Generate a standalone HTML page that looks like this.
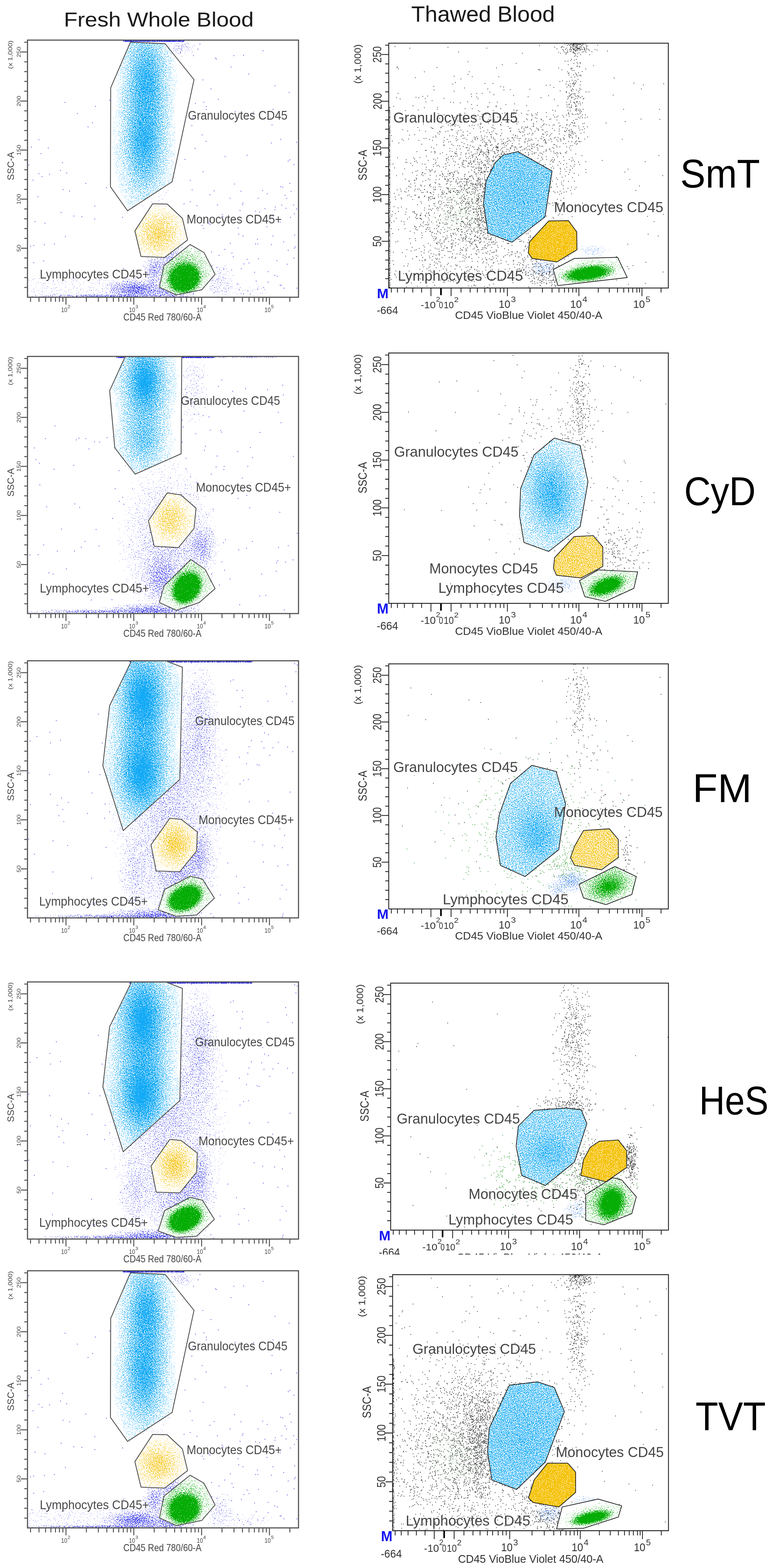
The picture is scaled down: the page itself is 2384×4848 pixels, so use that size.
<!DOCTYPE html><html><head><meta charset="utf-8"><title>Flow cytometry CD45 gating</title><style>html,body{margin:0;padding:0;background:#fff;width:2384px;height:4848px;overflow:hidden}svg{display:block}</style></head><body><svg width="2384" height="4848" viewBox="0 0 2384 4848" font-family="'Liberation Sans', Arial, sans-serif"><defs><radialGradient id="gg"><stop offset="0.00" stop-opacity="1.000"/><stop offset="0.10" stop-opacity="0.967"/><stop offset="0.20" stop-opacity="0.874"/><stop offset="0.30" stop-opacity="0.738"/><stop offset="0.40" stop-opacity="0.582"/><stop offset="0.50" stop-opacity="0.430"/><stop offset="0.60" stop-opacity="0.296"/><stop offset="0.70" stop-opacity="0.191"/><stop offset="0.80" stop-opacity="0.115"/><stop offset="0.90" stop-opacity="0.065"/><stop offset="1" stop-opacity="0"/></radialGradient><radialGradient id="gf"><stop offset="0" stop-opacity="1"/><stop offset="0.55" stop-opacity="1"/><stop offset="0.8" stop-opacity="0.45"/><stop offset="1" stop-opacity="0"/></radialGradient><radialGradient id="gs"><stop offset="0" stop-opacity="1"/><stop offset="0.7" stop-opacity="0.95"/><stop offset="0.85" stop-opacity="0.35"/><stop offset="1" stop-opacity="0"/></radialGradient><filter id="fcy" color-interpolation-filters="sRGB" x="-5%" y="-5%" width="110%" height="110%"><feTurbulence type="fractalNoise" baseFrequency="0.45 0.41" numOctaves="1" seed="11"/><feComponentTransfer><feFuncR type="table" tableValues="0 0 0 0 0 0 0 0.0001 0.0004 0.0014 0.0039 0.0125 0.0281 0.0512 0.0883 0.1274 0.1831 0.2411 0.3139 0.4138 0.4953 0.5905 0.6899 0.7621 0.8260 0.8706 0.9094 0.9452 0.9692 0.9857 0.9954 0.9982 0.9995 0.9999 1 1 1 1 1 1 1"/></feComponentTransfer><feColorMatrix type="matrix" values="0 0 0 0 0 0 0 0 0 0 0 0 0 0 0 1 0 0 0 0" result="na"/><feComposite in="SourceAlpha" in2="na" operator="arithmetic" k2="50" k3="-50" k4="0.3" result="t"/><feComponentTransfer in="t" result="th"><feFuncA type="discrete" tableValues="0 1"/></feComponentTransfer><feFlood flood-color="#14aaf5"/><feComposite operator="in" in2="th"/><feGaussianBlur stdDeviation="0.5"/></filter><filter id="fgo" color-interpolation-filters="sRGB" x="-5%" y="-5%" width="110%" height="110%"><feTurbulence type="fractalNoise" baseFrequency="0.45 0.41" numOctaves="1" seed="23"/><feComponentTransfer><feFuncR type="table" tableValues="0 0 0 0 0 0 0 0.0001 0.0004 0.0014 0.0039 0.0125 0.0281 0.0512 0.0883 0.1274 0.1831 0.2411 0.3139 0.4138 0.4953 0.5905 0.6899 0.7621 0.8260 0.8706 0.9094 0.9452 0.9692 0.9857 0.9954 0.9982 0.9995 0.9999 1 1 1 1 1 1 1"/></feComponentTransfer><feColorMatrix type="matrix" values="0 0 0 0 0 0 0 0 0 0 0 0 0 0 0 1 0 0 0 0" result="na"/><feComposite in="SourceAlpha" in2="na" operator="arithmetic" k2="50" k3="-50" k4="0.3" result="t"/><feComponentTransfer in="t" result="th"><feFuncA type="discrete" tableValues="0 1"/></feComponentTransfer><feFlood flood-color="#f4c000"/><feComposite operator="in" in2="th"/><feGaussianBlur stdDeviation="0.5"/></filter><filter id="fgr" color-interpolation-filters="sRGB" x="-5%" y="-5%" width="110%" height="110%"><feTurbulence type="fractalNoise" baseFrequency="0.45 0.41" numOctaves="1" seed="37"/><feComponentTransfer><feFuncR type="table" tableValues="0 0 0 0 0 0 0 0.0001 0.0004 0.0014 0.0039 0.0125 0.0281 0.0512 0.0883 0.1274 0.1831 0.2411 0.3139 0.4138 0.4953 0.5905 0.6899 0.7621 0.8260 0.8706 0.9094 0.9452 0.9692 0.9857 0.9954 0.9982 0.9995 0.9999 1 1 1 1 1 1 1"/></feComponentTransfer><feColorMatrix type="matrix" values="0 0 0 0 0 0 0 0 0 0 0 0 0 0 0 1 0 0 0 0" result="na"/><feComposite in="SourceAlpha" in2="na" operator="arithmetic" k2="50" k3="-50" k4="0.3" result="t"/><feComponentTransfer in="t" result="th"><feFuncA type="discrete" tableValues="0 1"/></feComponentTransfer><feFlood flood-color="#05ad05"/><feComposite operator="in" in2="th"/><feGaussianBlur stdDeviation="0.5"/></filter><filter id="fbl" color-interpolation-filters="sRGB" x="-5%" y="-5%" width="110%" height="110%"><feTurbulence type="fractalNoise" baseFrequency="0.45 0.41" numOctaves="1" seed="41"/><feComponentTransfer><feFuncR type="table" tableValues="0 0 0 0 0 0 0 0.0001 0.0004 0.0014 0.0039 0.0125 0.0281 0.0512 0.0883 0.1274 0.1831 0.2411 0.3139 0.4138 0.4953 0.5905 0.6899 0.7621 0.8260 0.8706 0.9094 0.9452 0.9692 0.9857 0.9954 0.9982 0.9995 0.9999 1 1 1 1 1 1 1"/></feComponentTransfer><feColorMatrix type="matrix" values="0 0 0 0 0 0 0 0 0 0 0 0 0 0 0 1 0 0 0 0" result="na"/><feComposite in="SourceAlpha" in2="na" operator="arithmetic" k2="50" k3="-50" k4="0.3" result="t"/><feComponentTransfer in="t" result="th"><feFuncA type="discrete" tableValues="0 1"/></feComponentTransfer><feFlood flood-color="#2222e8"/><feComposite operator="in" in2="th"/><feGaussianBlur stdDeviation="0.5"/></filter><filter id="fbk" color-interpolation-filters="sRGB" x="-5%" y="-5%" width="110%" height="110%"><feTurbulence type="fractalNoise" baseFrequency="0.45 0.41" numOctaves="1" seed="53"/><feComponentTransfer><feFuncR type="table" tableValues="0 0 0 0 0 0 0 0.0001 0.0004 0.0014 0.0039 0.0125 0.0281 0.0512 0.0883 0.1274 0.1831 0.2411 0.3139 0.4138 0.4953 0.5905 0.6899 0.7621 0.8260 0.8706 0.9094 0.9452 0.9692 0.9857 0.9954 0.9982 0.9995 0.9999 1 1 1 1 1 1 1"/></feComponentTransfer><feColorMatrix type="matrix" values="0 0 0 0 0 0 0 0 0 0 0 0 0 0 0 1 0 0 0 0" result="na"/><feComposite in="SourceAlpha" in2="na" operator="arithmetic" k2="50" k3="-50" k4="0.3" result="t"/><feComponentTransfer in="t" result="th"><feFuncA type="discrete" tableValues="0 1"/></feComponentTransfer><feFlood flood-color="#1a1a1a"/><feComposite operator="in" in2="th"/><feGaussianBlur stdDeviation="0.5"/></filter><filter id="flb" color-interpolation-filters="sRGB" x="-5%" y="-5%" width="110%" height="110%"><feTurbulence type="fractalNoise" baseFrequency="0.45 0.41" numOctaves="1" seed="67"/><feComponentTransfer><feFuncR type="table" tableValues="0 0 0 0 0 0 0 0.0001 0.0004 0.0014 0.0039 0.0125 0.0281 0.0512 0.0883 0.1274 0.1831 0.2411 0.3139 0.4138 0.4953 0.5905 0.6899 0.7621 0.8260 0.8706 0.9094 0.9452 0.9692 0.9857 0.9954 0.9982 0.9995 0.9999 1 1 1 1 1 1 1"/></feComponentTransfer><feColorMatrix type="matrix" values="0 0 0 0 0 0 0 0 0 0 0 0 0 0 0 1 0 0 0 0" result="na"/><feComposite in="SourceAlpha" in2="na" operator="arithmetic" k2="50" k3="-50" k4="0.3" result="t"/><feComponentTransfer in="t" result="th"><feFuncA type="discrete" tableValues="0 1"/></feComponentTransfer><feFlood flood-color="#3a7ff0"/><feComposite operator="in" in2="th"/><feGaussianBlur stdDeviation="0.5"/></filter><filter id="fdg" color-interpolation-filters="sRGB" x="-5%" y="-5%" width="110%" height="110%"><feTurbulence type="fractalNoise" baseFrequency="0.45 0.41" numOctaves="1" seed="71"/><feComponentTransfer><feFuncR type="table" tableValues="0 0 0 0 0 0 0 0.0001 0.0004 0.0014 0.0039 0.0125 0.0281 0.0512 0.0883 0.1274 0.1831 0.2411 0.3139 0.4138 0.4953 0.5905 0.6899 0.7621 0.8260 0.8706 0.9094 0.9452 0.9692 0.9857 0.9954 0.9982 0.9995 0.9999 1 1 1 1 1 1 1"/></feComponentTransfer><feColorMatrix type="matrix" values="0 0 0 0 0 0 0 0 0 0 0 0 0 0 0 1 0 0 0 0" result="na"/><feComposite in="SourceAlpha" in2="na" operator="arithmetic" k2="50" k3="-50" k4="0.3" result="t"/><feComponentTransfer in="t" result="th"><feFuncA type="discrete" tableValues="0 1"/></feComponentTransfer><feFlood flood-color="#2a9a2a"/><feComposite operator="in" in2="th"/><feGaussianBlur stdDeviation="0.5"/></filter><clipPath id="L0F"><rect x="85" y="124" width="838" height="795"/></clipPath><clipPath id="L0g"><polygon points="403.4,130.1 510.7,135.2 599.9,246.3 532.2,562 394.5,651.7 341.5,577.2 342.2,271.6"/></clipPath><clipPath id="L0m"><polygon points="472,630 517,631 564,675 580,742 509,796 436,793 417,714"/></clipPath><clipPath id="L0l"><polygon points="588,756 631,781 665,848 624,896 545,912 493,888 507,821"/></clipPath><mask id="L0M" maskUnits="userSpaceOnUse" x="85" y="124" width="838" height="795"><rect x="85" y="124" width="838" height="795" fill="#fff"/><polygon points="403.4,130.1 510.7,135.2 599.9,246.3 532.2,562 394.5,651.7 341.5,577.2 342.2,271.6" fill="#000"/><polygon points="472,630 517,631 564,675 580,742 509,796 436,793 417,714" fill="#000"/><polygon points="588,756 631,781 665,848 624,896 545,912 493,888 507,821" fill="#000"/></mask><clipPath id="L1F"><rect x="85" y="1102" width="838" height="795"/></clipPath><clipPath id="L1g"><polygon points="387,1103 562,1103 560,1403 418,1466 355,1385 339,1208"/></clipPath><clipPath id="L1m"><polygon points="517,1524 559,1530 606,1571 600,1634 552,1693 477,1689 459,1610"/></clipPath><clipPath id="L1l"><polygon points="590,1730 634,1760 665,1820 616,1863 545,1887 493,1863 507,1812"/></clipPath><mask id="L1M" maskUnits="userSpaceOnUse" x="85" y="1102" width="838" height="795"><rect x="85" y="1102" width="838" height="795" fill="#fff"/><polygon points="387,1103 562,1103 560,1403 418,1466 355,1385 339,1208" fill="#000"/><polygon points="517,1524 559,1530 606,1571 600,1634 552,1693 477,1689 459,1610" fill="#000"/><polygon points="590,1730 634,1760 665,1820 616,1863 545,1887 493,1863 507,1812" fill="#000"/></mask><clipPath id="L2F"><rect x="85" y="2043" width="838" height="795"/></clipPath><clipPath id="L2g"><polygon points="406.5,2043.4 513,2043.4 564,2063 556,2410 381,2568 318,2367 339,2181.5"/></clipPath><clipPath id="L2m"><polygon points="525,2530 560,2533 610,2572 608,2631 556,2695 483,2693 467,2612"/></clipPath><clipPath id="L2l"><polygon points="588,2709 626,2718 663,2777 608,2829 545,2833 489,2813 509,2750"/></clipPath><mask id="L2M" maskUnits="userSpaceOnUse" x="85" y="2043" width="838" height="795"><rect x="85" y="2043" width="838" height="795" fill="#fff"/><polygon points="406.5,2043.4 513,2043.4 564,2063 556,2410 381,2568 318,2367 339,2181.5" fill="#000"/><polygon points="525,2530 560,2533 610,2572 608,2631 556,2695 483,2693 467,2612" fill="#000"/><polygon points="588,2709 626,2718 663,2777 608,2829 545,2833 489,2813 509,2750" fill="#000"/></mask><clipPath id="L3F"><rect x="85" y="3036" width="838" height="795"/></clipPath><clipPath id="L3g"><polygon points="406.5,3036.4 513,3036.4 564,3056 556,3403 381,3561 318,3360 339,3174.5"/></clipPath><clipPath id="L3m"><polygon points="525,3523 560,3526 610,3565 608,3624 556,3688 483,3686 467,3605"/></clipPath><clipPath id="L3l"><polygon points="588,3702 626,3711 663,3770 608,3822 545,3826 489,3806 509,3743"/></clipPath><mask id="L3M" maskUnits="userSpaceOnUse" x="85" y="3036" width="838" height="795"><rect x="85" y="3036" width="838" height="795" fill="#fff"/><polygon points="406.5,3036.4 513,3036.4 564,3056 556,3403 381,3561 318,3360 339,3174.5" fill="#000"/><polygon points="525,3523 560,3526 610,3565 608,3624 556,3688 483,3686 467,3605" fill="#000"/><polygon points="588,3702 626,3711 663,3770 608,3822 545,3826 489,3806 509,3743" fill="#000"/></mask><clipPath id="L4F"><rect x="85" y="3929" width="838" height="795"/></clipPath><clipPath id="L4g"><polygon points="403.4,3935.1 510.7,3940.2 599.9,4051.3 532.2,4367 394.5,4456.7 341.5,4382.2 342.2,4076.6"/></clipPath><clipPath id="L4m"><polygon points="472,4435 517,4436 564,4480 580,4547 509,4601 436,4598 417,4519"/></clipPath><clipPath id="L4l"><polygon points="588,4561 631,4586 665,4653 624,4701 545,4717 493,4693 507,4626"/></clipPath><mask id="L4M" maskUnits="userSpaceOnUse" x="85" y="3929" width="838" height="795"><rect x="85" y="3929" width="838" height="795" fill="#fff"/><polygon points="403.4,3935.1 510.7,3940.2 599.9,4051.3 532.2,4367 394.5,4456.7 341.5,4382.2 342.2,4076.6" fill="#000"/><polygon points="472,4435 517,4436 564,4480 580,4547 509,4601 436,4598 417,4519" fill="#000"/><polygon points="588,4561 631,4586 665,4653 624,4701 545,4717 493,4693 507,4626" fill="#000"/></mask><clipPath id="R0F"><rect x="1202" y="133.5" width="864.5" height="757"/></clipPath><clipPath id="R0g"><polygon points="1556,479 1601,469 1707,529 1685,671 1583,749 1509,721 1495,629 1503,560 1531,503"/></clipPath><clipPath id="R0m"><polygon points="1696.6,683.2 1757.7,682.1 1783.3,716.7 1784.1,772.1 1722.2,809.9 1645.5,799.1 1633.5,782.1 1637,748"/></clipPath><clipPath id="R0l"><polygon points="1710.8,833.2 1776.2,799.1 1909.7,795.7 1939.6,858.2 1725,883"/></clipPath><mask id="R0M" maskUnits="userSpaceOnUse" x="1202" y="133.5" width="864.5" height="757"><rect x="1202" y="133.5" width="864.5" height="757" fill="#fff"/><polygon points="1556,479 1601,469 1707,529 1685,671 1583,749 1509,721 1495,629 1503,560 1531,503" fill="#000"/><polygon points="1696.6,683.2 1757.7,682.1 1783.3,716.7 1784.1,772.1 1722.2,809.9 1645.5,799.1 1633.5,782.1 1637,748" fill="#000"/><polygon points="1710.8,833.2 1776.2,799.1 1909.7,795.7 1939.6,858.2 1725,883" fill="#000"/></mask><clipPath id="R1F"><rect x="1202" y="1091.4" width="864.5" height="774.1"/></clipPath><clipPath id="R1g"><polygon points="1714,1354.3 1793.8,1377.3 1818.1,1489.8 1793.8,1628.7 1696.6,1705 1620.2,1677.3 1606.3,1594 1609.8,1510.6 1651.4,1406.4"/></clipPath><clipPath id="R1m"><polygon points="1775.2,1659.1 1834.4,1656 1864,1691 1864,1751.4 1796.6,1787 1720.8,1778.7 1711.3,1757.3 1714.9,1724.2"/></clipPath><clipPath id="R1l"><polygon points="1791.8,1795.2 1850,1762 1971.8,1768 1960,1818.9 1872.3,1859.2 1808.4,1845"/></clipPath><mask id="R1M" maskUnits="userSpaceOnUse" x="1202" y="1091.4" width="864.5" height="774.1"><rect x="1202" y="1091.4" width="864.5" height="774.1" fill="#fff"/><polygon points="1714,1354.3 1793.8,1377.3 1818.1,1489.8 1793.8,1628.7 1696.6,1705 1620.2,1677.3 1606.3,1594 1609.8,1510.6 1651.4,1406.4" fill="#000"/><polygon points="1775.2,1659.1 1834.4,1656 1864,1691 1864,1751.4 1796.6,1787 1720.8,1778.7 1711.3,1757.3 1714.9,1724.2" fill="#000"/><polygon points="1791.8,1795.2 1850,1762 1971.8,1768 1960,1818.9 1872.3,1859.2 1808.4,1845" fill="#000"/></mask><clipPath id="R2F"><rect x="1202" y="2052.6" width="864.5" height="757.7"/></clipPath><clipPath id="R2g"><polygon points="1644.5,2366.4 1719.5,2385.2 1748.7,2484.5 1727.8,2626.9 1623.7,2710.2 1547.3,2675.5 1533.4,2588.7 1543.8,2519.2 1578.5,2422"/></clipPath><clipPath id="R2m"><polygon points="1804.2,2567.8 1884.1,2562.3 1911.9,2595.6 1911.9,2651.2 1859.8,2689.4 1776.5,2675.5 1764,2651.2 1776.5,2616.5"/></clipPath><clipPath id="R2l"><polygon points="1790.4,2734.5 1901.5,2679 1967.5,2710.2 1953.6,2765.8 1873.7,2797 1804.2,2776.2"/></clipPath><mask id="R2M" maskUnits="userSpaceOnUse" x="1202" y="2052.6" width="864.5" height="757.7"><rect x="1202" y="2052.6" width="864.5" height="757.7" fill="#fff"/><polygon points="1644.5,2366.4 1719.5,2385.2 1748.7,2484.5 1727.8,2626.9 1623.7,2710.2 1547.3,2675.5 1533.4,2588.7 1543.8,2519.2 1578.5,2422" fill="#000"/><polygon points="1804.2,2567.8 1884.1,2562.3 1911.9,2595.6 1911.9,2651.2 1859.8,2689.4 1776.5,2675.5 1764,2651.2 1776.5,2616.5" fill="#000"/><polygon points="1790.4,2734.5 1901.5,2679 1967.5,2710.2 1953.6,2765.8 1873.7,2797 1804.2,2776.2" fill="#000"/></mask><clipPath id="R3F"><rect x="1208" y="3039.7" width="859" height="763.6"/></clipPath><clipPath id="R3g"><polygon points="1651.5,3432.8 1748.7,3425.9 1797.3,3431.4 1814.7,3474.5 1776.5,3592.6 1686.2,3665.5 1613.3,3634.2 1595.9,3544 1602.8,3481.5"/></clipPath><clipPath id="R3m"><polygon points="1852.9,3528.7 1911.9,3524.5 1937.6,3557.8 1937.6,3610 1873.7,3653.7 1795.9,3634.2 1804.2,3585.6 1825.1,3547.4"/></clipPath><clipPath id="R3l"><polygon points="1811.2,3693.3 1894.5,3641.2 1922.3,3648.1 1967.5,3700.2 1953.6,3752.3 1866.7,3787 1811.2,3773.2"/></clipPath><mask id="R3M" maskUnits="userSpaceOnUse" x="1208" y="3039.7" width="859" height="763.6"><rect x="1208" y="3039.7" width="859" height="763.6" fill="#fff"/><polygon points="1651.5,3432.8 1748.7,3425.9 1797.3,3431.4 1814.7,3474.5 1776.5,3592.6 1686.2,3665.5 1613.3,3634.2 1595.9,3544 1602.8,3481.5" fill="#000"/><polygon points="1852.9,3528.7 1911.9,3524.5 1937.6,3557.8 1937.6,3610 1873.7,3653.7 1795.9,3634.2 1804.2,3585.6 1825.1,3547.4" fill="#000"/><polygon points="1811.2,3693.3 1894.5,3641.2 1922.3,3648.1 1967.5,3700.2 1953.6,3752.3 1866.7,3787 1811.2,3773.2" fill="#000"/></mask><clipPath id="R4F"><rect x="1214" y="3941" width="853" height="791.7"/></clipPath><clipPath id="R4g"><polygon points="1575,4282.8 1661.9,4272.4 1714,4289.8 1745.2,4364.1 1686.2,4520.4 1597.3,4605.1 1520.9,4575.9 1507.7,4489.1 1512.5,4416.2"/></clipPath><clipPath id="R4m"><polygon points="1693.1,4523.8 1755.6,4523.8 1779.9,4551.6 1779.9,4614.1 1727.9,4659.3 1648,4645.4 1634.1,4631.5 1651.5,4575.9"/></clipPath><clipPath id="R4l"><polygon points="1738.3,4659.3 1849.4,4634.9 1922.3,4655.8 1911.9,4690.5 1804.2,4725.2 1720.9,4727.3"/></clipPath><mask id="R4M" maskUnits="userSpaceOnUse" x="1214" y="3941" width="853" height="791.7"><rect x="1214" y="3941" width="853" height="791.7" fill="#fff"/><polygon points="1575,4282.8 1661.9,4272.4 1714,4289.8 1745.2,4364.1 1686.2,4520.4 1597.3,4605.1 1520.9,4575.9 1507.7,4489.1 1512.5,4416.2" fill="#000"/><polygon points="1693.1,4523.8 1755.6,4523.8 1779.9,4551.6 1779.9,4614.1 1727.9,4659.3 1648,4645.4 1634.1,4631.5 1651.5,4575.9" fill="#000"/><polygon points="1738.3,4659.3 1849.4,4634.9 1922.3,4655.8 1911.9,4690.5 1804.2,4725.2 1720.9,4727.3" fill="#000"/></mask></defs><g clip-path="url(#L0F)"><g clip-path="url(#L0g)"><g filter="url(#fcy)"><ellipse cx="452" cy="250" rx="98" ry="245" fill="url(#gg)" fill-opacity="0.850"/><ellipse cx="446" cy="440" rx="102" ry="250" fill="url(#gg)" fill-opacity="0.850"/></g></g><g clip-path="url(#L0m)"><g filter="url(#fgo)"><ellipse cx="490" cy="722" rx="95" ry="95" fill="url(#gg)" fill-opacity="0.500"/></g></g><g clip-path="url(#L0l)"><g filter="url(#fgr)"><ellipse cx="565" cy="842" rx="110" ry="95" transform="rotate(-20 565 842)" fill="url(#gg)" fill-opacity="0.500"/><ellipse cx="570" cy="860" rx="60" ry="54" transform="rotate(-25 570 860)" fill="url(#gs)" fill-opacity="1.000"/></g></g><g mask="url(#L0M)"><g filter="url(#fbl)"><rect x="85" y="860" width="480" height="59" fill-opacity="0.020"/><ellipse cx="420" cy="895" rx="110" ry="35" fill="url(#gg)" fill-opacity="0.550"/><ellipse cx="525" cy="905" rx="80" ry="25" fill="url(#gg)" fill-opacity="0.350"/><ellipse cx="330" cy="916" rx="300" ry="8" fill="url(#gg)" fill-opacity="0.450"/><ellipse cx="478" cy="835" rx="40" ry="60" fill="url(#gg)" fill-opacity="0.300"/><ellipse cx="530" cy="800" rx="60" ry="50" fill="url(#gg)" fill-opacity="0.250"/><ellipse cx="680" cy="870" rx="55" ry="70" fill="url(#gg)" fill-opacity="0.080"/><ellipse cx="760" cy="895" rx="150" ry="35" fill="url(#gg)" fill-opacity="0.020"/><ellipse cx="450" cy="420" rx="150" ry="330" fill="url(#gg)" fill-opacity="0.030"/><rect x="380" y="124" width="190" height="5" fill-opacity="0.900"/><ellipse cx="560" cy="150" rx="50" ry="30" fill="url(#gg)" fill-opacity="0.100"/></g><path d="M0 0m724 569h2.3m168.7 -75h2.3m-153.3 97h2.3m-119.3 -60h2.3m159.7 223h2.3m-197.3 -389h2.3m-3.3 403h2.3m216.7 -611h2.3m102.7 734h2.3m-122.3 -278h2.3m-182.3 -477h2.3m132.7 35h2.3m-125.3 145h2.3m-60.3 177h2.3m146.7 301h2.3m25.7 -161h2.3m-9.3 18h2.3m-17.3 -306h2.3m193.7 571h2.3m-59.3 -229h2.3m-193.3 -380h2.3m-11.3 -127h2.3m170.7 262h2.3m26.7 -11h2.3m38.7 367h2.3m-350.3 -507h2.3m327.7 207h2.3m23.7 -58h2.3m-331.3 184h2.3m253.7 -286h2.3m-253.3 50h2.3m315.7 339h2.3m-309.3 -407h2.3m-8.3 -148h2.3m249.7 93h2.3m-88.3 215h2.3m-136.3 226h2.3m-23.3 -70h2.3m-8.3 -177h2.3m32.7 -121h2.3m272.7 425h2.3m-244.3 64h2.3m-36.3 -390h2.3m231.7 197h2.3m-276.3 276h2.3m38.7 -581h2.3m200.7 57h2.3m-174.3 -204h2.3m-77.3 405h2.3m52.7 15h2.3m44.7 -118h2.3m210.7 25h2.3m-141.3 304h2.3m-145.3 -566h2.3m261.7 527h2.3m-241.3 -499h2.3m174.7 597h2.3m-199.3 7h2.3m246.7 -275h2.3m-169.3 -397h2.3m-141.3 682h2.3m70.7 -205h2.3m3.7 95h2.3m121.7 -422h2.3m-155.3 340h2.3m-41.3 -391h2.3m175.7 496h2.3m17.7 -455h2.3m107.7 -61h2.3m-329.3 52h2.3m153.7 -166h2.3m-100.3 245h2.3m141.7 -188h2.3m-79.3 603h2.3m222.7 -186h2.3m-107.3 -57h2.3m-202.3 -437h2.3m-47.3 696h2.3m245.7 41h2.3m-248.3 -259h2.3m164.7 75h2.3m-61.3 213h2.3m-91.3 -360h2.3m238.7 282h2.3m-2.3 -157h2.3m17.7 168h2.3m-162.3 -182h2.3m196.7 148h2.3m-178.3 -65h2.3m159.7 -173h2.3m-648.3 89h2.3m55.7 -288h2.3m-199.3 130h2.3m76.7 244h2.3m122.7 -117h2.3m-42.3 33h2.3m-125.3 -124h2.3m2.7 261h2.3m-33.3 -48h2.3m1.7 -74h2.3m76.7 -158h2.3m149.7 -217h2.3m-237.3 502h2.3m132.7 -461h2.3m140.7 479h2.3m-264.3 -293h2.3m4.7 -62h2.3m142.7 -83h2.3m20.7 -63h2.3m-160.3 428h2.3m66.7 -222h2.3m56.7 32h2.3m-66.3 -250h2.3m100.7 525h2.3m72.7 -170h2.3m-188.3 -169h2.3m97.7 174h2.3m-175.3 -245h2.3m72.7 154h2.3m131.7 -6h2.3m-237.3 181h2.3m118.7 -170h2.3m-64.3 -52h2.3m46.7 193h2.3m-87.3 -124h2.3m19.7 82h2.3m-44.3 -235h2.3m89.7 202h2.3m-89.3 -100h2.3m44.7 -99h2.3m635.7 384h2.3m120.7 -181h2.3m-56.3 145h2.3m-32.3 -207h2.3m-179.3 95h2.3m198.7 -46h2.3m-71.3 23h2.3m94.7 220h2.3m-127.3 18h2.3m-97.3 -65h2.3m225.7 -231h2.3m-49.3 143h2.3m66.7 -122h2.3m-118.3 235h2.3m25.7 -201h2.3m-158.3 221h2.3m107.7 20h2.3m-95.3 -65h2.3m185.7 38h2.3m-225.3 -192h2.3m6.7 133h2.3m82.7 73h2.3m3.7 -65h2.3m135.7 -187h2.3m-89.3 251h2.3m-10.3 -209h2.3m-75.3 149h2.3m-23.3 -64h2.3m99.7 -17h2.3m-122.3 36h2.3m218.7 -118h2.3m-166.3 206h2.3m66.7 -223h2.3m-161.3 169h2.3m91.7 -100h2.3m-23.3 58h2.3m125.7 -114h2.3m-185.3 237h2.3m231.7 -338h2.3m-99.3 233h2.3m-47.3 16h2.3m153.7 -49h2.3m-161.3 -139h2.3m-42.3 -15h2.3m-41.3 21h2.3m202.7 114h2.3m-13.3 134h2.3m-0.3 -305h2.3m29.7 15h2.3m-45.3 262h2.3m-34.3 -153h2.3m-165.3 -111h2.3m154.7 55h2.3m-31.3 8h2.3m-105.3 10h2.3m154.7 67h2.3m-95.3 0h2.3m42.7 10h2.3m-32.3 159h2.3m82.7 -259h2.3" stroke="#2222e8" stroke-width="2.3" fill="none" opacity="0.8"/></g></g><polygon points="403.4,130.1 510.7,135.2 599.9,246.3 532.2,562 394.5,651.7 341.5,577.2 342.2,271.6" fill="none" stroke="#505050" stroke-width="2.6" stroke-linejoin="round"/><polygon points="472,630 517,631 564,675 580,742 509,796 436,793 417,714" fill="none" stroke="#505050" stroke-width="2.6" stroke-linejoin="round"/><polygon points="588,756 631,781 665,848 624,896 545,912 493,888 507,821" fill="none" stroke="#505050" stroke-width="2.6" stroke-linejoin="round"/><text x="581" y="370.3" font-size="39" textLength="308" lengthAdjust="spacingAndGlyphs" fill="#4a4a4a">Granulocytes CD45</text><text x="577" y="691" font-size="39" textLength="294" lengthAdjust="spacingAndGlyphs" fill="#4a4a4a">Monocytes CD45+</text><text x="123" y="861" font-size="39" textLength="338" lengthAdjust="spacingAndGlyphs" fill="#4a4a4a">Lymphocytes CD45+</text><g clip-path="url(#L1F)"><g clip-path="url(#L1g)"><g filter="url(#fcy)"><ellipse cx="448" cy="1180" rx="105" ry="210" fill="url(#gg)" fill-opacity="1.000"/><ellipse cx="446" cy="1360" rx="100" ry="150" fill="url(#gg)" fill-opacity="0.550"/></g></g><g clip-path="url(#L1m)"><g filter="url(#fgo)"><ellipse cx="527" cy="1606" rx="85" ry="100" fill="url(#gg)" fill-opacity="0.450"/></g></g><g clip-path="url(#L1l)"><g filter="url(#fgr)"><ellipse cx="575" cy="1800" rx="100" ry="90" transform="rotate(-50 575 1800)" fill="url(#gg)" fill-opacity="0.500"/><ellipse cx="578" cy="1818" rx="62" ry="48" transform="rotate(-55 578 1818)" fill="url(#gs)" fill-opacity="1.000"/></g></g><g mask="url(#L1M)"><g filter="url(#fbl)"><ellipse cx="520" cy="1680" rx="170" ry="260" fill="url(#gg)" fill-opacity="0.120"/><ellipse cx="625" cy="1690" rx="50" ry="80" fill="url(#gg)" fill-opacity="0.250"/><ellipse cx="500" cy="1790" rx="70" ry="90" fill="url(#gg)" fill-opacity="0.300"/><ellipse cx="470" cy="1888" rx="170" ry="25" fill="url(#gg)" fill-opacity="0.450"/><ellipse cx="300" cy="1891" rx="250" ry="8" fill="url(#gg)" fill-opacity="0.350"/><rect x="360" y="1102" width="300" height="5" fill-opacity="0.850"/><ellipse cx="600" cy="1150" rx="60" ry="60" fill="url(#gg)" fill-opacity="0.030"/><ellipse cx="600" cy="1220" rx="50" ry="110" fill="url(#gg)" fill-opacity="0.050"/><rect x="560" y="1102" width="300" height="4" fill-opacity="0.250"/><ellipse cx="450" cy="1300" rx="150" ry="250" fill="url(#gg)" fill-opacity="0.030"/></g><path d="M0 0m654 1645h2.3m151.7 130h2.3m-183.3 -490h2.3m-16.3 -5h2.3m210.7 -75h2.3m-75.3 66h2.3m-88.3 173h2.3m194.7 140h2.3m-301.3 -264h2.3m45.7 472h2.3m238.7 -52h2.3m3.7 -48h2.3m42.7 39h2.3m-254.3 44h2.3m81.7 -75h2.3m25.7 -258h2.3m-75.3 0h2.3m-20.3 -247h2.3m181.7 539h2.3m57.7 -85h2.3m-159.3 46h2.3m-154.3 -57h2.3m109.7 -396h2.3m-89.3 274h2.3m15.7 -50h2.3m125.7 -51h2.3m-175.3 76h2.3m35.7 -202h2.3m-16.3 103h2.3m-46.3 226h2.3m316.7 -207h2.3m-87.3 430h2.3m-247.3 -627h2.3m274.7 552h2.3m-63.3 -537h2.3m-84.3 561h2.3m169.7 -52h2.3m-250.3 40h2.3m59.7 -109h2.3m-88.3 202h2.3m166.7 -197h2.3m-144.3 -83h2.3m131.7 -21h2.3m-83.3 108h2.3m-8.3 -342h2.3m-66.3 308h2.3m-21.3 -363h2.3m-18.3 331h2.3m174.7 -80h2.3m-190.3 -82h2.3m108.7 -275h2.3m-126.3 717h2.3m40.7 -551h2.3m51.7 234h2.3m-72.3 -101h2.3m102.7 289h2.3m-133.3 -396h2.3m175.7 503h2.3m5.7 -392h2.3m52.7 -141h2.3m-233.3 162h2.3m315.7 188h2.3m-238.3 -43h2.3m211.7 -337h2.3m-97.3 77h2.3m-126.3 -54h2.3m-17.3 50h2.3m-62.3 37h2.3m14.7 285h2.3m184.7 -597h2.3m60.7 148h2.3m-108.3 288h2.3m-56.3 -210h2.3m34.7 -121h2.3m152.7 -19h2.3m-16.3 84h2.3m-191.3 135h2.3m-100.3 -206h2.3m116.7 248h2.3m184.7 434h2.3m-304.3 -360h2.3m28.7 213h2.3m67.7 70h2.3m78.7 -607h2.3m-198.3 97h2.3m310.7 -78h2.3m-143.3 175h2.3m-51.3 341h2.3m-49.3 -66h2.3m161.7 172h2.3m-687.3 -128h2.3m161.7 140h2.3m-117.3 -404h2.3m136.7 237h2.3m-131.3 16h2.3m25.7 55h2.3m-85.3 -327h2.3m231.7 79h2.3m-194.3 264h2.3m108.7 -387h2.3m-26.3 304h2.3m-118.3 -7h2.3m-14.3 -186h2.3m-14.3 -78h2.3m265.7 117h2.3m1.7 21h2.3m-117.3 256h2.3m21.7 -449h2.3m-31.3 308h2.3m-125.3 -318h2.3m205.7 247h2.3m-206.3 -36h2.3m4.7 204h2.3m82.7 -411h2.3m92.7 -7h2.3m-163.3 -36h2.3m135.7 50h2.3m-66.3 -12h2.3m-16.3 349h2.3m13.7 -135h2.3m-17.3 -11h2.3m31.7 -202h2.3m-39.3 83h2.3m115.7 415h2.3m-242.3 -469h2.3m188.7 252h2.3m-207.3 79h2.3m274.7 -166h2.3m-181.3 86h2.3m175.7 -181h2.3" stroke="#2222e8" stroke-width="2.3" fill="none" opacity="0.8"/></g></g><polygon points="387,1103 562,1103 560,1403 418,1466 355,1385 339,1208" fill="none" stroke="#505050" stroke-width="2.6" stroke-linejoin="round"/><polygon points="517,1524 559,1530 606,1571 600,1634 552,1693 477,1689 459,1610" fill="none" stroke="#505050" stroke-width="2.6" stroke-linejoin="round"/><polygon points="590,1730 634,1760 665,1820 616,1863 545,1887 493,1863 507,1812" fill="none" stroke="#505050" stroke-width="2.6" stroke-linejoin="round"/><text x="559" y="1252" font-size="39" textLength="307" lengthAdjust="spacingAndGlyphs" fill="#4a4a4a">Granulocytes CD45</text><text x="606" y="1520" font-size="39" textLength="294" lengthAdjust="spacingAndGlyphs" fill="#4a4a4a">Monocytes CD45+</text><text x="123" y="1832" font-size="39" textLength="338" lengthAdjust="spacingAndGlyphs" fill="#4a4a4a">Lymphocytes CD45+</text><g clip-path="url(#L2F)"><g clip-path="url(#L2g)"><g filter="url(#fcy)"><ellipse cx="442" cy="2160" rx="125" ry="260" fill="url(#gg)" fill-opacity="1.000"/><ellipse cx="438" cy="2390" rx="125" ry="220" fill="url(#gg)" fill-opacity="1.000"/><ellipse cx="445" cy="2300" rx="80" ry="300" fill="url(#gg)" fill-opacity="0.300"/></g></g><g clip-path="url(#L2m)"><g filter="url(#fgo)"><ellipse cx="541" cy="2608" rx="85" ry="100" fill="url(#gg)" fill-opacity="0.600"/></g></g><g clip-path="url(#L2l)"><g filter="url(#fgr)"><ellipse cx="575" cy="2765" rx="100" ry="80" transform="rotate(-30 575 2765)" fill="url(#gg)" fill-opacity="0.450"/><ellipse cx="572" cy="2777" rx="66" ry="44" transform="rotate(-25 572 2777)" fill="url(#gs)" fill-opacity="1.000"/></g></g><g mask="url(#L2M)"><g filter="url(#fbl)"><ellipse cx="520" cy="2450" rx="200" ry="430" fill="url(#gg)" fill-opacity="0.130"/><ellipse cx="620" cy="2250" rx="60" ry="230" fill="url(#gg)" fill-opacity="0.120"/><ellipse cx="560" cy="2700" rx="120" ry="160" fill="url(#gg)" fill-opacity="0.200"/><ellipse cx="615" cy="2640" rx="45" ry="90" fill="url(#gg)" fill-opacity="0.220"/><ellipse cx="420" cy="2700" rx="60" ry="140" fill="url(#gg)" fill-opacity="0.100"/><ellipse cx="480" cy="2830" rx="170" ry="25" fill="url(#gg)" fill-opacity="0.450"/><ellipse cx="330" cy="2833" rx="250" ry="8" fill="url(#gg)" fill-opacity="0.350"/><rect x="400" y="2043" width="380" height="5" fill-opacity="0.850"/></g><path d="M0 0m910 2052h2.3m-85.3 116h2.3m88.7 -112h2.3m-41.3 527h2.3m-10.3 253h2.3m-226.3 -525h2.3m167.7 -45h2.3m-163.3 -42h2.3m212.7 513h2.3m-23.3 -517h2.3m43.7 229h2.3m-254.3 -45h2.3m65.7 -298h2.3m50.7 222h2.3m-0.3 453h2.3m24.7 -417h2.3m76.7 468h2.3m-137.3 -40h2.3m-173.3 -638h2.3m53.7 633h2.3m185.7 -174h2.3m-149.3 -177h2.3m215.7 -314h2.3m-282.3 -41h2.3m125.7 629h2.3m28.7 -349h2.3m-21.3 -176h2.3m159.7 139h2.3m-261.3 -34h2.3m211.7 5h2.3m26.7 15h2.3m-170.3 -208h2.3m166.7 572h2.3m-159.3 -539h2.3m4.7 206h2.3m123.7 438h2.3m-38.3 -508h2.3m-256.3 481h2.3m325.7 -583h2.3m-164.3 255h2.3m170.7 -347h2.3m-334.3 635h2.3m182.7 -302h2.3m72.7 104h2.3m-33.3 -268h2.3m-222.3 -196h2.3m87.7 507h2.3m14.7 -239h2.3m84.7 284h2.3m-11.3 -312h2.3m79.7 388h2.3m23.7 73h2.3m-321.3 -177h2.3m118.7 -223h2.3m59.7 -194h2.3m-99.3 668h2.3m26.7 -58h2.3m125.7 -474h2.3m-134.3 230h2.3m136.7 -210h2.3m-236.3 -133h2.3m288.7 441h2.3m-275.3 84h2.3m167.7 -396h2.3m113.7 -164h2.3m-291.3 170h2.3m229.7 162h2.3m-94.3 285h2.3m-35.3 -94h2.3m-143.3 -4h2.3m51.7 -101h2.3m245.7 0h2.3m-96.3 -84h2.3m60.7 -144h2.3m-190.3 150h2.3m101.7 -350h2.3m0.7 278h2.3m-137.3 191h2.3m223.7 -292h2.3m28.7 514h2.3m-76.3 -460h2.3m-143.3 -220h2.3m-2.3 689h2.3m-79.3 -65h2.3m228.7 -105h2.3m-219.3 -110h2.3m35.7 25h2.3m211.7 35h2.3m-96.3 129h2.3m-113.3 -576h2.3m-452.3 335h2.3m14.7 -22h2.3m-4.3 133h2.3m-47.3 -14h2.3m-77.3 -210h2.3m95.7 -101h2.3m119.7 106h2.3m11.7 407h2.3m-163.3 -39h2.3m163.7 -143h2.3m-236.3 -132h2.3m177.7 -101h2.3m-123.3 8h2.3m7.7 301h2.3m24.7 -229h2.3m86.7 330h2.3m-107.3 -569h2.3m201.7 497h2.3m-57.3 -195h2.3m-169.3 -233h2.3m18.7 193h2.3m-73.3 151h2.3m195.7 -433h2.3m32.7 302h2.3m20.7 -11h2.3m-39.3 -13h2.3m-57.3 29h2.3m-179.3 -224h2.3m60.7 165h2.3m38.7 84h2.3m84.7 -88h2.3m-104.3 70h2.3m187.7 171h2.3m-91.3 22h2.3m-131.3 -451h2.3m-42.3 13h2.3m-27.3 317h2.3m270.7 -322h2.3m-72.3 521h2.3m21.7 -496h2.3" stroke="#2222e8" stroke-width="2.3" fill="none" opacity="0.8"/></g></g><polygon points="406.5,2043.4 513,2043.4 564,2063 556,2410 381,2568 318,2367 339,2181.5" fill="none" stroke="#505050" stroke-width="2.6" stroke-linejoin="round"/><polygon points="525,2530 560,2533 610,2572 608,2631 556,2695 483,2693 467,2612" fill="none" stroke="#505050" stroke-width="2.6" stroke-linejoin="round"/><polygon points="588,2709 626,2718 663,2777 608,2829 545,2833 489,2813 509,2750" fill="none" stroke="#505050" stroke-width="2.6" stroke-linejoin="round"/><text x="603" y="2242" font-size="39" textLength="308" lengthAdjust="spacingAndGlyphs" fill="#4a4a4a">Granulocytes CD45</text><text x="614" y="2548" font-size="39" textLength="295" lengthAdjust="spacingAndGlyphs" fill="#4a4a4a">Monocytes CD45+</text><text x="121" y="2800" font-size="39" textLength="336" lengthAdjust="spacingAndGlyphs" fill="#4a4a4a">Lymphocytes CD45+</text><g clip-path="url(#L3F)"><g clip-path="url(#L3g)"><g filter="url(#fcy)"><ellipse cx="442" cy="3153" rx="125" ry="260" fill="url(#gg)" fill-opacity="1.000"/><ellipse cx="438" cy="3383" rx="125" ry="220" fill="url(#gg)" fill-opacity="1.000"/><ellipse cx="445" cy="3293" rx="80" ry="300" fill="url(#gg)" fill-opacity="0.300"/></g></g><g clip-path="url(#L3m)"><g filter="url(#fgo)"><ellipse cx="541" cy="3601" rx="85" ry="100" fill="url(#gg)" fill-opacity="0.600"/></g></g><g clip-path="url(#L3l)"><g filter="url(#fgr)"><ellipse cx="575" cy="3758" rx="100" ry="80" transform="rotate(-30 575 3758)" fill="url(#gg)" fill-opacity="0.450"/><ellipse cx="572" cy="3770" rx="66" ry="44" transform="rotate(-25 572 3770)" fill="url(#gs)" fill-opacity="1.000"/></g></g><g mask="url(#L3M)"><g filter="url(#fbl)"><ellipse cx="520" cy="3443" rx="200" ry="430" fill="url(#gg)" fill-opacity="0.130"/><ellipse cx="620" cy="3243" rx="60" ry="230" fill="url(#gg)" fill-opacity="0.120"/><ellipse cx="560" cy="3693" rx="120" ry="160" fill="url(#gg)" fill-opacity="0.200"/><ellipse cx="615" cy="3633" rx="45" ry="90" fill="url(#gg)" fill-opacity="0.220"/><ellipse cx="420" cy="3693" rx="60" ry="140" fill="url(#gg)" fill-opacity="0.100"/><ellipse cx="480" cy="3823" rx="170" ry="25" fill="url(#gg)" fill-opacity="0.450"/><ellipse cx="330" cy="3826" rx="250" ry="8" fill="url(#gg)" fill-opacity="0.350"/><rect x="400" y="3036" width="380" height="5" fill-opacity="0.850"/></g><path d="M0 0m910 3045h2.3m-85.3 116h2.3m88.7 -112h2.3m-41.3 527h2.3m-10.3 253h2.3m-226.3 -525h2.3m167.7 -45h2.3m-163.3 -42h2.3m212.7 513h2.3m-23.3 -517h2.3m43.7 229h2.3m-254.3 -45h2.3m65.7 -298h2.3m50.7 222h2.3m-0.3 453h2.3m24.7 -417h2.3m76.7 468h2.3m-137.3 -40h2.3m-173.3 -638h2.3m53.7 633h2.3m185.7 -174h2.3m-149.3 -177h2.3m215.7 -314h2.3m-282.3 -41h2.3m125.7 629h2.3m28.7 -349h2.3m-21.3 -176h2.3m159.7 139h2.3m-261.3 -34h2.3m211.7 5h2.3m26.7 15h2.3m-170.3 -208h2.3m166.7 572h2.3m-159.3 -539h2.3m4.7 206h2.3m123.7 438h2.3m-38.3 -508h2.3m-256.3 481h2.3m325.7 -583h2.3m-164.3 255h2.3m170.7 -347h2.3m-334.3 635h2.3m182.7 -302h2.3m72.7 104h2.3m-33.3 -268h2.3m-222.3 -196h2.3m87.7 507h2.3m14.7 -239h2.3m84.7 284h2.3m-11.3 -312h2.3m79.7 388h2.3m23.7 73h2.3m-321.3 -177h2.3m118.7 -223h2.3m59.7 -194h2.3m-99.3 668h2.3m26.7 -58h2.3m125.7 -474h2.3m-134.3 230h2.3m136.7 -210h2.3m-236.3 -133h2.3m288.7 441h2.3m-275.3 84h2.3m167.7 -396h2.3m113.7 -164h2.3m-291.3 170h2.3m229.7 162h2.3m-94.3 285h2.3m-35.3 -94h2.3m-143.3 -4h2.3m51.7 -101h2.3m245.7 0h2.3m-96.3 -84h2.3m60.7 -144h2.3m-190.3 150h2.3m101.7 -350h2.3m0.7 278h2.3m-137.3 191h2.3m223.7 -292h2.3m28.7 514h2.3m-76.3 -460h2.3m-143.3 -220h2.3m-2.3 689h2.3m-79.3 -65h2.3m228.7 -105h2.3m-219.3 -110h2.3m35.7 25h2.3m211.7 35h2.3m-96.3 129h2.3m-113.3 -576h2.3m-452.3 335h2.3m14.7 -22h2.3m-4.3 133h2.3m-47.3 -14h2.3m-77.3 -210h2.3m95.7 -101h2.3m119.7 106h2.3m11.7 407h2.3m-163.3 -39h2.3m163.7 -143h2.3m-236.3 -132h2.3m177.7 -101h2.3m-123.3 8h2.3m7.7 301h2.3m24.7 -229h2.3m86.7 330h2.3m-107.3 -569h2.3m201.7 497h2.3m-57.3 -195h2.3m-169.3 -233h2.3m18.7 193h2.3m-73.3 151h2.3m195.7 -433h2.3m32.7 302h2.3m20.7 -11h2.3m-39.3 -13h2.3m-57.3 29h2.3m-179.3 -224h2.3m60.7 165h2.3m38.7 84h2.3m84.7 -88h2.3m-104.3 70h2.3m187.7 171h2.3m-91.3 22h2.3m-131.3 -451h2.3m-42.3 13h2.3m-27.3 317h2.3m270.7 -322h2.3m-72.3 521h2.3m21.7 -496h2.3" stroke="#2222e8" stroke-width="2.3" fill="none" opacity="0.8"/></g></g><polygon points="406.5,3036.4 513,3036.4 564,3056 556,3403 381,3561 318,3360 339,3174.5" fill="none" stroke="#505050" stroke-width="2.6" stroke-linejoin="round"/><polygon points="525,3523 560,3526 610,3565 608,3624 556,3688 483,3686 467,3605" fill="none" stroke="#505050" stroke-width="2.6" stroke-linejoin="round"/><polygon points="588,3702 626,3711 663,3770 608,3822 545,3826 489,3806 509,3743" fill="none" stroke="#505050" stroke-width="2.6" stroke-linejoin="round"/><text x="603" y="3235" font-size="39" textLength="308" lengthAdjust="spacingAndGlyphs" fill="#4a4a4a">Granulocytes CD45</text><text x="614" y="3541" font-size="39" textLength="295" lengthAdjust="spacingAndGlyphs" fill="#4a4a4a">Monocytes CD45+</text><text x="121" y="3793" font-size="39" textLength="336" lengthAdjust="spacingAndGlyphs" fill="#4a4a4a">Lymphocytes CD45+</text><g clip-path="url(#L4F)"><g clip-path="url(#L4g)"><g filter="url(#fcy)"><ellipse cx="452" cy="4055" rx="98" ry="245" fill="url(#gg)" fill-opacity="0.850"/><ellipse cx="446" cy="4245" rx="102" ry="250" fill="url(#gg)" fill-opacity="0.850"/></g></g><g clip-path="url(#L4m)"><g filter="url(#fgo)"><ellipse cx="490" cy="4527" rx="95" ry="95" fill="url(#gg)" fill-opacity="0.500"/></g></g><g clip-path="url(#L4l)"><g filter="url(#fgr)"><ellipse cx="565" cy="4647" rx="110" ry="95" transform="rotate(-20 565 4647)" fill="url(#gg)" fill-opacity="0.500"/><ellipse cx="570" cy="4665" rx="60" ry="54" transform="rotate(-25 570 4665)" fill="url(#gs)" fill-opacity="1.000"/></g></g><g mask="url(#L4M)"><g filter="url(#fbl)"><rect x="85" y="4665" width="480" height="59" fill-opacity="0.020"/><ellipse cx="420" cy="4700" rx="110" ry="35" fill="url(#gg)" fill-opacity="0.550"/><ellipse cx="525" cy="4710" rx="80" ry="25" fill="url(#gg)" fill-opacity="0.350"/><ellipse cx="330" cy="4721" rx="300" ry="8" fill="url(#gg)" fill-opacity="0.450"/><ellipse cx="478" cy="4640" rx="40" ry="60" fill="url(#gg)" fill-opacity="0.300"/><ellipse cx="530" cy="4605" rx="60" ry="50" fill="url(#gg)" fill-opacity="0.250"/><ellipse cx="680" cy="4675" rx="55" ry="70" fill="url(#gg)" fill-opacity="0.080"/><ellipse cx="760" cy="4700" rx="150" ry="35" fill="url(#gg)" fill-opacity="0.020"/><ellipse cx="450" cy="4225" rx="150" ry="330" fill="url(#gg)" fill-opacity="0.030"/><rect x="380" y="3929" width="190" height="5" fill-opacity="0.900"/><ellipse cx="560" cy="3955" rx="50" ry="30" fill="url(#gg)" fill-opacity="0.100"/></g><path d="M0 0m724 4374h2.3m168.7 -75h2.3m-153.3 97h2.3m-119.3 -60h2.3m159.7 223h2.3m-197.3 -389h2.3m-3.3 403h2.3m216.7 -611h2.3m102.7 734h2.3m-122.3 -278h2.3m-182.3 -477h2.3m132.7 35h2.3m-125.3 145h2.3m-60.3 177h2.3m146.7 301h2.3m25.7 -161h2.3m-9.3 18h2.3m-17.3 -306h2.3m193.7 571h2.3m-59.3 -229h2.3m-193.3 -380h2.3m-11.3 -127h2.3m170.7 262h2.3m26.7 -11h2.3m38.7 367h2.3m-350.3 -507h2.3m327.7 207h2.3m23.7 -58h2.3m-331.3 184h2.3m253.7 -286h2.3m-253.3 50h2.3m315.7 339h2.3m-309.3 -407h2.3m-8.3 -148h2.3m249.7 93h2.3m-88.3 215h2.3m-136.3 226h2.3m-23.3 -70h2.3m-8.3 -177h2.3m32.7 -121h2.3m272.7 425h2.3m-244.3 64h2.3m-36.3 -390h2.3m231.7 197h2.3m-276.3 276h2.3m38.7 -581h2.3m200.7 57h2.3m-174.3 -204h2.3m-77.3 405h2.3m52.7 15h2.3m44.7 -118h2.3m210.7 25h2.3m-141.3 304h2.3m-145.3 -566h2.3m261.7 527h2.3m-241.3 -499h2.3m174.7 597h2.3m-199.3 7h2.3m246.7 -275h2.3m-169.3 -397h2.3m-141.3 682h2.3m70.7 -205h2.3m3.7 95h2.3m121.7 -422h2.3m-155.3 340h2.3m-41.3 -391h2.3m175.7 496h2.3m17.7 -455h2.3m107.7 -61h2.3m-329.3 52h2.3m153.7 -166h2.3m-100.3 245h2.3m141.7 -188h2.3m-79.3 603h2.3m222.7 -186h2.3m-107.3 -57h2.3m-202.3 -437h2.3m-47.3 696h2.3m245.7 41h2.3m-248.3 -259h2.3m164.7 75h2.3m-61.3 213h2.3m-91.3 -360h2.3m238.7 282h2.3m-2.3 -157h2.3m17.7 168h2.3m-162.3 -182h2.3m196.7 148h2.3m-178.3 -65h2.3m159.7 -173h2.3m-648.3 89h2.3m55.7 -288h2.3m-199.3 130h2.3m76.7 244h2.3m122.7 -117h2.3m-42.3 33h2.3m-125.3 -124h2.3m2.7 261h2.3m-33.3 -48h2.3m1.7 -74h2.3m76.7 -158h2.3m149.7 -217h2.3m-237.3 502h2.3m132.7 -461h2.3m140.7 479h2.3m-264.3 -293h2.3m4.7 -62h2.3m142.7 -83h2.3m20.7 -63h2.3m-160.3 428h2.3m66.7 -222h2.3m56.7 32h2.3m-66.3 -250h2.3m100.7 525h2.3m72.7 -170h2.3m-188.3 -169h2.3m97.7 174h2.3m-175.3 -245h2.3m72.7 154h2.3m131.7 -6h2.3m-237.3 181h2.3m118.7 -170h2.3m-64.3 -52h2.3m46.7 193h2.3m-87.3 -124h2.3m19.7 82h2.3m-44.3 -235h2.3m89.7 202h2.3m-89.3 -100h2.3m44.7 -99h2.3m635.7 384h2.3m120.7 -181h2.3m-56.3 145h2.3m-32.3 -207h2.3m-179.3 95h2.3m198.7 -46h2.3m-71.3 23h2.3m94.7 220h2.3m-127.3 18h2.3m-97.3 -65h2.3m225.7 -231h2.3m-49.3 143h2.3m66.7 -122h2.3m-118.3 235h2.3m25.7 -201h2.3m-158.3 221h2.3m107.7 20h2.3m-95.3 -65h2.3m185.7 38h2.3m-225.3 -192h2.3m6.7 133h2.3m82.7 73h2.3m3.7 -65h2.3m135.7 -187h2.3m-89.3 251h2.3m-10.3 -209h2.3m-75.3 149h2.3m-23.3 -64h2.3m99.7 -17h2.3m-122.3 36h2.3m218.7 -118h2.3m-166.3 206h2.3m66.7 -223h2.3m-161.3 169h2.3m91.7 -100h2.3m-23.3 58h2.3m125.7 -114h2.3m-185.3 237h2.3m231.7 -338h2.3m-99.3 233h2.3m-47.3 16h2.3m153.7 -49h2.3m-161.3 -139h2.3m-42.3 -15h2.3m-41.3 21h2.3m202.7 114h2.3m-13.3 134h2.3m-0.3 -305h2.3m29.7 15h2.3m-45.3 262h2.3m-34.3 -153h2.3m-165.3 -111h2.3m154.7 55h2.3m-31.3 8h2.3m-105.3 10h2.3m154.7 67h2.3m-95.3 0h2.3m42.7 10h2.3m-32.3 159h2.3m82.7 -259h2.3" stroke="#2222e8" stroke-width="2.3" fill="none" opacity="0.8"/></g></g><polygon points="403.4,3935.1 510.7,3940.2 599.9,4051.3 532.2,4367 394.5,4456.7 341.5,4382.2 342.2,4076.6" fill="none" stroke="#505050" stroke-width="2.6" stroke-linejoin="round"/><polygon points="472,4435 517,4436 564,4480 580,4547 509,4601 436,4598 417,4519" fill="none" stroke="#505050" stroke-width="2.6" stroke-linejoin="round"/><polygon points="588,4561 631,4586 665,4653 624,4701 545,4717 493,4693 507,4626" fill="none" stroke="#505050" stroke-width="2.6" stroke-linejoin="round"/><text x="581" y="4175.3" font-size="39" textLength="308" lengthAdjust="spacingAndGlyphs" fill="#4a4a4a">Granulocytes CD45</text><text x="577" y="4496" font-size="39" textLength="294" lengthAdjust="spacingAndGlyphs" fill="#4a4a4a">Monocytes CD45+</text><text x="123" y="4666" font-size="39" textLength="338" lengthAdjust="spacingAndGlyphs" fill="#4a4a4a">Lymphocytes CD45+</text><g clip-path="url(#R0F)"><g clip-path="url(#R0g)"><g filter="url(#fcy)"><rect x="1490" y="465" width="220" height="290" fill-opacity="0.500"/><ellipse cx="1600" cy="600" rx="120" ry="160" fill="url(#gg)" fill-opacity="0.180"/></g></g><g clip-path="url(#R0m)"><g filter="url(#fgo)"><rect x="1630" y="680" width="160" height="135" fill-opacity="0.880"/></g></g><g clip-path="url(#R0l)"><g filter="url(#fgr)"><ellipse cx="1820" cy="840" rx="125" ry="45" transform="rotate(-8 1820 840)" fill="url(#gg)" fill-opacity="0.350"/><ellipse cx="1818" cy="845" rx="88" ry="27" transform="rotate(-8 1818 845)" fill="url(#gf)" fill-opacity="1.000"/></g></g><g mask="url(#R0M)"><g filter="url(#fbk)"><rect x="1203" y="330" width="4" height="560" fill-opacity="0.350"/><ellipse cx="1780" cy="136" rx="45" ry="5" fill="url(#gg)" fill-opacity="0.600"/></g><path d="M0 0m1548 805h2.3m-156.3 -272h2.3m111.7 324h2.3m2.7 -357h2.3m-118.3 137h2.3m166.7 5h2.3m-131.3 -26h2.3m50.7 -63h2.3m-19.3 124h2.3m158.7 -40h2.3m-68.3 -119h2.3m-13.3 146h2.3m-139.3 -23h2.3m139.7 -37h2.3m9.7 227h2.3m55.7 12h2.3m-285.3 -157h2.3m55.7 74h2.3m71.7 -88h2.3m35.7 -100h2.3m-38.3 -16h2.3m192.7 32h2.3m-205.3 -160h2.3m-148.3 114h2.3m220.7 197h2.3m-53.3 -173h2.3m151.7 -47h2.3m-267.3 185h2.3m-16.3 -27h2.3m190.7 -41h2.3m-57.3 13h2.3m-109.3 -394h2.3m-55.3 389h2.3m-44.3 -69h2.3m179.7 234h2.3m-157.3 -230h2.3m154.7 130h2.3m-160.3 164h2.3m52.7 -95h2.3m58.7 -83h2.3m181.7 37h2.3m-154.3 -211h2.3m-79.3 -52h2.3m261.7 -16h2.3m-456.3 394h2.3m378.7 -247h2.3m-46.3 -57h2.3m-141.3 163h2.3m92.7 -118h2.3m119.7 147h2.3m-149.3 -237h2.3m-2.3 107h2.3m-23.3 138h2.3m-52.3 -66h2.3m133.7 11h2.3m146.7 -260h2.3m-236.3 69h2.3m-3.3 459h2.3m-157.3 -348h2.3m224.7 47h2.3m23.7 -204h2.3m3.7 74h2.3m-220.3 189h2.3m165.7 -161h2.3m-131.3 65h2.3m78.7 4h2.3m-102.3 -267h2.3m228.7 310h2.3m-256.3 -217h2.3m51.7 143h2.3m-144.3 225h2.3m250.7 -213h2.3m-9.3 68h2.3m67.7 -9h2.3m17.7 172h2.3m-158.3 -248h2.3m-59.3 27h2.3m13.7 30h2.3m99.7 66h2.3m-147.3 68h2.3m81.7 -149h2.3m-23.3 -235h2.3m74.7 28h2.3m82.7 226h2.3m42.7 76h2.3m-88.3 93h2.3m-76.3 17h2.3m-10.3 -159h2.3m-57.3 35h2.3m131.7 -130h2.3m-196.3 58h2.3m166.7 -15h2.3m-141.3 -70h2.3m68.7 -237h2.3m-34.3 505h2.3m-72.3 -206h2.3m293.7 115h2.3m-78.3 -106h2.3m-226.3 376h2.3m159.7 -328h2.3m130.7 71h2.3m-159.3 -238h2.3m-23.3 119h2.3m-54.3 -90h2.3m-35.3 93h2.3m38.7 66h2.3m157.7 -12h2.3m-101.3 155h2.3m60.7 -378h2.3m-139.3 208h2.3m-18.3 70h2.3m-89.3 -332h2.3m269.7 310h2.3m-259.3 -63h2.3m290.7 -148h2.3m-254.3 -13h2.3m18.7 -64h2.3m46.7 35h2.3m52.7 459h2.3m-113.3 -166h2.3m218.7 -400h2.3m-108.3 286h2.3m-46.3 101h2.3m-12.3 -56h2.3m2.7 -61h2.3m-42.3 300h2.3m70.7 -422h2.3m196.7 335h2.3m-215.3 -277h2.3m-56.3 235h2.3m38.7 -242h2.3m113.7 55h2.3m-91.3 274h2.3m88.7 -86h2.3m-46.3 5h2.3m-61.3 -40h2.3m118.7 -171h2.3m-234.3 118h2.3m113.7 9h2.3m-50.3 -10h2.3m153.7 229h2.3m79.7 -246h2.3m-37.3 -127h2.3m-28.3 96h2.3m13.7 24h2.3m-158.3 -130h2.3m145.7 95h2.3m-56.3 53h2.3m-276.3 15h2.3m163.7 -26h2.3m82.7 -273h2.3m-81.3 217h2.3m67.7 124h2.3m-109.3 -146h2.3m127.7 -199h2.3m120.7 111h2.3m-56.3 135h2.3m54.7 112h2.3m-193.3 -341h2.3m13.7 252h2.3m38.7 -198h2.3m-138.3 60h2.3m107.7 -11h2.3m-42.3 224h2.3m-32.3 52h2.3m69.7 -199h2.3m76.7 93h2.3m-139.3 -135h2.3m21.7 116h2.3m115.7 -9h2.3m-177.3 -199h2.3m84.7 214h2.3m84.7 -114h2.3m-244.3 169h2.3m109.7 -255h2.3m179.7 262h2.3m-161.3 -76h2.3m-82.3 88h2.3m28.7 -179h2.3m11.7 -85h2.3m128.7 349h2.3m-28.3 -463h2.3m-108.3 176h2.3m64.7 -187h2.3m-253.3 209h2.3m309.7 34h2.3m118.7 -82h2.3m-217.3 87h2.3m-88.3 156h2.3m-51.3 -269h2.3m92.7 72h2.3m145.7 -6h2.3m-64.3 7h2.3m74.7 56h2.3m-103.3 -201h2.3m41.7 123h2.3m15.7 143h2.3m-36.3 77h2.3m-18.3 -249h2.3m-24.3 130h2.3m-135.3 56h2.3m260.7 -47h2.3m-136.3 28h2.3m94.7 -125h2.3m-16.3 -25h2.3m-44.3 157h2.3m-182.3 17h2.3m146.7 -289h2.3m-69.3 129h2.3m-45.3 130h2.3m7.7 -46h2.3m-32.3 -39h2.3m286.7 85h2.3m-337.3 -168h2.3m137.7 -86h2.3m108.7 197h2.3m-106.3 12h2.3m-63.3 -149h2.3m-243.3 -59h2.3m330.7 286h2.3m-44.3 -313h2.3m-17.3 233h2.3m-97.3 165h2.3m14.7 -170h2.3m0.7 113h2.3m-19.3 -224h2.3m233.7 -45h2.3m-167.3 223h2.3m86.7 -284h2.3m22.7 181h2.3m58.7 -179h2.3m-47.3 265h2.3m-116.3 -102h2.3m73.7 -34h2.3m-75.3 -9h2.3m46.7 178h2.3m-174.3 -80h2.3m186.7 183h2.3m-107.3 -30h2.3m27.7 -96h2.3m63.7 -27h2.3m-58.3 -155h2.3m178.7 302h2.3m-161.3 -201h2.3m-11.3 -145h2.3m-92.3 217h2.3m202.7 -79h2.3m-189.3 -106h2.3m29.7 220h2.3m62.7 -264h2.3m-122.3 218h2.3m142.7 178h2.3m110.7 -196h2.3m-212.3 3h2.3m-47.3 -111h2.3m209.7 161h2.3m-10.3 118h2.3m-134.3 -94h2.3m45.7 -61h2.3m12.7 28h2.3m-162.3 -236h2.3m144.7 230h2.3m-59.3 -73h2.3m-94.3 132h2.3m182.7 67h2.3m-88.3 -199h2.3m44.7 182h2.3m47.7 -121h2.3m-222.3 -155h2.3m15.7 83h2.3m228.7 30h2.3m-179.3 246h2.3m-20.3 -81h2.3m222.7 -140h2.3m15.7 -166h2.3m-191.3 97h2.3m89.7 15h2.3m130.7 -25h2.3m-194.3 -103h2.3m67.7 249h2.3m-124.3 -255h2.3m-65.3 301h2.3m213.7 -110h2.3m-5.3 26h2.3m-32.3 -262h2.3m3.7 289h2.3m58.7 32h2.3m-182.3 -87h2.3m-75.3 146h2.3m1.7 -91h2.3m55.7 -189h2.3m-12.3 61h2.3m123.7 179h2.3m-69.3 -33h2.3m113.7 150h2.3m-148.3 -217h2.3m125.7 -21h2.3m-9.3 -100h2.3m-99.3 5h2.3m-30.3 -33h2.3m51.7 -42h2.3m-49.3 224h2.3m-102.3 -203h2.3m113.7 -1h2.3m-61.3 365h2.3m129.7 -290h2.3m-108.3 -136h2.3m-44.3 -94h2.3m167.7 223h2.3m32.7 63h2.3m-290.3 237h2.3m246.7 -126h2.3m-108.3 -180h2.3m34.7 292h2.3m-108.3 -355h2.3m172.7 -112h2.3m93.7 102h2.3m-31.3 124h2.3m-155.3 -123h2.3m176.7 108h2.3m-279.3 113h2.3m116.7 -15h2.3m-28.3 -19h2.3m82.7 -43h2.3m-209.3 59h2.3m296.7 -7h2.3m-47.3 43h2.3m-124.3 34h2.3m4.7 -255h2.3m-104.3 252h2.3m192.7 -50h2.3m-128.3 -303h2.3m130.7 214h2.3m-139.3 -65h2.3m0.7 -154h2.3m116.7 317h2.3m22.7 -131h2.3m-213.3 -125h2.3m91.7 385h2.3m119.7 -212h2.3m-47.3 97h2.3m-43.3 -72h2.3m12.7 -101h2.3m-136.3 2h2.3m224.7 -125h2.3m-159.3 143h2.3m44.7 -3h2.3m71.7 9h2.3m-80.3 134h2.3m-142.3 47h2.3m239.7 -298h2.3m-113.3 71h2.3m-29.3 189h2.3m-151.3 8h2.3m225.7 -105h2.3m173.7 -61h2.3m-369.3 109h2.3m160.7 -126h2.3m-227.3 -156h2.3m369.7 47h2.3m-27.3 288h2.3m-356.3 -77h2.3m278.7 114h2.3m65.7 18h2.3m-137.3 -186h2.3m-18.3 95h2.3m-75.3 -197h2.3m317.7 251h2.3m-124.3 -147h2.3m-192.3 -24h2.3m3.7 -25h2.3m-78.3 154h2.3m185.7 21h2.3m-29.3 -186h2.3m191.7 204h2.3m-147.3 -7h2.3m-87.3 -18h2.3m-47.3 34h2.3m164.7 -21h2.3m-56.3 -87h2.3m-18.3 73h2.3m-69.3 -2h2.3m118.7 -244h2.3m-247.3 193h2.3m132.7 -136h2.3m-91.3 -38h2.3m-42.3 93h2.3m6.7 -167h2.3m138.7 398h2.3m131.7 -208h2.3m-86.3 -9h2.3m-52.3 -66h2.3m10.7 -34h2.3m-76.3 110h2.3m62.7 271h2.3m-80.3 -388h2.3m146.7 207h2.3m1.7 -86h2.3m-218.3 -28h2.3m20.7 35h2.3m295.7 -31h2.3m-164.3 173h2.3m-144.3 -40h2.3m95.7 -179h2.3m-5.3 -37h2.3m118.7 134h2.3m-132.3 48h2.3m-104.3 -401h2.3m274.7 270h2.3m-57.3 -41h2.3m-256.3 -23h2.3m266.7 180h2.3m-154.3 38h2.3m30.7 -62h2.3m-79.3 -302h2.3m111.7 363h2.3m-99.3 112h2.3m113.7 20h2.3m35.7 -63h2.3m-92.3 -333h2.3m240.7 342h2.3m-152.3 -275h2.3m17.7 -14h2.3m-39.3 241h2.3m-3.3 -236h2.3m7.7 146h2.3m-8.3 133h2.3m-121.3 -260h2.3m-146.3 289h2.3m126.7 -26h2.3m113.7 -12h2.3m-15.3 -89h2.3m-49.3 -2h2.3m-83.3 70h2.3m-65.3 -191h2.3m126.7 75h2.3m24.7 -132h2.3m14.7 -215h2.3m-80.3 326h2.3m-1.3 128h2.3m52.7 -62h2.3m-100.3 57h2.3m182.7 -303h2.3m63.7 44h2.3m-258.3 245h2.3m287.7 -21h2.3m-190.3 -169h2.3m-60.3 112h2.3m105.7 -144h2.3m11.7 -151h2.3m-29.3 158h2.3m-151.3 372h2.3m183.7 -298h2.3m-170.3 214h2.3m114.7 -270h2.3m-246.3 208h2.3m306.7 -52h2.3m-182.3 -288h2.3m215.7 188h2.3m-41.3 -278h2.3m-103.3 403h2.3m21.7 139h2.3m87.7 -97h2.3m-21.3 -157h2.3m-148.3 -75h2.3m199.7 79h2.3m-335.3 48h2.3m214.7 -86h2.3m29.7 -49h2.3m216.7 56h2.3m-358.3 69h2.3m113.7 93h2.3m2.7 -26h2.3m-23.3 -113h2.3m-108.3 -58h2.3m95.7 -63h2.3m82.7 116h2.3m34.7 136h2.3m-148.3 278h2.3m167.7 -459h2.3m-98.3 9h2.3m-138.3 93h2.3m41.7 88h2.3m-92.3 -75h2.3m264.7 0h2.3m57.7 212h2.3m-311.3 -290h2.3m61.7 232h2.3m4.7 -445h2.3m-16.3 218h2.3m44.7 19h2.3m16.7 -78h2.3m-9.3 42h2.3m-42.3 21h2.3m123.7 66h2.3m-20.3 -123h2.3m-235.3 69h2.3m249.7 19h2.3m-139.3 -192h2.3m82.7 94h2.3m-200.3 146h2.3m169.7 109h2.3m-131.3 -326h2.3m133.7 367h2.3m3.7 -114h2.3m-157.3 -45h2.3m-14.3 -260h2.3m215.7 366h2.3m-142.3 -120h2.3m122.7 -46h2.3m-52.3 70h2.3m-91.3 -180h2.3m125.7 422h2.3m-83.3 -341h2.3m224.7 -25h2.3m-263.3 318h2.3m138.7 -146h2.3m-282.3 68h2.3m184.7 -34h2.3m76.7 105h2.3m27.7 -1h2.3m-149.3 -89h2.3m121.7 -202h2.3m-198.3 37h2.3m47.7 -28h2.3m34.7 -26h2.3m58.7 100h2.3m-113.3 -115h2.3m118.7 32h2.3m-71.3 -53h2.3m-137.3 85h2.3m77.7 21h2.3m69.7 -40h2.3m115.7 -52h2.3m24.7 146h2.3m148.7 -155h2.3m-334.3 161h2.3m142.7 -84h2.3m-2.3 51h2.3m-224.3 23h2.3m226.7 12h2.3m-97.3 -160h2.3m81.7 290h2.3m-215.3 -101h2.3m-42.3 -52h2.3m-91.3 -49h2.3m330.7 -158h2.3m-201.3 194h2.3m106.7 25h2.3m161.7 -185h2.3m-117.3 -96h2.3m-329.3 119h2.3m26.7 186h2.3m359.7 0h2.3m-254.3 -159h2.3m-10.3 71h2.3m67.7 163h2.3m141.7 -296h2.3m103.7 186h2.3m-62.3 -24h2.3m40.7 140h2.3m-52.3 34h2.3m-19.3 -137h2.3m-140.3 -304h2.3m198.7 342h2.3m-237.3 30h2.3m124.7 -94h2.3m166.7 114h2.3m-324.3 -115h2.3m236.7 131h2.3m-50.3 -189h2.3m-19.3 -190h2.3m89.7 230h2.3m-187.3 -83h2.3m70.7 -15h2.3m-119.3 -17h2.3m273.7 108h2.3m-127.3 59h2.3m-116.3 54h2.3m44.7 -193h2.3m-88.3 45h2.3m50.7 219h2.3m-208.3 -29h2.3m399.7 54h2.3m-221.3 -299h2.3m196.7 190h2.3m-99.3 -195h2.3m-61.3 -40h2.3m193.7 283h2.3m-212.3 -1h2.3m55.7 -387h2.3m40.7 160h2.3m-27.3 36h2.3m-136.3 17h2.3m205.7 -107h2.3m-208.3 -43h2.3m34.7 303h2.3m133.7 -41h2.3m-25.3 123h2.3m99.7 9h2.3m-243.3 -282h2.3m165.7 173h2.3m-133.3 -120h2.3m142.7 10h2.3m-171.3 58h2.3m16.7 31h2.3m76.7 -110h2.3m-114.3 165h2.3m-1.3 -113h2.3m49.7 -10h2.3m-4.3 121h2.3m46.7 -257h2.3m-139.3 224h2.3m102.7 64h2.3m65.7 7h2.3m-190.3 -207h2.3m264.7 -114h2.3m-55.3 151h2.3m28.7 -32h2.3m-180.3 141h2.3m290.7 -249h2.3m-192.3 47h2.3m18.7 157h2.3m-125.3 -229h2.3m78.7 176h2.3m80.7 -8h2.3m14.7 40h2.3m39.7 96h2.3m-287.3 -164h2.3m178.7 3h2.3m-10.3 244h2.3m-124.3 -299h2.3m-4.3 221h2.3m312.7 -241h2.3m9.7 -68h2.3m-227.3 194h2.3m17.7 -105h2.3m-149.3 64h2.3m215.7 -3h2.3m-64.3 85h2.3m103.7 -194h2.3m10.7 378h2.3m-278.3 -102h2.3m-72.3 -243h2.3m155.7 100h2.3m-161.3 -88h2.3m22.7 210h2.3m66.7 -85h2.3m40.7 31h2.3m-209.3 -71h2.3m106.7 -114h2.3m182.7 223h2.3m-129.3 -167h2.3m284.7 73h2.3m-102.3 119h2.3m-21.3 -146h2.3m-95.3 124h2.3m-261.3 -202h2.3m313.7 165h2.3m15.7 -135h2.3m-146.3 -112h2.3m101.7 173h2.3m-13.3 -279h2.3m-53.3 147h2.3m134.7 223h2.3m-33.3 -21h2.3m46.7 -37h2.3m-199.3 -12h2.3m84.7 25h2.3m41.7 -35h2.3m-27.3 -15h2.3m-51.3 -131h2.3m-52.3 79h2.3m250.7 29h2.3m-270.3 102h2.3m136.7 -111h2.3m44.7 -88h2.3m-213.3 61h2.3m73.7 34h2.3m34.7 146h2.3m5.7 -65h2.3m-34.3 -179h2.3m15.7 3h2.3m73.7 90h2.3m-177.3 24h2.3m116.7 -54h2.3m-121.3 25h2.3m50.7 -25h2.3m-230.3 -32h2.3m490.7 297h2.3m-108.3 -229h2.3m-7.3 99h2.3m-100.3 -72h2.3m-3.3 -216h2.3m96.7 330h2.3m-77.3 -67h2.3m-112.3 -60h2.3m14.7 -115h2.3m92.7 408h2.3m148.7 -270h2.3m-225.3 253h2.3m-46.3 -348h2.3m126.7 327h2.3m115.7 -489h2.3m-354.3 96h2.3m306.7 38h2.3m-191.3 258h2.3m-31.3 47h2.3m-91.3 -273h2.3m317.7 -50h2.3m-106.3 240h2.3m49.7 -50h2.3m-34.3 30h2.3m-34.3 -149h2.3m179.7 -78h2.3m-188.3 48h2.3m-40.3 225h2.3m-141.3 -328h2.3m206.7 201h2.3m-35.3 -31h2.3m38.7 -26h2.3m59.7 29h2.3m-261.3 -123h2.3m190.7 28h2.3m-219.3 170h2.3m165.7 52h2.3m142.7 -293h2.3m-101.3 86h2.3m-71.3 150h2.3m39.7 -83h2.3m-9.3 59h2.3m-329.3 84h2.3m384.7 -68h2.3m-89.3 152h2.3m-22.3 -132h2.3m-41.3 -312h2.3m92.7 290h2.3m-215.3 121h2.3m243.7 -135h2.3m-156.3 -193h2.3m71.7 179h2.3m-17.3 -29h2.3m72.7 37h2.3m9.7 -41h2.3m-228.3 58h2.3m210.7 82h2.3m2.7 -273h2.3m5.7 301h2.3m139.7 -154h2.3m-166.3 2h2.3m86.7 59h2.3m142.7 -28h2.3m-290.3 127h2.3m106.7 -244h2.3m-72.3 20h2.3m-159.3 140h2.3m85.7 -52h2.3m120.7 -107h2.3m11.7 34h2.3m-52.3 0h2.3m-138.3 -217h2.3m37.7 181h2.3m328.7 54h2.3m-230.3 -41h2.3m83.7 172h2.3m-95.3 -59h2.3m-252.3 -135h2.3m199.7 332h2.3m252.7 -303h2.3m-186.3 106h2.3m199.7 -123h2.3m-221.3 160h2.3m-43.3 -125h2.3m55.7 100h2.3m-134.3 -102h2.3m114.7 -3h2.3m105.7 -73h2.3m-238.3 254h2.3m70.7 -178h2.3m118.7 1h2.3m-295.3 33h2.3m270.7 36h2.3m79.7 26h2.3m-131.3 156h2.3m-100.3 -599h2.3m108.7 521h2.3m-20.3 -249h2.3m38.7 299h2.3m-39.3 -298h2.3m-71.3 176h2.3m-122.3 88h2.3m5.7 112h2.3m77.7 -134h2.3m108.7 -382h2.3m16.7 163h2.3m-111.3 128h2.3m-132.3 -75h2.3m209.7 156h2.3m66.7 -46h2.3m-404.3 -10h2.3m190.7 -290h2.3m138.7 373h2.3m-47.3 -175h2.3m-116.3 -29h2.3m189.7 90h2.3m-55.3 -87h2.3m-83.3 -27h2.3m-91.3 263h2.3m-9.3 -7h2.3m216.7 -300h2.3m14.7 211h2.3m0.7 -94h2.3m-133.3 -18h2.3m36.7 -145h2.3m117.7 83h2.3m31.7 249h2.3m-352.3 -280h2.3m122.7 124h2.3m-34.3 70h2.3m72.7 -224h2.3m122.7 50h2.3m-27.3 356h2.3m-71.3 -309h2.3m-177.3 130h2.3m141.7 -89h2.3m150.7 -121h2.3m-60.3 333h2.3m33.7 -306h2.3m29.7 74h2.3m25.7 64h2.3m-40.3 -258h2.3m-102.3 -54h2.3m26.7 164h2.3m16.7 162h2.3m158.7 59h2.3m-142.3 -342h2.3m-61.3 120h2.3m-41.3 124h2.3m72.7 118h2.3m26.7 -71h2.3m-144.3 -45h2.3m75.7 57h2.3m-205.3 15h2.3m33.7 0h2.3m107.7 -284h2.3m69.7 80h2.3m21.7 163h2.3m-76.3 90h2.3m-81.3 -197h2.3m78.7 159h2.3m-12.3 -484h2.3m5.7 344h2.3m-47.3 -145h2.3m-79.3 169h2.3m209.7 -67h2.3m-92.3 36h2.3m80.7 -66h2.3m-18.3 302h2.3m-4.3 -284h2.3m-111.3 303h2.3m312.7 -192h2.3m-299.3 144h2.3m-0.3 -86h2.3m-41.3 -77h2.3m-109.3 61h2.3m-101.3 -162h2.3m301.7 207h2.3m122.7 0h2.3m-162.3 9h2.3m-181.3 -369h2.3m197.7 -31h2.3m103.7 251h2.3m-81.3 272h2.3m-26.3 -162h2.3m-125.3 99h2.3m43.7 -241h2.3m109.7 150h2.3m-139.3 -141h2.3m-67.3 32h2.3m-23.3 -58h2.3m283.7 39h2.3m-184.3 187h2.3m73.7 -36h2.3m-22.3 -211h2.3m116.7 150h2.3m-116.3 23h2.3m149.7 -16h2.3m-74.3 -249h2.3m-126.3 174h2.3m5.7 -24h2.3m59.7 186h2.3m18.7 -65h2.3m7.7 -51h2.3m106.7 -30h2.3m-155.3 -26h2.3m-28.3 -15h2.3m-84.3 69h2.3m145.7 -26h2.3m91.7 41h2.3m-277.3 -36h2.3m222.7 90h2.3m-115.3 -225h2.3m23.7 178h2.3m205.7 57h2.3m-211.3 -25h2.3m-14.3 36h2.3m-15.3 -94h2.3m-111.3 -34h2.3m6.7 7h2.3m133.7 162h2.3m-8.3 -226h2.3m28.7 30h2.3m-243.3 109h2.3m166.7 -123h2.3m-14.3 162h2.3m52.7 -195h2.3m76.7 -45h2.3m-22.3 30h2.3m-92.3 321h2.3m-2.3 -171h2.3m-33.3 9h2.3m128.7 19h2.3m70.7 -96h2.3m-266.3 119h2.3m20.7 38h2.3m82.7 140h2.3m40.7 -375h2.3m-123.3 88h2.3m113.7 -193h2.3m15.7 208h2.3m13.7 -21h2.3m17.7 131h2.3m-111.3 -132h2.3m-134.3 -208h2.3m193.7 27h2.3m12.7 325h2.3m-49.3 25h2.3m245.7 -398h2.3m-264.3 438h2.3m-198.3 -370h2.3m157.7 229h2.3m91.7 22h2.3m-91.3 -33h2.3m17.7 -85h2.3m174.7 129h2.3m-319.3 -3h2.3m73.7 -106h2.3m261.7 162h2.3m-212.3 -193h2.3m153.7 175h2.3m23.7 -175h2.3m129.7 -98h2.3m-238.3 243h2.3m-95.3 -44h2.3m-137.3 10h2.3m168.7 207h2.3m4.7 0h2.3m47.7 -201h2.3m78.7 18h2.3m23.7 -20h2.3m-343.3 107h2.3m44.7 23h2.3m140.7 -278h2.3m21.7 -45h2.3m-115.3 93h2.3m154.7 198h2.3m-177.3 -141h2.3m164.7 8h2.3m44.7 -77h2.3m-5.3 178h2.3m-62.3 42h2.3m-218.3 -108h2.3m201.7 -53h2.3m132.7 -180h2.3m-146.3 248h2.3m-51.3 -35h2.3m107.7 99h2.3m-53.3 58h2.3m2.7 15h2.3m-69.3 -214h2.3m-64.3 -224h2.3m116.7 258h2.3m-64.3 -100h2.3m-65.3 170h2.3m227.7 -16h2.3m-1.3 126h2.3m-25.3 -75h2.3m-138.3 -115h2.3m109.7 107h2.3m-135.3 -50h2.3m100.7 8h2.3m-39.3 -116h2.3m-21.3 1h2.3m65.7 -135h2.3m0.7 112h2.3m26.7 64h2.3m-232.3 -152h2.3m143.7 203h2.3m-45.3 -115h2.3m44.7 227h2.3m12.7 -55h2.3m-26.3 -36h2.3m61.7 -273h2.3m-91.3 87h2.3m120.7 61h2.3m-133.3 64h2.3m-25.3 78h2.3m-100.3 -338h2.3m77.7 190h2.3m78.7 35h2.3m-12.3 9h2.3m151.7 -11h2.3m-52.3 33h2.3m-171.3 -93h2.3m53.7 -49h2.3m-177.3 216h2.3m246.7 -98h2.3m-92.3 437h2.3m-37.3 -298h2.3m-31.3 -132h2.3m-0.3 57h2.3m-92.3 53h2.3m184.7 -367h2.3m49.7 247h2.3m-46.3 -149h2.3m-111.3 86h2.3m191.7 26h2.3m-71.3 55h2.3m-80.3 74h2.3m10.7 -188h2.3m-20.3 238h2.3m-48.3 -91h2.3m-57.3 -4h2.3m207.7 4h2.3m-218.3 -39h2.3m7.7 -84h2.3m-68.3 224h2.3m212.7 -259h2.3m-178.3 50h2.3m144.7 197h2.3m-105.3 -99h2.3m228.7 46h2.3m60.7 -169h2.3m-327.3 74h2.3m120.7 83h2.3m79.7 -175h2.3m-163.3 30h2.3m187.7 93h2.3m-233.3 -70h2.3m59.7 -166h2.3m255.7 310h2.3m-90.3 -31h2.3m-195.3 154h2.3m202.7 -282h2.3m-238.3 39h2.3m231.7 83h2.3m-127.3 -8h2.3m-1.3 82h2.3m71.7 -35h2.3m-148.3 75h2.3m150.7 -222h2.3m-18.3 -104h2.3m14.7 242h2.3m-15.3 -98h2.3m-135.3 -70h2.3m150.7 -85h2.3m-40.3 141h2.3m-60.3 -200h2.3m-93.3 -10h2.3m221.7 341h2.3m-16.3 -90h2.3m-132.3 107h2.3m-30.3 8h2.3m-4.3 -97h2.3m-155.3 3h2.3m183.7 77h2.3m177.7 -175h2.3m-80.3 -171h2.3m24.7 258h2.3m76.7 12h2.3m-219.3 -106h2.3m199.7 -22h2.3m-275.3 53h2.3m65.7 113h2.3m9.7 155h2.3m-79.3 -189h2.3m-13.3 -248h2.3m162.7 281h2.3m-27.3 -125h2.3m-118.3 25h2.3m36.7 -94h2.3m-43.3 257h2.3m283.7 -196h2.3m-334.3 150h2.3m96.7 220h2.3m183.7 -272h2.3m-109.3 -277h2.3m-140.3 236h2.3m-17.3 -93h2.3m29.7 259h2.3m95.7 -77h2.3m53.7 -14h2.3m-101.3 0h2.3m71.7 -224h2.3m-79.3 239h2.3m-130.3 76h2.3m251.7 -292h2.3m-223.3 321h2.3m48.7 -163h2.3m209.7 -103h2.3m-88.3 125h2.3m-208.3 19h2.3m54.7 24h2.3m200.7 70h2.3m-171.3 -65h2.3m109.7 98h2.3m24.7 -298h2.3m-161.3 37h2.3m58.7 -88h2.3m295.7 208h2.3m-293.3 -19h2.3m1.7 -210h2.3m-64.3 334h2.3m246.7 -76h2.3m-245.3 -251h2.3m-140.3 247h2.3m210.7 -40h2.3m81.7 53h2.3m-65.3 30h2.3m107.7 9h2.3m51.7 -284h2.3m-249.3 303h2.3m-65.3 -144h2.3m117.7 -105h2.3m98.7 145h2.3m61.7 1h2.3m-25.3 -46h2.3m-177.3 -119h2.3m104.7 138h2.3m-143.3 -36h2.3m10.7 72h2.3m83.7 -133h2.3m-42.3 354h2.3m83.7 -235h2.3m66.7 -90h2.3m-119.3 145h2.3m-106.3 -273h2.3m324.7 204h2.3m-241.3 -47h2.3m22.7 -78h2.3m-48.3 125h2.3m138.7 18h2.3m-171.3 -92h2.3m83.7 69h2.3m124.7 -195h2.3m-6.3 329h2.3m-242.3 -212h2.3m-38.3 149h2.3m264.7 -155h2.3m-262.3 118h2.3m163.7 116h2.3m31.7 -276h2.3m-182.3 56h2.3m280.7 56h2.3m-342.3 4h2.3m170.7 -70h2.3m-85.3 16h2.3m61.7 -32h2.3m138.7 61h2.3m-279.3 17h2.3m57.7 -21h2.3m173.7 70h2.3m-141.3 115h2.3m45.7 -54h2.3m77.7 -98h2.3m-100.3 -53h2.3m129.7 169h2.3m-298.3 -12h2.3m278.7 -68h2.3m-176.3 -71h2.3m41.7 -30h2.3m56.7 127h2.3m49.7 -9h2.3m-86.3 -113h2.3m-34.3 186h2.3m53.7 138h2.3m-14.3 -303h2.3m-144.3 -174h2.3m215.7 239h2.3m-17.3 8h2.3m-9.3 79h2.3m-35.3 98h2.3m-79.3 -160h2.3m-76.3 -81h2.3m92.7 -160h2.3m9.7 329h2.3m-52.3 -445h2.3m-84.3 267h2.3m73.7 170h2.3m3.7 19h2.3m25.7 -27h2.3m59.7 -97h2.3m17.7 -96h2.3m8.7 65h2.3m-214.3 221h2.3m-5.3 -136h2.3m155.7 -186h2.3m-14.3 139h2.3m78.7 -141h2.3m-31.3 -223h2.3m34.7 226h2.3m4.7 226h2.3m-148.3 -99h2.3m134.7 7h2.3m-235.3 171h2.3m364.7 -196h2.3m-312.3 232h2.3m12.7 -139h2.3m41.7 -98h2.3m7.7 -23h2.3m-127.3 -69h2.3m272.7 176h2.3m-228.3 -73h2.3m107.7 -101h2.3m16.7 228h2.3m-162.3 52h2.3m147.7 -52h2.3m-8.3 -258h2.3m-53.3 197h2.3m-45.3 63h2.3m134.7 -553h2.3m-181.3 399h2.3m118.7 -109h2.3m-12.3 333h2.3m36.7 -270h2.3m-14.3 43h2.3m10.7 147h2.3m56.7 -194h2.3m-139.3 158h2.3m-85.3 -44h2.3m-50.3 -186h2.3m283.7 292h2.3m17.7 -179h2.3m-180.3 -179h2.3m108.7 147h2.3m-252.3 142h2.3m240.7 45h2.3m36.7 -142h2.3m-196.3 81h2.3m-76.3 -28h2.3m253.7 62h2.3m-315.3 53h2.3m275.7 -224h2.3m-182.3 433h2.3m280.7 -335h2.3m-73.3 -4h2.3m-176.3 -160h2.3m41.7 82h2.3m-115.3 209h2.3m136.7 11h2.3m-165.3 -242h2.3m240.7 -119h2.3m-146.3 382h2.3m113.7 -205h2.3m-50.3 -107h2.3m-93.3 256h2.3m183.7 -371h2.3m-12.3 -25h2.3m7.7 164h2.3m-159.3 -144h2.3m44.7 233h2.3m-92.3 136h2.3m167.7 -103h2.3m33.7 -166h2.3m86.7 183h2.3m-250.3 -104h2.3m45.7 35h2.3m121.7 191h2.3m-156.3 -305h2.3m-6.3 190h2.3m219.7 180h2.3m-189.3 -86h2.3m15.7 -127h2.3m-23.3 76h2.3m209.7 100h2.3m-147.3 -82h2.3m-62.3 125h2.3m115.7 -350h2.3m-190.3 7h2.3m234.7 159h2.3m50.7 -108h2.3m-155.3 40h2.3m-118.3 -346h2.3m71.7 483h2.3m68.7 -116h2.3m9.7 167h2.3m-150.3 2h2.3m57.7 -66h2.3m-91.3 -161h2.3m25.7 -68h2.3m101.7 106h2.3m89.7 61h2.3m-104.3 -6h2.3m-24.3 -109h2.3m30.7 25h2.3m5.7 22h2.3m-83.3 -104h2.3m26.7 -64h2.3m22.7 161h2.3m28.7 -54h2.3m-38.3 135h2.3m27.7 -150h2.3m22.7 37h2.3m-12.3 31h2.3m-53.3 -89h2.3m6.7 342h2.3m-18.3 -80h2.3m59.7 -182h2.3m-9.3 168h2.3m-47.3 -181h2.3m42.7 84h2.3m29.7 7h2.3m-105.3 -45h2.3m-3.3 75h2.3m56.7 -110h2.3m-52.3 124h2.3m13.7 31h2.3m-21.3 -142h2.3m11.7 -72h2.3m100.7 257h2.3m-108.3 -84h2.3m-39.3 44h2.3m88.7 -151h2.3m-47.3 56h2.3m23.7 -58h2.3m-44.3 10h2.3m11.7 99h2.3m13.7 -52h2.3m-57.3 -58h2.3m37.7 -13h2.3m6.7 20h2.3m-47.3 118h2.3m74.7 -138h2.3m-11.3 -39h2.3m-61.3 69h2.3m85.7 10h2.3m-99.3 32h2.3m28.7 -90h2.3m26.7 -97h2.3m-70.3 27h2.3m88.7 148h2.3m-55.3 -73h2.3m37.7 183h2.3m-46.3 -93h2.3m95.7 32h2.3m-87.3 -25h2.3m11.7 32h2.3m5.7 -110h2.3m-17.3 82h2.3m-20.3 -28h2.3m-9.3 110h2.3m75.7 -199h2.3m-25.3 98h2.3m-25.3 -40h2.3m2.7 119h2.3m-49.3 1h2.3m27.7 -200h2.3m4.7 164h2.3m-3.3 -32h2.3m-10.3 -79h2.3m39.7 -37h2.3m-2.3 120h2.3m-42.3 -53h2.3m-2.3 18h2.3m4.7 -10h2.3m-61.3 -185h2.3m68.7 139h2.3m-30.3 43h2.3m-19.3 161h2.3m32.7 -161h2.3m-35.3 99h2.3m52.7 57h2.3m3.7 -216h2.3m-70.3 204h2.3m16.7 -138h2.3m13.7 57h2.3m19.7 -143h2.3m-39.3 -66h2.3m34.7 147h2.3m-72.3 112h2.3m50.7 -191h2.3m-15.3 40h2.3m13.7 74h2.3m-23.3 20h2.3m-65.3 -71h2.3m98.7 120h2.3m2.7 -185h2.3m-80.3 65h2.3m120.7 56h2.3m-95.3 -180h2.3m24.7 113h2.3m8.7 60h2.3m-90.3 -29h2.3m94.7 -44h2.3m-63.3 -53h2.3m-6.3 311h2.3m81.7 -260h2.3m-3.3 -42h2.3m-61.3 29h2.3m8.7 130h2.3m65.7 7h2.3m-68.3 -53h2.3m-6.3 19h2.3m-21.3 -11h2.3m37.7 64h2.3m-41.3 -48h2.3m31.7 -114h2.3m-71.3 24h2.3m84.7 25h2.3m40.7 78h2.3m-94.3 -62h2.3m33.7 54h2.3m-23.3 -2h2.3m95.7 42h2.3m-88.3 -128h2.3m-62.3 60h2.3m40.7 -21h2.3m-7.3 75h2.3m47.7 -135h2.3m-77.3 93h2.3m82.7 9h2.3m-30.3 -166h2.3m-34.3 182h2.3m25.7 -55h2.3m4.7 80h2.3m-17.3 -144h2.3m-48.3 84h2.3m35.7 -35h2.3m36.7 -44h2.3m-44.3 120h2.3m-21.3 -257h2.3m7.7 271h2.3m-3.3 -97h2.3m-41.3 132h2.3m1.7 -170h2.3m44.7 239h2.3m6.7 -244h2.3m-51.3 37h2.3m5.7 -28h2.3m36.7 168h2.3m-37.3 13h2.3m-27.3 53h2.3m36.7 -211h2.3m2.7 55h2.3m10.7 -52h2.3m-21.3 -19h2.3m20.7 1h2.3m-25.3 -83h2.3m19.7 176h2.3m-34.3 47h2.3m27.7 -82h2.3m-53.3 47h2.3m87.7 120h2.3m-59.3 -182h2.3m38.7 54h2.3m-43.3 -43h2.3m46.7 46h2.3m-34.3 44h2.3m-45.3 -56h2.3m22.7 -72h2.3m41.7 191h2.3m-12.3 -147h2.3m33.7 58h2.3m-119.3 -124h2.3m44.7 -6h2.3m-27.3 120h2.3m47.7 99h2.3m-15.3 -146h2.3m-16.3 81h2.3m57.7 60h2.3m-9.3 -204h2.3m3.7 -30h2.3m-57.3 65h2.3m78.7 -46h2.3m-94.3 85h2.3m62.7 30h2.3m-21.3 -127h2.3m-30.3 191h2.3m12.7 -173h2.3m-16.3 179h2.3m59.7 -83h2.3m-78.3 113h2.3m3.7 -141h2.3m29.7 -10h2.3m-20.3 146h2.3m12.7 -273h2.3m-30.3 246h2.3m10.7 -210h2.3m29.7 136h2.3m-28.3 7h2.3m-14.3 -34h2.3m26.7 -67h2.3m16.7 -44h2.3m22.7 101h2.3m-53.3 -115h2.3m10.7 34h2.3m-11.3 76h2.3m-41.3 157h2.3m26.7 -205h2.3m-18.3 75h2.3m10.7 48h2.3m-21.3 -57h2.3m0.7 -82h2.3m36.7 -10h2.3m-75.3 132h2.3m30.7 -9h2.3m28.7 -5h2.3m-15.3 94h2.3m-36.3 -35h2.3m24.7 -77h2.3m-10.3 51h2.3m24.7 -117h2.3m-15.3 83h2.3m-8.3 178h2.3m19.7 -256h2.3m10.7 59h2.3m-48.3 -54h2.3m-34.3 98h2.3m90.7 -75h2.3m-71.3 -146h2.3m-14.3 153h2.3m14.7 -14h2.3m-8.3 0h2.3m15.7 31h2.3m7.7 0h2.3m-29.3 -42h2.3m-14.3 -19h2.3m32.7 83h2.3m-41.3 -124h2.3m21.7 -23h2.3m4.7 90h2.3m-15.3 162h2.3m6.7 -123h2.3m-42.3 52h2.3m59.7 -56h2.3m-75.3 -23h2.3m41.7 41h2.3m16.7 -83h2.3m-15.3 157h2.3m43.7 -262h2.3m-48.3 208h2.3m-1.3 -28h2.3m0.7 117h2.3m28.7 -161h2.3m17.7 74h2.3m5.7 -99h2.3m-96.3 112h2.3m42.7 -226h2.3m-116.3 163h2.3m112.7 -80h2.3m-18.3 81h2.3m-29.3 102h2.3m0.7 -109h2.3m35.7 -47h2.3m-25.3 120h2.3m-27.3 -77h2.3m93.7 -67h2.3m-96.3 23h2.3m-43.3 -24h2.3m49.7 -6h2.3m5.7 126h2.3m25.7 -144h2.3m34.7 4h2.3m2.7 44h2.3m-73.3 2h2.3m67.7 52h2.3m-46.3 -159h2.3m-2.3 120h2.3m-12.3 -43h2.3m-38.3 184h2.3m15.7 -60h2.3m43.7 -39h2.3m-15.3 43h2.3m-16.3 -65h2.3m17.7 24h2.3m-21.3 -258h2.3m5.7 130h2.3m33.7 223h2.3m-30.3 -89h2.3m-70.3 -39h2.3m35.7 180h2.3m-19.3 37h2.3m32.7 -384h2.3m56.7 164h2.3m-45.3 118h2.3m-60.3 -142h2.3m48.7 157h2.3m-11.3 -61h2.3m-49.3 -5h2.3m22.7 -79h2.3m27.7 112h2.3m-25.3 -42h2.3m8.7 18h2.3m-6.3 69h2.3m-20.3 -218h2.3m66.7 28h2.3m-20.3 128h2.3m-72.3 -90h2.3m33.7 15h2.3m-32.3 28h2.3m47.7 -115h2.3m-7.3 118h2.3m-54.3 -26h2.3m75.7 73h2.3m-62.3 -136h2.3m31.7 105h2.3m20.7 -29h2.3m-2.3 -67h2.3m28.7 43h2.3m-86.3 -35h2.3m-27.3 -17h2.3m41.7 111h2.3m40.7 -121h2.3m-58.3 139h2.3m50.7 6h2.3m-25.3 -172h2.3m-26.3 -36h2.3m-7.3 251h2.3m65.7 -137h2.3m-31.3 146h2.3m-52.3 -244h2.3m9.7 -67h2.3m37.7 181h2.3m-31.3 13h2.3m20.7 -8h2.3m-53.3 60h2.3m17.7 -32h2.3m-6.3 -25h2.3m-28.3 10h2.3m34.7 84h2.3m-17.3 -175h2.3m42.7 -98h2.3m-4.3 169h2.3m-35.3 16h2.3m2.7 -91h2.3m27.7 2h2.3m-20.3 63h2.3m-27.3 -40h2.3m27.7 25h2.3m29.7 109h2.3m-56.3 12h2.3m-59.3 63h2.3m29.7 -267h2.3m68.7 -32h2.3m-56.3 175h2.3m-42.3 -42h2.3m85.7 -51h2.3m14.7 -15h2.3m-3.3 116h2.3m-41.3 -58h2.3m-35.3 116h2.3m-8.3 -95h2.3m54.7 43h2.3m-3.3 -99h2.3m-61.3 77h2.3m31.7 75h2.3m-56.3 -97h2.3m67.7 -41h2.3m-62.3 44h2.3m76.7 -64h2.3m-60.3 -28h2.3m-4.3 -70h2.3m120.7 140h2.3m-60.3 126h2.3m-55.3 -54h2.3m69.7 69h2.3m-26.3 -184h2.3m-51.3 69h2.3m62.7 -68h2.3m-28.3 169h2.3m1.7 -104h2.3m-45.3 63h2.3m7.7 -29h2.3m-8.3 -81h2.3m-0.3 -43h2.3m38.7 -32h2.3m-18.3 83h2.3m0.7 -108h2.3m-16.3 153h2.3m39.7 86h2.3m-33.3 -97h2.3m-12.3 98h2.3m35.7 -37h2.3m-5.3 -189h2.3m-9.3 313h2.3m-27.3 -229h2.3m35.7 -115h2.3m-8.3 63h2.3m-23.3 1h2.3m27.7 109h2.3m-64.3 -7h2.3m56.7 139h2.3m-36.3 -156h2.3m35.7 33h2.3m-64.3 160h2.3m-32.3 -143h2.3m93.7 12h2.3m-42.3 46h2.3m-38.3 -84h2.3m24.7 91h2.3m13.7 -81h2.3m20.7 112h2.3m-75.3 110h2.3m45.7 -271h2.3m37.7 -176h2.3m-89.3 244h2.3m13.7 -129h2.3m9.7 239h2.3m7.7 -59h2.3m17.7 -76h2.3m-22.3 -57h2.3m2.7 130h2.3m-14.3 -74h2.3m17.7 10h2.3m-7.3 -170h2.3m-0.3 20h2.3m4.7 129h2.3m-34.3 -94h2.3m37.7 71h2.3m-42.3 -130h2.3m56.7 120h2.3m-72.3 149h2.3m38.7 -319h2.3m-22.3 350h2.3m-6.3 -198h2.3m28.7 131h2.3m-52.3 -126h2.3m7.7 13h2.3m-23.3 -15h2.3m53.7 -76h2.3m8.7 180h2.3m-10.3 24h2.3m-48.3 -206h2.3m54.7 133h2.3m-23.3 89h2.3m-53.3 -90h2.3m34.7 -80h2.3m-26.3 85h2.3m33.7 110h2.3m12.7 15h2.3m93.7 -241h2.3m-223.3 127h2.3m-147.3 -47h2.3m41.7 71h2.3m105.7 167h2.3m-24.3 11h2.3m23.7 -153h2.3m-83.3 -162h2.3m-166.3 133h2.3m166.7 59h2.3m56.7 -236h2.3m-126.3 21h2.3m200.7 149h2.3m-107.3 -118h2.3m-168.3 48h2.3m136.7 154h2.3m-170.3 -19h2.3m75.7 -127h2.3m59.7 14h2.3m91.7 193h2.3m-16.3 -210h2.3m6.7 136h2.3m49.7 -16h2.3m-295.3 -152h2.3m141.7 249h2.3m28.7 -2h2.3m48.7 -310h2.3m-31.3 257h2.3m40.7 -301h2.3m-0.3 133h2.3m-302.3 2h2.3m13.7 -104h2.3m401.7 553h2.3m-47.3 -300h2.3m96.7 -14h2.3m-342.3 -414h2.3m220.7 30h2.3m-448.3 237h2.3m343.7 -31h2.3m113.7 115h2.3m-100.3 79h2.3m-97.3 -35h2.3m344.7 -170h2.3m-259.3 218h2.3m-86.3 -86h2.3m-141.3 -57h2.3m206.7 231h2.3m105.7 -252h2.3m-247.3 359h2.3m235.7 -557h2.3m-148.3 150h2.3m-34.3 -121h2.3m19.7 179h2.3m19.7 233h2.3m53.7 -338h2.3m-237.3 103h2.3m343.7 220h2.3m-210.3 34h2.3m119.7 -264h2.3m-2.3 79h2.3m-187.3 -53h2.3m150.7 263h2.3m-145.3 -162h2.3m124.7 -43h2.3m-151.3 197h2.3m300.7 51h2.3m-102.3 -18h2.3m6.7 -72h2.3m-107.3 -116h2.3m-1.3 -192h2.3m-15.3 -10h2.3m-84.3 110h2.3m59.7 370h2.3m283.7 -148h2.3m-120.3 -292h2.3m-64.3 -88h2.3m-111.3 145h2.3m29.7 202h2.3m-53.3 234h2.3m31.7 -235h2.3m-131.3 9h2.3m39.7 -107h2.3m145.7 94h2.3m71.7 -65h2.3m-93.3 236h2.3m-40.3 -293h2.3m-3.3 19h2.3m-62.3 -83h2.3m174.7 -25h2.3m-6.3 -1h2.3m112.7 68h2.3m38.7 95h2.3m-230.3 68h2.3m153.7 88h2.3m25.7 -96h2.3m-312.3 6h2.3m128.7 -80h2.3m161.7 -169h2.3m5.7 470h2.3m-96.3 -409h2.3m96.7 75h2.3m-41.3 162h2.3m-312.3 -141h2.3m-3.3 -155h2.3m254.7 -75h2.3m-163.3 112h2.3m122.7 121h2.3m13.7 -129h2.3m-147.3 138h2.3m-16.3 -184h2.3m186.7 2h2.3m-196.3 290h2.3m101.7 -508h2.3m-88.3 632h2.3m431.7 -340h2.3m-260.3 156h2.3m-49.3 -386h2.3m80.7 317h2.3m-152.3 -286h2.3m-50.3 226h2.3m43.7 52h2.3m-18.3 116h2.3m119.7 -324h2.3m-150.3 237h2.3m3.7 147h2.3m-1.3 -174h2.3m135.7 -208h2.3m75.7 139h2.3m-239.3 -73h2.3m-120.3 -100h2.3m381.7 185h2.3m-216.3 49h2.3m100.7 -149h2.3m-96.3 161h2.3m144.7 -3h2.3m75.7 -71h2.3m-243.3 -176h2.3m33.7 305h2.3m-27.3 -123h2.3m-90.3 -62h2.3m61.7 75h2.3m180.7 90h2.3m-21.3 100h2.3m-168.3 24h2.3m58.7 -399h2.3m-80.3 185h2.3m-114.3 359h2.3m176.7 -217h2.3m-142.3 -114h2.3m173.7 -129h2.3m-2.3 114h2.3m11.7 -182h2.3m14.7 139h2.3m-166.3 -288h2.3m76.7 274h2.3m305.7 -125h2.3m-108.3 369h2.3m-132.3 -150h2.3m8.7 -260h2.3m107.7 174h2.3m-261.3 47h2.3m-244.3 -198h2.3m186.7 -37h2.3m208.7 475h2.3m-70.3 -288h2.3m34.7 -27h2.3m-25.3 136h2.3m-46.3 -123h2.3m33.7 71h2.3m70.7 -236h2.3m-218.3 154h2.3m190.7 -122h2.3m83.7 410h2.3m-235.3 -48h2.3m-165.3 -183h2.3m54.7 176h2.3m292.7 -85h2.3m-174.3 -247h2.3m117.7 92h2.3m27.7 -163h2.3m-32.3 316h2.3m-326.3 -268h2.3m184.7 100h2.3m-124.3 92h2.3m68.7 -14h2.3m-87.3 -166h2.3m300.7 -80h2.3m-90.3 474h2.3m99.7 -416h2.3m166.7 115h2.3m-157.3 227h2.3m-152.3 -49h2.3m-295.3 -81h2.3m347.7 -66h2.3m-6.3 212h2.3m95.7 -254h2.3m-20.3 270h2.3m-83.3 -118h2.3m-310.3 -295h2.3m336.7 11h2.3m54.7 400h2.3m-223.3 -350h2.3m91.7 208h2.3m120.7 -68h2.3m-97.3 -115h2.3m27.7 33h2.3m83.7 221h2.3m-319.3 -54h2.3m62.7 93h2.3m4.7 45h2.3m249.7 104h2.3m-90.3 -286h2.3m103.7 -191h2.3m-153.3 136h2.3m-4.3 -190h2.3m-197.3 -19h2.3m375.7 205h2.3m-103.3 32h2.3m-106.3 214h2.3m-252.3 -229h2.3m181.7 -105h2.3m-101.3 -92h2.3m46.7 394h2.3m59.7 -234h2.3m58.7 163h2.3m142.7 -64h2.3m-125.3 50h2.3m-98.3 -46h2.3m295.7 -130h2.3m-307.3 -133h2.3m106.7 324h2.3m-60.3 -143h2.3m190.7 54h2.3m-60.3 -59h2.3m69.7 191h2.3m-174.3 -225h2.3m318.7 -71h2.3m-421.3 -212h2.3m195.7 382h2.3m-94.3 -237h2.3m9.7 110h2.3m-144.3 82h2.3m174.7 15h2.3m-99.3 131h2.3m86.7 -164h2.3m37.7 100h2.3m38.7 79h2.3m-23.3 -212h2.3m66.7 238h2.3m-224.3 36h2.3m73.7 -334h2.3m-17.3 -42h2.3m135.7 3h2.3m38.7 59h2.3m-193.3 319h2.3m55.7 -434h2.3m-59.3 -26h2.3m93.7 119h2.3m-93.3 132h2.3m-170.3 69h2.3m387.7 -185h2.3m-281.3 191h2.3m209.7 -185h2.3m-122.3 184h2.3m98.7 -175h2.3m165.7 425h2.3m-456.3 -421h2.3m202.7 24h2.3m-107.3 95h2.3m-26.3 -91h2.3m109.7 32h2.3m15.7 215h2.3m87.7 -141h2.3m108.7 -72h2.3m-140.3 326h2.3m-84.3 -146h2.3m-81.3 -205h2.3m77.7 156h2.3m17.7 27h2.3m-7.3 -111h2.3m-112.3 -3h2.3m75.7 15h2.3m-136.3 188h2.3m255.7 -152h2.3m-187.3 128h2.3m26.7 -197h2.3m94.7 -45h2.3m-56.3 10h2.3m53.7 134h2.3m10.7 2h2.3m-47.3 -8h2.3m52.7 -197h2.3m-233.3 152h2.3m154.7 -47h2.3m154.7 105h2.3m-31.3 -54h2.3m-309.3 -214h2.3m284.7 207h2.3m-185.3 181h2.3m255.7 -130h2.3m-53.3 -103h2.3m-262.3 -195h2.3m234.7 15h2.3m-176.3 236h2.3m112.7 -283h2.3m-98.3 154h2.3m195.7 91h2.3m-249.3 276h2.3m92.7 -133h2.3m16.7 -138h2.3m46.7 -82h2.3m-249.3 9h2.3m231.7 40h2.3m48.7 160h2.3m-102.3 57h2.3m17.7 -114h2.3m-78.3 -62h2.3m21.7 168h2.3m189.7 5h2.3m-157.3 -175h2.3m-1.3 -65h2.3m-33.3 34h2.3m-5.3 -295h2.3m1.7 438h2.3m-126.3 161h2.3m138.7 -337h2.3m144.7 -56h2.3m147.7 35h2.3m-207.3 310h2.3m-30.3 -188h2.3m-164.3 -40h2.3m104.7 163h2.3m-284.3 -53h2.3m124.7 -178h2.3m115.7 -2h2.3m79.7 -145h2.3m-17.3 89h2.3m-100.3 136h2.3m-123.3 71h2.3m407.7 -155h2.3m-352.3 312h2.3m293.7 -514h2.3m-236.3 179h2.3m57.7 103h2.3m-138.3 -49h2.3m242.7 -72h2.3m-104.3 226h2.3m170.7 -30h2.3m-173.3 -198h2.3m-1.3 331h2.3m21.7 -16h2.3m-109.3 -64h2.3m22.7 -215h2.3m-45.3 275h2.3m137.7 -200h2.3m-99.3 143h2.3m-24.3 47h2.3m84.7 -245h2.3m-59.3 -70h2.3m-105.3 79h2.3m65.7 20h2.3m-33.3 -44h2.3m122.7 -96h2.3m-332.3 439h2.3m302.7 -219h2.3m119.7 137h2.3m30.7 -27h2.3m-80.3 -67h2.3m-106.3 -87h2.3m-403.3 256h2.3m399.7 -383h2.3m145.7 42h2.3m-92.3 -22h2.3m-180.3 286h2.3m147.7 -388h2.3m58.7 357h2.3m-112.3 -28h2.3m181.7 67h2.3m-79.3 -57h2.3m112.7 -81h2.3m-222.3 -71h2.3m403.7 -107h2.3m-374.3 -122h2.3m-9.3 242h2.3m-8.3 139h2.3m180.7 -80h2.3m-268.3 -106h2.3m92.7 -33h2.3m-12.3 183h2.3m30.7 218h2.3m-220.3 -276h2.3m313.7 -179h2.3m-324.3 464h2.3m308.7 -225h2.3m24.7 -225h2.3m-274.3 374h2.3m143.7 -464h2.3m-31.3 465h2.3m-111.3 -463h2.3m-149.3 210h2.3m257.7 -73h2.3m-57.3 54h2.3m-11.3 -43h2.3m186.7 88h2.3m-56.3 -274h2.3m-170.3 419h2.3m122.7 2h2.3m-191.3 -57h2.3m102.7 -93h2.3m-17.3 -141h2.3m-45.3 120h2.3m243.7 -136h2.3m-194.3 12h2.3m-30.3 242h2.3m44.7 -237h2.3m130.7 190h2.3m-43.3 -29h2.3m-112.3 97h2.3m-5.3 -86h2.3m88.7 135h2.3m-39.3 -49h2.3m-183.3 -100h2.3m219.7 -4h2.3m-261.3 93h2.3m161.7 -207h2.3m252.7 66h2.3m-75.3 -217h2.3m-30.3 280h2.3m-49.3 -169h2.3m4.7 111h2.3m115.7 -45h2.3m-349.3 228h2.3m59.7 -186h2.3m211.7 278h2.3m-24.3 -140h2.3m-46.3 -87h2.3m-31.3 29h2.3m-100.3 -16h2.3m239.7 -8h2.3m-155.3 87h2.3m-86.3 -140h2.3m362.7 150h2.3m-176.3 -136h2.3m-175.3 -148h2.3m84.7 354h2.3m-12.3 -66h2.3m-28.3 -107h2.3m75.7 414h2.3m-31.3 -561h2.3m90.7 131h2.3m-46.3 -103h2.3m38.7 4h2.3m-61.3 43h2.3m-134.3 144h2.3m132.7 -380h2.3m30.7 411h2.3m-62.3 -67h2.3m8.7 -6h2.3m-75.3 108h2.3m182.7 -274h2.3m-139.3 -11h2.3m-63.3 273h2.3m54.7 -109h2.3m-49.3 310h2.3m176.7 -284h2.3m-114.3 197h2.3m113.7 -210h2.3m-162.3 -208h2.3m174.7 412h2.3m113.7 -206h2.3m-171.3 -324h2.3m-28.3 175h2.3m-174.3 -12h2.3m-8.3 45h2.3m161.7 -27h2.3m-107.3 81h2.3m272.7 133h2.3m-307.3 2h2.3m260.7 -136h2.3m-109.3 178h2.3m-249.3 -134h2.3m146.7 97h2.3m163.7 -188h2.3m-329.3 -3h2.3m173.7 -22h2.3m24.7 -75h2.3m30.7 275h2.3m167.7 -123h2.3m-117.3 -84h2.3m-197.3 -13h2.3m62.7 -71h2.3m-195.3 507h2.3m170.7 -322h2.3m52.7 -62h2.3m-48.3 224h2.3m53.7 -3h2.3m-170.3 -91h2.3m29.7 -254h2.3m186.7 220h2.3m-6.3 56h2.3m-308.3 -12h2.3m441.7 -54h2.3m-110.3 180h2.3m90.7 -561h2.3m-241.3 334h2.3m3.7 179h2.3m-116.3 -507h2.3m172.7 313h2.3m86.7 196h2.3m-80.3 33h2.3m-194.3 -202h2.3m-6.3 279h2.3m120.7 -131h2.3m80.7 -32h2.3m60.7 54h2.3m-28.3 -145h2.3m-7.3 -288h2.3m-190.3 481h2.3m165.7 -409h2.3m-212.3 29h2.3m97.7 295h2.3m40.7 -13h2.3m-148.3 -125h2.3m164.7 75h2.3m61.7 -43h2.3m8.7 158h2.3m-39.3 -346h2.3m-136.3 49h2.3m253.7 235h2.3m-173.3 -196h2.3m-76.3 295h2.3m44.7 -297h2.3m-72.3 182h2.3m-125.3 -175h2.3m281.7 195h2.3m-7.3 -160h2.3m25.7 280h2.3m-193.3 -356h2.3m52.7 134h2.3m-20.3 -105h2.3m-199.3 215h2.3m134.7 -120h2.3m58.7 94h2.3m-84.3 -259h2.3m146.7 170h2.3m-67.3 46h2.3m-3.3 -107h2.3m-80.3 47h2.3m237.7 -17h2.3m-114.3 158h2.3m-42.3 -230h2.3m55.7 330h2.3m-57.3 -247h2.3m78.7 -53h2.3m-81.3 245h2.3m-156.3 -112h2.3m298.7 107h2.3m-80.3 -109h2.3m-94.3 -313h2.3m87.7 270h2.3m21.7 163h2.3m237.7 -114h2.3m-94.3 -45h2.3m-158.3 -167h2.3m-12.3 53h2.3m-7.3 -108h2.3m99.7 -20h2.3m-74.3 -78h2.3m-58.3 330h2.3m93.7 181h2.3m-236.3 -239h2.3m109.7 26h2.3m163.7 -93h2.3m-262.3 -2h2.3m220.7 -23h2.3m-312.3 47h2.3m339.7 290h2.3m-213.3 -320h2.3m160.7 240h2.3m-90.3 -136h2.3m89.7 -231h2.3m71.7 72h2.3m-387.3 335h2.3m224.7 -69h2.3m-185.3 -72h2.3m208.7 -14h2.3m-18.3 -40h2.3m-26.3 -159h2.3m233.7 95h2.3m-379.3 116h2.3m113.7 -152h2.3m393.7 166h2.3m-574.3 -129h2.3m158.7 59h2.3m113.7 80h2.3m143.7 -126h2.3m-253.3 217h2.3m172.7 -192h2.3m-202.3 203h2.3m133.7 2h2.3m17.7 -559h2.3m227.7 409h2.3m-116.3 -148h2.3m104.7 -39h2.3m-62.3 29h2.3m-144.3 -237h2.3m-193.3 193h2.3m280.7 -61h2.3m-362.3 -18h2.3m289.7 -66h2.3m-93.3 273h2.3m272.7 -117h2.3m-138.3 -108h2.3m-89.3 99h2.3m-65.3 -80h2.3m322.7 -93h2.3m-319.3 268h2.3m149.7 -140h2.3m-160.3 -138h2.3m263.7 -102h2.3m-99.3 176h2.3m-74.3 -133h2.3m126.7 234h2.3m-81.3 -15h2.3m-217.3 -22h2.3m237.7 -22h2.3m-478.3 -2h2.3m424.7 -89h2.3m-8.3 211h2.3m-22.3 2h2.3m-61.3 -179h2.3m102.7 -14h2.3m-258.3 107h2.3m219.7 22h2.3m-116.3 -89h2.3m175.7 -5h2.3m-95.3 63h2.3m-72.3 1h2.3m-96.3 22h2.3m541.7 13h2.3m-406.3 -198h2.3m-102.3 117h2.3m48.7 68h2.3m118.7 24h2.3m-51.3 3h2.3m206.7 -149h2.3m-195.3 67h2.3m-0.3 112h2.3m-35.3 -178h2.3m-132.3 -51h2.3m159.7 207h2.3m17.7 -148h2.3m-31.3 -9h2.3m152.7 90h2.3m55.7 47h2.3m-110.3 -139h2.3m-18.3 48h2.3m-139.3 50h2.3m280.7 28h2.3m49.7 15h2.3m-442.3 -103h2.3m421.7 96h2.3m-236.3 -89h2.3m9.7 76h2.3m-78.3 -41h2.3m88.7 -88h2.3m-70.3 30h2.3m-51.3 -13h2.3m-1.3 6h2.3m303.7 56h2.3m-180.3 -53h2.3m-31.3 106h2.3m185.7 111h2.3m-264.3 4h2.3m65.7 -47h2.3m-20.3 -42h2.3m-5.3 -179h2.3m82.7 90h2.3m-91.3 49h2.3m79.7 190h2.3m-204.3 -254h2.3m14.7 149h2.3m80.7 -157h2.3m94.7 57h2.3m6.7 -133h2.3m-69.3 177h2.3m-79.3 55h2.3m60.7 -172h2.3m-43.3 111h2.3m182.7 -86h2.3m-62.3 12h2.3m-190.3 -55h2.3m206.7 45h2.3m-76.3 178h2.3m104.7 -174h2.3m-164.3 57h2.3m-234.3 33h2.3m172.7 6h2.3m-1.3 -91h2.3m191.7 84h2.3m122.7 -94h2.3m-307.3 166h2.3m142.7 -225h2.3m-130.3 133h2.3m-5.3 -158h2.3m65.7 160h2.3m152.7 56h2.3m-63.3 -163h2.3m-255.3 -17h2.3m221.7 162h2.3m-311.3 -29h2.3m346.7 81h2.3m-19.3 -47h2.3m-68.3 -106h2.3m-50.3 21h2.3m-129.3 -6h2.3m269.7 -18h2.3m26.7 -47h2.3m-104.3 8h2.3m77.7 126h2.3m-15.3 9h2.3m-60.3 25h2.3m-41.3 -301h2.3m-11.3 250h2.3m-309.3 56h2.3m278.7 -12h2.3m-30.3 -72h2.3m-70.3 -36h2.3m-95.3 42h2.3m145.7 -77h2.3m-46.3 -27h2.3m87.7 72h2.3m-38.3 124h2.3m-100.3 -150h2.3m-33.3 13h2.3m141.7 -131h2.3m63.7 -20h2.3m-113.3 149h2.3m-100.3 138h2.3m183.7 -226h2.3m23.7 144h2.3m-121.3 -104h2.3m188.7 266h2.3m-91.3 -14h2.3m-250.3 -320h2.3m226.7 85h2.3m17.7 211h2.3m-165.3 -120h2.3m124.7 -147h2.3m-27.3 14h2.3m-5.3 221h2.3m163.7 -34h2.3m-118.3 -134h2.3m244.7 45h2.3m-210.3 88h2.3m-76.3 -49h2.3m11.7 -11h2.3m116.7 -144h2.3m-105.3 69h2.3m-40.3 76h2.3m211.7 -209h2.3m26.7 128h2.3m-328.3 -12h2.3m127.7 75h2.3m-250.3 -153h2.3m346.7 129h2.3m-371.3 -12h2.3m202.7 149h2.3m-66.3 -177h2.3m47.7 80h2.3m112.7 23h2.3m157.7 -64h2.3m-22.3 18h2.3m-104.3 74h2.3m127.7 -164h2.3m53.7 -81h2.3m-308.3 149h2.3m14.7 134h2.3m-216.3 -219h2.3m335.7 246h2.3m-264.3 -196h2.3m221.7 102h2.3m-284.3 -64h2.3m124.7 -92h2.3m43.7 32h2.3m-145.3 262h2.3m93.7 -280h2.3m306.7 56h2.3m-297.3 -184h2.3m-146.3 339h2.3m89.7 -160h2.3m78.7 54h2.3m273.7 -156h2.3m-456.3 276h2.3m297.7 -70h2.3m76.7 -70h2.3m-78.3 100h2.3m92.7 -74h2.3m-338.3 -81h2.3m119.7 28h2.3m173.7 -60h2.3m-85.3 56h2.3m-43.3 163h2.3m107.7 -176h2.3m-133.3 135h2.3m-0.3 6h2.3m164.7 -123h2.3m-99.3 201h2.3m6.7 -227h2.3m88.7 58h2.3m-208.3 36h2.3m127.7 -81h2.3m-54.3 100h2.3m59.7 -58h2.3m-204.3 13h2.3m143.7 10h2.3m64.7 11h2.3m-295.3 20h2.3m289.7 -193h2.3m-26.3 220h2.3m-37.3 -27h2.3m-156.3 0h2.3m158.7 -122h2.3m14.7 161h2.3m-105.3 82h2.3m67.7 -144h2.3m35.7 -2h2.3m-84.3 -59h2.3m-211.3 -75h2.3m219.7 238h2.3m-76.3 -334h2.3m149.7 113h2.3m-206.3 125h2.3m129.7 -17h2.3m-91.3 -69h2.3m133.7 127h2.3m25.7 14h2.3m4.7 -113h2.3m-42.3 33h2.3m-169.3 145h2.3m247.7 -192h2.3m-199.3 59h2.3m54.7 -37h2.3m-29.3 145h2.3m-16.3 -178h2.3m198.7 40h2.3m-209.3 -46h2.3m38.7 36h2.3m-30.3 8h2.3m54.7 -94h2.3m193.7 160h2.3m33.7 -240h2.3m8.7 -49h2.3m22.7 185h2.3m-46.3 22h2.3m-22.3 -27h2.3m37.7 51h2.3m-10.3 -233h2.3m-6.3 -33h2.3m-4.3 86h2.3m-20.3 158h2.3m48.7 84h2.3m-45.3 -218h2.3m-13.3 -19h2.3m17.7 117h2.3m-13.3 -50h2.3m-15.3 -61h2.3m43.7 212h2.3m-17.3 -144h2.3m-8.3 -88h2.3m-27.3 136h2.3m-1.3 -14h2.3m-4.3 -55h2.3m49.7 76h2.3m-34.3 -38h2.3m-29.3 76h2.3m11.7 -198h2.3m-1.3 99h2.3m-1.3 -80h2.3m18.7 92h2.3m11.7 69h2.3m-3.3 -217h2.3m-22.3 186h2.3m12.7 -94h2.3m-7.3 157h2.3m-30.3 -217h2.3m-1.3 121h2.3m-7.3 -24h2.3m9.7 -113h2.3m-26.3 363h2.3m52.7 -136h2.3m-53.3 -19h2.3m19.7 -236h2.3m-6.3 86h2.3m37.7 69h2.3m-32.3 35h2.3m6.7 -189h2.3m9.7 163h2.3m-4.3 162h2.3m-27.3 70h2.3m-2.3 -288h2.3m-35.3 184h2.3m33.7 -216h2.3m-9.3 126h2.3m27.7 17h2.3m-26.3 -154h2.3m-32.3 2h2.3m40.7 28h2.3m23.7 152h2.3m-42.3 -51h2.3m6.7 -141h2.3m-12.3 -83h2.3m-1.3 283h2.3m-5.3 75h2.3m2.7 -107h2.3m9.7 -155h2.3m-31.3 120h2.3m32.7 -50h2.3m-19.3 -311h2.3m-11.3 415h2.3m28.7 -60h2.3m-36.3 55h2.3m6.7 -9h2.3m29.7 -190h2.3m-33.3 131h2.3m9.7 -16h2.3m5.7 90h2.3m-27.3 -114h2.3m25.7 -106h2.3m-31.3 -112h2.3m-7.3 445h2.3m51.7 -255h2.3m-7.3 97h2.3m-27.3 -66h2.3m10.7 -146h2.3m3.7 186h2.3m-28.3 -218h2.3m39.7 286h2.3m-39.3 -82h2.3m9.7 -62h2.3m-13.3 140h2.3m-20.3 -160h2.3m30.7 -24h2.3m-38.3 154h2.3m49.7 144h2.3m-56.3 28h2.3m-9.3 -275h2.3m29.7 150h2.3m3.7 -46h2.3m-49.3 -234h2.3m30.7 232h2.3m-2.3 -125h2.3m2.7 175h2.3m-60.3 34h2.3m81.7 -63h2.3m-45.3 -75h2.3m10.7 226h2.3m2.7 -137h2.3m9.7 -72h2.3m-31.3 -202h2.3m-3.3 269h2.3m24.7 -299h2.3m-25.3 213h2.3m18.7 -50h2.3m-23.3 43h2.3m12.7 2h2.3m-24.3 -30h2.3m13.7 -36h2.3m-7.3 40h2.3m-27.3 222h2.3m23.7 -108h2.3m34.7 -51h2.3m-52.3 -40h2.3m-1.3 -36h2.3m24.7 -43h2.3m-4.3 107h2.3m14.7 30h2.3m-14.3 14h2.3m-26.3 -103h2.3m-11.3 -93h2.3m51.7 13h2.3m-18.3 89h2.3m-43.3 28h2.3m32.7 99h2.3m2.7 -110h2.3m-14.3 -68h2.3m-24.3 151h2.3m27.7 -102h2.3m-18.3 -42h2.3m-2.3 -62h2.3m-0.3 123h2.3m-8.3 230h2.3m-13.3 -196h2.3m24.7 -118h2.3m0.7 -10h2.3m-10.3 114h2.3m16.7 -199h2.3m-1.3 488h2.3m-18.3 -424h2.3m-11.3 -18h2.3m9.7 154h2.3m-38.3 177h2.3m14.7 -29h2.3m-4.3 -209h2.3m-18.3 77h2.3m16.7 -138h2.3m32.7 86h2.3m2.7 51h2.3m-72.3 -202h2.3m34.7 355h2.3m-10.3 -297h2.3m-13.3 227h2.3m39.7 -140h2.3m-46.3 -109h2.3m27.7 8h2.3m-16.3 93h2.3m29.7 -181h2.3m-54.3 144h2.3m39.7 10h2.3m-5.3 -30h2.3m-56.3 -17h2.3m55.7 36h2.3m-46.3 31h2.3m2.7 58h2.3m16.7 69h2.3m3.7 169h2.3m-41.3 -135h2.3m-30.3 -58h2.3m42.7 -122h2.3m-1.3 95h2.3m3.7 41h2.3m1.7 27h2.3m43.7 -65h2.3m-39.3 -136h2.3m-5.3 64h2.3m-23.3 -68h2.3m52.7 -110h2.3m-65.3 77h2.3m20.7 85h2.3m7.7 80h2.3m-8.3 -158h2.3m-16.3 227h2.3m29.7 -150h2.3m-12.3 -44h2.3m-29.3 -67h2.3m31.7 379h2.3m-15.3 -160h2.3m7.7 -77h2.3m-54.3 128h2.3m43.7 44h2.3m-10.3 -199h2.3m36.7 247h2.3m-28.3 -349h2.3m-28.3 51h2.3m14.7 81h2.3m-8.3 101h2.3m-26.3 -290h2.3m24.7 255h2.3m-0.3 163h2.3m-11.3 -258h2.3m-0.3 -67h2.3m17.7 143h2.3m9.7 -248h2.3m-53.3 338h2.3m29.7 -145h2.3m-4.3 113h2.3m-20.3 45h2.3m21.7 -143h2.3m-18.3 136h2.3m0.7 -192h2.3m-24.3 2h2.3m22.7 -42h2.3m-14.3 233h2.3m-6.3 -47h2.3m19.7 -376h2.3m0.7 288h2.3m-35.3 -31h2.3m8.7 12h2.3m0.7 122h2.3m12.7 20h2.3m12.7 -207h2.3m-17.3 158h2.3m-31.3 83h2.3m27.7 -144h2.3m-1.3 -97h2.3m-2.3 214h2.3m16.7 -82h2.3m-25.3 -69h2.3m-48.3 -14h2.3m32.7 124h2.3m4.7 -89h2.3m19.7 44h2.3m-14.3 -167h2.3m-20.3 22h2.3m19.7 82h2.3m-27.3 -3h2.3m-0.3 170h2.3m32.7 -63h2.3m-27.3 113h2.3m12.7 -77h2.3m-32.3 -115h2.3m16.7 -166h2.3m-27.3 242h2.3m-10.3 7h2.3m30.7 -77h2.3m-14.3 -25h2.3m30.7 -142h2.3m-28.3 228h2.3m1.7 -99h2.3m-16.3 27h2.3m25.7 -3h2.3m-28.3 -75h2.3m24.7 -45h2.3m-15.3 128h2.3m-14.3 90h2.3m27.7 -67h2.3m-5.3 -3h2.3m-24.3 -111h2.3m-13.3 295h2.3m12.7 -392h2.3m4.7 235h2.3m-27.3 46h2.3m13.7 -331h2.3m-10.3 216h2.3m21.7 43h2.3m-13.3 -38h2.3m-6.3 12h2.3m14.7 21h2.3m-7.3 25h2.3m30.7 -79h2.3m-43.3 -125h2.3m-20.3 249h2.3m-7.3 -105h2.3m5.7 -37h2.3m-12.3 41h2.3m22.7 62h2.3m-25.3 -18h2.3m-17.3 134h2.3m24.7 -61h2.3m-29.3 85h2.3m58.7 -203h2.3m-10.3 18h2.3m-11.3 -28h2.3m-13.3 -141h2.3m-46.3 97h2.3m33.7 347h2.3m-6.3 -74h2.3m-0.3 -338h2.3m-4.3 156h2.3m-13.3 163h2.3m26.7 -363h2.3m6.7 20h2.3m29.7 -7h2.3m-42.3 -9h2.3m-15.3 -8h2.3m-31.3 -8h2.3m64.7 18h2.3m-4.3 -14h2.3m-20.3 15h2.3m7.7 -3h2.3m4.7 13h2.3m7.7 -31h2.3m-66.3 35h2.3m93.7 -9h2.3m-75.3 7h2.3m10.7 -10h2.3m26.7 -1h2.3m-79.3 -8h2.3m56.7 -1h2.3m-8.3 3h2.3m1.7 0h2.3m6.7 1h2.3m-52.3 9h2.3m33.7 -4h2.3m-49.3 -5h2.3m60.7 7h2.3m-57.3 10h2.3m38.7 -13h2.3m-24.3 -1h2.3m21.7 -22h2.3m-24.3 10h2.3m17.7 14h2.3m-12.3 3h2.3m38.7 15h2.3m-75.3 -1h2.3m31.7 -35h2.3m27.7 9h2.3m-51.3 17h2.3m8.7 -7h2.3m33.7 2h2.3m-99.3 -8h2.3m29.7 -9h2.3m-1.3 15h2.3m33.7 -4h2.3m20.7 3h2.3m-35.3 9h2.3m18.7 -8h2.3m11.7 6h2.3m-25.3 -8h2.3m-18.3 -10h2.3m67.7 13h2.3m-120.3 -2h2.3m37.7 -11h2.3m7.7 13h2.3m32.7 -5h2.3m-33.3 7h2.3m-56.3 -21h2.3m19.7 26h2.3m25.7 -21h2.3m-16.3 -2h2.3m27.7 12h2.3m2.7 7h2.3m4.7 -3h2.3m-37.3 0h2.3m10.7 -3h2.3m34.7 -8h2.3m-22.3 12h2.3m-15.3 -10h2.3m-4.3 3h2.3m-28.3 -7h2.3m-18.3 5h2.3m107.7 -6h2.3m-42.3 15h2.3m1.7 7h2.3m-29.3 -5h2.3m-2.3 -5h2.3m-7.3 6h2.3m-47.3 -10h2.3m39.7 -6h2.3m-0.3 26h2.3m-6.3 -3h2.3m35.7 -16h2.3m-42.3 3h2.3m0.7 23h2.3m10.7 -23h2.3m-27.3 -6h2.3m-0.3 1h2.3m16.7 11h2.3m-15.3 -22h2.3m45.7 18h2.3m-39.3 -14h2.3m-1.3 12h2.3m5.7 -2h2.3m-4.3 1h2.3m66.7 -20h2.3m-76.3 -4h2.3m-2.3 20h2.3m-32.3 14h2.3m7.7 -26h2.3m9.7 11h2.3m-46.3 20h2.3m35.7 -20h2.3m-46.3 17h2.3m50.7 -7h2.3m12.7 -18h2.3m-35.3 21h2.3m12.7 7h2.3m-8.3 -3h2.3m39.7 -19h2.3m-42.3 11h2.3m-2.3 -4h2.3m9.7 -11h2.3m-26.3 14h2.3m9.7 -13h2.3m-10.3 12h2.3m22.7 0h2.3m-7.3 14h2.3m-15.3 -22h2.3m25.7 8h2.3m-29.3 -9h2.3m-121.3 682h2.3m59.7 21h2.3m40.7 19h2.3m-89.3 2h2.3m26.7 -29h2.3m26.7 0h2.3m39.7 31h2.3m-98.3 -23h2.3m48.7 -25h2.3m-42.3 0h2.3m7.7 29h2.3m48.7 -5h2.3m-60.3 33h2.3m-31.3 -3h2.3m13.7 -48h2.3m43.7 35h2.3m-55.3 20h2.3m81.7 -46h2.3m-89.3 12h2.3m13.7 -13h2.3m30.7 15h2.3m-20.3 -1h2.3m-2.3 -17h2.3m-46.3 9h2.3m19.7 29h2.3m27.7 -37h2.3m-62.3 44h2.3m59.7 -10h2.3m-67.3 -19h2.3m78.7 32h2.3m-52.3 -29h2.3m7.7 5h2.3m-6.3 2h2.3m7.7 17h2.3m-14.3 -41h2.3m-36.3 21h2.3m-30.3 -27h2.3m86.7 56h2.3m-96.3 -48h2.3m76.7 12h2.3m65.7 15h2.3m-85.3 13h2.3m55.7 -11h2.3m-82.3 -3h2.3m120.7 -11h2.3m-50.3 -28h2.3m-60.3 17h2.3m45.7 46h2.3m-48.3 -19h2.3m43.7 -30h2.3m-4.3 12h2.3m-7.3 -12h2.3m6.7 30h2.3m-23.3 -25h2.3m-75.3 -14h2.3m108.7 26h2.3m-65.3 17h2.3m35.7 -40h2.3m-32.3 32h2.3m15.7 -23h2.3m-39.3 -54h2.3m-5.3 24h2.3m67.7 59h2.3m-54.3 -24h2.3m-20.3 12h2.3m56.7 7h2.3m46.7 9h2.3m-54.3 -1h2.3m-29.3 -26h2.3m83.7 -12h2.3m-128.3 4h2.3m71.7 -10h2.3m-18.3 67h2.3m-3.3 -21h2.3m-82.3 -34h2.3m24.7 31h2.3m51.7 9h2.3m1.7 -14h2.3m-86.3 -20h2.3m147.7 -24h2.3m-103.3 29h2.3m-31.3 -16h2.3m40.7 9h2.3m4.7 -4h2.3m46.7 -39h2.3m-99.3 43h2.3m27.7 -3h2.3m-33.3 -24h2.3m97.7 21h2.3m-79.3 -39h2.3m-9.3 63h2.3m38.7 -12h2.3m-53.3 27h2.3m101.7 -40h2.3m-42.3 46h2.3m-20.3 -9h2.3m-98.3 -62h2.3m90.7 56h2.3m-20.3 -2h2.3m30.7 1h2.3m-26.3 -1h2.3m10.7 -24h2.3m-23.3 9h2.3m81.7 13h2.3m-55.3 -59h2.3m30.7 67h2.3m-76.3 12h2.3m-20.3 -43h2.3m13.7 -2h2.3m-54.3 3h2.3m31.7 -18h2.3m58.7 24h2.3m-7.3 -48h2.3m-52.3 46h2.3m20.7 -3h2.3m12.7 -26h2.3m43.7 37h2.3m-116.3 -3h2.3m47.7 3h2.3m44.7 -2h2.3m-13.3 5h2.3m-87.3 -34h2.3m84.7 50h2.3m-82.3 -21h2.3m91.7 -7h2.3m-79.3 -7h2.3m63.7 30h2.3m35.7 -24h2.3m-55.3 23h2.3m0.7 2h2.3m-37.3 -16h2.3m-86.3 21h2.3m57.7 -6h2.3m81.7 -21h2.3m-64.3 21h2.3m28.7 -12h2.3m28.7 17h2.3m-28.3 -57h2.3m4.7 47h2.3m31.7 -30h2.3m-107.3 38h2.3m46.7 -12h2.3m66.7 -31h2.3m-111.3 23h2.3m83.7 -14h2.3m-40.3 12h2.3m-26.3 -11h2.3m-4.3 -32h2.3m76.7 48h2.3m-43.3 -25h2.3m13.7 37h2.3m-53.3 -39h2.3m-18.3 16h2.3m16.7 20h2.3m10.7 -16h2.3m-49.3 -14h2.3m5.7 24h2.3m45.7 -30h2.3m49.7 34h2.3m49.7 -21h2.3m-106.3 5h2.3m-34.3 0h2.3m31.7 -4h2.3m-97.3 9h2.3m106.7 31h2.3m15.7 -34h2.3m-60.3 3h2.3m33.7 -6h2.3m-22.3 -26h2.3m-16.3 88h2.3m61.7 -68h2.3m-92.3 23h2.3m-17.3 0h2.3m70.7 -12h2.3m-29.3 25h2.3m-37.3 -46h2.3m107.7 4h2.3m-95.3 33h2.3m-60.3 -33h2.3m86.7 29h2.3m-40.3 -57h2.3m-39.3 -28h2.3m48.7 47h2.3m-56.3 -19h2.3m-38.3 34h2.3m75.7 -29h2.3m8.7 -14h2.3m64.7 60h2.3m-145.3 45h2.3m104.7 -47h2.3m-123.3 -65h2.3m41.7 -25h2.3m21.7 87h2.3m-5.3 -55h2.3m0.7 -61h2.3m-12.3 104h2.3m27.7 -65h2.3m0.7 46h2.3m-13.3 4h2.3m45.7 -19h2.3m-56.3 -50h2.3m-37.3 57h2.3m98.7 -44h2.3m-94.3 2h2.3m42.7 81h2.3m-11.3 -3h2.3m-34.3 -52h2.3m35.7 79h2.3m-57.3 -30h2.3m26.7 -94h2.3m-84.3 40h2.3m69.7 -48h2.3m-37.3 36h2.3m-13.3 39h2.3m53.7 53h2.3m-13.3 -52h2.3m12.7 -30h2.3m-51.3 30h2.3m-30.3 0h2.3m45.7 -70h2.3m135.7 45h2.3m-143.3 25h2.3m27.7 -2h2.3m9.7 -13h2.3m-35.3 -43h2.3m-44.3 26h2.3m116.7 34h2.3m-38.3 38h2.3m5.7 -96h2.3m-55.3 71h2.3m107.7 -108h2.3m-101.3 25h2.3m-43.3 76h2.3m13.7 26h2.3m2.7 -18h2.3m-21.3 -50h2.3m91.7 -65h2.3m-37.3 15h2.3m-45.3 80h2.3m-46.3 -5h2.3m71.7 -36h2.3m0.7 31h2.3m-28.3 57h2.3m16.7 -77h2.3m3.7 -49h2.3m-12.3 56h2.3m22.7 1h2.3m11.7 -31h2.3m36.7 55h2.3m-106.3 -22h2.3m12.7 13h2.3m87.7 -2h2.3m-43.3 -40h2.3m-102.3 -12h2.3m212.7 59h2.3m-116.3 4h2.3m-6.3 -16h2.3m-10.3 16h2.3m-73.3 -9h2.3m-14.3 -16h2.3m90.7 -11h2.3m-63.3 51h2.3m34.7 -30h2.3m17.7 -53h2.3m-65.3 84h2.3m31.7 -4h2.3m28.7 -4h2.3m-48.3 12h2.3m68.7 -96h2.3m-80.3 5h2.3m41.7 27h2.3m4.7 11h2.3m8.7 -25h2.3m-67.3 -73h2.3m62.7 113h2.3m-12.3 16h2.3m-27.3 35h2.3m14.7 -85h2.3m-35.3 37h2.3m35.7 1h2.3m47.7 18h2.3m-89.3 28h2.3m16.7 -88h2.3m-59.3 46h2.3m-1.3 0h2.3m120.7 21h2.3m31.7 -42h2.3m-91.3 -46h2.3m-13.3 70h2.3m-31.3 -9h2.3m-47.3 -71h2.3m60.7 114h2.3m21.7 50h2.3m-51.3 -147h2.3m0.7 42h2.3m69.7 -15h2.3m21.7 -1h2.3m-42.3 -4h2.3m-63.3 -21h2.3m102.7 76h2.3m-15.3 -285h2.3m31.7 -33h2.3m-37.3 50h2.3m-37.3 114h2.3m77.7 -56h2.3m-20.3 20h2.3m15.7 -74h2.3m-44.3 -51h2.3m14.7 -34h2.3m13.7 161h2.3m-52.3 3h2.3m19.7 -98h2.3m2.7 -40h2.3m-10.3 56h2.3m-21.3 79h2.3m-7.3 -88h2.3m40.7 -93h2.3m-18.3 42h2.3m-19.3 -30h2.3m77.7 204h2.3m-59.3 -78h2.3m19.7 27h2.3m7.7 -25h2.3m-56.3 25h2.3m-28.3 -20h2.3m42.7 -98h2.3m36.7 -29h2.3m10.7 61h2.3m-25.3 15h2.3m-31.3 223h2.3m65.7 -186h2.3m-47.3 -48h2.3m18.7 168h2.3m14.7 -185h2.3m-58.3 -93h2.3m3.7 142h2.3m-37.3 -128h2.3m62.7 89h2.3m-16.3 33h2.3m-34.3 15h2.3m30.7 -9h2.3m-31.3 -9h2.3m21.7 31h2.3m29.7 -2h2.3m-34.3 -69h2.3m-47.3 -82h2.3m32.7 194h2.3m27.7 -164h2.3m-65.3 -6h2.3m10.7 67h2.3m-0.3 -98h2.3m35.7 153h2.3m-37.3 136h2.3m2.7 -44h2.3m-15.3 -85h2.3m-33.3 -31h2.3m36.7 -67h2.3m24.7 127h2.3m-50.3 -39h2.3m54.7 -22h2.3m26.7 -64h2.3m-70.3 85h2.3m20.7 159h2.3m8.7 -76h2.3m-28.3 -143h2.3m41.7 62h2.3m-7.3 11h2.3m-5.3 -49h2.3m-34.3 51h2.3m-4.3 32h2.3m33.7 17h2.3m-63.3 -160h2.3m44.7 114h2.3m-14.3 -43h2.3m-37.3 113h2.3m31.7 -52h2.3m-16.3 -102h2.3m-3.3 114h2.3m-0.3 44h2.3m4.7 -247h2.3m-195.3 72h2.3m205.7 -24h2.3m-75.3 -77h2.3m-103.3 89h2.3m37.7 -10h2.3m51.7 0h2.3m-166.3 25h2.3m74.7 -50h2.3m21.7 38h2.3m54.7 -12h2.3m-74.3 6h2.3m33.7 -27h2.3m107.7 -5h2.3m-184.3 6h2.3m47.7 27h2.3m-35.3 -39h2.3m0.7 30h2.3m-35.3 14h2.3m74.7 -11h2.3m-61.3 15h2.3m-61.3 -21h2.3m103.7 -16h2.3m10.7 25h2.3m-27.3 18h2.3m-71.3 -25h2.3m132.7 18h2.3m-145.3 -43h2.3m23.7 -19h2.3m69.7 44h2.3m-132.3 3h2.3m18.7 -7h2.3m52.7 16h2.3m133.7 -60h2.3m-189.3 45h2.3m120.7 22h2.3m-38.3 8h2.3m-34.3 -6h2.3m43.7 -38h2.3m-87.3 10h2.3m-71.3 8h2.3m-37.3 -1h2.3m97.7 10h2.3m9.7 -33h2.3m17.7 4h2.3m83.7 18h2.3m-23.3 5h2.3m-119.3 -26h2.3m148.7 1h2.3m-130.3 11h2.3m0.7 10h2.3m105.7 13h2.3m-96.3 -30h2.3m27.7 -13h2.3m-40.3 67h2.3m87.7 -38h2.3m-88.3 28h2.3m33.7 33h2.3m52.7 -48h2.3m-151.3 -8h2.3m93.7 6h2.3m-5.3 -52h2.3m-113.3 17h2.3m60.7 37h2.3m18.7 -15h2.3m38.7 -7h2.3m104.7 30h2.3m-151.3 -19h2.3m59.7 -13h2.3m-42.3 10h2.3m50.7 19h2.3m-55.3 -31h2.3m13.7 -21h2.3m-81.3 -18h2.3m64.7 50h2.3m117.7 15h2.3m-79.3 -4h2.3m-95.3 -40h2.3m55.7 1h2.3m-64.3 70h2.3m103.7 -40h2.3m-9.3 -3h2.3m2.7 -24h2.3m-103.3 2h2.3m-54.3 36h2.3m152.7 -6h2.3m-35.3 -43h2.3m-73.3 10h2.3m33.7 55h2.3m-80.3 -46h2.3m103.7 35h2.3m-26.3 -4h2.3m5.7 -39h2.3m122.7 44h2.3m-228.3 -25h2.3m106.7 -16h2.3m-32.3 47h2.3m129.7 -39h2.3m-27.3 6h2.3m-126.3 3h2.3m-26.3 -3h2.3m79.7 -34h2.3m25.7 32h2.3m-52.3 4h2.3m-5.3 35h2.3m133.7 -29h2.3m-165.3 -4h2.3m-47.3 21h2.3m196.7 9h2.3m-153.3 -49h2.3m67.7 52h2.3m-28.3 -21h2.3m26.7 -24h2.3m-26.3 -9h2.3m-66.3 17h2.3m96.7 -27h2.3m-104.3 53h2.3m34.7 30h2.3m-60.3 -40h2.3m52.7 -13h2.3m-30.3 38h2.3m11.7 -42h2.3m96.7 47h2.3m-15.3 -80h2.3m-16.3 67h2.3m-94.3 -16h2.3m0.7 15h2.3m31.7 -28h2.3m54.7 7h2.3m5.7 -44h2.3m-73.3 22h2.3m-59.3 13h2.3m153.7 55h2.3m-60.3 -52h2.3m-17.3 21h2.3m82.7 -55h2.3m-27.3 29h2.3m-99.3 4h2.3m119.7 10h2.3m-203.3 -19h2.3m180.7 0h2.3m4.7 23h2.3m-13.3 -20h2.3m-108.3 -11h2.3m-17.3 28h2.3m63.7 17h2.3m18.7 -59h2.3m10.7 38h2.3m-19.3 1h2.3m69.7 -2h2.3m-72.3 29h2.3m-11.3 -42h2.3m-18.3 22h2.3m110.7 35h2.3m-2.3 -87h2.3m-91.3 62h2.3m-48.3 -24h2.3m-55.3 -33h2.3m179.7 17h2.3m-146.3 56h2.3m52.7 -13h2.3m2.7 -20h2.3m22.7 6h2.3m-54.3 -38h2.3m25.7 44h2.3m-46.3 -8h2.3m92.7 37h2.3m-60.3 -78h2.3m39.7 47h2.3m-35.3 -54h2.3m-18.3 61h2.3m-39.3 -29h2.3m4.7 3h2.3m33.7 -9h2.3m-80.3 40h2.3m-87.3 -64h2.3m118.7 23h2.3m88.7 44h2.3m-74.3 -43h2.3m27.7 -5h2.3m-12.3 30h2.3m-115.3 2h2.3m45.7 -16h2.3m41.7 0h2.3m-4.3 -30h2.3m-15.3 35h2.3m-87.3 25h2.3m196.7 -42h2.3m-142.3 -45h2.3m29.7 105h2.3m111.7 -66h2.3m-91.3 53h2.3m31.7 -29h2.3m-27.3 -13h2.3m-44.3 -2h2.3m158.7 3h2.3m-61.3 3h2.3m-45.3 6h2.3m-61.3 -5h2.3m-124.3 -33h2.3m131.7 -1h2.3m163.7 16h2.3m-15.3 -30h2.3m-85.3 -9h2.3m35.7 -56h2.3m-98.3 -3h2.3m85.7 32h2.3m-36.3 83h2.3m32.7 -74h2.3m26.7 -16h2.3m-17.3 27h2.3m-9.3 27h2.3m-28.3 9h2.3m9.7 9h2.3m53.7 -77h2.3m-71.3 94h2.3m71.7 56h2.3m3.7 -132h2.3m12.7 124h2.3m-63.3 -76h2.3m-43.3 6h2.3m50.7 -41h2.3m27.7 38h2.3m16.7 -1h2.3m-157.3 -10h2.3m118.7 -20h2.3m-20.3 -39h2.3m2.7 46h2.3m-140.3 40h2.3m154.7 -21h2.3m-54.3 27h2.3m42.7 -41h2.3m-15.3 -31h2.3m-0.3 14h2.3m85.7 96h2.3m-44.3 -73h2.3m-49.3 52h2.3m-45.3 0h2.3m-9.3 -124h2.3m91.7 126h2.3m-59.3 1h2.3m21.7 -132h2.3m-82.3 62h2.3m101.7 86h2.3m-118.3 -119h2.3m129.7 28h2.3m-86.3 64h2.3m30.7 -17h2.3m22.7 -84h2.3m-17.3 99h2.3m-99.3 -2h2.3m88.7 -82h2.3m1.7 52h2.3m-66.3 -32h2.3m109.7 33h2.3m-105.3 -42h2.3m68.7 34h2.3m-57.3 -16h2.3m21.7 16h2.3m48.7 4h2.3m-78.3 -75h2.3m-5.3 101h2.3m96.7 -32h2.3m-112.3 -11h2.3m53.7 29h2.3m-81.3 22h2.3m119.7 -12h2.3m-70.3 -8h2.3m-22.3 -44h2.3m83.7 12h2.3m-76.3 -50h2.3m67.7 -5h2.3m-90.3 53h2.3m-51.3 -117h2.3m72.7 195h2.3m59.7 -16h2.3m-122.3 -68h2.3m6.7 -14h2.3m11.7 -25h2.3m6.7 141h2.3m73.7 -35h2.3m-73.3 -43h2.3m7.7 42h2.3m48.7 -5h2.3m23.7 -68h2.3m-127.3 1h2.3m-21.3 26h2.3m56.7 -57h2.3m13.7 -14h2.3m20.7 76h2.3m-54.3 14h2.3m9.7 -73h2.3m-13.3 -17h2.3m79.7 48h2.3m-68.3 142h2.3m-26.3 -60h2.3m36.7 -20h2.3m-68.3 -122h2.3m170.7 37h2.3m-185.3 37h2.3m70.7 -51h2.3m-3.3 10h2.3m-37.3 56h2.3m102.7 68h2.3m-123.3 -92h2.3m39.7 -23h2.3m59.7 73h2.3m-53.3 -10h2.3m-47.3 -28h2.3m89.7 -23h2.3m21.7 -9h2.3m-104.3 -18h2.3m81.7 123h2.3m-6.3 -6h2.3m39.7 -84h2.3m-39.3 -41h2.3m-134.3 64h2.3m59.7 -68h2.3m-48.3 69h2.3m61.7 -29h2.3m-66.3 -57h2.3m187.7 160h2.3m-93.3 -114h2.3m-80.3 11h2.3m40.7 62h2.3m12.7 -45h2.3m-54.3 13h2.3m-39.3 -88h2.3m47.7 58h2.3m64.7 15h2.3m8.7 -70h2.3m-68.3 102h2.3m95.7 -50h2.3m-71.3 116h2.3m-9.3 -118h2.3m32.7 63h2.3m-62.3 -9h2.3m48.7 -26h2.3m-26.3 1h2.3m-7.3 51h2.3m-45.3 -78h2.3m44.7 79h2.3m-52.3 -81h2.3m-26.3 28h2.3m78.7 -5h2.3m27.7 -60h2.3m-106.3 99h2.3m112.7 -84h2.3m-60.3 30h2.3m-3.3 45h2.3m26.7 -31h2.3m-402.3 -21h2.3m374.7 -177h2.3m-163.3 58h2.3m91.7 102h2.3m-337.3 -228h2.3m442.7 121h2.3m-46.3 -129h2.3m-192.3 215h2.3m-132.3 68h2.3m401.7 -275h2.3m-528.3 153h2.3m545.7 -48h2.3m-435.3 13h2.3m-115.3 -60h2.3m243.7 82h2.3m-125.3 -80h2.3m-11.3 69h2.3m40.7 -132h2.3m326.7 161h2.3m-120.3 -111h2.3m208.7 202h2.3m-525.3 -158h2.3m357.7 113h2.3m126.7 -86h2.3m-66.3 74h2.3m-318.3 -25h2.3m344.7 78h2.3m-228.3 -77h2.3m-284.3 -104h2.3m454.7 51h2.3m-376.3 41h2.3m315.7 37h2.3m-199.3 -70h2.3m77.7 102h2.3m5.7 -116h2.3m-21.3 -109h2.3m-270.3 202h2.3m561.7 -33h2.3m-356.3 -127h2.3m62.7 244h2.3m158.7 -133h2.3m51.7 -92h2.3m-210.3 216h2.3m36.7 -148h2.3m-187.3 26h2.3m409.7 -162h2.3m-106.3 244h2.3m59.7 -24h2.3m-49.3 -66h2.3m-150.3 -28h2.3m-305.3 133h2.3m305.7 -201h2.3m-41.3 85h2.3m-91.3 -41h2.3m106.7 83h2.3m41.7 -50h2.3m-352.3 -68h2.3m86.7 106h2.3m408.7 65h2.3m-41.3 5h2.3m-327.3 8h2.3m248.7 -228h2.3m-396.3 -21h2.3m440.7 71h2.3m-389.3 112h2.3m138.7 -166h2.3m-113.3 137h2.3m2.7 -76h2.3m323.7 54h2.3m-236.3 6h2.3m643.7 559h2.3m-217.3 -638h2.3m184.7 482h2.3m-42.3 -317h2.3m-18.3 221h2.3m-8.3 -332h2.3m-38.3 174h2.3m68.7 445h2.3m51.7 -333h2.3m-123.3 -205h2.3m-100.3 -178h2.3m100.7 216h2.3m-23.3 424h2.3m32.7 -245h2.3m-71.3 -397h2.3m18.7 83h2.3m41.7 638h2.3m37.7 -604h2.3m49.7 455h2.3m-40.3 81h2.3m4.7 -87h2.3m-100.3 142h2.3m143.7 -607h2.3m-52.3 410h2.3m-72.3 -137h2.3m4.7 292h2.3m-0.3 -69h2.3m-37.3 38h2.3m128.7 -312h2.3m-82.3 340h2.3m35.7 -321h2.3m-123.3 -120h2.3m112.7 -117h2.3m47.7 75h2.3m-1.3 31h2.3m8.7 294h2.3m-111.3 -140h2.3m32.7 52h2.3m-83.3 -281h2.3m45.7 537h2.3" stroke="#1a1a1a" stroke-width="2.3" fill="none" opacity="0.8"/></g><g mask="url(#R0M)"><g filter="url(#flb)"><ellipse cx="1680" cy="830" rx="60" ry="35" fill="url(#gg)" fill-opacity="0.200"/><ellipse cx="1830" cy="775" rx="60" ry="22" fill="url(#gg)" fill-opacity="0.120"/></g></g><g mask="url(#R0M)"><g filter="url(#fdg)"><ellipse cx="1420" cy="650" rx="150" ry="150" fill="url(#gg)" fill-opacity="0.030"/></g></g></g><polygon points="1556,479 1601,469 1707,529 1685,671 1583,749 1509,721 1495,629 1503,560 1531,503" fill="none" stroke="#1e1e1e" stroke-width="2.2" stroke-linejoin="round"/><polygon points="1696.6,683.2 1757.7,682.1 1783.3,716.7 1784.1,772.1 1722.2,809.9 1645.5,799.1 1633.5,782.1 1637,748" fill="none" stroke="#1e1e1e" stroke-width="2.2" stroke-linejoin="round"/><polygon points="1710.8,833.2 1776.2,799.1 1909.7,795.7 1939.6,858.2 1725,883" fill="none" stroke="#1e1e1e" stroke-width="2.2" stroke-linejoin="round"/><text x="1216" y="378.5" font-size="45" textLength="385" lengthAdjust="spacingAndGlyphs" fill="#464646">Granulocytes CD45</text><text x="1713" y="655.5" font-size="45" textLength="338" lengthAdjust="spacingAndGlyphs" fill="#464646">Monocytes CD45</text><text x="1230" y="867.5" font-size="45" textLength="387" lengthAdjust="spacingAndGlyphs" fill="#464646">Lymphocytes CD45</text><g clip-path="url(#R1F)"><g clip-path="url(#R1g)"><g filter="url(#fcy)"><ellipse cx="1707" cy="1530" rx="140" ry="230" transform="rotate(-5 1707 1530)" fill="url(#gg)" fill-opacity="0.580"/><ellipse cx="1707" cy="1525" rx="80" ry="120" transform="rotate(-5 1707 1525)" fill="url(#gg)" fill-opacity="0.350"/><rect x="1600" y="1350" width="220" height="360" fill-opacity="0.100"/></g></g><g clip-path="url(#R1m)"><g filter="url(#fgo)"><rect x="1705" y="1650" width="165" height="140" fill-opacity="0.550"/></g></g><g clip-path="url(#R1l)"><g filter="url(#fgr)"><ellipse cx="1878" cy="1808" rx="115" ry="58" transform="rotate(-15 1878 1808)" fill="url(#gg)" fill-opacity="0.420"/><ellipse cx="1876" cy="1812" rx="66" ry="30" transform="rotate(-20 1876 1812)" fill="url(#gf)" fill-opacity="1.000"/></g></g><g mask="url(#R1M)"><path d="M0 0m1785 1279h2.3m22.7 114h2.3m-39.3 -211h2.3m3.7 32h2.3m9.7 -78h2.3m3.7 -12h2.3m2.7 43h2.3m-6.3 111h2.3m-9.3 -86h2.3m-12.3 -44h2.3m33.7 143h2.3m2.7 -18h2.3m-25.3 -80h2.3m-12.3 -81h2.3m17.7 212h2.3m5.7 40h2.3m-42.3 -331h2.3m25.7 230h2.3m-29.3 -98h2.3m25.7 227h2.3m-8.3 -208h2.3m4.7 150h2.3m-34.3 -29h2.3m0.7 -62h2.3m20.7 3h2.3m-33.3 27h2.3m-1.3 27h2.3m-10.3 -101h2.3m20.7 -17h2.3m8.7 81h2.3m22.7 16h2.3m-13.3 -134h2.3m-3.3 170h2.3m2.7 46h2.3m-38.3 -231h2.3m-0.3 57h2.3m31.7 -114h2.3m-23.3 253h2.3m-5.3 -206h2.3m-14.3 167h2.3m23.7 -60h2.3m-9.3 131h2.3m-12.3 50h2.3m-13.3 -6h2.3m-9.3 -48h2.3m20.7 -244h2.3m-0.3 177h2.3m4.7 -37h2.3m-14.3 -35h2.3m2.7 128h2.3m3.7 -44h2.3m-7.3 60h2.3m32.7 69h2.3m-59.3 -261h2.3m-0.3 43h2.3m45.7 -1h2.3m-31.3 13h2.3m-34.3 -84h2.3m15.7 29h2.3m3.7 33h2.3m-0.3 -99h2.3m17.7 181h2.3m-30.3 -84h2.3m-4.3 -122h2.3m22.7 126h2.3m3.7 166h2.3m-41.3 -225h2.3m27.7 49h2.3m-21.3 13h2.3m15.7 -82h2.3m-8.3 211h2.3m-12.3 -126h2.3m13.7 115h2.3m6.7 -42h2.3m7.7 -96h2.3m-2.3 105h2.3m-33.3 -173h2.3m27.7 146h2.3m-18.3 113h2.3m-17.3 -67h2.3m17.7 73h2.3m-11.3 18h2.3m-15.3 -164h2.3m-4.3 -77h2.3m35.7 106h2.3m-30.3 -8h2.3m-0.3 -145h2.3m-11.3 162h2.3m-15.3 -52h2.3m11.7 -68h2.3m-18.3 33h2.3m23.7 100h2.3m-31.3 -34h2.3m32.7 -161h2.3m-34.3 195h2.3m31.7 2h2.3m11.7 13h2.3m-6.3 -62h2.3m-24.3 -77h2.3m-0.3 45h2.3m-14.3 86h2.3m13.7 -91h2.3m-4.3 66h2.3m0.7 -87h2.3m1.7 18h2.3m-8.3 -5h2.3m25.7 -79h2.3m-18.3 39h2.3m6.7 -23h2.3m-16.3 94h2.3m0.7 -99h2.3m-22.3 153h2.3m16.7 -93h2.3m-47.3 22h2.3m17.7 37h2.3m1.7 -97h2.3m1.7 213h2.3m9.7 -156h2.3m-1.3 -90h2.3m-22.3 117h2.3m1.7 -49h2.3m3.7 213h2.3m-3.3 -122h2.3m25.7 -249h2.3m-34.3 291h2.3m-21.3 -114h2.3m43.7 46h2.3m-20.3 174h2.3m-37.3 -85h2.3m7.7 -62h2.3m28.7 -23h2.3m-16.3 61h2.3m8.7 0h2.3m6.7 -20h2.3m10.7 -90h2.3m-62.3 -121h2.3m25.7 45h2.3m-5.3 121h2.3m28.7 -115h2.3m-19.3 -9h2.3m4.7 -71h2.3m7.7 162h2.3m8.7 44h2.3m-53.3 -56h2.3m1.7 63h2.3m28.7 -3h2.3m-27.3 -47h2.3m31.7 -58h2.3m-19.3 6h2.3m-27.3 135h2.3m-15.3 85h2.3m51.7 -228h2.3m-48.3 71h2.3m10.7 -49h2.3m19.7 273h2.3m-20.3 -149h2.3m-7.3 -61h2.3m-5.3 -9h2.3m9.7 -22h2.3m-1.3 -31h2.3m-0.3 -80h2.3m0.7 126h2.3m-3.3 10h2.3m-11.3 12h2.3m-7.3 -7h2.3m-29.3 -65h2.3m34.7 -49h2.3m30.7 240h2.3m-63.3 20h2.3m29.7 -94h2.3m13.7 -96h2.3m-20.3 125h2.3m-19.3 -98h2.3m9.7 49h2.3m-19.3 -38h2.3m3.7 79h2.3m-0.3 -9h2.3m6.7 -110h2.3m9.7 94h2.3m-19.3 39h2.3m24.7 -237h2.3m-11.3 -15h2.3m-14.3 237h2.3m4.7 -30h2.3m-12.3 16h2.3m-19.3 106h2.3m-16.3 -181h2.3m4.7 -7h2.3m12.7 -71h2.3m25.7 45h2.3m-31.3 48h2.3m21.7 50h2.3m-22.3 -25h2.3m7.7 -28h2.3m-16.3 26h2.3m-15.3 61h2.3m36.7 -101h2.3m-24.3 -146h2.3m0.7 242h2.3m-24.3 -16h2.3m-15.3 9h2.3m-1.3 44h2.3m-3.3 -110h2.3m18.7 62h2.3m-27.3 19h2.3m17.7 52h2.3m17.7 -52h2.3m-65.3 -57h2.3m41.7 117h2.3m-11.3 -71h2.3m19.7 -68h2.3m-40.3 98h2.3m50.7 -37h2.3m-24.3 24h2.3m15.7 -68h2.3m-11.3 -20h2.3m-146.3 46h2.3m74.7 74h2.3m68.7 -105h2.3m5.7 11h2.3m-44.3 35h2.3m6.7 56h2.3m21.7 -24h2.3m-2.3 7h2.3m-59.3 -60h2.3m4.7 61h2.3m7.7 92h2.3m-28.3 -172h2.3m69.7 126h2.3m-14.3 -29h2.3m38.7 -47h2.3m-130.3 -22h2.3m104.7 -45h2.3m-43.3 85h2.3m-18.3 23h2.3m37.7 80h2.3m-0.3 -146h2.3m-55.3 -12h2.3m65.7 14h2.3m-48.3 65h2.3m-32.3 -52h2.3m-52.3 -39h2.3m54.7 75h2.3m77.7 -22h2.3m-44.3 9h2.3m34.7 37h2.3m-39.3 -96h2.3m26.7 70h2.3m11.7 -20h2.3m30.7 -17h2.3m-18.3 24h2.3m-97.3 -62h2.3m13.7 127h2.3m41.7 -37h2.3m-146.3 2h2.3m129.7 -63h2.3m-55.3 27h2.3m103.7 -53h2.3m-99.3 121h2.3m-3.3 -86h2.3m21.7 -44h2.3m3.7 2h2.3m27.7 60h2.3m60.7 14h2.3m-44.3 -79h2.3m-68.3 81h2.3m81.7 -100h2.3m-36.3 114h2.3m21.7 6h2.3m-69.3 -62h2.3m207.7 423h2.3m-38.3 22h2.3m-71.3 -109h2.3m-15.3 85h2.3m96.7 -9h2.3m-111.3 57h2.3m-13.3 -85h2.3m43.7 33h2.3m72.7 -78h2.3m-65.3 81h2.3m-41.3 -18h2.3m58.7 -56h2.3m-69.3 58h2.3m46.7 12h2.3m107.7 30h2.3m-82.3 -72h2.3m19.7 -3h2.3m26.7 88h2.3m-163.3 -106h2.3m78.7 35h2.3m-50.3 -37h2.3m86.7 31h2.3m-103.3 11h2.3m110.7 89h2.3m-43.3 -90h2.3m-41.3 -9h2.3m57.7 79h2.3m29.7 -67h2.3m-18.3 45h2.3m-22.3 -144h2.3m-25.3 97h2.3m60.7 0h2.3m-42.3 25h2.3m34.7 22h2.3m-13.3 33h2.3m-5.3 -32h2.3m-57.3 -31h2.3m106.7 -2h2.3m-76.3 -5h2.3m-38.3 -132h2.3m87.7 82h2.3m-116.3 114h2.3m-71.3 -60h2.3m78.7 -84h2.3m50.7 48h2.3m-35.3 16h2.3m31.7 121h2.3m-87.3 -63h2.3m22.7 -55h2.3m-56.3 -35h2.3m63.7 88h2.3m27.7 -11h2.3m19.7 -88h2.3m29.7 47h2.3m-36.3 7h2.3m-21.3 37h2.3m-115.3 62h2.3m106.7 -42h2.3m-0.3 -45h2.3m-71.3 -22h2.3m-43.3 11h2.3m168.7 -78h2.3m-104.3 68h2.3m80.7 73h2.3m-51.3 -52h2.3m-12.3 -26h2.3m-17.3 1h2.3m12.7 25h2.3m-24.3 24h2.3m24.7 -4h2.3m-61.3 -56h2.3m62.7 45h2.3m-14.3 56h2.3m-3.3 -5h2.3m69.7 -33h2.3m-45.3 -6h2.3m-29.3 -76h2.3m-18.3 22h2.3m1.7 -4h2.3m-31.3 39h2.3m109.7 -45h2.3m-149.3 13h2.3m24.7 -20h2.3m-4.3 39h2.3m79.7 108h2.3m-79.3 -165h2.3m42.7 58h2.3m77.7 64h2.3m-104.3 -151h2.3m53.7 73h2.3m33.7 14h2.3m-71.3 -48h2.3m2.7 106h2.3m-37.3 -43h2.3m7.7 32h2.3m21.7 -16h2.3m14.7 -65h2.3m-68.3 99h2.3m33.7 -105h2.3m-15.3 121h2.3m30.7 -25h2.3m-109.3 54h2.3m104.7 -44h2.3m-20.3 -62h2.3m50.7 87h2.3m-33.3 -115h2.3m35.7 126h2.3m-109.3 -134h2.3m87.7 19h2.3m-131.3 19h2.3m110.7 32h2.3m48.7 -90h2.3m-90.3 56h2.3m40.7 -31h2.3m-19.3 -1h2.3m34.7 91h2.3m-75.3 -30h2.3m-14.3 -8h2.3m-20.3 -7h2.3m114.7 30h2.3m-138.3 -35h2.3m65.7 58h2.3m31.7 2h2.3m-45.3 -118h2.3m-87.3 65h2.3m94.7 0h2.3m3.7 -2h2.3m69.7 -66h2.3m-43.3 112h2.3m-2.3 27h2.3m-40.3 -77h2.3m-1.3 -22h2.3m90.7 -50h2.3m-108.3 42h2.3m24.7 9h2.3m24.7 38h2.3m50.7 15h2.3m-124.3 -111h2.3m19.7 44h2.3m4.7 88h2.3m24.7 -122h2.3m-53.3 134h2.3m-21.3 -39h2.3m90.7 -88h2.3m-99.3 69h2.3m69.7 31h2.3m9.7 -91h2.3m53.7 54h2.3m-77.3 1h2.3m-77.3 -46h2.3m102.7 68h2.3m-61.3 -26h2.3m-4.3 -31h2.3m2.7 -25h2.3m-15.3 45h2.3m30.7 -2h2.3m-11.3 26h2.3m11.7 -16h2.3m-25.3 -6h2.3m50.7 34h2.3m-51.3 -58h2.3m-21.3 -21h2.3m102.7 10h2.3m-33.3 36h2.3m-14.3 -24h2.3m-42.3 72h2.3m78.7 -36h2.3m-20.3 23h2.3m-11.3 -16h2.3m-48.3 91h2.3m-13.3 -68h2.3m2.7 -18h2.3m-18.3 -52h2.3m16.7 69h2.3m-45.3 25h2.3m50.7 -41h2.3m-35.3 28h2.3m21.7 -30h2.3m-69.3 68h2.3m107.7 -119h2.3m-310.3 -322h2.3m-34.3 -80h2.3m-1.3 -8h2.3m10.7 26h2.3m48.7 29h2.3m-24.3 -36h2.3m-29.3 53h2.3m-17.3 -59h2.3m95.7 -76h2.3m-84.3 79h2.3m77.7 -56h2.3m-128.3 90h2.3m140.7 -102h2.3m-71.3 117h2.3m3.7 -73h2.3m-14.3 54h2.3m1.7 -53h2.3m22.7 97h2.3m30.7 -16h2.3m30.7 22h2.3m-80.3 -46h2.3m-83.3 0h2.3m0.7 -14h2.3m64.7 93h2.3m5.7 -50h2.3m-1.3 -96h2.3m43.7 76h2.3m-26.3 -2h2.3m-63.3 21h2.3m82.7 38h2.3m-44.3 274h2.3m-135.3 -41h2.3m84.7 -201h2.3m278.7 67h2.3m-255.3 92h2.3m149.7 -122h2.3m-72.3 -151h2.3m-126.3 86h2.3m-127.3 -171h2.3m-40.3 203h2.3m186.7 -13h2.3m28.7 -163h2.3m-21.3 252h2.3m105.7 -173h2.3m-152.3 -187h2.3m-15.3 -29h2.3m-122.3 527h2.3m-103.3 -48h2.3m326.7 -178h2.3m14.7 134h2.3m73.7 -121h2.3m-215.3 -60h2.3m-53.3 90h2.3m23.7 178h2.3m-143.3 -346h2.3m116.7 -160h2.3m368.7 -50h2.3m-286.3 301h2.3m249.7 -234h2.3m-78.3 201h2.3m-161.3 10h2.3m100.7 -75h2.3m-95.3 239h2.3m246.7 -442h2.3m-43.3 537h2.3m-263.3 -103h2.3m-0.3 214h2.3m85.7 -297h2.3m-59.3 2h2.3m4.7 -109h2.3m288.7 -165h2.3m-739.3 286h2.3m447.7 80h2.3m-10.3 -84h2.3m67.7 179h2.3m-103.3 -215h2.3m307.7 145h2.3m-382.3 287h2.3m226.7 -466h2.3m-256.3 142h2.3m42.7 -217h2.3m-62.3 88h2.3m309.7 12h2.3m-334.3 176h2.3m194.7 28h2.3m144.7 -162h2.3m-177.3 20h2.3m-130.3 114h2.3m322.7 -79h2.3m-211.3 -70h2.3m-13.3 154h2.3m264.7 15h2.3m-236.3 -229h2.3m-80.3 205h2.3m258.7 -167h2.3m-237.3 363h2.3m101.7 -179h2.3m13.7 102h2.3m58.7 -244h2.3m-104.3 5h2.3m308.7 148h2.3m-371.3 -125h2.3m73.7 2h2.3m82.7 -15h2.3m-4.3 57h2.3m-144.3 46h2.3m54.7 -57h2.3m106.7 70h2.3m85.7 46h2.3m-110.3 -9h2.3m-114.3 -85h2.3m125.7 -23h2.3m-144.3 -4h2.3m64.7 219h2.3m-54.3 -406h2.3m267.7 134h2.3m-242.3 98h2.3m128.7 214h2.3m9.7 -248h2.3m-48.3 31h2.3m-86.3 -90h2.3m-3.3 221h2.3m-40.3 -345h2.3m-34.3 282h2.3m-37.3 -87h2.3m153.7 6h2.3m-115.3 84h2.3m-130.3 -85h2.3m238.7 -162h2.3m-139.3 300h2.3m138.7 -285h2.3m-31.3 137h2.3m-246.3 12h2.3m54.7 -83h2.3m-24.3 407h2.3m232.7 -170h2.3m-32.3 -515h2.3m-176.3 470h2.3m59.7 -276h2.3m159.7 63h2.3m-173.3 288h2.3m65.7 -121h2.3m62.7 89h2.3m-94.3 -145h2.3m114.7 -27h2.3m-33.3 -90h2.3m101.7 -90h2.3m-125.3 227h2.3m-205.3 -78h2.3m259.7 -121h2.3m-134.3 646h2.3m-36.3 -323h2.3m49.7 -243h2.3m29.7 -97h2.3m76.7 91h2.3m-81.3 175h2.3m-115.3 84h2.3m137.7 -235h2.3m-30.3 77h2.3m7.7 -153h2.3m139.7 18h2.3m-195.3 273h2.3m215.7 -65h2.3m-136.3 5h2.3m61.7 94h2.3m-47.3 -54h2.3m-125.3 -133h2.3m-10.3 -354h2.3m133.7 578h2.3m-225.3 -17h2.3m225.7 -319h2.3m-18.3 35h2.3m81.7 123h2.3m34.7 -3h2.3m-315.3 -184h2.3m195.7 212h2.3m-133.3 -78h2.3m99.7 93h2.3m86.7 -10h2.3m-70.3 119h2.3m-334.3 -519h2.3m133.7 40h2.3m-282.3 187h2.3m720.7 303h2.3m-132.3 -439h2.3m-196.3 41h2.3m-311.3 -129h2.3m32.7 624h2.3m520.7 -92h2.3m-27.3 -466h2.3m-419.3 330h2.3m356.7 173h2.3m123.7 -584h2.3m-235.3 444h2.3m-87.3 -375h2.3m-29.3 -67h2.3m388.7 590h2.3m-331.3 -430h2.3m305.7 207h2.3m-25.3 210h2.3m-320.3 -330h2.3m74.7 13h2.3m-374.3 -96h2.3m551.7 -199h2.3m-654.3 443h2.3m196.7 -70h2.3m160.7 -145h2.3m444.7 -112h2.3m-499.3 5h2.3m184.7 56h2.3m-238.3 358h2.3m-31.3 -144h2.3m493.7 -347h2.3m-719.3 97h2.3m595.7 294h2.3m-33.3 -156h2.3m108.7 -137h2.3m-51.3 4h2.3m72.7 295h2.3m12.7 -85h2.3m-59.3 27h2.3m-70.3 51h2.3m-33.3 -60h2.3m114.7 50h2.3m-69.3 256h2.3m25.7 -333h2.3m4.7 7h2.3m-35.3 21h2.3m142.7 45h2.3m-113.3 78h2.3m107.7 -108h2.3m-160.3 324h2.3m-53.3 -341h2.3m125.7 318h2.3m-99.3 -565h2.3m94.7 228h2.3m-65.3 118h2.3m33.7 -20h2.3m-41.3 120h2.3m113.7 -151h2.3m-119.3 84h2.3m53.7 -213h2.3m-59.3 251h2.3m19.7 -165h2.3m16.7 35h2.3" stroke="#1a1a1a" stroke-width="2.3" fill="none" opacity="0.8"/></g><g mask="url(#R1M)"><g filter="url(#flb)"><ellipse cx="1745" cy="1805" rx="60" ry="35" fill="url(#gg)" fill-opacity="0.150"/></g></g><g mask="url(#R1M)"><g filter="url(#fdg)"><ellipse cx="1660" cy="1640" rx="120" ry="90" fill="url(#gg)" fill-opacity="0.040"/></g></g></g><polygon points="1714,1354.3 1793.8,1377.3 1818.1,1489.8 1793.8,1628.7 1696.6,1705 1620.2,1677.3 1606.3,1594 1609.8,1510.6 1651.4,1406.4" fill="none" stroke="#1e1e1e" stroke-width="2.2" stroke-linejoin="round"/><polygon points="1775.2,1659.1 1834.4,1656 1864,1691 1864,1751.4 1796.6,1787 1720.8,1778.7 1711.3,1757.3 1714.9,1724.2" fill="none" stroke="#1e1e1e" stroke-width="2.2" stroke-linejoin="round"/><polygon points="1791.8,1795.2 1850,1762 1971.8,1768 1960,1818.9 1872.3,1859.2 1808.4,1845" fill="none" stroke="#1e1e1e" stroke-width="2.2" stroke-linejoin="round"/><text x="1218.4" y="1411.5" font-size="45" textLength="385" lengthAdjust="spacingAndGlyphs" fill="#464646">Granulocytes CD45</text><text x="1327.5" y="1772.5" font-size="45" textLength="336" lengthAdjust="spacingAndGlyphs" fill="#464646">Monocytes CD45</text><text x="1355.3" y="1832.5" font-size="45" textLength="388" lengthAdjust="spacingAndGlyphs" fill="#464646">Lymphocytes CD45</text><g clip-path="url(#R2F)"><g clip-path="url(#R2g)"><g filter="url(#fcy)"><ellipse cx="1660" cy="2580" rx="110" ry="150" transform="rotate(-10 1660 2580)" fill="url(#gg)" fill-opacity="0.550"/><rect x="1530" y="2360" width="220" height="360" fill-opacity="0.300"/></g></g><g clip-path="url(#R2m)"><g filter="url(#fgo)"><rect x="1760" y="2560" width="155" height="135" fill-opacity="0.500"/></g></g><g clip-path="url(#R2l)"><g filter="url(#fgr)"><ellipse cx="1880" cy="2735" rx="115" ry="75" transform="rotate(-20 1880 2735)" fill="url(#gg)" fill-opacity="0.620"/><ellipse cx="1882" cy="2742" rx="62" ry="40" transform="rotate(-20 1882 2742)" fill="url(#gg)" fill-opacity="0.950"/></g></g><g mask="url(#R2M)"><path d="M0 0m1771 2198h2.3m23.7 -81h2.3m-8.3 50h2.3m-1.3 -11h2.3m7.7 64h2.3m13.7 -77h2.3m-43.3 56h2.3m4.7 -107h2.3m34.7 118h2.3m-39.3 -83h2.3m10.7 36h2.3m-1.3 -22h2.3m-44.3 -122h2.3m48.7 146h2.3m-59.3 7h2.3m42.7 28h2.3m-7.3 -28h2.3m-17.3 -136h2.3m7.7 122h2.3m-4.3 -119h2.3m-4.3 60h2.3m18.7 -35h2.3m-33.3 39h2.3m18.7 124h2.3m2.7 -179h2.3m-28.3 209h2.3m19.7 -125h2.3m1.7 60h2.3m20.7 -31h2.3m-46.3 -81h2.3m28.7 68h2.3m-16.3 34h2.3m-23.3 81h2.3m10.7 -128h2.3m-2.3 24h2.3m-4.3 -34h2.3m15.7 116h2.3m-0.3 -175h2.3m-22.3 181h2.3m4.7 -89h2.3m-6.3 98h2.3m-6.3 -139h2.3m23.7 -78h2.3m-28.3 286h2.3m4.7 -149h2.3m-37.3 -37h2.3m15.7 -41h2.3m0.7 56h2.3m6.7 64h2.3m-37.3 -117h2.3m50.7 73h2.3m10.7 -60h2.3m-10.3 70h2.3m-42.3 -159h2.3m54.7 201h2.3m-34.3 -132h2.3m-37.3 29h2.3m31.7 136h2.3m-10.3 -119h2.3m1.7 82h2.3m28.7 57h2.3m-30.3 -78h2.3m-20.3 -100h2.3m8.7 105h2.3m-34.3 -53h2.3m71.7 70h2.3m-12.3 -113h2.3m-21.3 -25h2.3m20.7 38h2.3m-39.3 -43h2.3m10.7 176h2.3m-7.3 -113h2.3m-10.3 87h2.3m7.7 -44h2.3m-3.3 -25h2.3m9.7 37h2.3m-41.3 -49h2.3m20.7 35h2.3m22.7 -82h2.3m-36.3 -48h2.3m-1.3 181h2.3m-2.3 7h2.3m9.7 -104h2.3m-0.3 -22h2.3m1.7 37h2.3m-42.3 -56h2.3m39.7 34h2.3m-50.3 91h2.3m62.7 -157h2.3m-28.3 141h2.3m5.7 -12h2.3m-37.3 27h2.3m18.7 -107h2.3m12.7 105h2.3m4.7 -119h2.3m-11.3 -54h2.3m5.7 47h2.3m-31.3 111h2.3m16.7 -108h2.3m4.7 179h2.3m-40.3 -113h2.3m25.7 6h2.3m-1.3 55h2.3m8.7 -61h2.3m1.7 -38h2.3m11.7 30h2.3m-38.3 37h2.3m-15.3 -120h2.3m1.7 177h2.3m22.7 -143h2.3m-16.3 45h2.3m-13.3 -32h2.3m-6.3 -64h2.3m0.7 183h2.3m21.7 -102h2.3m-6.3 -61h2.3m-1.3 67h2.3m-17.3 37h2.3m3.7 119h2.3m-17.3 -160h2.3m18.7 232h2.3m35.7 -42h2.3m-29.3 -23h2.3m-11.3 25h2.3m-23.3 63h2.3m77.7 -73h2.3m-10.3 61h2.3m-51.3 -121h2.3m36.7 -37h2.3m-2.3 106h2.3m-67.3 -157h2.3m39.7 169h2.3m-0.3 -192h2.3m-4.3 166h2.3m-16.3 -66h2.3m-64.3 132h2.3m57.7 -168h2.3m43.7 16h2.3m-25.3 -8h2.3m-35.3 68h2.3m83.7 -59h2.3m-109.3 139h2.3m77.7 -61h2.3m-73.3 -42h2.3m-43.3 93h2.3m89.7 -6h2.3m4.7 -21h2.3m4.7 -87h2.3m34.7 78h2.3m-106.3 -83h2.3m15.7 110h2.3m28.7 27h2.3m66.7 -32h2.3m-49.3 6h2.3m-81.3 -76h2.3m23.7 90h2.3m-45.3 77h2.3m18.7 -198h2.3m3.7 -3h2.3m26.7 70h2.3m139.7 304h2.3m-39.3 -16h2.3m24.7 90h2.3m-35.3 -97h2.3m34.7 52h2.3m-20.3 65h2.3m13.7 -86h2.3m9.7 -6h2.3m15.7 5h2.3m-2.3 79h2.3m-45.3 -57h2.3m0.7 0h2.3m3.7 -53h2.3m5.7 68h2.3m-36.3 -21h2.3m22.7 22h2.3m-4.3 -7h2.3m-15.3 58h2.3m18.7 -39h2.3m-6.3 -58h2.3m5.7 47h2.3m-29.3 -60h2.3m13.7 27h2.3m-2.3 32h2.3m-13.3 -33h2.3m10.7 -38h2.3m-10.3 40h2.3m0.7 8h2.3m26.7 51h2.3m-26.3 -45h2.3m-4.3 -27h2.3m-6.3 75h2.3m6.7 -53h2.3m-7.3 -6h2.3m1.7 -29h2.3m8.7 58h2.3m-20.3 -38h2.3m-16.3 65h2.3m26.7 -105h2.3m-35.3 69h2.3m29.7 21h2.3m-14.3 -12h2.3m5.7 -17h2.3m6.7 -9h2.3m-25.3 59h2.3m1.7 -137h2.3m6.7 77h2.3m-6.3 47h2.3m-9.3 8h2.3m6.7 37h2.3m-21.3 -271h2.3m-21.3 63h2.3m-58.3 78h2.3m77.7 -114h2.3m-97.3 39h2.3m97.7 -45h2.3m-73.3 79h2.3m80.7 -53h2.3m2.7 66h2.3m-182.3 -20h2.3m77.7 -28h2.3m134.7 -22h2.3m37.7 3h2.3m-71.3 -88h2.3m-150.3 55h2.3m62.7 -11h2.3m83.7 54h2.3m-55.3 -17h2.3m-45.3 -48h2.3m-43.3 102h2.3m-12.3 -98h2.3m18.7 75h2.3m21.7 -49h2.3m38.7 17h2.3m-3.3 -14h2.3m95.7 188h2.3m-136.3 -201h2.3m5.7 -5h2.3m2.7 -3h2.3m-10.3 60h2.3m-145.3 -285h2.3m-181.3 279h2.3m312.7 -10h2.3m-440.3 46h2.3m61.7 137h2.3m129.7 83h2.3m15.7 -421h2.3m-190.3 100h2.3m265.7 232h2.3m-27.3 -289h2.3m30.7 -105h2.3m-1.3 103h2.3m135.7 262h2.3m-160.3 -302h2.3m23.7 208h2.3m-156.3 -148h2.3m252.7 33h2.3m-118.3 269h2.3m-272.3 59h2.3m347.7 -365h2.3m-277.3 -86h2.3m261.7 -203h2.3m-3.3 411h2.3m-228.3 -101h2.3m42.7 41h2.3m173.7 -90h2.3m25.7 273h2.3m-190.3 -56h2.3m-43.3 -84h2.3m143.7 283h2.3m-79.3 -314h2.3m9.7 -4h2.3m-158.3 309h2.3m61.7 -370h2.3m-15.3 192h2.3m513.7 352h2.3m-280.3 -404h2.3m-143.3 -203h2.3m104.7 138h2.3m186.7 -28h2.3m-436.3 -235h2.3m-111.3 368h2.3m295.7 -265h2.3m-265.3 216h2.3m162.7 -9h2.3m45.7 -152h2.3m-244.3 138h2.3m255.7 8h2.3m116.7 112h2.3m-204.3 -52h2.3m-239.3 15h2.3m299.7 51h2.3m141.7 -296h2.3m-160.3 311h2.3m-61.3 -158h2.3m-11.3 78h2.3m125.7 -214h2.3m-245.3 -211h2.3m318.7 268h2.3m-220.3 -11h2.3m-69.3 -249h2.3m275.7 -58h2.3m-100.3 217h2.3m-408.3 105h2.3m-19.3 -55h2.3m24.7 -254h2.3m299.7 545h2.3m-258.3 -447h2.3m425.7 536h2.3m-44.3 -407h2.3m336.7 -260h2.3m-102.3 180h2.3m-609.3 -127h2.3m136.7 517h2.3m-110.3 -174h2.3m386.7 -154h2.3m-79.3 -230h2.3m-417.3 106h2.3m524.7 164h2.3m-313.3 117h2.3m115.7 -211h2.3m287.7 295h2.3m-470.3 -92h2.3m236.7 223h2.3m171.7 -435h2.3m210.7 -126h2.3m-480.3 473h2.3m-228.3 -198h2.3m-98.3 132h2.3m614.7 -70h2.3m91.7 -192h2.3m-155.3 208h2.3m-100.3 -102h2.3m218.7 361h2.3m-313.3 -208h2.3" stroke="#1a1a1a" stroke-width="2.3" fill="none" opacity="0.8"/></g><g mask="url(#R2M)"><path d="M0 0m1500 2574h2.3m172.7 -82h2.3m-110.3 210h2.3m-32.3 -124h2.3m18.7 40h2.3m156.7 69h2.3m52.7 -207h2.3m-200.3 25h2.3m7.7 87h2.3m41.7 -101h2.3m-70.3 337h2.3m-86.3 -36h2.3m24.7 -331h2.3m86.7 66h2.3m25.7 -29h2.3m-31.3 100h2.3m144.7 5h2.3m7.7 -25h2.3m122.7 -285h2.3m-282.3 298h2.3m21.7 7h2.3m51.7 102h2.3m-54.3 -146h2.3m-96.3 24h2.3m65.7 23h2.3m4.7 -4h2.3m-24.3 -154h2.3m-18.3 57h2.3m177.7 46h2.3m-74.3 112h2.3m22.7 -117h2.3m-35.3 -194h2.3m49.7 138h2.3m-288.3 144h2.3m160.7 -226h2.3m112.7 284h2.3m-74.3 -187h2.3m59.7 246h2.3m-161.3 -217h2.3m15.7 47h2.3m83.7 39h2.3m-54.3 -14h2.3m267.7 -174h2.3m-261.3 121h2.3m-14.3 -10h2.3m9.7 68h2.3m-5.3 -35h2.3m25.7 67h2.3m-235.3 -22h2.3m76.7 -125h2.3m145.7 -37h2.3m53.7 130h2.3m50.7 72h2.3m-226.3 100h2.3m151.7 -138h2.3m-115.3 -149h2.3m187.7 130h2.3m-289.3 32h2.3m230.7 -251h2.3m-296.3 140h2.3m161.7 65h2.3m218.7 123h2.3m-223.3 -245h2.3m240.7 89h2.3m-219.3 154h2.3m122.7 -163h2.3m42.7 -7h2.3m-10.3 108h2.3m-76.3 -182h2.3m-50.3 269h2.3m152.7 -76h2.3m-232.3 15h2.3m6.7 -103h2.3m142.7 172h2.3m-145.3 -148h2.3m-72.3 -110h2.3m257.7 145h2.3m2.7 77h2.3m89.7 -82h2.3m-325.3 -93h2.3m34.7 24h2.3m19.7 35h2.3m-30.3 83h2.3m14.7 -154h2.3m-71.3 -57h2.3m142.7 103h2.3m-70.3 8h2.3m125.7 -114h2.3m-204.3 161h2.3m63.7 -51h2.3m104.7 -13h2.3m54.7 34h2.3m-24.3 55h2.3m-151.3 -135h2.3m175.7 47h2.3m187.7 -82h2.3m-478.3 47h2.3m415.7 152h2.3m-323.3 -70h2.3m188.7 -77h2.3m-78.3 58h2.3m-3.3 -69h2.3m-54.3 26h2.3m143.7 -199h2.3m-249.3 355h2.3m193.7 -166h2.3m-449.3 96h2.3m515.7 -91h2.3m-159.3 30h2.3m148.7 -195h2.3m-204.3 174h2.3m180.7 123h2.3m-163.3 -216h2.3m64.7 98h2.3m32.7 24h2.3m-66.3 26h2.3m14.7 37h2.3m45.7 -172h2.3m-13.3 214h2.3m140.7 126h2.3m-118.3 -195h2.3m-279.3 -126h2.3m173.7 45h2.3m-109.3 -55h2.3m280.7 43h2.3m-145.3 233h2.3m-75.3 -368h2.3m133.7 362h2.3m-142.3 -164h2.3m73.7 35h2.3m47.7 -75h2.3m-107.3 -22h2.3m53.7 143h2.3m20.7 -118h2.3m-101.3 83h2.3m-79.3 -42h2.3m254.7 -113h2.3m30.7 -56h2.3m-129.3 137h2.3m110.7 65h2.3m-91.3 40h2.3m-169.3 -107h2.3m150.7 -141h2.3m6.7 284h2.3m-149.3 -103h2.3m89.7 -167h2.3m-5.3 59h2.3m152.7 153h2.3m-130.3 19h2.3m34.7 -60h2.3m-300.3 61h2.3m197.7 -131h2.3m129.7 29h2.3m-90.3 -14h2.3m249.7 -23h2.3m-179.3 -23h2.3m-181.3 112h2.3m249.7 -91h2.3m-128.3 265h2.3m-162.3 -134h2.3m331.7 -131h2.3m-35.3 182h2.3m-506.3 -26h2.3m308.7 -56h2.3m324.7 177h2.3m-297.3 -212h2.3m-263.3 -9h2.3m336.7 213h2.3m10.7 -212h2.3m-60.3 52h2.3m-15.3 -49h2.3m33.7 165h2.3m-145.3 -128h2.3m58.7 -75h2.3m54.7 -35h2.3m-93.3 63h2.3m71.7 62h2.3m-91.3 9h2.3m259.7 41h2.3m-254.3 19h2.3m91.7 -97h2.3m66.7 -36h2.3m168.7 26h2.3m-265.3 -11h2.3m-55.3 -71h2.3m260.7 31h2.3m-291.3 -91h2.3m-17.3 318h2.3m177.7 -221h2.3m-39.3 40h2.3m-191.3 -33h2.3m230.7 -172h2.3m-173.3 263h2.3m-105.3 55h2.3m200.7 -75h2.3m68.7 154h2.3m87.7 67h2.3m-173.3 -178h2.3m121.7 140h2.3m-70.3 -205h2.3m-104.3 -129h2.3m-51.3 168h2.3m140.7 -100h2.3m-121.3 12h2.3m-41.3 24h2.3m25.7 41h2.3m151.7 -38h2.3m-87.3 -98h2.3m46.7 125h2.3m-51.3 -92h2.3m134.7 18h2.3m-38.3 75h2.3m-325.3 -227h2.3m300.7 160h2.3m-181.3 -46h2.3m158.7 40h2.3m-197.3 27h2.3m17.7 23h2.3m189.7 -3h2.3m19.7 -30h2.3m-76.3 20h2.3m197.7 8h2.3m-278.3 174h2.3m208.7 -179h2.3m-109.3 -65h2.3m62.7 -55h2.3m-57.3 41h2.3m-15.3 165h2.3m-78.3 -23h2.3m86.7 -100h2.3m-139.3 -42h2.3m-46.3 99h2.3m-142.3 -12h2.3m172.7 -160h2.3m90.7 266h2.3m-34.3 -258h2.3m39.7 121h2.3m150.7 123h2.3m-227.3 -58h2.3m-3.3 -20h2.3m50.7 -120h2.3m64.7 3h2.3m-30.3 94h2.3m-0.3 -33h2.3m-115.3 38h2.3m-113.3 109h2.3m205.7 -18h2.3m-69.3 -104h2.3m-45.3 -1h2.3m329.7 -18h2.3m-494.3 2h2.3m270.7 36h2.3m-218.3 100h2.3m455.7 -266h2.3m-222.3 67h2.3m-20.3 -69h2.3m-228.3 166h2.3m194.7 -68h2.3m77.7 84h2.3m-48.3 -119h2.3m-103.3 238h2.3m104.7 -77h2.3m127.7 85h2.3m-162.3 -57h2.3m-72.3 -114h2.3m220.7 -84h2.3m-107.3 138h2.3m-12.3 -89h2.3m-200.3 179h2.3m112.7 -11h2.3m-116.3 -43h2.3m151.7 -241h2.3m27.7 302h2.3m85.7 100h2.3m-147.3 -114h2.3m30.7 5h2.3m-19.3 -92h2.3m182.7 -19h2.3m-169.3 41h2.3m-60.3 -222h2.3m41.7 292h2.3m182.7 -233h2.3m-344.3 141h2.3m11.7 -126h2.3m218.7 71h2.3m-279.3 173h2.3m192.7 -70h2.3m54.7 -152h2.3m-83.3 54h2.3m180.7 8h2.3m-94.3 36h2.3m55.7 45h2.3m-156.3 -190h2.3m44.7 -66h2.3m-140.3 181h2.3m25.7 -112h2.3m211.7 25h2.3m-244.3 169h2.3m175.7 -198h2.3m-101.3 226h2.3m-20.3 -117h2.3m95.7 -10h2.3m26.7 -28h2.3m-148.3 239h2.3m-47.3 -135h2.3m251.7 -19h2.3m-244.3 -85h2.3m100.7 76h2.3m71.7 -7h2.3m-55.3 -114h2.3m147.7 8h2.3m-310.3 98h2.3m121.7 -199h2.3m133.7 238h2.3m41.7 41h2.3m-349.3 -62h2.3m368.7 83h2.3m-143.3 -86h2.3m-45.3 56h2.3m191.7 12h2.3m-28.3 -120h2.3m-268.3 28h2.3m83.7 103h2.3m-157.3 -125h2.3m103.7 89h2.3m161.7 -195h2.3m17.7 179h2.3m-156.3 10h2.3m-36.3 -78h2.3m10.7 5h2.3m52.7 73h2.3m-30.3 -119h2.3m77.7 -2h2.3m-8.3 85h2.3m33.7 -131h2.3m-119.3 122h2.3m16.7 -77h2.3m149.7 -38h2.3m-211.3 45h2.3m139.7 -53h2.3m-124.3 228h2.3m-8.3 -302h2.3m-22.3 56h2.3m168.7 297h2.3m-163.3 -197h2.3m126.7 -11h2.3m-303.3 -67h2.3m365.7 75h2.3m95.7 -71h2.3m-262.3 129h2.3m245.7 83h2.3m-78.3 -110h2.3m-179.3 29h2.3m39.7 -2h2.3m-20.3 102h2.3m45.7 -32h2.3m76.7 24h2.3m-290.3 -169h2.3m160.7 88h2.3m73.7 -58h2.3m-222.3 -41h2.3m148.7 46h2.3m239.7 -22h2.3m-157.3 121h2.3m-63.3 -135h2.3m-54.3 248h2.3m-157.3 -190h2.3m70.7 -111h2.3m113.7 246h2.3m94.7 -146h2.3m112.7 -59h2.3m-70.3 132h2.3m74.7 -96h2.3m-165.3 -14h2.3m-30.3 -97h2.3m51.7 168h2.3m-31.3 -71h2.3m-129.3 14h2.3m259.7 4h2.3m-286.3 18h2.3m225.7 -196h2.3m-53.3 54h2.3m-216.3 154h2.3m137.7 55h2.3m-144.3 -39h2.3m252.7 5h2.3m-315.3 94h2.3m139.7 18h2.3m209.7 -297h2.3m-356.3 -34h2.3m245.7 182h2.3m-78.3 161h2.3m-62.3 -212h2.3m-23.3 219h2.3m431.7 47h2.3m-220.3 -139h2.3m-469.3 -245h2.3m222.7 231h2.3m138.7 59h2.3m6.7 -86h2.3m-117.3 -188h2.3m-172.3 96h2.3m341.7 202h2.3m-235.3 -137h2.3m42.7 -42h2.3m102.7 -130h2.3m-61.3 141h2.3m108.7 8h2.3m59.7 88h2.3m-231.3 12h2.3m253.7 -36h2.3m-29.3 -35h2.3m-107.3 -85h2.3m-66.3 191h2.3m125.7 -6h2.3m35.7 8h2.3m-208.3 -28h2.3m218.7 -168h2.3m-248.3 -26h2.3m188.7 97h2.3m-45.3 146h2.3m-16.3 -156h2.3m-83.3 58h2.3m158.7 55h2.3m-123.3 -21h2.3m127.7 -122h2.3m-363.3 -58h2.3m301.7 25h2.3m-19.3 142h2.3m-20.3 -118h2.3m30.7 -105h2.3m166.7 195h2.3m-224.3 -71h2.3m123.7 137h2.3m-141.3 -164h2.3m99.7 -120h2.3m-96.3 292h2.3m-7.3 -52h2.3m13.7 -133h2.3m-99.3 8h2.3m105.7 110h2.3m-48.3 -256h2.3m160.7 33h2.3m-254.3 155h2.3m39.7 -60h2.3m236.7 23h2.3m-111.3 87h2.3m38.7 11h2.3m-204.3 47h2.3m-10.3 -149h2.3m162.7 -26h2.3m-8.3 158h2.3m35.7 -31h2.3m31.7 10h2.3m-262.3 -119h2.3m187.7 233h2.3m-1.3 -217h2.3m60.7 -35h2.3m-96.3 -133h2.3m-10.3 307h2.3m-2.3 106h2.3m-58.3 -185h2.3m98.7 41h2.3m-255.3 158h2.3m366.7 -236h2.3m-211.3 153h2.3m0.7 -136h2.3m-44.3 -9h2.3m35.7 158h2.3m83.7 -211h2.3m-23.3 195h2.3m100.7 -217h2.3m-38.3 90h2.3m-74.3 50h2.3m-105.3 20h2.3m-29.3 -100h2.3m32.7 -198h2.3m263.7 363h2.3m-363.3 -71h2.3m123.7 -5h2.3m-99.3 -199h2.3m193.7 172h2.3m66.7 -74h2.3m29.7 55h2.3m-19.3 -38h2.3m-165.3 9h2.3m-21.3 -78h2.3m49.7 86h2.3m88.7 107h2.3m-256.3 -106h2.3m208.7 107h2.3m145.7 -156h2.3m-210.3 195h2.3m131.7 -49h2.3m-210.3 -263h2.3m54.7 115h2.3m40.7 40h2.3m191.7 -89h2.3m-151.3 68h2.3m-76.3 -11h2.3m40.7 284h2.3m34.7 -216h2.3m-10.3 -142h2.3m-49.3 60h2.3m-196.3 211h2.3m78.7 -298h2.3m162.7 200h2.3m-196.3 42h2.3m250.7 -209h2.3m-69.3 176h2.3m77.7 -191h2.3m-111.3 -28h2.3m-24.3 228h2.3m93.7 22h2.3m-181.3 -64h2.3m-65.3 -103h2.3m176.7 69h2.3m-88.3 112h2.3m228.7 -103h2.3m-310.3 3h2.3m129.7 57h2.3m-208.3 -34h2.3m477.7 74h2.3m-223.3 -85h2.3m51.7 128h2.3m-81.3 24h2.3m26.7 -183h2.3m-97.3 34h2.3m25.7 -234h2.3m50.7 276h2.3m-103.3 -72h2.3m207.7 60h2.3m-87.3 -33h2.3m-87.3 16h2.3m-30.3 12h2.3m172.7 -139h2.3m-126.3 -80h2.3m-84.3 213h2.3m231.7 -5h2.3m-131.3 -105h2.3m31.7 18h2.3m-147.3 -80h2.3m131.7 376h2.3m-115.3 -85h2.3m-71.3 -108h2.3m66.7 -15h2.3m133.7 -100h2.3m-11.3 -4h2.3m22.7 -29h2.3m-24.3 -159h2.3m-60.3 413h2.3m-32.3 -40h2.3m9.7 -8h2.3m122.7 -72h2.3m-89.3 -1h2.3m-75.3 120h2.3m-191.3 -111h2.3m281.7 -155h2.3m135.7 130h2.3m-5.3 241h2.3m-20.3 -221h2.3m-58.3 -128h2.3m-151.3 -108h2.3m53.7 117h2.3m-27.3 161h2.3m-89.3 -163h2.3m54.7 -41h2.3m390.7 58h2.3m-314.3 208h2.3m78.7 -304h2.3m-6.3 152h2.3m-14.3 256h2.3m-96.3 -226h2.3m44.7 26h2.3m-127.3 -245h2.3m21.7 133h2.3m2.7 1h2.3m24.7 252h2.3m-102.3 -290h2.3m44.7 130h2.3m176.7 -26h2.3m-136.3 67h2.3m5.7 -102h2.3m-144.3 233h2.3m-144.3 -245h2.3m285.7 36h2.3m-57.3 -12h2.3m-98.3 -126h2.3m85.7 152h2.3m95.7 -68h2.3m79.7 79h2.3m-99.3 -20h2.3m8.7 115h2.3m-0.3 134h2.3m13.7 -263h2.3m-8.3 32h2.3m-124.3 20h2.3m-32.3 9h2.3m289.7 -6h2.3m-75.3 146h2.3m-228.3 -306h2.3m37.7 79h2.3m174.7 161h2.3m-106.3 -20h2.3m153.7 -155h2.3m-287.3 -25h2.3m102.7 -22h2.3m43.7 241h2.3m39.7 -227h2.3m-73.3 78h2.3m70.7 131h2.3m-251.3 -171h2.3m122.7 69h2.3m-51.3 -66h2.3m121.7 28h2.3m6.7 43h2.3m-27.3 -107h2.3m4.7 200h2.3m64.7 -166h2.3m68.7 180h2.3m-279.3 -239h2.3m376.7 -56h2.3m-276.3 240h2.3m-3.3 53h2.3m-51.3 -73h2.3m137.7 -60h2.3m-89.3 36h2.3m-51.3 -66h2.3m66.7 -17h2.3m8.7 63h2.3m-27.3 192h2.3m-17.3 -190h2.3m113.7 29h2.3m-23.3 -28h2.3m-98.3 3h2.3m-129.3 185h2.3m124.7 -121h2.3m112.7 -59h2.3m-5.3 -16h2.3m-209.3 -101h2.3m178.7 33h2.3m-106.3 -26h2.3m37.7 223h2.3m39.7 -264h2.3m62.7 -2h2.3m-127.3 -4h2.3m-107.3 -104h2.3m90.7 265h2.3m9.7 46h2.3m138.7 -6h2.3m36.7 53h2.3m4.7 4h2.3m-114.3 18h2.3m51.7 14h2.3m80.7 37h2.3m-32.3 -67h2.3m5.7 26h2.3m-103.3 -30h2.3m37.7 39h2.3m41.7 -15h2.3m26.7 0h2.3m-97.3 -34h2.3m79.7 6h2.3m-58.3 38h2.3m54.7 -37h2.3m-45.3 40h2.3m-3.3 -54h2.3m39.7 66h2.3m-79.3 -61h2.3m74.7 20h2.3m-1.3 15h2.3m66.7 -67h2.3m-80.3 26h2.3m-102.3 -2h2.3m53.7 51h2.3m11.7 -52h2.3m-31.3 32h2.3m55.7 -37h2.3m-17.3 35h2.3m-20.3 -15h2.3m-4.3 -7h2.3m-24.3 14h2.3m21.7 -8h2.3m-39.3 37h2.3m39.7 68h2.3m109.7 -96h2.3m-20.3 -26h2.3m-158.3 5h2.3m54.7 31h2.3m89.7 -36h2.3m-84.3 59h2.3m5.7 18h2.3m27.7 1h2.3m1.7 -41h2.3m-33.3 -41h2.3m-5.3 40h2.3m-15.3 -17h2.3m-6.3 51h2.3m4.7 -32h2.3m19.7 -54h2.3m-34.3 37h2.3m-91.3 16h2.3m69.7 -9h2.3m62.7 -9h2.3m-60.3 8h2.3m60.7 -32h2.3m-87.3 28h2.3m19.7 35h2.3m13.7 -28h2.3m-10.3 -49h2.3m34.7 52h2.3m-32.3 -30h2.3m45.7 63h2.3m-4.3 -39h2.3m-81.3 -18h2.3m-11.3 7h2.3m116.7 -17h2.3m-23.3 1h2.3m-44.3 -20h2.3m-10.3 4h2.3m1.7 36h2.3m24.7 48h2.3m-56.3 -28h2.3m7.7 -26h2.3m14.7 -10h2.3m26.7 13h2.3m2.7 7h2.3m-33.3 -10h2.3m-44.3 15h2.3m76.7 -35h2.3m-61.3 30h2.3m-13.3 3h2.3m76.7 31h2.3m-200.3 -61h2.3m152.7 26h2.3m36.7 -6h2.3m-14.3 12h2.3m-96.3 10h2.3m56.7 22h2.3m-20.3 -8h2.3m-29.3 -32h2.3m65.7 -6h2.3m-22.3 40h2.3m31.7 -24h2.3m-48.3 10h2.3m-9.3 -12h2.3m40.7 -68h2.3m-49.3 56h2.3m26.7 22h2.3m20.7 44h2.3m-25.3 -112h2.3m-44.3 87h2.3m18.7 -71h2.3m4.7 37h2.3m56.7 5h2.3m-62.3 27h2.3m11.7 -94h2.3m17.7 73h2.3m25.7 8h2.3m-101.3 -38h2.3m56.7 54h2.3m8.7 -47h2.3m-20.3 38h2.3m-1.3 -41h2.3m-26.3 -19h2.3m18.7 30h2.3m-39.3 82h2.3m11.7 -72h2.3m34.7 12h2.3m-41.3 -34h2.3m42.7 35h2.3m-8.3 -59h2.3m-53.3 49h2.3m44.7 5h2.3m22.7 -36h2.3m26.7 32h2.3m-34.3 -14h2.3m-12.3 -7h2.3m-53.3 42h2.3m-18.3 -27h2.3m37.7 14h2.3m-18.3 25h2.3m53.7 -72h2.3m-84.3 33h2.3m71.7 41h2.3m-25.3 -66h2.3m-12.3 -31h2.3m-5.3 61h2.3m24.7 -34h2.3m22.7 50h2.3m-89.3 -49h2.3m6.7 0h2.3m108.7 47h2.3m-127.3 -67h2.3m-19.3 45h2.3m-7.3 13h2.3m92.7 6h2.3m-27.3 -42h2.3m-44.3 23h2.3m37.7 -10h2.3" stroke="#2a9a2a" stroke-width="2.3" fill="none" opacity="0.8"/></g><g mask="url(#R2M)"><g filter="url(#flb)"><ellipse cx="1765" cy="2725" rx="60" ry="40" fill="url(#gg)" fill-opacity="0.400"/><ellipse cx="1720" cy="2750" rx="40" ry="30" fill="url(#gg)" fill-opacity="0.200"/></g></g></g><polygon points="1644.5,2366.4 1719.5,2385.2 1748.7,2484.5 1727.8,2626.9 1623.7,2710.2 1547.3,2675.5 1533.4,2588.7 1543.8,2519.2 1578.5,2422" fill="none" stroke="#1e1e1e" stroke-width="2.2" stroke-linejoin="round"/><polygon points="1804.2,2567.8 1884.1,2562.3 1911.9,2595.6 1911.9,2651.2 1859.8,2689.4 1776.5,2675.5 1764,2651.2 1776.5,2616.5" fill="none" stroke="#1e1e1e" stroke-width="2.2" stroke-linejoin="round"/><polygon points="1790.4,2734.5 1901.5,2679 1967.5,2710.2 1953.6,2765.8 1873.7,2797 1804.2,2776.2" fill="none" stroke="#1e1e1e" stroke-width="2.2" stroke-linejoin="round"/><text x="1216" y="2386.5" font-size="45" textLength="385" lengthAdjust="spacingAndGlyphs" fill="#464646">Granulocytes CD45</text><text x="1713" y="2525.5" font-size="45" textLength="336" lengthAdjust="spacingAndGlyphs" fill="#464646">Monocytes CD45</text><text x="1369" y="2795.5" font-size="45" textLength="389" lengthAdjust="spacingAndGlyphs" fill="#464646">Lymphocytes CD45</text><g clip-path="url(#R3F)"><g clip-path="url(#R3g)"><g filter="url(#fcy)"><rect x="1590" y="3420" width="230" height="250" fill-opacity="0.420"/><ellipse cx="1700" cy="3560" rx="100" ry="90" fill="url(#gg)" fill-opacity="0.400"/></g></g><g clip-path="url(#R3m)"><g filter="url(#fgo)"><rect x="1790" y="3520" width="150" height="140" fill-opacity="0.850"/></g></g><g clip-path="url(#R3l)"><g filter="url(#fgr)"><ellipse cx="1885" cy="3715" rx="105" ry="105" transform="rotate(-30 1885 3715)" fill="url(#gg)" fill-opacity="0.650"/><ellipse cx="1890" cy="3720" rx="46" ry="62" transform="rotate(20 1890 3720)" fill="url(#gf)" fill-opacity="1.000"/></g></g><g mask="url(#R3M)"><path d="M0 0m1759 3324h2.3m-8.3 -65h2.3m-5.3 -38h2.3m47.7 38h2.3m-16.3 -21h2.3m-19.3 276h2.3m-27.3 -268h2.3m74.7 -133h2.3m-64.3 84h2.3m-9.3 18h2.3m26.7 7h2.3m-35.3 127h2.3m-1.3 -202h2.3m24.7 2h2.3m26.7 -125h2.3m-10.3 228h2.3m-40.3 60h2.3m-4.3 -103h2.3m-15.3 -162h2.3m71.7 89h2.3m-37.3 272h2.3m-5.3 -326h2.3m-16.3 68h2.3m9.7 0h2.3m-23.3 51h2.3m8.7 23h2.3m-12.3 183h2.3m11.7 1h2.3m10.7 -321h2.3m-24.3 89h2.3m-54.3 80h2.3m93.7 -39h2.3m-100.3 120h2.3m20.7 -165h2.3m57.7 101h2.3m-7.3 -171h2.3m-9.3 13h2.3m-1.3 101h2.3m-11.3 171h2.3m-36.3 -175h2.3m-4.3 48h2.3m43.7 -121h2.3m8.7 102h2.3m-65.3 278h2.3m79.7 -333h2.3m-14.3 266h2.3m-18.3 -179h2.3m-6.3 -142h2.3m-22.3 153h2.3m25.7 -54h2.3m-10.3 9h2.3m7.7 9h2.3m-46.3 -27h2.3m35.7 -188h2.3m-43.3 172h2.3m39.7 28h2.3m16.7 -216h2.3m-57.3 401h2.3m36.7 -244h2.3m-3.3 77h2.3m-7.3 -2h2.3m-27.3 -43h2.3m40.7 -58h2.3m-67.3 24h2.3m-17.3 -168h2.3m77.7 288h2.3m-85.3 -157h2.3m35.7 148h2.3m1.7 148h2.3m-0.3 -197h2.3m23.7 -14h2.3m-57.3 57h2.3m52.7 -152h2.3m-53.3 32h2.3m76.7 151h2.3m-36.3 -203h2.3m5.7 179h2.3m-12.3 -118h2.3m4.7 71h2.3m-40.3 24h2.3m19.7 105h2.3m-16.3 -368h2.3m32.7 216h2.3m-21.3 -13h2.3m-1.3 155h2.3m39.7 -45h2.3m-13.3 -200h2.3m-56.3 39h2.3m30.7 -60h2.3m-42.3 227h2.3m62.7 -194h2.3m14.7 248h2.3m-73.3 -148h2.3m48.7 -33h2.3m-40.3 81h2.3m50.7 -129h2.3m-48.3 -16h2.3m-30.3 282h2.3m58.7 -248h2.3m-36.3 145h2.3m11.7 133h2.3m12.7 -457h2.3m-70.3 313h2.3m23.7 86h2.3m28.7 -46h2.3m30.7 -66h2.3m-85.3 -57h2.3m44.7 -52h2.3m-34.3 313h2.3m-9.3 -182h2.3m51.7 -96h2.3m-52.3 28h2.3m53.7 30h2.3m-2.3 -177h2.3m-7.3 80h2.3m-60.3 -11h2.3m-4.3 119h2.3m18.7 -131h2.3m40.7 138h2.3m-31.3 0h2.3m-21.3 2h2.3m27.7 91h2.3m-3.3 -131h2.3m5.7 46h2.3m-55.3 72h2.3m0.7 -250h2.3m13.7 126h2.3m15.7 -106h2.3m0.7 77h2.3m-51.3 -127h2.3m10.7 161h2.3m36.7 -98h2.3m-41.3 93h2.3m43.7 -46h2.3m-13.3 2h2.3m-17.3 -76h2.3m-2.3 82h2.3m-62.3 69h2.3m60.7 -6h2.3m-5.3 -53h2.3m10.7 188h2.3m-47.3 -165h2.3m38.7 -85h2.3m-48.3 -56h2.3m78.7 217h2.3m-58.3 -61h2.3m14.7 -14h2.3m23.7 -100h2.3m-48.3 9h2.3m23.7 49h2.3m24.7 108h2.3m-30.3 162h2.3m20.7 -156h2.3m-30.3 -107h2.3m17.7 121h2.3m-57.3 151h2.3m24.7 -78h2.3m-2.3 -243h2.3m25.7 143h2.3m23.7 -6h2.3m-31.3 29h2.3m29.7 -110h2.3m-45.3 -125h2.3m18.7 122h2.3m-67.3 -13h2.3m27.7 -41h2.3m-18.3 78h2.3m-11.3 77h2.3m31.7 -85h2.3m6.7 16h2.3m39.7 -82h2.3m-83.3 143h2.3m47.7 2h2.3m-22.3 -94h2.3m39.7 10h2.3m-11.3 -56h2.3m-88.3 132h2.3m13.7 -67h2.3m76.7 189h2.3m-41.3 -146h2.3m-60.3 -14h2.3m34.7 -179h2.3m53.7 249h2.3m-22.3 -132h2.3m-50.3 -116h2.3m51.7 172h2.3m-19.3 68h2.3m2.7 -106h2.3m20.7 0h2.3m-23.3 -159h2.3m-27.3 348h2.3m-13.3 -101h2.3m-16.3 37h2.3m41.7 -99h2.3m-44.3 -59h2.3m12.7 72h2.3m22.7 4h2.3m1.7 97h2.3m-34.3 -119h2.3m69.7 -31h2.3m-16.3 43h2.3m-81.3 77h2.3m50.7 -78h2.3m-20.3 9h2.3m15.7 60h2.3m-50.3 25h2.3m32.7 -40h2.3m-2.3 -59h2.3m-28.3 -21h2.3m-35.3 79h2.3m33.7 159h2.3m9.7 -339h2.3m-8.3 308h2.3m-33.3 -234h2.3m66.7 115h2.3m-2.3 -37h2.3m-6.3 -144h2.3m-20.3 102h2.3m-4.3 7h2.3m26.7 -64h2.3m-7.3 123h2.3m-35.3 -186h2.3m-4.3 201h2.3m31.7 -123h2.3m-20.3 26h2.3m23.7 -26h2.3m-29.3 -37h2.3m41.7 213h2.3m-20.3 -149h2.3m-5.3 96h2.3m-19.3 -38h2.3m-38.3 -99h2.3m56.7 -202h2.3m-16.3 333h2.3m11.7 -50h2.3m-37.3 -145h2.3m36.7 275h2.3m-35.3 -317h2.3m-24.3 292h2.3m42.7 -114h2.3m-16.3 -52h2.3m9.7 75h2.3m-22.3 -77h2.3m10.7 24h2.3m-26.3 26h2.3m47.7 -203h2.3m-86.3 114h2.3m-17.3 13h2.3m34.7 -11h2.3m65.7 122h2.3m-72.3 -111h2.3m15.7 37h2.3m7.7 101h2.3m12.7 -110h2.3m-63.3 75h2.3m-4.3 -7h2.3m24.7 -82h2.3m41.7 15h2.3m-15.3 160h2.3m-1.3 -323h2.3m-40.3 224h2.3m8.7 59h2.3m32.7 -132h2.3m-19.3 40h2.3m-3.3 -61h2.3m-15.3 97h2.3m35.7 -119h2.3m-49.3 51h2.3m-16.3 -119h2.3m14.7 54h2.3m26.7 191h2.3m12.7 116h2.3m-22.3 -293h2.3m-12.3 48h2.3m21.7 26h2.3m-32.3 -27h2.3m42.7 30h2.3m-15.3 235h2.3m7.7 -280h2.3m-34.3 247h2.3m-59.3 -213h2.3m75.7 9h2.3m20.7 -116h2.3m-64.3 119h2.3m39.7 -128h2.3m-16.3 75h2.3m-5.3 -49h2.3m-5.3 52h2.3m49.7 147h2.3m-47.3 -107h2.3m-46.3 -72h2.3m20.7 -135h2.3m22.7 434h2.3m-32.3 -294h2.3m-18.3 67h2.3m26.7 101h2.3m-16.3 -176h2.3m11.7 -47h2.3m7.7 306h2.3m1.7 -205h2.3m-30.3 145h2.3m1.7 -146h2.3m8.7 214h2.3m-9.3 -243h2.3m68.7 161h2.3m-59.3 46h2.3m10.7 -160h2.3m2.7 142h2.3m12.7 -260h2.3m-48.3 204h2.3m14.7 140h2.3m-24.3 191h2.3m16.7 -209h2.3m-35.3 -160h2.3m64.7 24h2.3m-54.3 -56h2.3m-42.3 150h2.3m72.7 -267h2.3m3.7 227h2.3m-20.3 -136h2.3m50.7 238h2.3m-77.3 -84h2.3m34.7 16h2.3m-71.3 -62h2.3m20.7 -165h2.3m-1.3 232h2.3m59.7 -122h2.3m-25.3 -11h2.3m-13.3 -161h2.3m-8.3 91h2.3m-15.3 59h2.3m-11.3 45h2.3m-5.3 -27h2.3m-58.3 147h2.3m35.7 -278h2.3m21.7 60h2.3m-22.3 -89h2.3m38.7 103h2.3m-9.3 36h2.3m-25.3 -55h2.3m47.7 -7h2.3m-31.3 -3h2.3m6.7 188h2.3m13.7 -212h2.3m-53.3 69h2.3m24.7 -167h2.3m-11.3 260h2.3m6.7 -89h2.3m-23.3 121h2.3m12.7 -164h2.3m34.7 173h2.3m-67.3 -80h2.3m54.7 -27h2.3m-40.3 -172h2.3m53.7 73h2.3m-59.3 156h2.3m-6.3 45h2.3m26.7 -23h2.3m-7.3 35h2.3m1.7 47h2.3m-6.3 -139h2.3m-12.3 134h2.3m7.7 -384h2.3m-13.3 258h2.3m39.7 -102h2.3m-39.3 -19h2.3m3.7 142h2.3m-19.3 -151h2.3m16.7 135h2.3m-37.3 -53h2.3m35.7 -17h2.3m13.7 218h2.3m-7.3 -191h2.3m-34.3 156h2.3m-2.3 -242h2.3m16.7 30h2.3m-9.3 218h2.3m39.7 -181h2.3m-45.3 315h2.3m12.7 -256h2.3m-34.3 -222h2.3m10.7 93h2.3m-6.3 -69h2.3m-6.3 310h2.3m-27.3 -349h2.3m41.7 320h2.3m-38.3 -234h2.3m8.7 129h2.3m59.7 8h2.3m-30.3 35h2.3m23.7 32h2.3m-18.3 156h2.3m-45.3 -333h2.3m1.7 53h2.3m17.7 -8h2.3m-18.3 83h2.3m22.7 157h2.3m-75.3 -165h2.3m94.7 207h2.3m-14.3 -84h2.3m-8.3 -253h2.3m-24.3 302h2.3m44.7 -223h2.3m-53.3 109h2.3m26.7 -126h2.3m-30.3 229h2.3m4.7 -153h2.3m-21.3 -100h2.3m33.7 258h2.3m-6.3 -40h2.3m-10.3 13h2.3m-32.3 -295h2.3m5.7 82h2.3m44.7 51h2.3m6.7 -72h2.3m-39.3 294h2.3m7.7 -81h2.3m-11.3 -214h2.3m-13.3 65h2.3m1.7 52h2.3m22.7 -142h2.3m-49.3 190h2.3m36.7 9h2.3m-47.3 -122h2.3m4.7 98h2.3m26.7 -126h2.3m-53.3 207h2.3m62.7 -206h2.3m3.7 201h2.3m-28.3 -129h2.3m-7.3 -16h2.3m-23.3 193h2.3m10.7 -22h2.3m10.7 -123h2.3m12.7 -20h2.3m-23.3 16h2.3m-16.3 -37h2.3m3.7 -43h2.3m56.7 104h2.3m-84.3 -48h2.3m13.7 -30h2.3m-14.3 126h2.3m44.7 -147h2.3m-19.3 102h2.3m-8.3 16h2.3m37.7 18h2.3m-11.3 36h2.3m-17.3 47h2.3m15.7 41h2.3m-94.3 -253h2.3m16.7 219h2.3m11.7 -10h2.3m33.7 8h2.3m-27.3 -5h2.3m84.7 3h2.3m-40.3 20h2.3m-42.3 4h2.3m1.7 -25h2.3m-13.3 13h2.3m42.7 1h2.3m-39.3 0h2.3m-26.3 -19h2.3m-12.3 24h2.3m39.7 -22h2.3m-85.3 -18h2.3m27.7 23h2.3m72.7 22h2.3m-23.3 -3h2.3m7.7 -38h2.3m-40.3 38h2.3m-4.3 -2h2.3m-15.3 -12h2.3m38.7 6h2.3m-48.3 10h2.3m4.7 -2h2.3m29.7 -40h2.3m-97.3 41h2.3m139.7 -15h2.3m-80.3 -14h2.3m-14.3 19h2.3m31.7 -15h2.3m-71.3 1h2.3m112.7 -21h2.3m-38.3 37h2.3m-29.3 21h2.3m-52.3 -40h2.3m10.7 19h2.3m92.7 -9h2.3m-105.3 11h2.3m120.7 -33h2.3m-79.3 23h2.3m19.7 3h2.3m53.7 -2h2.3m-80.3 5h2.3m32.7 -24h2.3m-110.3 17h2.3m123.7 11h2.3m-87.3 -18h2.3m58.7 34h2.3m73.7 -63h2.3m-118.3 32h2.3m22.7 10h2.3m43.7 -6h2.3m-50.3 5h2.3m-49.3 34h2.3m35.7 -43h2.3m20.7 41h2.3m-47.3 -12h2.3m19.7 -28h2.3m67.7 -16h2.3m-43.3 18h2.3m-18.3 16h2.3m19.7 -31h2.3m48.7 13h2.3m-24.3 14h2.3m14.7 5h2.3m-37.3 -13h2.3m-101.3 -20h2.3m120.7 39h2.3m-26.3 -12h2.3m-31.3 -24h2.3m-31.3 1h2.3m-22.3 -7h2.3m10.7 23h2.3m76.7 1h2.3m-45.3 11h2.3m-0.3 -4h2.3m28.7 -11h2.3m-31.3 0h2.3m-105.3 -5h2.3m66.7 0h2.3m-7.3 -9h2.3m-31.3 13h2.3m22.7 -21h2.3m143.7 36h2.3m-148.3 -22h2.3m54.7 17h2.3m43.7 3h2.3m-69.3 -3h2.3m-74.3 1h2.3m107.7 17h2.3m21.7 -30h2.3m-0.3 17h2.3m-38.3 -24h2.3m-4.3 2h2.3m44.7 23h2.3m-83.3 18h2.3m-9.3 -46h2.3m-38.3 5h2.3m3.7 33h2.3m53.7 -32h2.3m-74.3 -8h2.3m-26.3 17h2.3m148.7 -9h2.3m-22.3 42h2.3m-22.3 -41h2.3m-25.3 3h2.3m3.7 -14h2.3m20.7 9h2.3m-60.3 -16h2.3m30.7 15h2.3m26.7 18h2.3m-86.3 36h2.3m121.7 -32h2.3m-98.3 -38h2.3m50.7 52h2.3m32.7 -43h2.3m-102.3 -2h2.3m47.7 -10h2.3m-14.3 25h2.3m40.7 12h2.3m16.7 -7h2.3m-54.3 -14h2.3m-55.3 13h2.3m14.7 16h2.3m-4.3 10h2.3m-4.3 -9h2.3m-38.3 -8h2.3m47.7 -9h2.3m51.7 -9h2.3m-139.3 -12h2.3m34.7 6h2.3m44.7 2h2.3m-45.3 10h2.3m74.7 -16h2.3m-16.3 16h2.3m-40.3 6h2.3m30.7 -12h2.3m23.7 12h2.3m-108.3 12h2.3m9.7 -28h2.3m85.7 3h2.3m-8.3 16h2.3m-25.3 -12h2.3m-73.3 -8h2.3m92.7 22h2.3m46.7 -13h2.3m-93.3 7h2.3m28.7 -18h2.3m31.7 8h2.3m157.7 190h2.3m1.7 25h2.3m-17.3 -42h2.3m14.7 18h2.3m-8.3 34h2.3m-17.3 -84h2.3m12.7 -8h2.3m-18.3 24h2.3m5.7 38h2.3m-10.3 -4h2.3m6.7 -47h2.3m-20.3 85h2.3m4.7 -93h2.3m-0.3 -39h2.3m9.7 140h2.3m-0.3 -51h2.3m-14.3 -31h2.3m-2.3 21h2.3m3.7 39h2.3m-13.3 -79h2.3m-0.3 38h2.3m21.7 -14h2.3m-28.3 0h2.3m12.7 34h2.3m11.7 26h2.3m-18.3 -58h2.3m-7.3 -22h2.3m-4.3 -1h2.3m0.7 48h2.3m2.7 25h2.3m-6.3 -60h2.3m-23.3 59h2.3m26.7 -14h2.3m-1.3 -67h2.3m1.7 28h2.3m-18.3 -6h2.3m-7.3 48h2.3m15.7 -67h2.3m-24.3 97h2.3m-0.3 -96h2.3m11.7 66h2.3m-13.3 -49h2.3m4.7 108h2.3m11.7 -99h2.3m-1.3 4h2.3m-20.3 15h2.3m-16.3 -38h2.3m2.7 6h2.3m9.7 33h2.3m-9.3 -9h2.3m-16.3 -38h2.3m38.7 15h2.3m-28.3 -11h2.3m-15.3 16h2.3m19.7 22h2.3m4.7 19h2.3m7.7 -26h2.3m-42.3 -28h2.3m15.7 -35h2.3m0.7 88h2.3m0.7 54h2.3m3.7 -107h2.3m-6.3 66h2.3m-9.3 18h2.3m0.7 -125h2.3m-9.3 55h2.3m-0.3 41h2.3m3.7 -14h2.3m9.7 53h2.3m-39.3 -65h2.3m13.7 3h2.3m2.7 44h2.3m-5.3 -67h2.3m2.7 19h2.3m-5.3 -16h2.3m12.7 72h2.3m-14.3 -77h2.3m11.7 41h2.3m-12.3 -23h2.3m8.7 -10h2.3m-17.3 31h2.3m-5.3 -46h2.3m-3.3 136h2.3m7.7 -77h2.3m-28.3 -57h2.3m20.7 38h2.3m0.7 8h2.3m-13.3 23h2.3m-1.3 -17h2.3m-3.3 -28h2.3m1.7 24h2.3m7.7 0h2.3m-22.3 10h2.3m21.7 -58h2.3m-6.3 77h2.3m-22.3 -92h2.3m15.7 49h2.3m7.7 -40h2.3m-15.3 55h2.3m-2.3 13h2.3m1.7 -46h2.3m-30.3 24h2.3m18.7 -35h2.3m-8.3 3h2.3m6.7 64h2.3m1.7 -67h2.3m-2.3 -1h2.3m8.7 89h2.3m-2.3 -36h2.3m-35.3 10h2.3m17.7 -38h2.3m-6.3 0h2.3m-1.3 6h2.3m-10.3 37h2.3m5.7 20h2.3m-15.3 -64h2.3m11.7 7h2.3m-11.3 -71h2.3m12.7 59h2.3m-2.3 21h2.3m-22.3 7h2.3m-0.3 -24h2.3m5.7 53h2.3m-1.3 -19h2.3m-6.3 28h2.3m-9.3 -85h2.3m18.7 32h2.3m-27.3 -16h2.3m6.7 -30h2.3m4.7 67h2.3m-11.3 29h2.3m7.7 -22h2.3m-7.3 -82h2.3m-10.3 53h2.3m-3.3 -10h2.3m11.7 -66h2.3m-3.3 99h2.3m-13.3 -55h2.3m2.7 4h2.3m0.7 42h2.3m-4.3 31h2.3m19.7 41h2.3m-17.3 -26h2.3m-11.3 -39h2.3m-3.3 -7h2.3m1.7 -53h2.3m-1.3 -40h2.3m16.7 13h2.3m-8.3 45h2.3m-19.3 -5h2.3m-1.3 -16h2.3m13.7 46h2.3m-20.3 -25h2.3m-10.3 -21h2.3m8.7 92h2.3m-4.3 -20h2.3m9.7 -18h2.3m-19.3 2h2.3m5.7 -12h2.3m-7.3 23h2.3m2.7 -18h2.3m-0.3 34h2.3m6.7 -17h2.3m-17.3 -50h2.3m1.7 87h2.3m11.7 -147h2.3m-25.3 42h2.3m-6.3 22h2.3m15.7 -3h2.3m2.7 -2h2.3m-10.3 -16h2.3m2.7 34h2.3m-7.3 14h2.3m-1.3 -28h2.3m2.7 51h2.3m-12.3 -20h2.3m13.7 4h2.3m-19.3 -57h2.3m5.7 11h2.3m4.7 86h2.3m-28.3 -45h2.3m14.7 -19h2.3m-14.3 -1h2.3m21.7 -20h2.3m-5.3 -8h2.3m9.7 66h2.3m-22.3 2h2.3m1.7 1h2.3m-2.3 -81h2.3m-13.3 47h2.3m7.7 25h2.3m-18.3 -68h2.3m8.7 -51h2.3m-14.3 90h2.3m13.7 27h2.3m0.7 -53h2.3m2.7 34h2.3m-9.3 70h2.3m3.7 -50h2.3m-21.3 35h2.3m13.7 -69h2.3m-12.3 -62h2.3m-7.3 59h2.3m-0.3 -15h2.3m4.7 8h2.3m-13.3 21h2.3m17.7 16h2.3m-5.3 6h2.3m-12.3 -41h2.3m3.7 -17h2.3m-4.3 46h2.3m-2.3 43h2.3m-1.3 -44h2.3m-5.3 3h2.3m-1.3 14h2.3m-0.3 -21h2.3m-4.3 -2h2.3m19.7 36h2.3m-25.3 -86h2.3m-11.3 65h2.3m-152.3 30h2.3m6.7 -35h2.3m-65.3 61h2.3m98.7 0h2.3m-31.3 -50h2.3m35.7 115h2.3m-8.3 -99h2.3m1.7 156h2.3m-51.3 -77h2.3m-16.3 -125h2.3m96.7 -25h2.3m-88.3 -27h2.3m29.7 22h2.3m-34.3 101h2.3m10.7 120h2.3m0.7 -165h2.3m21.7 2h2.3m-34.3 -37h2.3m6.7 103h2.3m-26.3 -70h2.3m-8.3 -36h2.3m55.7 -42h2.3m-82.3 -4h2.3m-10.3 114h2.3m82.7 -105h2.3m3.7 157h2.3m-43.3 -58h2.3m-13.3 56h2.3m25.7 -53h2.3m-32.3 -32h2.3m81.7 16h2.3m-34.3 -79h2.3m-20.3 190h2.3m2.7 -76h2.3m-31.3 13h2.3m48.7 -17h2.3m-25.3 -20h2.3m-8.3 142h2.3m-41.3 -149h2.3m-17.3 67h2.3m15.7 -44h2.3m-6.3 68h2.3m63.7 -71h2.3m-37.3 -14h2.3m-10.3 57h2.3m-13.3 -108h2.3m-5.3 58h2.3m-39.3 58h2.3m69.7 -42h2.3m-7.3 -1h2.3m8.7 25h2.3m-24.3 -192h2.3m38.7 158h2.3m-33.3 121h2.3m39.7 -130h2.3m-13.3 14h2.3m-71.3 19h2.3m32.7 -17h2.3m-47.3 -83h2.3m26.7 119h2.3m48.7 -30h2.3m-24.3 -83h2.3m-6.3 84h2.3m15.7 -98h2.3m-31.3 149h2.3m26.7 -18h2.3m-5.3 -45h2.3m-60.3 -3h2.3m18.7 79h2.3m10.7 20h2.3m15.7 -173h2.3m0.7 57h2.3m-15.3 8h2.3m-29.3 -11h2.3m33.7 46h2.3m-21.3 -30h2.3m-15.3 131h2.3m26.7 -217h2.3m16.7 68h2.3m-33.3 -111h2.3m-40.3 116h2.3m71.7 129h2.3m-51.3 -84h2.3m13.7 70h2.3m-19.3 -17h2.3m-38.3 -194h2.3m73.7 -29h2.3m-29.3 152h2.3m14.7 -9h2.3m-7.3 11h2.3m-25.3 -80h2.3m4.7 132h2.3m6.7 -15h2.3m-17.3 -42h2.3m64.7 -58h2.3m-88.3 110h2.3m53.7 -56h2.3m-57.3 -45h2.3m48.7 82h2.3m-26.3 38h2.3m-16.3 -155h2.3m44.7 -10h2.3m23.7 196h2.3m-81.3 -179h2.3m-37.3 82h2.3m37.7 67h2.3m-17.3 -35h2.3m-2.3 -95h2.3m19.7 36h2.3m10.7 67h2.3m-23.3 -9h2.3m2.7 -1h2.3m-9.3 -42h2.3m64.7 74h2.3m-81.3 -171h2.3m-5.3 200h2.3m-1.3 -80h2.3m48.7 -23h2.3m-57.3 -80h2.3m13.7 178h2.3m12.7 -117h2.3m4.7 205h2.3m-7.3 -192h2.3m-14.3 -51h2.3m68.7 131h2.3m-96.3 -28h2.3m1.7 57h2.3m8.7 -141h2.3m5.7 166h2.3m-39.3 -263h2.3m62.7 186h2.3m-46.3 -212h2.3m30.7 89h2.3m36.7 12h2.3m-58.3 105h2.3m-87.3 -158h2.3m78.7 57h2.3m9.7 26h2.3m-36.3 4h2.3m36.7 -114h2.3m38.7 165h2.3m-66.3 -25h2.3m-1.3 -5h2.3m40.7 121h2.3m-32.3 -139h2.3m1.7 36h2.3m-15.3 23h2.3m27.7 -34h2.3m-93.3 58h2.3m59.7 65h2.3m56.7 -57h2.3m-11.3 -9h2.3m-0.3 48h2.3m-17.3 -135h2.3m25.7 16h2.3m8.7 42h2.3m-88.3 -8h2.3m4.7 -15h2.3m60.7 -57h2.3m-41.3 -67h2.3m-8.3 205h2.3m0.7 -151h2.3m-25.3 -9h2.3m46.7 17h2.3m-60.3 103h2.3m35.7 -144h2.3m-39.3 140h2.3m69.7 -83h2.3m-44.3 -5h2.3m-37.3 49h2.3m26.7 64h2.3m18.7 -57h2.3m-54.3 62h2.3m54.7 -111h2.3m34.7 -50h2.3m-82.3 117h2.3m21.7 -5h2.3m3.7 -85h2.3m18.7 142h2.3m-32.3 -133h2.3m-5.3 -73h2.3m-49.3 92h2.3m25.7 121h2.3m36.7 -203h2.3m-42.3 94h2.3m66.7 -61h2.3m-78.3 149h2.3m-15.3 -101h2.3m33.7 -65h2.3m-66.3 158h2.3m50.7 -125h2.3m9.7 119h2.3m36.7 -65h2.3m-44.3 24h2.3m3.7 0h2.3m-3.3 43h2.3m-9.3 -70h2.3m-88.3 14h2.3m79.7 -129h2.3m7.7 90h2.3m-45.3 134h2.3m71.7 24h2.3m-68.3 -19h2.3m57.7 -103h2.3m52.7 7h2.3m-237.3 -5h2.3m40.7 -4h2.3m143.7 28h2.3m72.7 -11h2.3m-97.3 20h2.3m-208.3 7h2.3m191.7 60h2.3m-145.3 3h2.3m212.7 -123h2.3m-76.3 140h2.3m-190.3 -52h2.3m-32.3 -19h2.3m317.7 -34h2.3m-83.3 -89h2.3m-112.3 79h2.3m128.7 14h2.3m-6.3 13h2.3m-133.3 13h2.3m81.7 -27h2.3m42.7 -36h2.3m-52.3 94h2.3m-73.3 -42h2.3m44.7 -96h2.3m138.7 74h2.3m-91.3 -186h2.3m41.7 163h2.3m-201.3 18h2.3m162.7 -108h2.3m0.7 26h2.3m5.7 111h2.3m6.7 30h2.3m-183.3 -78h2.3m123.7 4h2.3m-52.3 -46h2.3m62.7 241h2.3m30.7 -140h2.3m-191.3 -40h2.3m203.7 9h2.3m-52.3 -24h2.3m-98.3 37h2.3m-11.3 -52h2.3m59.7 19h2.3m-207.3 63h2.3m311.7 -28h2.3m-176.3 -93h2.3m-33.3 62h2.3m148.7 13h2.3m-99.3 -73h2.3m19.7 17h2.3m147.7 79h2.3m-166.3 92h2.3m161.7 -111h2.3m-269.3 76h2.3m73.7 -33h2.3m-54.3 -73h2.3m62.7 -32h2.3m-73.3 124h2.3m59.7 19h2.3m88.7 -72h2.3m-6.3 -32h2.3m-63.3 41h2.3m27.7 -63h2.3m51.7 68h2.3m58.7 -58h2.3m73.7 46h2.3m-117.3 27h2.3m-222.3 -53h2.3m228.7 110h2.3m-116.3 10h2.3m113.7 -133h2.3m20.7 37h2.3m-240.3 37h2.3m124.7 -66h2.3m-115.3 -8h2.3m201.7 -1h2.3m-204.3 -31h2.3m185.7 168h2.3m-186.3 -142h2.3m151.7 102h2.3m-103.3 -38h2.3m187.7 -64h2.3m-177.3 48h2.3m68.7 -9h2.3m-145.3 0h2.3m172.7 -66h2.3m-150.3 25h2.3m220.7 29h2.3m-237.3 99h2.3m172.7 -106h2.3m-63.3 33h2.3m24.7 -19h2.3m-38.3 -29h2.3m-11.3 72h2.3m3.7 -59h2.3m-159.3 43h2.3m129.7 -20h2.3m158.7 13h2.3m-162.3 12h2.3m-130.3 -41h2.3m121.7 47h2.3m47.7 33h2.3m-32.3 -88h2.3m-0.3 -66h2.3m-83.3 70h2.3m163.7 35h2.3m-197.3 34h2.3m143.7 -34h2.3m45.7 -6h2.3m-2.3 19h2.3m-160.3 -6h2.3m129.7 105h2.3m-105.3 -123h2.3m-85.3 -51h2.3m-50.3 57h2.3m229.7 -86h2.3m-418.3 189h2.3m-88.3 -193h2.3m-37.3 -343h2.3m774.7 -29h2.3m-305.3 187h2.3m-163.3 27h2.3m-224.3 252h2.3m-89.3 -447h2.3m-61.3 24h2.3m327.7 477h2.3m-27.3 -592h2.3m-104.3 659h2.3m-168.3 -279h2.3m264.7 31h2.3m-35.3 22h2.3m132.7 -31h2.3m340.7 -51h2.3m-647.3 -388h2.3m680.7 319h2.3m-641.3 343h2.3m324.7 -163h2.3m254.7 -333h2.3m-448.3 445h2.3m-190.3 -86h2.3m-34.3 -55h2.3m511.7 194h2.3m117.7 -334h2.3m-551.3 -265h2.3m278.7 269h2.3m-390.3 295h2.3m367.7 -151h2.3m-246.3 -343h2.3m-179.3 74h2.3m214.7 61h2.3m90.7 308h2.3" stroke="#1a1a1a" stroke-width="2.3" fill="none" opacity="0.8"/></g><g mask="url(#R3M)"><path d="M0 0m1609 3627h2.3m155.7 -54h2.3m38.7 89h2.3m-76.3 -34h2.3m56.7 20h2.3m-47.3 -107h2.3m-40.3 183h2.3m23.7 -153h2.3m-78.3 128h2.3m213.7 -112h2.3m-96.3 -44h2.3m-87.3 149h2.3m-134.3 -45h2.3m51.7 -34h2.3m77.7 -13h2.3m-65.3 55h2.3m85.7 -51h2.3m-236.3 -61h2.3m29.7 -22h2.3m79.7 129h2.3m14.7 2h2.3m36.7 -23h2.3m163.7 -28h2.3m-196.3 -58h2.3m65.7 108h2.3m141.7 -64h2.3m-309.3 50h2.3m166.7 -32h2.3m-89.3 50h2.3m-2.3 18h2.3m45.7 -34h2.3m74.7 -75h2.3m-51.3 16h2.3m-54.3 95h2.3m125.7 -51h2.3m-54.3 40h2.3m-83.3 46h2.3m-28.3 -102h2.3m-21.3 -34h2.3m111.7 139h2.3m-42.3 -108h2.3m-77.3 -10h2.3m290.7 97h2.3m-413.3 -212h2.3m108.7 139h2.3m165.7 65h2.3m-131.3 -70h2.3m117.7 -72h2.3m149.7 154h2.3m-396.3 -19h2.3m150.7 -57h2.3m-65.3 -29h2.3m105.7 -50h2.3m-86.3 114h2.3m-83.3 -34h2.3m171.7 -68h2.3m-21.3 65h2.3m-65.3 -34h2.3m106.7 -25h2.3m-23.3 45h2.3m-14.3 -20h2.3m-22.3 88h2.3m-24.3 2h2.3m-108.3 -67h2.3m243.7 19h2.3m-215.3 41h2.3m37.7 48h2.3m57.7 -80h2.3m-31.3 -109h2.3m51.7 134h2.3m-87.3 -29h2.3m-39.3 -43h2.3m-48.3 -27h2.3m160.7 92h2.3m-91.3 -113h2.3m44.7 23h2.3m17.7 65h2.3m-32.3 25h2.3m16.7 -98h2.3m11.7 26h2.3m-34.3 91h2.3m31.7 6h2.3m84.7 -80h2.3m-64.3 89h2.3m-205.3 -96h2.3m292.7 66h2.3m-191.3 -76h2.3m31.7 48h2.3m92.7 -42h2.3m-184.3 64h2.3m105.7 -123h2.3m-104.3 129h2.3m28.7 -57h2.3m99.7 -20h2.3m22.7 89h2.3m-96.3 -57h2.3m32.7 -149h2.3m-101.3 114h2.3m95.7 62h2.3m-69.3 52h2.3m129.7 -125h2.3m-101.3 90h2.3m-27.3 -59h2.3m-101.3 5h2.3m234.7 85h2.3m-84.3 -38h2.3m-101.3 1h2.3m31.7 -10h2.3m1.7 -80h2.3m184.7 -94h2.3m-0.3 101h2.3m-64.3 96h2.3m-84.3 18h2.3m194.7 15h2.3m-172.3 -39h2.3m69.7 -88h2.3m-29.3 48h2.3m-52.3 -12h2.3m-4.3 -23h2.3m100.7 63h2.3m-90.3 -27h2.3m-58.3 -20h2.3m-154.3 78h2.3m308.7 -167h2.3m-237.3 108h2.3m-7.3 41h2.3m161.7 -52h2.3m63.7 7h2.3m-207.3 -48h2.3m119.7 78h2.3m-155.3 27h2.3m6.7 -3h2.3m-36.3 -34h2.3m256.7 34h2.3m-105.3 3h2.3m129.7 -24h2.3m-256.3 -22h2.3m91.7 -3h2.3m25.7 -20h2.3m38.7 68h2.3m-19.3 -127h2.3m-147.3 -32h2.3m155.7 68h2.3m-64.3 54h2.3m87.7 -86h2.3m-102.3 49h2.3m-24.3 43h2.3m138.7 -35h2.3m-19.3 -9h2.3m-85.3 -32h2.3m13.7 98h2.3m121.7 -76h2.3m-124.3 83h2.3m-75.3 -100h2.3m54.7 30h2.3m-24.3 45h2.3m-21.3 -145h2.3m136.7 135h2.3m109.7 -26h2.3m-93.3 23h2.3m-167.3 -66h2.3m12.7 -23h2.3m-29.3 94h2.3m227.7 62h2.3m-176.3 -51h2.3m5.7 -63h2.3m-85.3 -47h2.3m133.7 176h2.3m36.7 -142h2.3m-193.3 119h2.3m14.7 -200h2.3m-79.3 199h2.3m42.7 -19h2.3m114.7 -17h2.3m120.7 74h2.3m-112.3 -253h2.3m-24.3 130h2.3m-88.3 -20h2.3m35.7 107h2.3m179.7 -89h2.3m-128.3 27h2.3m117.7 -66h2.3m-110.3 158h2.3m-3.3 -50h2.3m-215.3 -91h2.3m267.7 -40h2.3m-137.3 61h2.3m37.7 -57h2.3m16.7 37h2.3m-107.3 154h2.3m47.7 -225h2.3m43.7 42h2.3m33.7 66h2.3m61.7 -79h2.3m-67.3 14h2.3m-27.3 53h2.3m60.7 -41h2.3m-57.3 56h2.3m-79.3 92h2.3m159.7 -123h2.3m-36.3 115h2.3m-6.3 -32h2.3m170.7 -68h2.3m-357.3 47h2.3m157.7 13h2.3m22.7 -29h2.3m-63.3 20h2.3m50.7 -6h2.3m41.7 109h2.3m-63.3 -95h2.3m-122.3 -87h2.3m4.7 149h2.3m179.7 9h2.3m25.7 -90h2.3m15.7 -96h2.3m-120.3 111h2.3m-35.3 -46h2.3m9.7 -53h2.3m36.7 102h2.3m-126.3 -73h2.3m143.7 -34h2.3m133.7 -17h2.3m-216.3 43h2.3m76.7 30h2.3m-176.3 -36h2.3m269.7 32h2.3m-72.3 26h2.3m-168.3 14h2.3m218.7 -14h2.3m-103.3 -79h2.3m53.7 -39h2.3m45.7 12h2.3m-172.3 104h2.3m30.7 -56h2.3m110.7 179h2.3m-15.3 -156h2.3m-237.3 34h2.3m229.7 -20h2.3m46.7 49h2.3m-54.3 -40h2.3m-105.3 41h2.3m-124.3 -80h2.3m227.7 80h2.3m-22.3 -144h2.3m-13.3 72h2.3m-132.3 95h2.3m-61.3 -74h2.3m184.7 14h2.3m-146.3 8h2.3m76.7 -60h2.3m33.7 4h2.3m-79.3 40h2.3m-166.3 64h2.3m273.7 -9h2.3m-273.3 -116h2.3m413.7 91h2.3m-204.3 -75h2.3m-67.3 48h2.3m64.7 80h2.3m-45.3 -67h2.3m63.7 -60h2.3m-197.3 54h2.3m71.7 -98h2.3m161.7 82h2.3m-219.3 101h2.3m94.7 -57h2.3m43.7 -50h2.3m115.7 -74h2.3m-18.3 101h2.3m-77.3 -7h2.3m-37.3 20h2.3m1.7 -12h2.3m-74.3 -4h2.3m86.7 -42h2.3m-97.3 52h2.3m75.7 -172h2.3m45.7 134h2.3m-10.3 103h2.3m-52.3 -58h2.3m8.7 -161h2.3m-55.3 81h2.3m22.7 -17h2.3m-85.3 105h2.3m182.7 -8h2.3m-221.3 -5h2.3m131.7 9h2.3m107.7 -180h2.3m-67.3 51h2.3m22.7 72h2.3m-149.3 104h2.3m-49.3 -62h2.3m-57.3 -60h2.3m154.7 -131h2.3m-123.3 197h2.3m127.7 -6h2.3m101.7 18h2.3m-86.3 -68h2.3m73.7 -16h2.3m-88.3 84h2.3m-131.3 -45h2.3m172.7 -82h2.3m-89.3 106h2.3m-93.3 -46h2.3m4.7 2h2.3m231.7 -150h2.3m-116.3 183h2.3m-77.3 54h2.3m-93.3 -109h2.3m69.7 89h2.3m155.7 -9h2.3m-80.3 -43h2.3m-85.3 127h2.3m-35.3 -99h2.3m201.7 66h2.3m73.7 -176h2.3m-214.3 115h2.3m93.7 -32h2.3m-14.3 19h2.3m44.7 -15h2.3m-171.3 103h2.3m229.7 -105h2.3m-164.3 -178h2.3m-95.3 267h2.3m423.7 -24h2.3m-316.3 20h2.3m53.7 -113h2.3m-70.3 96h2.3m94.7 -45h2.3m-198.3 -5h2.3m8.7 62h2.3m129.7 -173h2.3m19.7 15h2.3m73.7 110h2.3m-258.3 73h2.3m268.7 -57h2.3m-147.3 -80h2.3m54.7 -13h2.3m-190.3 -1h2.3m183.7 50h2.3m-46.3 2h2.3m-18.3 87h2.3m245.7 -35h2.3m-404.3 -21h2.3m130.7 -8h2.3m52.7 14h2.3m-61.3 -55h2.3m-68.3 86h2.3m235.7 -64h2.3m-109.3 -19h2.3m36.7 77h2.3m-4.3 -101h2.3m-172.3 6h2.3m181.7 -13h2.3m-197.3 107h2.3m48.7 36h2.3m216.7 -149h2.3m-148.3 61h2.3m-107.3 -43h2.3m140.7 -18h2.3m-58.3 -52h2.3m24.7 158h2.3m-3.3 -58h2.3m-145.3 -58h2.3m81.7 138h2.3m183.7 -35h2.3m-102.3 -28h2.3m-88.3 9h2.3m143.7 56h2.3m-72.3 -132h2.3m-18.3 86h2.3m13.7 -78h2.3m79.7 -35h2.3m-69.3 -32h2.3m-162.3 122h2.3m33.7 -6h2.3m86.7 59h2.3m24.7 -26h2.3m14.7 -4h2.3m88.7 -83h2.3m-163.3 -121h2.3m109.7 154h2.3m-102.3 -2h2.3m-138.3 132h2.3m160.7 -86h2.3m-79.3 -53h2.3m136.7 73h2.3m-58.3 30h2.3m-110.3 39h2.3m133.7 -102h2.3m74.7 -78h2.3m-48.3 35h2.3m83.7 86h2.3m-111.3 -42h2.3m7.7 -104h2.3m106.7 21h2.3m-476.3 87h2.3m138.7 -57h2.3m36.7 90h2.3m262.7 35h2.3m-169.3 -24h2.3m80.7 -56h2.3m-66.3 -9h2.3m-77.3 -15h2.3m177.7 -26h2.3m173.7 -31h2.3m-252.3 119h2.3m91.7 -38h2.3m-49.3 17h2.3m-213.3 0h2.3m171.7 -68h2.3m-42.3 18h2.3m69.7 -22h2.3m55.7 121h2.3m111.7 -49h2.3m-314.3 -90h2.3m165.7 42h2.3m-52.3 47h2.3m-49.3 0h2.3m25.7 41h2.3m18.7 -41h2.3m-130.3 89h2.3m183.7 -85h2.3m-130.3 -36h2.3m-13.3 69h2.3m67.7 -14h2.3m0.7 -29h2.3m-41.3 8h2.3m98.7 -87h2.3m66.7 148h2.3m-167.3 -218h2.3m115.7 197h2.3m-118.3 -153h2.3m-83.3 65h2.3m183.7 1h2.3m-149.3 -15h2.3m49.7 60h2.3m-4.3 29h2.3m127.7 -7h2.3m-71.3 -50h2.3m-208.3 32h2.3m263.7 -14h2.3m-79.3 -42h2.3m1.7 49h2.3m16.7 -84h2.3m-172.3 55h2.3m80.7 4h2.3m130.7 47h2.3m-138.3 61h2.3m-25.3 -54h2.3m47.7 -105h2.3m-41.3 10h2.3m-72.3 38h2.3m163.7 16h2.3m36.7 61h2.3m-242.3 -9h2.3m36.7 -19h2.3m144.7 -62h2.3m-139.3 -72h2.3m32.7 74h2.3m58.7 -50h2.3m-16.3 43h2.3m74.7 128h2.3m28.7 -107h2.3m-107.3 22h2.3m-55.3 -18h2.3m5.7 -21h2.3m42.7 70h2.3m-72.3 -32h2.3m-43.3 -27h2.3m106.7 -26h2.3m-30.3 137h2.3m68.7 -120h2.3m-129.3 51h2.3m166.7 -88h2.3m21.7 63h2.3m-139.3 76h2.3m16.7 -108h2.3m33.7 -28h2.3m-87.3 -45h2.3m114.7 54h2.3m-76.3 37h2.3m136.7 -23h2.3m-269.3 93h2.3m-54.3 -69h2.3m58.7 36h2.3m120.7 57h2.3m114.7 -69h2.3m-166.3 -12h2.3m-47.3 140h2.3m118.7 -221h2.3m-41.3 84h2.3m11.7 -24h2.3m10.7 41h2.3m-64.3 -42h2.3m218.7 15h2.3m-306.3 13h2.3m193.7 -4h2.3m-47.3 68h2.3m-31.3 -98h2.3m97.7 39h2.3m21.7 30h2.3m-20.3 32h2.3m189.7 -29h2.3m-141.3 -61h2.3m27.7 33h2.3m13.7 -21h2.3m20.7 88h2.3m-109.3 -30h2.3m108.7 5h2.3m-39.3 -23h2.3m-7.3 6h2.3m-36.3 -17h2.3m45.7 63h2.3m-21.3 -82h2.3m7.7 78h2.3m-53.3 -57h2.3m20.7 36h2.3m-14.3 -25h2.3m67.7 -2h2.3m-44.3 10h2.3m-16.3 34h2.3m13.7 -50h2.3m4.7 -18h2.3m37.7 -25h2.3m-71.3 90h2.3m-12.3 -50h2.3m81.7 -1h2.3m-37.3 5h2.3m-28.3 73h2.3m-10.3 -40h2.3m-1.3 28h2.3m2.7 -41h2.3m72.7 28h2.3m-48.3 -37h2.3m-51.3 27h2.3m76.7 -102h2.3m-114.3 77h2.3m36.7 25h2.3m81.7 -21h2.3m-124.3 -22h2.3m96.7 -37h2.3m20.7 41h2.3m-38.3 23h2.3m-45.3 -28h2.3m-18.3 30h2.3m55.7 5h2.3m-69.3 -86h2.3m7.7 27h2.3m81.7 111h2.3m-50.3 -122h2.3m-59.3 52h2.3m77.7 7h2.3m86.7 1h2.3m-157.3 19h2.3m35.7 -67h2.3m108.7 23h2.3m-126.3 12h2.3m19.7 -36h2.3m51.7 42h2.3m-153.3 -58h2.3m51.7 33h2.3m48.7 30h2.3m-26.3 -69h2.3m-26.3 88h2.3m28.7 -29h2.3m0.7 15h2.3m0.7 -28h2.3m2.7 41h2.3m13.7 -43h2.3m-56.3 60h2.3m-63.3 -35h2.3m52.7 -14h2.3m73.7 -23h2.3m-118.3 40h2.3m56.7 3h2.3m18.7 4h2.3m10.7 -75h2.3m-18.3 60h2.3m-5.3 -3h2.3m-34.3 -19h2.3m11.7 1h2.3m-23.3 -28h2.3m7.7 120h2.3m0.7 17h2.3m107.7 -102h2.3m-152.3 33h2.3m95.7 -38h2.3m-32.3 -16h2.3m-6.3 91h2.3m-17.3 -112h2.3m49.7 63h2.3m6.7 -6h2.3m-85.3 -18h2.3m-7.3 17h2.3m78.7 -2h2.3m-45.3 -41h2.3m28.7 37h2.3m-27.3 5h2.3m-26.3 8h2.3m-41.3 4h2.3m108.7 -25h2.3m0.7 58h2.3m6.7 -75h2.3m-59.3 60h2.3m-5.3 8h2.3m47.7 -70h2.3m-116.3 22h2.3m80.7 32h2.3m-10.3 -24h2.3m24.7 8h2.3m-55.3 41h2.3m29.7 -21h2.3m-56.3 -37h2.3m17.7 31h2.3m-45.3 -69h2.3m-53.3 68h2.3m151.7 11h2.3m-98.3 -65h2.3m65.7 36h2.3m5.7 -7h2.3m-115.3 -35h2.3m17.7 38h2.3m74.7 -2h2.3m-56.3 35h2.3m84.7 -3h2.3m12.7 -42h2.3m-43.3 -22h2.3m58.7 7h2.3m-45.3 3h2.3m-64.3 1h2.3m43.7 87h2.3m-42.3 -59h2.3m85.7 17h2.3m-75.3 -20h2.3m-35.3 -11h2.3m2.7 9h2.3m-13.3 3h2.3m23.7 5h2.3m65.7 -1h2.3m-64.3 -7h2.3m46.7 1h2.3m-18.3 11h2.3m-78.3 -8h2.3m108.7 8h2.3m-75.3 -33h2.3m-93.3 24h2.3m167.7 -13h2.3m-100.3 20h2.3m-18.3 -94h2.3m-5.3 90h2.3" stroke="#2a9a2a" stroke-width="2.3" fill="none" opacity="0.8"/></g><g mask="url(#R3M)"><g filter="url(#flb)"><ellipse cx="1780" cy="3740" rx="50" ry="40" fill="url(#gg)" fill-opacity="0.150"/></g></g></g><polygon points="1651.5,3432.8 1748.7,3425.9 1797.3,3431.4 1814.7,3474.5 1776.5,3592.6 1686.2,3665.5 1613.3,3634.2 1595.9,3544 1602.8,3481.5" fill="none" stroke="#1e1e1e" stroke-width="2.2" stroke-linejoin="round"/><polygon points="1852.9,3528.7 1911.9,3524.5 1937.6,3557.8 1937.6,3610 1873.7,3653.7 1795.9,3634.2 1804.2,3585.6 1825.1,3547.4" fill="none" stroke="#1e1e1e" stroke-width="2.2" stroke-linejoin="round"/><polygon points="1811.2,3693.3 1894.5,3641.2 1922.3,3648.1 1967.5,3700.2 1953.6,3752.3 1866.7,3787 1811.2,3773.2" fill="none" stroke="#1e1e1e" stroke-width="2.2" stroke-linejoin="round"/><text x="1226.8" y="3473.5" font-size="45" textLength="381" lengthAdjust="spacingAndGlyphs" fill="#464646">Granulocytes CD45</text><text x="1449" y="3706.5" font-size="45" textLength="336" lengthAdjust="spacingAndGlyphs" fill="#464646">Monocytes CD45</text><text x="1386.5" y="3785.5" font-size="45" textLength="386" lengthAdjust="spacingAndGlyphs" fill="#464646">Lymphocytes CD45</text><g clip-path="url(#R4F)"><g clip-path="url(#R4g)"><g filter="url(#fcy)"><rect x="1500" y="4270" width="250" height="340" fill-opacity="0.500"/><ellipse cx="1620" cy="4440" rx="130" ry="170" transform="rotate(-10 1620 4440)" fill="url(#gg)" fill-opacity="0.180"/></g></g><g clip-path="url(#R4m)"><g filter="url(#fgo)"><rect x="1630" y="4520" width="155" height="145" fill-opacity="0.880"/></g></g><g clip-path="url(#R4l)"><g filter="url(#fgr)"><ellipse cx="1830" cy="4688" rx="110" ry="40" transform="rotate(-12 1830 4688)" fill="url(#gg)" fill-opacity="0.350"/><ellipse cx="1830" cy="4692" rx="72" ry="22" transform="rotate(-12 1830 4692)" fill="url(#gf)" fill-opacity="1.000"/></g></g><g mask="url(#R4M)"><g filter="url(#fbk)"><rect x="1215" y="4200" width="4" height="530" fill-opacity="0.350"/><ellipse cx="1790" cy="3944" rx="45" ry="5" fill="url(#gg)" fill-opacity="0.600"/></g><path d="M0 0m1499 4485h2.3m-170.3 109h2.3m147.7 -69h2.3m-14.3 156h2.3m77.7 -43h2.3m-129.3 -213h2.3m-80.3 26h2.3m-182.3 239h2.3m300.7 -197h2.3m74.7 -58h2.3m-68.3 147h2.3m-195.3 122h2.3m179.7 -143h2.3m-127.3 -158h2.3m288.7 11h2.3m-227.3 130h2.3m194.7 -372h2.3m2.7 345h2.3m-64.3 -165h2.3m-65.3 338h2.3m-45.3 -288h2.3m-39.3 13h2.3m129.7 93h2.3m-140.3 76h2.3m-66.3 -286h2.3m378.7 103h2.3m-92.3 70h2.3m-200.3 79h2.3m-70.3 -176h2.3m67.7 59h2.3m96.7 300h2.3m-205.3 -363h2.3m204.7 178h2.3m36.7 -161h2.3m-58.3 89h2.3m-240.3 64h2.3m3.7 12h2.3m117.7 -95h2.3m275.7 222h2.3m-186.3 -145h2.3m-131.3 109h2.3m147.7 -271h2.3m-247.3 110h2.3m156.7 112h2.3m-93.3 -225h2.3m152.7 125h2.3m54.7 133h2.3m-200.3 -449h2.3m99.7 211h2.3m17.7 -255h2.3m-39.3 361h2.3m-51.3 54h2.3m69.7 -36h2.3m125.7 137h2.3m-13.3 -119h2.3m-115.3 25h2.3m15.7 -167h2.3m5.7 212h2.3m-87.3 -259h2.3m102.7 44h2.3m-223.3 65h2.3m0.7 75h2.3m99.7 -33h2.3m174.7 134h2.3m-135.3 -434h2.3m-42.3 140h2.3m143.7 350h2.3m-23.3 -117h2.3m-17.3 5h2.3m-101.3 27h2.3m4.7 -263h2.3m35.7 353h2.3m-28.3 -432h2.3m150.7 258h2.3m-76.3 -91h2.3m-9.3 267h2.3m-122.3 -118h2.3m104.7 -200h2.3m-21.3 187h2.3m-111.3 74h2.3m-31.3 -1h2.3m182.7 -115h2.3m-152.3 -134h2.3m-155.3 97h2.3m220.7 75h2.3m120.7 -46h2.3m-147.3 101h2.3m32.7 -130h2.3m-126.3 139h2.3m50.7 113h2.3m-22.3 -310h2.3m98.7 -28h2.3m-167.3 -57h2.3m65.7 116h2.3m190.7 116h2.3m-73.3 18h2.3m-269.3 -182h2.3m171.7 -54h2.3m107.7 49h2.3m-170.3 197h2.3m44.7 -145h2.3m-93.3 147h2.3m163.7 69h2.3m226.7 -99h2.3m-275.3 -186h2.3m210.7 74h2.3m-109.3 57h2.3m-427.3 -12h2.3m372.7 7h2.3m-34.3 5h2.3m-95.3 47h2.3m51.7 -57h2.3m226.7 7h2.3m-286.3 20h2.3m-47.3 -26h2.3m300.7 -156h2.3m-167.3 23h2.3m31.7 153h2.3m-1.3 -77h2.3m-223.3 -79h2.3m152.7 218h2.3m-167.3 35h2.3m129.7 -352h2.3m231.7 257h2.3m-256.3 -10h2.3m160.7 -216h2.3m70.7 74h2.3m-52.3 37h2.3m-255.3 -5h2.3m109.7 92h2.3m-124.3 -143h2.3m207.7 79h2.3m-91.3 104h2.3m-86.3 197h2.3m58.7 -207h2.3m58.7 79h2.3m-31.3 -224h2.3m69.7 175h2.3m-44.3 182h2.3m92.7 -85h2.3m53.7 -44h2.3m-156.3 76h2.3m-22.3 -188h2.3m183.7 100h2.3m-262.3 -156h2.3m16.7 183h2.3m53.7 -142h2.3m-36.3 -67h2.3m139.7 -62h2.3m-66.3 64h2.3m-47.3 -99h2.3m157.7 -42h2.3m-252.3 150h2.3m132.7 -42h2.3m-179.3 34h2.3m62.7 -25h2.3m269.7 -173h2.3m-172.3 304h2.3m-43.3 -91h2.3m151.7 18h2.3m-293.3 -21h2.3m215.7 -2h2.3m-100.3 71h2.3m5.7 -6h2.3m116.7 -95h2.3m-233.3 243h2.3m201.7 -261h2.3m-190.3 97h2.3m166.7 60h2.3m13.7 -116h2.3m-82.3 -134h2.3m-36.3 130h2.3m184.7 -104h2.3m79.7 275h2.3m-248.3 -186h2.3m73.7 123h2.3m48.7 -264h2.3m-111.3 278h2.3m126.7 -7h2.3m-105.3 -18h2.3m-47.3 176h2.3m145.7 -164h2.3m-154.3 -55h2.3m94.7 17h2.3m127.7 244h2.3m-69.3 -398h2.3m-31.3 80h2.3m-73.3 305h2.3m-181.3 -410h2.3m110.7 264h2.3m20.7 -339h2.3m79.7 324h2.3m85.7 -68h2.3m-15.3 -85h2.3m-26.3 220h2.3m-121.3 -194h2.3m151.7 -44h2.3m-220.3 96h2.3m149.7 108h2.3m-110.3 -49h2.3m-43.3 -206h2.3m338.7 52h2.3m-409.3 129h2.3m77.7 50h2.3m-184.3 -228h2.3m362.7 173h2.3m-203.3 151h2.3m198.7 -227h2.3m7.7 118h2.3m-249.3 -172h2.3m145.7 -37h2.3m-184.3 70h2.3m233.7 77h2.3m-180.3 -321h2.3m178.7 272h2.3m1.7 17h2.3m-138.3 38h2.3m-26.3 -93h2.3m-22.3 -204h2.3m199.7 402h2.3m-168.3 -183h2.3m292.7 119h2.3m-280.3 -220h2.3m216.7 312h2.3m-264.3 -74h2.3m-14.3 -125h2.3m207.7 6h2.3m-186.3 -147h2.3m129.7 156h2.3m-189.3 278h2.3m52.7 -320h2.3m110.7 31h2.3m-40.3 86h2.3m-56.3 -167h2.3m16.7 244h2.3m30.7 67h2.3m6.7 -306h2.3m12.7 90h2.3m-76.3 -1h2.3m145.7 131h2.3m-63.3 -79h2.3m28.7 63h2.3m-27.3 -174h2.3m80.7 229h2.3m10.7 -507h2.3m-81.3 387h2.3m-341.3 128h2.3m78.7 -212h2.3m216.7 196h2.3m-48.3 -213h2.3m-159.3 48h2.3m244.7 -139h2.3m93.7 -181h2.3m-220.3 295h2.3m63.7 96h2.3m105.7 -116h2.3m-278.3 -71h2.3m123.7 35h2.3m-2.3 87h2.3m31.7 135h2.3m40.7 -280h2.3m-123.3 97h2.3m18.7 168h2.3m146.7 -60h2.3m62.7 -154h2.3m-156.3 260h2.3m-5.3 -221h2.3m-82.3 205h2.3m163.7 118h2.3m118.7 -214h2.3m-256.3 -135h2.3m-1.3 341h2.3m29.7 -315h2.3m-4.3 128h2.3m-56.3 -139h2.3m5.7 262h2.3m60.7 -105h2.3m57.7 -306h2.3m-16.3 96h2.3m-88.3 -90h2.3m120.7 258h2.3m-184.3 130h2.3m10.7 21h2.3m73.7 115h2.3m-114.3 -227h2.3m-7.3 -224h2.3m61.7 129h2.3m-58.3 88h2.3m286.7 43h2.3m-250.3 154h2.3m-93.3 -41h2.3m149.7 -330h2.3m14.7 115h2.3m112.7 84h2.3m-152.3 34h2.3m2.7 -246h2.3m-96.3 3h2.3m146.7 79h2.3m51.7 -125h2.3m-74.3 224h2.3m6.7 -1h2.3m-312.3 -217h2.3m212.7 177h2.3m206.7 274h2.3m-202.3 -309h2.3m156.7 -40h2.3m28.7 52h2.3m-122.3 91h2.3m180.7 -54h2.3m-260.3 148h2.3m128.7 -273h2.3m-217.3 89h2.3m98.7 -76h2.3m82.7 182h2.3m112.7 -71h2.3m-252.3 -182h2.3m-44.3 232h2.3m-33.3 -157h2.3m37.7 29h2.3m84.7 9h2.3m216.7 150h2.3m-208.3 -237h2.3m93.7 95h2.3m-69.3 -102h2.3m51.7 180h2.3m20.7 -26h2.3m-47.3 -148h2.3m90.7 176h2.3m58.7 -77h2.3m-211.3 167h2.3m-15.3 -66h2.3m34.7 -87h2.3m-216.3 68h2.3m229.7 -221h2.3m112.7 -82h2.3m-154.3 544h2.3m120.7 -374h2.3m-13.3 198h2.3m-417.3 -103h2.3m335.7 183h2.3m1.7 -353h2.3m-56.3 417h2.3m37.7 -18h2.3m97.7 -332h2.3m-20.3 126h2.3m-19.3 0h2.3m-142.3 92h2.3m88.7 -158h2.3m-14.3 -23h2.3m-3.3 41h2.3m-141.3 233h2.3m162.7 -244h2.3m-194.3 200h2.3m215.7 -53h2.3m-57.3 -19h2.3m-51.3 -96h2.3m206.7 265h2.3m-145.3 -430h2.3m21.7 209h2.3m-137.3 -163h2.3m354.7 135h2.3m-315.3 47h2.3m-92.3 -267h2.3m73.7 316h2.3m174.7 -75h2.3m80.7 -212h2.3m-309.3 364h2.3m199.7 -196h2.3m-37.3 -74h2.3m157.7 20h2.3m-111.3 35h2.3m-164.3 -151h2.3m30.7 154h2.3m-64.3 -168h2.3m-47.3 -15h2.3m271.7 163h2.3m-215.3 151h2.3m100.7 -34h2.3m75.7 -95h2.3m-314.3 68h2.3m211.7 -86h2.3m-116.3 112h2.3m116.7 127h2.3m-158.3 -363h2.3m182.7 217h2.3m-86.3 78h2.3m35.7 8h2.3m-19.3 -109h2.3m75.7 -168h2.3m37.7 48h2.3m-13.3 -42h2.3m-326.3 135h2.3m57.7 245h2.3m-32.3 -407h2.3m308.7 237h2.3m-180.3 120h2.3m239.7 -329h2.3m-200.3 156h2.3m94.7 -43h2.3m-7.3 -130h2.3m-82.3 -44h2.3m23.7 305h2.3m-127.3 6h2.3m-15.3 -455h2.3m37.7 305h2.3m166.7 115h2.3m-207.3 -192h2.3m188.7 117h2.3m-182.3 -173h2.3m163.7 136h2.3m-68.3 -107h2.3m-115.3 32h2.3m11.7 189h2.3m131.7 -96h2.3m-411.3 -149h2.3m440.7 90h2.3m-11.3 -196h2.3m-153.3 342h2.3m7.7 314h2.3m155.7 -225h2.3m206.7 -192h2.3m-209.3 -82h2.3m116.7 13h2.3m-270.3 146h2.3m40.7 38h2.3m-54.3 -148h2.3m95.7 53h2.3m-90.3 -77h2.3m411.7 73h2.3m-368.3 -184h2.3m-79.3 316h2.3m118.7 93h2.3m-75.3 -259h2.3m86.7 154h2.3m-109.3 31h2.3m54.7 -139h2.3m-26.3 110h2.3m275.7 -135h2.3m-423.3 -188h2.3m230.7 272h2.3m2.7 9h2.3m-71.3 72h2.3m92.7 -220h2.3m-123.3 195h2.3m160.7 -167h2.3m-30.3 33h2.3m-220.3 -42h2.3m94.7 -170h2.3m83.7 280h2.3m83.7 72h2.3m-255.3 -123h2.3m289.7 43h2.3m-160.3 -52h2.3m95.7 -6h2.3m-99.3 30h2.3m-74.3 -225h2.3m-118.3 334h2.3m369.7 -124h2.3m-169.3 60h2.3m-83.3 27h2.3m138.7 -177h2.3m-262.3 180h2.3m83.7 -52h2.3m1.7 87h2.3m264.7 -277h2.3m-99.3 163h2.3m-135.3 -149h2.3m14.7 -148h2.3m166.7 334h2.3m-141.3 121h2.3m8.7 -113h2.3m61.7 -204h2.3m-154.3 46h2.3m64.7 140h2.3m166.7 -110h2.3m-169.3 19h2.3m108.7 58h2.3m-3.3 88h2.3m-174.3 97h2.3m118.7 -74h2.3m-124.3 -75h2.3m27.7 22h2.3m-5.3 55h2.3m-81.3 -12h2.3m197.7 -209h2.3m-51.3 234h2.3m72.7 51h2.3m-33.3 -178h2.3m34.7 -79h2.3m-135.3 97h2.3m94.7 179h2.3m51.7 -120h2.3m-50.3 86h2.3m-50.3 -131h2.3m39.7 237h2.3m28.7 -263h2.3m10.7 -113h2.3m18.7 115h2.3m-175.3 62h2.3m56.7 -35h2.3m-190.3 -121h2.3m267.7 -24h2.3m-321.3 203h2.3m311.7 136h2.3m11.7 -255h2.3m-130.3 -149h2.3m-47.3 -6h2.3m-8.3 4h2.3m-11.3 176h2.3m16.7 84h2.3m21.7 -151h2.3m-21.3 -68h2.3m130.7 68h2.3m-96.3 -8h2.3m120.7 251h2.3m-92.3 -265h2.3m-183.3 178h2.3m277.7 -7h2.3m-216.3 -367h2.3m253.7 273h2.3m-38.3 153h2.3m-96.3 -67h2.3m1.7 -210h2.3m-234.3 243h2.3m230.7 -198h2.3m110.7 -233h2.3m-192.3 239h2.3m-98.3 45h2.3m86.7 225h2.3m78.7 -143h2.3m39.7 -84h2.3m14.7 202h2.3m-72.3 -291h2.3m-50.3 124h2.3m226.7 23h2.3m-65.3 -82h2.3m-193.3 -55h2.3m-16.3 296h2.3m60.7 -231h2.3m15.7 78h2.3m-62.3 -162h2.3m134.7 197h2.3m50.7 -144h2.3m-177.3 -91h2.3m55.7 312h2.3m-265.3 -47h2.3m241.7 -91h2.3m13.7 5h2.3m-98.3 148h2.3m59.7 -375h2.3m83.7 279h2.3m-170.3 -117h2.3m66.7 129h2.3m-19.3 -28h2.3m183.7 -47h2.3m-128.3 -11h2.3m73.7 127h2.3m-12.3 -132h2.3m-141.3 129h2.3m103.7 -109h2.3m-36.3 52h2.3m107.7 -83h2.3m-93.3 -81h2.3m-147.3 85h2.3m-81.3 72h2.3m144.7 -110h2.3m8.7 237h2.3m-112.3 -182h2.3m200.7 36h2.3m-281.3 67h2.3m239.7 -104h2.3m-102.3 43h2.3m-60.3 49h2.3m101.7 -242h2.3m-87.3 48h2.3m121.7 182h2.3m-68.3 -69h2.3m-65.3 113h2.3m290.7 -347h2.3m-242.3 201h2.3m-89.3 -47h2.3m170.7 299h2.3m11.7 -59h2.3m131.7 -236h2.3m-184.3 -26h2.3m-187.3 228h2.3m112.7 -123h2.3m44.7 34h2.3m111.7 -70h2.3m-131.3 36h2.3m-8.3 -54h2.3m88.7 246h2.3m-179.3 -181h2.3m119.7 31h2.3m-46.3 55h2.3m170.7 -220h2.3m-248.3 157h2.3m72.7 -230h2.3m48.7 93h2.3m-71.3 159h2.3m-71.3 95h2.3m102.7 -144h2.3m19.7 -121h2.3m-47.3 -150h2.3m154.7 171h2.3m109.7 116h2.3m-103.3 16h2.3m-81.3 -34h2.3m55.7 -151h2.3m-145.3 90h2.3m47.7 153h2.3m20.7 -184h2.3m-196.3 -37h2.3m250.7 188h2.3m-85.3 90h2.3m-124.3 111h2.3m22.7 -61h2.3m-2.3 -129h2.3m90.7 -274h2.3m-39.3 121h2.3m-0.3 87h2.3m55.7 118h2.3m132.7 -286h2.3m-172.3 344h2.3m164.7 -207h2.3m-81.3 -81h2.3m-29.3 -58h2.3m-155.3 120h2.3m2.7 -38h2.3m71.7 61h2.3m12.7 -62h2.3m175.7 239h2.3m-81.3 -354h2.3m-139.3 221h2.3m11.7 13h2.3m-37.3 -13h2.3m-124.3 78h2.3m245.7 -133h2.3m-219.3 -113h2.3m284.7 118h2.3m-125.3 -40h2.3m-54.3 244h2.3m87.7 -229h2.3m80.7 -135h2.3m-6.3 269h2.3m-174.3 124h2.3m-106.3 -42h2.3m137.7 -263h2.3m-113.3 99h2.3m-37.3 109h2.3m302.7 67h2.3m-65.3 -228h2.3m-141.3 -109h2.3m110.7 113h2.3m47.7 -117h2.3m-105.3 19h2.3m-18.3 133h2.3m119.7 135h2.3m30.7 -253h2.3m-83.3 202h2.3m-162.3 -137h2.3m174.7 -99h2.3m81.7 7h2.3m-139.3 -61h2.3m40.7 186h2.3m-261.3 143h2.3m146.7 -22h2.3m168.7 0h2.3m-84.3 -152h2.3m-41.3 126h2.3m28.7 -140h2.3m144.7 -123h2.3m-321.3 -37h2.3m218.7 131h2.3m-133.3 65h2.3m227.7 -135h2.3m-130.3 219h2.3m70.7 54h2.3m-130.3 -101h2.3m72.7 -10h2.3m-228.3 -54h2.3m161.7 53h2.3m55.7 79h2.3m-217.3 -208h2.3m304.7 -31h2.3m-192.3 86h2.3m132.7 -43h2.3m-172.3 65h2.3m29.7 346h2.3m-85.3 -319h2.3m113.7 125h2.3m90.7 70h2.3m-170.3 -231h2.3m26.7 216h2.3m-58.3 49h2.3m195.7 -215h2.3m-73.3 -97h2.3m54.7 115h2.3m-104.3 -166h2.3m72.7 155h2.3m-64.3 162h2.3m65.7 -312h2.3m-46.3 308h2.3m51.7 -382h2.3m-172.3 154h2.3m77.7 234h2.3m-90.3 13h2.3m247.7 -294h2.3m-4.3 319h2.3m47.7 -148h2.3m-198.3 26h2.3m51.7 38h2.3m-82.3 -150h2.3m111.7 71h2.3m-159.3 -71h2.3m88.7 106h2.3m92.7 223h2.3m-146.3 -308h2.3m66.7 -86h2.3m-124.3 5h2.3m163.7 213h2.3m-219.3 111h2.3m73.7 -165h2.3m24.7 -5h2.3m156.7 -9h2.3m5.7 -128h2.3m-159.3 124h2.3m81.7 161h2.3m-132.3 -329h2.3m-5.3 58h2.3m20.7 92h2.3m-16.3 128h2.3m105.7 -203h2.3m-165.3 37h2.3m203.7 -121h2.3m-119.3 164h2.3m83.7 -68h2.3m-174.3 -134h2.3m260.7 140h2.3m-263.3 8h2.3m67.7 -10h2.3m77.7 18h2.3m184.7 -123h2.3m-179.3 208h2.3m-40.3 -90h2.3m36.7 -93h2.3m0.7 -30h2.3m-46.3 60h2.3m-59.3 25h2.3m15.7 48h2.3m170.7 -125h2.3m-152.3 161h2.3m-13.3 -78h2.3m9.7 -30h2.3m30.7 -198h2.3m129.7 251h2.3m-276.3 107h2.3m168.7 7h2.3m-149.3 -91h2.3m164.7 -31h2.3m-123.3 -209h2.3m76.7 20h2.3m18.7 64h2.3m-29.3 170h2.3m25.7 140h2.3m69.7 -193h2.3m-217.3 227h2.3m200.7 -174h2.3m-107.3 104h2.3m-90.3 -53h2.3m183.7 162h2.3m-186.3 -164h2.3m-96.3 -208h2.3m66.7 122h2.3m182.7 10h2.3m-133.3 98h2.3m107.7 -14h2.3m-66.3 -211h2.3m42.7 111h2.3m55.7 170h2.3m-32.3 142h2.3m-54.3 -277h2.3m-172.3 93h2.3m127.7 -135h2.3m-72.3 195h2.3m238.7 -199h2.3m-328.3 16h2.3m213.7 141h2.3m39.7 -66h2.3m-215.3 -142h2.3m95.7 63h2.3m33.7 359h2.3m-117.3 -260h2.3m213.7 -161h2.3m-61.3 61h2.3m-146.3 -40h2.3m-68.3 76h2.3m197.7 -37h2.3m-43.3 108h2.3m154.7 160h2.3m-142.3 -122h2.3m-48.3 -129h2.3m198.7 1h2.3m-146.3 90h2.3m52.7 29h2.3m-190.3 -156h2.3m196.7 15h2.3m-87.3 -74h2.3m-65.3 262h2.3m-136.3 -189h2.3m136.7 136h2.3m-51.3 -162h2.3m-54.3 213h2.3m174.7 -45h2.3m-19.3 -85h2.3m199.7 -241h2.3m-123.3 452h2.3m33.7 -255h2.3m-28.3 214h2.3m34.7 -228h2.3m-89.3 -213h2.3m-268.3 399h2.3m218.7 -269h2.3m-27.3 51h2.3m164.7 -46h2.3m-101.3 26h2.3m124.7 172h2.3m-178.3 -10h2.3m-4.3 -135h2.3m4.7 -35h2.3m88.7 392h2.3m-297.3 -137h2.3m185.7 -293h2.3m-26.3 204h2.3m34.7 -115h2.3m45.7 -51h2.3m-81.3 315h2.3m132.7 -365h2.3m-32.3 166h2.3m-216.3 5h2.3m141.7 -69h2.3m181.7 42h2.3m-300.3 -83h2.3m29.7 63h2.3m38.7 141h2.3m98.7 -198h2.3m-142.3 199h2.3m-10.3 -28h2.3m7.7 -221h2.3m12.7 83h2.3m-52.3 153h2.3m-32.3 -210h2.3m89.7 214h2.3m45.7 -55h2.3m-133.3 118h2.3m69.7 -445h2.3m26.7 81h2.3m-21.3 191h2.3m141.7 -99h2.3m-131.3 -5h2.3m-165.3 -98h2.3m183.7 322h2.3m-79.3 -295h2.3m274.7 284h2.3m-237.3 -229h2.3m28.7 169h2.3m24.7 203h2.3m-48.3 -50h2.3m-3.3 -38h2.3m26.7 -155h2.3m-125.3 -84h2.3m119.7 107h2.3m-141.3 -21h2.3m229.7 -1h2.3m-8.3 89h2.3m116.7 -8h2.3m-134.3 -306h2.3m-41.3 351h2.3m120.7 -235h2.3m-200.3 93h2.3m73.7 -12h2.3m43.7 67h2.3m-130.3 39h2.3m249.7 23h2.3m-212.3 -296h2.3m30.7 104h2.3m-128.3 -28h2.3m69.7 87h2.3m-39.3 -44h2.3m114.7 -41h2.3m239.7 281h2.3m-326.3 -366h2.3m153.7 278h2.3m-199.3 154h2.3m29.7 -233h2.3m-40.3 -101h2.3m-24.3 35h2.3m-210.3 78h2.3m173.7 -24h2.3m183.7 -1h2.3m-81.3 106h2.3m-7.3 -211h2.3m-128.3 120h2.3m99.7 28h2.3m6.7 -70h2.3m135.7 53h2.3m-224.3 -121h2.3m27.7 74h2.3m258.7 47h2.3m-183.3 -31h2.3m62.7 93h2.3m-101.3 -25h2.3m-112.3 -45h2.3m130.7 82h2.3m-76.3 143h2.3m-10.3 -370h2.3m66.7 249h2.3m-6.3 -131h2.3m151.7 60h2.3m-33.3 56h2.3m-12.3 -23h2.3m-58.3 202h2.3m67.7 -168h2.3m-23.3 -167h2.3m-250.3 55h2.3m48.7 219h2.3m-5.3 -154h2.3m95.7 313h2.3m101.7 -329h2.3m72.7 88h2.3m-252.3 -101h2.3m-55.3 -63h2.3m204.7 181h2.3m-7.3 -116h2.3m-176.3 92h2.3m131.7 -288h2.3m-3.3 275h2.3m-145.3 -33h2.3m150.7 -5h2.3m-203.3 -94h2.3m233.7 141h2.3m32.7 -242h2.3m-15.3 -24h2.3m-138.3 5h2.3m-80.3 -67h2.3m28.7 153h2.3m-14.3 -34h2.3m0.7 129h2.3m277.7 -338h2.3m-165.3 358h2.3m22.7 -137h2.3m-271.3 164h2.3m272.7 -300h2.3m172.7 92h2.3m-365.3 142h2.3m141.7 91h2.3m111.7 -199h2.3m-118.3 278h2.3m-5.3 -33h2.3m43.7 -207h2.3m136.7 -135h2.3m-365.3 184h2.3m189.7 -20h2.3m70.7 146h2.3m-245.3 -55h2.3m286.7 -70h2.3m-194.3 -48h2.3m75.7 96h2.3m-48.3 -98h2.3m-56.3 252h2.3m36.7 -28h2.3m-37.3 -134h2.3m140.7 -59h2.3m-102.3 -43h2.3m-6.3 280h2.3m187.7 -174h2.3m-108.3 -123h2.3m-4.3 -109h2.3m7.7 185h2.3m58.7 107h2.3m-18.3 212h2.3m-198.3 -472h2.3m-7.3 6h2.3m98.7 165h2.3m300.7 -11h2.3m-358.3 346h2.3m148.7 -210h2.3m-30.3 -292h2.3m-78.3 259h2.3m205.7 -171h2.3m-288.3 143h2.3m153.7 -103h2.3m-67.3 -80h2.3m32.7 66h2.3m-114.3 80h2.3m132.7 -48h2.3m-126.3 31h2.3m85.7 -50h2.3m51.7 -57h2.3m-181.3 80h2.3m40.7 -219h2.3m89.7 272h2.3m101.7 -258h2.3m-77.3 290h2.3m-132.3 -77h2.3m119.7 -214h2.3m144.7 188h2.3m-331.3 97h2.3m328.7 -250h2.3m-123.3 24h2.3m-219.3 155h2.3m185.7 5h2.3m-64.3 35h2.3m-104.3 191h2.3m128.7 -179h2.3m-95.3 -51h2.3m-154.3 59h2.3m242.7 31h2.3m-2.3 -5h2.3m113.7 -27h2.3m78.7 -230h2.3m-261.3 243h2.3m291.7 53h2.3m-299.3 -193h2.3m-215.3 260h2.3m68.7 -173h2.3m181.7 -21h2.3m-76.3 118h2.3m28.7 -91h2.3m-50.3 130h2.3m250.7 -225h2.3m-305.3 -66h2.3m118.7 198h2.3m-105.3 -21h2.3m123.7 -265h2.3m149.7 111h2.3m-164.3 0h2.3m128.7 43h2.3m-16.3 30h2.3m-77.3 80h2.3m-30.3 -22h2.3m12.7 -122h2.3m14.7 -49h2.3m-91.3 5h2.3m70.7 11h2.3m42.7 98h2.3m-198.3 72h2.3m296.7 64h2.3m-182.3 77h2.3m95.7 -345h2.3m-8.3 174h2.3m-128.3 156h2.3m-16.3 -182h2.3m1.7 -152h2.3m-72.3 79h2.3m123.7 272h2.3m129.7 -97h2.3m34.7 77h2.3m-176.3 -17h2.3m52.7 -6h2.3m-14.3 -132h2.3m83.7 -77h2.3m-51.3 -123h2.3m53.7 139h2.3m114.7 231h2.3m-299.3 -272h2.3m138.7 189h2.3m91.7 -185h2.3m-125.3 85h2.3m-12.3 -77h2.3m232.7 91h2.3m-390.3 -170h2.3m174.7 218h2.3m-67.3 173h2.3m209.7 -200h2.3m-146.3 -80h2.3m-291.3 -62h2.3m376.7 74h2.3m-147.3 187h2.3m142.7 -275h2.3m-119.3 114h2.3m-68.3 84h2.3m26.7 -282h2.3m0.7 216h2.3m5.7 110h2.3m-58.3 -203h2.3m86.7 203h2.3m23.7 -249h2.3m-93.3 398h2.3m116.7 -184h2.3m52.7 -219h2.3m-208.3 263h2.3m-15.3 -53h2.3m99.7 -53h2.3m-103.3 56h2.3m91.7 -102h2.3m-65.3 156h2.3m26.7 -134h2.3m-58.3 -35h2.3m157.7 112h2.3m-122.3 -83h2.3m-73.3 54h2.3m166.7 -14h2.3m-122.3 -120h2.3m107.7 79h2.3m-39.3 347h2.3m28.7 -283h2.3m48.7 -214h2.3m-74.3 308h2.3m75.7 -189h2.3m-26.3 3h2.3m-228.3 37h2.3m258.7 98h2.3m-192.3 38h2.3m13.7 -98h2.3m16.7 -7h2.3m69.7 -94h2.3m-51.3 -221h2.3m66.7 465h2.3m65.7 -276h2.3m-139.3 -18h2.3m39.7 141h2.3m-101.3 213h2.3m195.7 -323h2.3m-152.3 -74h2.3m-24.3 256h2.3m315.7 -46h2.3m-324.3 -196h2.3m-8.3 38h2.3m-130.3 79h2.3m269.7 -189h2.3m-93.3 227h2.3m-71.3 66h2.3m57.7 -205h2.3m-170.3 -91h2.3m205.7 300h2.3m-37.3 -76h2.3m106.7 86h2.3m-79.3 -43h2.3m-30.3 138h2.3m45.7 -214h2.3m57.7 -19h2.3m-67.3 204h2.3m-252.3 -107h2.3m-15.3 -195h2.3m59.7 174h2.3m433.7 62h2.3m-290.3 -48h2.3m-28.3 -99h2.3m-96.3 122h2.3m208.7 -257h2.3m106.7 409h2.3m-17.3 -326h2.3m-328.3 89h2.3m103.7 -60h2.3m74.7 103h2.3m-83.3 45h2.3m117.7 69h2.3m-163.3 -127h2.3m281.7 -37h2.3m-207.3 -82h2.3m-0.3 210h2.3m-180.3 -106h2.3m123.7 -127h2.3m122.7 291h2.3m-433.3 -309h2.3m493.7 120h2.3m-255.3 -93h2.3m150.7 343h2.3m81.7 -224h2.3m-167.3 -16h2.3m-166.3 170h2.3m69.7 -15h2.3m218.7 -149h2.3m-119.3 175h2.3m106.7 -280h2.3m8.7 -11h2.3m-5.3 -16h2.3m-91.3 44h2.3m42.7 65h2.3m-10.3 144h2.3m76.7 -276h2.3m-134.3 38h2.3m82.7 45h2.3m-115.3 -62h2.3m140.7 86h2.3m-208.3 -80h2.3m68.7 356h2.3m41.7 -411h2.3m108.7 315h2.3m-287.3 106h2.3m143.7 -10h2.3m-98.3 -387h2.3m300.7 243h2.3m-72.3 -155h2.3m-137.3 23h2.3m-114.3 195h2.3m169.7 -261h2.3m-73.3 105h2.3m11.7 6h2.3m179.7 86h2.3m-196.3 -147h2.3m214.7 375h2.3m-132.3 -286h2.3m-50.3 131h2.3m-14.3 -22h2.3m191.7 -184h2.3m-129.3 261h2.3m176.7 -191h2.3m-354.3 -96h2.3m19.7 205h2.3m196.7 -127h2.3m-14.3 18h2.3m-95.3 128h2.3m163.7 -56h2.3m-174.3 -107h2.3m-53.3 187h2.3m9.7 -328h2.3m-4.3 49h2.3m63.7 26h2.3m-94.3 279h2.3m143.7 -278h2.3m-67.3 219h2.3m7.7 -203h2.3m38.7 -152h2.3m40.7 232h2.3m-110.3 -193h2.3m20.7 51h2.3m111.7 17h2.3m-70.3 68h2.3m-133.3 -223h2.3m31.7 114h2.3m140.7 64h2.3m-232.3 133h2.3m153.7 -89h2.3m-13.3 146h2.3m-22.3 -92h2.3m20.7 -82h2.3m35.7 69h2.3m-41.3 -194h2.3m-169.3 310h2.3m91.7 -31h2.3m45.7 -135h2.3m-85.3 -108h2.3m125.7 407h2.3m-46.3 -17h2.3m-60.3 -247h2.3m-87.3 -28h2.3m31.7 150h2.3m44.7 -197h2.3m11.7 224h2.3m-121.3 101h2.3m286.7 -176h2.3m-224.3 35h2.3m267.7 72h2.3m-198.3 -74h2.3m124.7 -112h2.3m-65.3 122h2.3m-31.3 -223h2.3m130.7 103h2.3m-127.3 205h2.3m116.7 -153h2.3m-110.3 -55h2.3m-94.3 -86h2.3m45.7 148h2.3m-68.3 76h2.3m254.7 93h2.3m-223.3 -288h2.3m-26.3 121h2.3m-91.3 -118h2.3m159.7 80h2.3m-5.3 -146h2.3m-13.3 211h2.3m-13.3 -27h2.3m1.7 -55h2.3m6.7 129h2.3m5.7 56h2.3m38.7 -125h2.3m128.7 45h2.3m-292.3 -137h2.3m193.7 54h2.3m59.7 72h2.3m-302.3 198h2.3m69.7 -339h2.3m153.7 182h2.3m-265.3 2h2.3m324.7 -47h2.3m-188.3 68h2.3m-43.3 -291h2.3m82.7 319h2.3m-182.3 -145h2.3m254.7 9h2.3m21.7 26h2.3m-82.3 -64h2.3m-41.3 -151h2.3m83.7 66h2.3m98.7 33h2.3m-32.3 157h2.3m-192.3 39h2.3m-106.3 -31h2.3m216.7 -80h2.3m-41.3 171h2.3m-29.3 -199h2.3m74.7 66h2.3m-11.3 -171h2.3m35.7 31h2.3m-61.3 73h2.3m-0.3 -55h2.3m45.7 62h2.3m-20.3 -169h2.3m-14.3 140h2.3m-8.3 44h2.3m-1.3 -32h2.3m-13.3 24h2.3m2.7 -8h2.3m-21.3 39h2.3m-16.3 166h2.3m49.7 -55h2.3m-32.3 -288h2.3m-45.3 50h2.3m25.7 41h2.3m4.7 104h2.3m-63.3 107h2.3m59.7 -156h2.3m-46.3 10h2.3m7.7 25h2.3m50.7 -33h2.3m-16.3 -46h2.3m-6.3 120h2.3m9.7 -67h2.3m68.7 -16h2.3m-104.3 -238h2.3m-48.3 241h2.3m98.7 -118h2.3m-64.3 86h2.3m36.7 115h2.3m-9.3 -161h2.3m21.7 -32h2.3m-67.3 -16h2.3m31.7 70h2.3m7.7 48h2.3m70.7 37h2.3m-141.3 -187h2.3m68.7 59h2.3m58.7 40h2.3m-80.3 57h2.3m1.7 44h2.3m-2.3 -24h2.3m-13.3 -303h2.3m29.7 441h2.3m-45.3 -227h2.3m51.7 4h2.3m-23.3 30h2.3m13.7 10h2.3m40.7 19h2.3m-72.3 -152h2.3m8.7 50h2.3m14.7 155h2.3m58.7 -139h2.3m-79.3 188h2.3m-68.3 -41h2.3m115.7 -59h2.3m-59.3 119h2.3m7.7 -96h2.3m14.7 -109h2.3m30.7 44h2.3m-61.3 -4h2.3m-81.3 -127h2.3m65.7 165h2.3m44.7 274h2.3m-16.3 -284h2.3m-44.3 155h2.3m-1.3 -147h2.3m58.7 -11h2.3m-48.3 30h2.3m-48.3 -27h2.3m53.7 49h2.3m-19.3 -260h2.3m-15.3 301h2.3m-2.3 -171h2.3m38.7 150h2.3m-14.3 6h2.3m17.7 -12h2.3m-16.3 138h2.3m-47.3 41h2.3m40.7 -304h2.3m10.7 180h2.3m-61.3 -87h2.3m60.7 66h2.3m-26.3 -194h2.3m-6.3 334h2.3m-28.3 88h2.3m24.7 -320h2.3m-17.3 24h2.3m20.7 -120h2.3m54.7 228h2.3m-53.3 -256h2.3m-26.3 114h2.3m33.7 7h2.3m-61.3 -8h2.3m25.7 20h2.3m30.7 -75h2.3m-76.3 195h2.3m74.7 -246h2.3m-9.3 72h2.3m-3.3 108h2.3m-66.3 -162h2.3m35.7 -35h2.3m-34.3 52h2.3m28.7 80h2.3m-20.3 -15h2.3m57.7 83h2.3m-26.3 -129h2.3m-35.3 -54h2.3m-7.3 -61h2.3m18.7 146h2.3m-19.3 -24h2.3m-20.3 137h2.3m55.7 50h2.3m-10.3 -140h2.3m14.7 -111h2.3m-72.3 222h2.3m55.7 -68h2.3m23.7 -30h2.3m-36.3 48h2.3m-46.3 -5h2.3m52.7 -45h2.3m-42.3 -77h2.3m-48.3 -3h2.3m106.7 213h2.3m-47.3 -207h2.3m36.7 191h2.3m-21.3 -186h2.3m5.7 170h2.3m-41.3 -180h2.3m-0.3 108h2.3m22.7 30h2.3m-14.3 -106h2.3m7.7 157h2.3m-7.3 -34h2.3m-10.3 -145h2.3m-12.3 57h2.3m-36.3 -1h2.3m25.7 38h2.3m39.7 -6h2.3m-38.3 10h2.3m-22.3 28h2.3m70.7 5h2.3m1.7 -101h2.3m-101.3 102h2.3m120.7 -142h2.3m-22.3 32h2.3m-3.3 -8h2.3m-57.3 107h2.3m-42.3 -35h2.3m41.7 81h2.3m8.7 -80h2.3m-13.3 180h2.3m16.7 -173h2.3m-82.3 134h2.3m63.7 -126h2.3m21.7 -1h2.3m16.7 -23h2.3m-29.3 20h2.3m0.7 12h2.3m-8.3 -5h2.3m-9.3 36h2.3m-29.3 -140h2.3m17.7 87h2.3m35.7 -162h2.3m3.7 97h2.3m-71.3 87h2.3m32.7 64h2.3m-75.3 15h2.3m73.7 31h2.3m-21.3 -292h2.3m-4.3 126h2.3m26.7 115h2.3m-85.3 -251h2.3m63.7 87h2.3m23.7 206h2.3m32.7 -123h2.3m-33.3 55h2.3m-30.3 -105h2.3m24.7 119h2.3m-37.3 -98h2.3m-53.3 49h2.3m54.7 -134h2.3m34.7 106h2.3m-75.3 -31h2.3m-4.3 -51h2.3m-7.3 90h2.3m-12.3 -80h2.3m47.7 45h2.3m0.7 -53h2.3m-26.3 106h2.3m5.7 61h2.3m-5.3 -80h2.3m2.7 92h2.3m-21.3 -25h2.3m60.7 -27h2.3m3.7 -146h2.3m-94.3 28h2.3m34.7 107h2.3m-5.3 -92h2.3m7.7 218h2.3m-14.3 -173h2.3m26.7 163h2.3m-50.3 -332h2.3m33.7 91h2.3m-18.3 -115h2.3m64.7 47h2.3m-37.3 210h2.3m9.7 103h2.3m-41.3 -283h2.3m20.7 217h2.3m-15.3 -121h2.3m36.7 -75h2.3m19.7 -51h2.3m-85.3 142h2.3m-2.3 87h2.3m3.7 -128h2.3m7.7 165h2.3m6.7 -133h2.3m32.7 -67h2.3m-75.3 83h2.3m49.7 -94h2.3m-22.3 134h2.3m-1.3 -8h2.3m1.7 112h2.3m-42.3 28h2.3m-17.3 -134h2.3m75.7 229h2.3m14.7 -440h2.3m-29.3 60h2.3m18.7 273h2.3m-3.3 -189h2.3m-30.3 -109h2.3m1.7 -78h2.3m-20.3 172h2.3m-27.3 92h2.3m39.7 108h2.3m-15.3 -117h2.3m-27.3 88h2.3m11.7 -193h2.3m-25.3 141h2.3m45.7 -113h2.3m-0.3 137h2.3m-8.3 -36h2.3m-11.3 -10h2.3m33.7 -28h2.3m-71.3 29h2.3m100.7 -152h2.3m-91.3 111h2.3m-2.3 -85h2.3m-36.3 -52h2.3m60.7 -168h2.3m11.7 135h2.3m27.7 153h2.3m-52.3 -144h2.3m34.7 125h2.3m-70.3 111h2.3m48.7 77h2.3m-49.3 -177h2.3m4.7 -128h2.3m-1.3 85h2.3m12.7 54h2.3m-2.3 14h2.3m-7.3 -35h2.3m13.7 196h2.3m-14.3 -241h2.3m77.7 114h2.3m-85.3 -31h2.3m-48.3 -43h2.3m31.7 -18h2.3m-10.3 37h2.3m76.7 -51h2.3m-41.3 193h2.3m-6.3 -196h2.3m14.7 164h2.3m-46.3 -181h2.3m-21.3 46h2.3m32.7 -9h2.3m-7.3 91h2.3m18.7 170h2.3m-55.3 -349h2.3m21.7 171h2.3m59.7 48h2.3m-16.3 -212h2.3m-24.3 291h2.3m8.7 -221h2.3m-108.3 62h2.3m96.7 130h2.3m-9.3 -266h2.3m22.7 69h2.3m-18.3 140h2.3m-31.3 28h2.3m-28.3 24h2.3m-0.3 -260h2.3m26.7 104h2.3m13.7 70h2.3m-15.3 -140h2.3m31.7 -96h2.3m-4.3 71h2.3m-27.3 159h2.3m-57.3 -33h2.3m60.7 -35h2.3m17.7 60h2.3m-52.3 -88h2.3m0.7 -102h2.3m48.7 -44h2.3m-2.3 412h2.3m1.7 -154h2.3m-37.3 -106h2.3m-9.3 200h2.3m-10.3 -130h2.3m49.7 22h2.3m-30.3 1h2.3m-16.3 79h2.3m23.7 -79h2.3m-30.3 31h2.3m2.7 -187h2.3m12.7 -114h2.3m3.7 202h2.3m-30.3 -25h2.3m45.7 81h2.3m-61.3 -43h2.3m2.7 164h2.3m-0.3 -184h2.3m12.7 16h2.3m-40.3 92h2.3m32.7 -19h2.3m-68.3 -88h2.3m70.7 70h2.3m-37.3 202h2.3m63.7 -205h2.3m-85.3 -232h2.3m74.7 319h2.3m-92.3 -31h2.3m92.7 -150h2.3m-50.3 21h2.3m-16.3 239h2.3m6.7 -263h2.3m31.7 232h2.3m-10.3 -311h2.3m-5.3 76h2.3m-70.3 80h2.3m52.7 -115h2.3m-43.3 227h2.3m35.7 -188h2.3m-6.3 123h2.3m-10.3 24h2.3m21.7 -86h2.3m-9.3 -109h2.3m33.7 116h2.3m-52.3 -81h2.3m31.7 267h2.3m-7.3 -306h2.3m-35.3 -20h2.3m-5.3 92h2.3m5.7 90h2.3m6.7 -18h2.3m11.7 -114h2.3m10.7 90h2.3m-6.3 -132h2.3m-15.3 154h2.3m-36.3 45h2.3m16.7 -108h2.3m16.7 -157h2.3m-86.3 123h2.3m76.7 140h2.3m13.7 127h2.3m-7.3 -255h2.3m-19.3 -37h2.3m10.7 12h2.3m-42.3 -14h2.3m-19.3 -24h2.3m28.7 70h2.3m-1.3 107h2.3m-17.3 -71h2.3m2.7 12h2.3m34.7 -104h2.3m-45.3 124h2.3m1.7 -22h2.3m19.7 5h2.3m-17.3 -7h2.3m7.7 33h2.3m33.7 17h2.3m-28.3 -51h2.3m15.7 -29h2.3m-28.3 104h2.3m62.7 -136h2.3m-10.3 29h2.3m-48.3 -10h2.3m-16.3 256h2.3m-6.3 -189h2.3m-13.3 48h2.3m3.7 -203h2.3m-3.3 136h2.3m-18.3 -78h2.3m-34.3 314h2.3m55.7 -226h2.3m-17.3 71h2.3m-3.3 63h2.3m18.7 -250h2.3m-3.3 -71h2.3m20.7 510h2.3m57.7 -327h2.3m-75.3 -191h2.3m52.7 185h2.3m-55.3 75h2.3m19.7 -153h2.3m16.7 43h2.3m-16.3 -60h2.3m8.7 59h2.3m-62.3 91h2.3m-5.3 -81h2.3m88.7 18h2.3m-29.3 -91h2.3m-19.3 -11h2.3m-13.3 106h2.3m-9.3 112h2.3m-3.3 -88h2.3m-36.3 -167h2.3m69.7 86h2.3m-26.3 15h2.3m-23.3 157h2.3m9.7 -112h2.3m-33.3 117h2.3m42.7 -189h2.3m-44.3 34h2.3m56.7 -34h2.3m-49.3 80h2.3m0.7 -107h2.3m1.7 29h2.3m23.7 -27h2.3m-62.3 86h2.3m21.7 100h2.3m-14.3 21h2.3m30.7 -82h2.3m-10.3 -81h2.3m59.7 55h2.3m-68.3 166h2.3m-34.3 64h2.3m43.7 -180h2.3m-28.3 -104h2.3m-11.3 134h2.3m33.7 -216h2.3m-42.3 145h2.3m96.7 112h2.3m-87.3 -84h2.3m-7.3 -16h2.3m-5.3 18h2.3m-11.3 -126h2.3m93.7 29h2.3m-87.3 180h2.3m71.7 100h2.3m-41.3 -310h2.3m-24.3 16h2.3m6.7 70h2.3m-24.3 107h2.3m12.7 -35h2.3m-7.3 -143h2.3m-5.3 157h2.3m75.7 -45h2.3m-78.3 -68h2.3m24.7 43h2.3m-8.3 42h2.3m-18.3 -257h2.3m-1.3 178h2.3m-11.3 -130h2.3m-9.3 113h2.3m1.7 6h2.3m-45.3 7h2.3m49.7 -166h2.3m22.7 150h2.3m-20.3 132h2.3m-13.3 -167h2.3m34.7 172h2.3m-30.3 -120h2.3m-29.3 -15h2.3m-8.3 147h2.3m40.7 -194h2.3m-6.3 150h2.3m6.7 -78h2.3m-47.3 -16h2.3m31.7 -70h2.3m3.7 -189h2.3m14.7 376h2.3m14.7 -191h2.3m-18.3 -9h2.3m-56.3 95h2.3m8.7 3h2.3m-19.3 -39h2.3m88.7 -72h2.3m-90.3 160h2.3m45.7 -112h2.3m-40.3 44h2.3m34.7 -93h2.3m-24.3 127h2.3m-45.3 122h2.3m72.7 -380h2.3m-38.3 368h2.3m18.7 46h2.3m-25.3 -140h2.3m-13.3 -14h2.3m39.7 -151h2.3m10.7 183h2.3m-68.3 -66h2.3m52.7 69h2.3m44.7 117h2.3m-67.3 -130h2.3m-21.3 93h2.3m-9.3 29h2.3m37.7 -208h2.3m-25.3 104h2.3m-25.3 -19h2.3m57.7 46h2.3m8.7 -122h2.3m-43.3 217h2.3m-52.3 -278h2.3m74.7 130h2.3m-51.3 -50h2.3m24.7 97h2.3m-70.3 -82h2.3m32.7 -65h2.3m1.7 19h2.3m2.7 196h2.3m-2.3 -142h2.3m34.7 -25h2.3m-26.3 115h2.3m45.7 -225h2.3m-52.3 131h2.3m-0.3 45h2.3m-21.3 -43h2.3m24.7 180h2.3m44.7 -85h2.3m-17.3 143h2.3m-68.3 -394h2.3m11.7 293h2.3m-3.3 -337h2.3m-2.3 212h2.3m27.7 -4h2.3m-44.3 -49h2.3m13.7 7h2.3m28.7 99h2.3m-15.3 1h2.3m-36.3 32h2.3m63.7 -121h2.3m19.7 140h2.3m-52.3 -107h2.3m-20.3 -133h2.3m-16.3 -2h2.3m-3.3 279h2.3m30.7 -225h2.3m18.7 226h2.3m-110.3 -222h2.3m77.7 92h2.3m-26.3 -107h2.3m12.7 219h2.3m23.7 -169h2.3m-22.3 -46h2.3m-3.3 -27h2.3m24.7 240h2.3m-88.3 -101h2.3m72.7 -29h2.3m-67.3 87h2.3m52.7 -41h2.3m3.7 -43h2.3m-59.3 -10h2.3m20.7 -74h2.3m3.7 35h2.3m4.7 -38h2.3m6.7 124h2.3m13.7 160h2.3m-88.3 -194h2.3m40.7 78h2.3m55.7 -123h2.3m-37.3 105h2.3m10.7 -61h2.3m-3.3 -77h2.3m5.7 -29h2.3m-25.3 349h2.3m-8.3 -427h2.3m53.7 308h2.3m-36.3 -38h2.3m23.7 -44h2.3m-59.3 -192h2.3m34.7 153h2.3m-64.3 100h2.3m43.7 115h2.3m-4.3 -112h2.3m-9.3 -166h2.3m20.7 65h2.3m29.7 -139h2.3m-47.3 147h2.3m-74.3 -16h2.3m73.7 -2h2.3m12.7 155h2.3m-55.3 -262h2.3m29.7 51h2.3m-31.3 -58h2.3m66.7 -58h2.3m-20.3 316h2.3m-36.3 -103h2.3m22.7 -110h2.3m-22.3 220h2.3m40.7 28h2.3m-50.3 -93h2.3m0.7 -129h2.3m56.7 21h2.3m-33.3 47h2.3m-1.3 -186h2.3m26.7 168h2.3m-92.3 45h2.3m21.7 -42h2.3m46.7 -100h2.3m-8.3 109h2.3m17.7 -166h2.3m-20.3 24h2.3m-75.3 227h2.3m-32.3 -258h2.3m57.7 367h2.3m-1.3 -247h2.3m-1.3 173h2.3m27.7 9h2.3m-30.3 -98h2.3m19.7 -287h2.3m0.7 111h2.3m-47.3 185h2.3m28.7 -270h2.3m-0.3 110h2.3m47.7 174h2.3m-77.3 173h2.3m7.7 -340h2.3m6.7 231h2.3m30.7 -198h2.3m1.7 -58h2.3m-49.3 -12h2.3m55.7 315h2.3m15.7 -150h2.3m-67.3 121h2.3m6.7 -199h2.3m26.7 157h2.3m-95.3 -196h2.3m26.7 -7h2.3m20.7 157h2.3m-51.3 -254h2.3m25.7 191h2.3m68.7 -79h2.3m-31.3 -72h2.3m-23.3 441h2.3m-32.3 -282h2.3m20.7 60h2.3m11.7 -216h2.3m29.7 65h2.3m-45.3 178h2.3m-43.3 -279h2.3m57.7 217h2.3m-21.3 35h2.3m-3.3 -25h2.3m21.7 -67h2.3m18.7 -82h2.3m4.7 52h2.3m-33.3 80h2.3m25.7 -68h2.3m-7.3 -32h2.3m-93.3 145h2.3m62.7 -193h2.3m-58.3 208h2.3m28.7 -164h2.3m-11.3 129h2.3m30.7 17h2.3m41.7 -169h2.3m-42.3 154h2.3m-48.3 -91h2.3m9.7 74h2.3m73.7 22h2.3m-28.3 10h2.3m-47.3 4h2.3m20.7 -58h2.3m35.7 -73h2.3m-18.3 -125h2.3m-12.3 147h2.3m-24.3 -36h2.3m3.7 82h2.3m-0.3 151h2.3m81.7 -151h2.3m-102.3 -37h2.3m59.7 -40h2.3m-76.3 29h2.3m9.7 -26h2.3m24.7 7h2.3m-63.3 0h2.3m56.7 98h2.3m-28.3 -88h2.3m-15.3 -74h2.3m28.7 -75h2.3m28.7 266h2.3m-36.3 -70h2.3m16.7 3h2.3m-50.3 -4h2.3m67.7 -118h2.3m-86.3 192h2.3m67.7 -145h2.3m-22.3 133h2.3m-7.3 -85h2.3m-18.3 96h2.3m-7.3 -82h2.3m9.7 154h2.3m-46.3 -156h2.3m18.7 -2h2.3m19.7 104h2.3m13.7 -113h2.3m-16.3 -93h2.3m-9.3 116h2.3m10.7 -97h2.3m-8.3 33h2.3m8.7 39h2.3m-11.3 78h2.3m25.7 -141h2.3m17.7 77h2.3m-15.3 -4h2.3m-104.3 53h2.3m81.7 -105h2.3m-26.3 -66h2.3m-13.3 -33h2.3m41.7 221h2.3m-28.3 18h2.3m-1.3 191h2.3m30.7 -258h2.3m50.7 -43h2.3m-123.3 -32h2.3m-37.3 25h2.3m94.7 -92h2.3m-35.3 85h2.3m-50.3 92h2.3m43.7 28h2.3m12.7 -272h2.3m-28.3 210h2.3m13.7 127h2.3m0.7 -83h2.3m-33.3 -133h2.3m94.7 -158h2.3m-63.3 208h2.3m-38.3 4h2.3m12.7 -72h2.3m18.7 244h2.3m-55.3 -144h2.3m35.7 201h2.3m31.7 -319h2.3m-16.3 265h2.3m35.7 -197h2.3m-1.3 -72h2.3m-65.3 217h2.3m7.7 4h2.3m41.7 -104h2.3m-61.3 -54h2.3m28.7 60h2.3m-54.3 200h2.3m48.7 -359h2.3m-18.3 302h2.3m50.7 -68h2.3m-98.3 -27h2.3m68.7 62h2.3m-47.3 -232h2.3m8.7 244h2.3m24.7 -202h2.3m38.7 97h2.3m0.7 21h2.3m-62.3 -5h2.3m-20.3 65h2.3m-7.3 -45h2.3m95.7 -170h2.3m-65.3 201h2.3m1.7 -207h2.3m4.7 104h2.3m-3.3 101h2.3m-8.3 -12h2.3m16.7 22h2.3m-17.3 -52h2.3m-23.3 -37h2.3m-15.3 1h2.3m-9.3 -83h2.3m-53.3 254h2.3m76.7 -218h2.3m12.7 -75h2.3m29.7 112h2.3m-49.3 -22h2.3m0.7 -44h2.3m23.7 192h2.3m-6.3 -69h2.3m-20.3 -31h2.3m-65.3 -8h2.3m76.7 -104h2.3m-24.3 14h2.3m-78.3 120h2.3m9.7 -90h2.3m61.7 -27h2.3m0.7 86h2.3m-302.3 -33h2.3m190.7 -18h2.3m-188.3 -137h2.3m208.7 191h2.3m-163.3 -109h2.3m-218.3 150h2.3m181.7 -19h2.3m285.7 -42h2.3m-195.3 183h2.3m-8.3 -113h2.3m-116.3 -144h2.3m-57.3 264h2.3m342.7 -199h2.3m-164.3 14h2.3m337.7 199h2.3m-335.3 -40h2.3m174.7 -236h2.3m-85.3 227h2.3m-74.3 26h2.3m139.7 -105h2.3m-188.3 125h2.3m60.7 -70h2.3m212.7 -4h2.3m-243.3 -237h2.3m49.7 235h2.3m24.7 27h2.3m11.7 -43h2.3m-69.3 48h2.3m-101.3 -215h2.3m-37.3 149h2.3m-95.3 -82h2.3m185.7 110h2.3m-102.3 -34h2.3m124.7 -83h2.3m0.7 50h2.3m-141.3 -23h2.3m22.7 309h2.3m76.7 -349h2.3m-146.3 86h2.3m212.7 7h2.3m-208.3 -148h2.3m31.7 169h2.3m26.7 -39h2.3m309.7 -246h2.3m-245.3 254h2.3m-151.3 149h2.3m144.7 -93h2.3m98.7 144h2.3m-148.3 -283h2.3m-76.3 -86h2.3m363.7 110h2.3m-423.3 159h2.3m413.7 -230h2.3m-218.3 -59h2.3m-235.3 166h2.3m94.7 -138h2.3m140.7 219h2.3m-29.3 123h2.3m-54.3 -225h2.3m180.7 359h2.3m133.7 -179h2.3m-227.3 -320h2.3m156.7 175h2.3m100.7 20h2.3m-515.3 148h2.3m252.7 -232h2.3m-4.3 77h2.3m14.7 -250h2.3m-35.3 311h2.3m-154.3 119h2.3m127.7 -468h2.3m208.7 234h2.3m-188.3 25h2.3m225.7 33h2.3m-319.3 -96h2.3m150.7 176h2.3m-152.3 48h2.3m-4.3 -110h2.3m144.7 18h2.3m-34.3 -1h2.3m-94.3 -8h2.3m98.7 -205h2.3m-215.3 217h2.3m165.7 -20h2.3m91.7 30h2.3m-157.3 22h2.3m-22.3 167h2.3m207.7 -241h2.3m-205.3 68h2.3m56.7 -175h2.3m78.7 121h2.3m39.7 -39h2.3m124.7 267h2.3m-423.3 -527h2.3m74.7 500h2.3m189.7 -196h2.3m-47.3 -189h2.3m-13.3 28h2.3m2.7 95h2.3m-91.3 -24h2.3m130.7 339h2.3m-279.3 -167h2.3m155.7 112h2.3m179.7 -329h2.3m-126.3 315h2.3m185.7 -283h2.3m-321.3 125h2.3m278.7 90h2.3m-123.3 -57h2.3m21.7 -65h2.3m-174.3 89h2.3m156.7 25h2.3m-56.3 -194h2.3m90.7 191h2.3m122.7 -306h2.3m-271.3 152h2.3m309.7 -287h2.3m-147.3 211h2.3m-239.3 227h2.3m212.7 -561h2.3m-242.3 443h2.3m84.7 155h2.3m-40.3 -193h2.3m-166.3 112h2.3m263.7 26h2.3m-90.3 154h2.3m3.7 -13h2.3m292.7 -372h2.3m-197.3 37h2.3m-241.3 167h2.3m214.7 110h2.3m186.7 -426h2.3m-231.3 293h2.3m136.7 -33h2.3m-198.3 -57h2.3m168.7 -148h2.3m-243.3 0h2.3m78.7 360h2.3m20.7 -86h2.3m215.7 70h2.3m-137.3 -184h2.3m-35.3 -28h2.3m-84.3 109h2.3m193.7 -146h2.3m-219.3 77h2.3m106.7 113h2.3m19.7 -95h2.3m-208.3 -80h2.3m139.7 -24h2.3m90.7 91h2.3m-148.3 57h2.3m226.7 269h2.3m-147.3 -395h2.3m108.7 302h2.3m-170.3 -144h2.3m37.7 34h2.3m-59.3 -183h2.3m49.7 36h2.3m-121.3 -13h2.3m50.7 296h2.3m257.7 -344h2.3m-221.3 133h2.3m-11.3 -126h2.3m142.7 231h2.3m-24.3 41h2.3m-54.3 -211h2.3m-56.3 -47h2.3m-49.3 260h2.3m199.7 -218h2.3m-101.3 -103h2.3m63.7 97h2.3m-96.3 -18h2.3m-161.3 -35h2.3m356.7 -39h2.3m-292.3 81h2.3m-6.3 -105h2.3m-28.3 6h2.3m134.7 -187h2.3m-172.3 132h2.3m168.7 60h2.3m41.7 11h2.3m77.7 -127h2.3m90.7 67h2.3m-262.3 32h2.3m6.7 348h2.3m126.7 -276h2.3m-40.3 310h2.3m16.7 -279h2.3m-33.3 103h2.3m-255.3 -137h2.3m215.7 333h2.3m73.7 -220h2.3m-274.3 -96h2.3m7.7 76h2.3m106.7 97h2.3m63.7 -106h2.3m39.7 125h2.3m-80.3 -201h2.3m56.7 504h2.3m-89.3 -544h2.3m108.7 -100h2.3m21.7 54h2.3m-106.3 121h2.3m-69.3 103h2.3m101.7 72h2.3m65.7 -198h2.3m15.7 148h2.3m-71.3 -56h2.3m113.7 -119h2.3m14.7 121h2.3m-85.3 114h2.3m246.7 -274h2.3m-482.3 278h2.3m116.7 -144h2.3m-130.3 146h2.3m207.7 -370h2.3m81.7 211h2.3m-184.3 -237h2.3m278.7 117h2.3m-142.3 39h2.3m-198.3 226h2.3m192.7 -53h2.3m-133.3 -13h2.3m122.7 118h2.3m-86.3 -142h2.3m98.7 -368h2.3m-58.3 533h2.3m40.7 -161h2.3m12.7 123h2.3m-298.3 -266h2.3m97.7 -104h2.3m217.7 67h2.3m-103.3 213h2.3m124.7 -285h2.3m-320.3 -70h2.3m221.7 140h2.3m3.7 269h2.3m165.7 -282h2.3m-206.3 147h2.3m-265.3 100h2.3m411.7 -285h2.3m-93.3 224h2.3m-57.3 -189h2.3m-150.3 472h2.3m264.7 -305h2.3m-2.3 -165h2.3m-67.3 75h2.3m-384.3 -73h2.3m392.7 255h2.3m-17.3 -115h2.3m-43.3 -225h2.3m-50.3 654h2.3m27.7 -497h2.3m233.7 55h2.3m-279.3 22h2.3m60.7 -185h2.3m-38.3 124h2.3m-216.3 89h2.3m203.7 -118h2.3m-55.3 221h2.3m-290.3 -28h2.3m354.7 -110h2.3m-56.3 -48h2.3m142.7 -78h2.3m110.7 -55h2.3m-145.3 150h2.3m120.7 129h2.3m-395.3 -43h2.3m84.7 -1h2.3m102.7 -185h2.3m-112.3 137h2.3m97.7 -51h2.3m-135.3 91h2.3m48.7 -320h2.3m-110.3 535h2.3m174.7 -390h2.3m-73.3 82h2.3m87.7 24h2.3m103.7 -53h2.3m-42.3 83h2.3m-103.3 89h2.3m108.7 -209h2.3m20.7 59h2.3m-252.3 342h2.3m341.7 -540h2.3m-146.3 290h2.3m-73.3 -154h2.3m76.7 157h2.3m-90.3 70h2.3m-142.3 -470h2.3m287.7 579h2.3m-306.3 -374h2.3m464.7 141h2.3m-136.3 185h2.3m-117.3 -304h2.3m178.7 182h2.3m-342.3 -217h2.3m145.7 -58h2.3m265.7 318h2.3m-169.3 -126h2.3m-47.3 -286h2.3m-164.3 375h2.3m-71.3 -199h2.3m6.7 259h2.3m267.7 -151h2.3m-57.3 -3h2.3m-247.3 -106h2.3m105.7 211h2.3m58.7 67h2.3m-78.3 -39h2.3m99.7 96h2.3m7.7 -80h2.3m-275.3 -41h2.3m242.7 21h2.3m34.7 -271h2.3m206.7 441h2.3m-184.3 -69h2.3m-38.3 73h2.3m-134.3 -118h2.3m166.7 -353h2.3m-93.3 319h2.3m-91.3 -195h2.3m114.7 34h2.3m15.7 55h2.3m14.7 -86h2.3m-25.3 -73h2.3m159.7 99h2.3m-135.3 3h2.3m58.7 -32h2.3m134.7 158h2.3m-213.3 130h2.3m107.7 -187h2.3m-258.3 17h2.3m171.7 -135h2.3m11.7 58h2.3m33.7 21h2.3m-219.3 -268h2.3m18.7 43h2.3m364.7 439h2.3m-95.3 -138h2.3m-84.3 -266h2.3m-117.3 24h2.3m105.7 181h2.3m96.7 -128h2.3m-138.3 282h2.3m-113.3 -115h2.3m202.7 -251h2.3m-144.3 183h2.3m-37.3 -282h2.3m-22.3 1h2.3m233.7 264h2.3m-188.3 -65h2.3m16.7 -1h2.3m-27.3 245h2.3m-3.3 -89h2.3m66.7 55h2.3m-54.3 -63h2.3m-27.3 -289h2.3m-76.3 453h2.3m111.7 -217h2.3m-166.3 -58h2.3m262.7 349h2.3m-73.3 -429h2.3m-273.3 103h2.3m448.7 160h2.3m-333.3 -118h2.3m89.7 192h2.3m187.7 -19h2.3m-398.3 7h2.3m416.7 -234h2.3m-136.3 138h2.3m-267.3 -309h2.3m112.7 149h2.3m125.7 -52h2.3m-162.3 64h2.3m267.7 24h2.3m-26.3 184h2.3m-196.3 -77h2.3m-36.3 -46h2.3m171.7 -34h2.3m-94.3 27h2.3m-48.3 196h2.3m-121.3 -192h2.3m26.7 -87h2.3m134.7 405h2.3m-8.3 -345h2.3m51.7 -46h2.3m-189.3 175h2.3m206.7 -154h2.3m-102.3 213h2.3m-17.3 -303h2.3m-44.3 -270h2.3m207.7 469h2.3m-56.3 -303h2.3m43.7 211h2.3m-105.3 243h2.3m97.7 -429h2.3m-164.3 205h2.3m29.7 -86h2.3m34.7 103h2.3m-73.3 113h2.3m-64.3 -157h2.3m-46.3 28h2.3m254.7 244h2.3m-195.3 -454h2.3m-35.3 157h2.3m226.7 -108h2.3m-117.3 455h2.3m55.7 -174h2.3m24.7 -242h2.3m84.7 382h2.3m-169.3 -261h2.3m-45.3 122h2.3m23.7 114h2.3m40.7 -162h2.3m90.7 -200h2.3m-349.3 185h2.3m147.7 -292h2.3m42.7 352h2.3m-17.3 34h2.3m-6.3 -180h2.3m-190.3 -91h2.3m256.7 120h2.3m-169.3 44h2.3m513.7 114h2.3m-316.3 -318h2.3m-207.3 152h2.3m42.7 134h2.3m11.7 -117h2.3m67.7 14h2.3m-29.3 -75h2.3m58.7 146h2.3m4.7 -234h2.3m-128.3 73h2.3m26.7 12h2.3m82.7 308h2.3m-1.3 -319h2.3m78.7 181h2.3m-43.3 -217h2.3m-12.3 263h2.3m-190.3 -147h2.3m115.7 128h2.3m249.7 -152h2.3m-176.3 188h2.3m164.7 156h2.3m-214.3 -2h2.3m33.7 -220h2.3m-79.3 6h2.3m-10.3 12h2.3m15.7 -79h2.3m-81.3 -192h2.3m136.7 229h2.3m60.7 -55h2.3m-243.3 -40h2.3m370.7 -76h2.3m-158.3 188h2.3m-37.3 -41h2.3m130.7 -19h2.3m167.7 -139h2.3m-230.3 124h2.3m-234.3 207h2.3m243.7 -133h2.3m40.7 -264h2.3m-87.3 327h2.3m-90.3 -219h2.3m140.7 -94h2.3m-191.3 254h2.3m289.7 67h2.3m-165.3 13h2.3m-111.3 -354h2.3m77.7 73h2.3m-71.3 23h2.3m-13.3 -143h2.3m-140.3 275h2.3m178.7 -70h2.3m25.7 115h2.3m-102.3 -339h2.3m112.7 561h2.3m5.7 -175h2.3m12.7 -233h2.3m-36.3 60h2.3m-84.3 292h2.3m22.7 -318h2.3m-115.3 70h2.3m418.7 48h2.3m-4.3 -8h2.3m-333.3 -244h2.3m-5.3 269h2.3m-236.3 -61h2.3m406.7 75h2.3m-368.3 -320h2.3m168.7 -97h2.3m40.7 185h2.3m68.7 126h2.3m-34.3 -8h2.3m30.7 48h2.3m-239.3 54h2.3m248.7 -265h2.3m-117.3 272h2.3m-37.3 -49h2.3m-71.3 -54h2.3m400.7 194h2.3m-66.3 32h2.3m-159.3 -207h2.3m91.7 -32h2.3m-266.3 183h2.3m300.7 -59h2.3m-52.3 -212h2.3m-27.3 131h2.3m-13.3 -77h2.3m-106.3 -128h2.3m70.7 -6h2.3m-238.3 141h2.3m191.7 -41h2.3m156.7 182h2.3m-303.3 -176h2.3m64.7 488h2.3m-14.3 -479h2.3m137.7 162h2.3m-65.3 132h2.3m-163.3 -76h2.3m88.7 110h2.3m268.7 -282h2.3m-149.3 -73h2.3m-144.3 146h2.3m-149.3 183h2.3m103.7 97h2.3m142.7 -425h2.3m-108.3 171h2.3m-167.3 25h2.3m186.7 -210h2.3m-5.3 60h2.3m173.7 165h2.3m-7.3 -334h2.3m88.7 275h2.3m-151.3 -239h2.3m78.7 164h2.3m-40.3 156h2.3m170.7 -81h2.3m-402.3 28h2.3m16.7 -73h2.3m-5.3 174h2.3m404.7 -486h2.3m-382.3 252h2.3m-154.3 -84h2.3m262.7 168h2.3m-230.3 -28h2.3m303.7 108h2.3m-188.3 -243h2.3m16.7 347h2.3m181.7 -400h2.3m-42.3 141h2.3m-152.3 129h2.3m71.7 68h2.3m208.7 -240h2.3m-113.3 297h2.3m-124.3 -287h2.3m15.7 149h2.3m-155.3 6h2.3m124.7 30h2.3m69.7 281h2.3m-13.3 -228h2.3m14.7 10h2.3m27.7 -438h2.3m-291.3 121h2.3m195.7 364h2.3m-21.3 -128h2.3m-4.3 -22h2.3m12.7 -117h2.3m-1.3 -162h2.3m162.7 239h2.3m-218.3 -183h2.3m82.7 149h2.3m10.7 -60h2.3m198.7 102h2.3m-273.3 11h2.3m143.7 69h2.3m-93.3 -137h2.3m-116.3 13h2.3m216.7 -88h2.3m-7.3 267h2.3m-40.3 -127h2.3m75.7 -143h2.3m-175.3 187h2.3m124.7 36h2.3m-332.3 47h2.3m133.7 -136h2.3m13.7 -24h2.3m-20.3 -3h2.3m150.7 131h2.3m-28.3 -188h2.3m-226.3 -139h2.3m100.7 117h2.3m240.7 -85h2.3m-135.3 171h2.3m112.7 -83h2.3m-119.3 92h2.3m40.7 209h2.3m-96.3 -272h2.3m64.7 -196h2.3m2.7 8h2.3m271.7 -108h2.3m-55.3 80h2.3m30.7 22h2.3m-129.3 52h2.3m-49.3 -32h2.3m38.7 98h2.3m50.7 -210h2.3m0.7 128h2.3m-40.3 76h2.3m107.7 -196h2.3m26.7 69h2.3m-196.3 -6h2.3m28.7 88h2.3m-120.3 -65h2.3m46.7 -10h2.3m21.7 55h2.3m129.7 -109h2.3m-62.3 -43h2.3m-11.3 162h2.3m-40.3 115h2.3m75.7 -218h2.3m-14.3 6h2.3m12.7 40h2.3m-52.3 -173h2.3m-91.3 234h2.3m164.7 3h2.3m-53.3 17h2.3m72.7 -33h2.3m19.7 27h2.3m-174.3 -24h2.3m152.7 -49h2.3m-320.3 -8h2.3m241.7 -152h2.3m-189.3 91h2.3m333.7 135h2.3m-216.3 8h2.3m69.7 -167h2.3m-81.3 170h2.3m8.7 105h2.3m-20.3 -197h2.3m24.7 31h2.3m18.7 87h2.3m227.7 -106h2.3m-394.3 -11h2.3m173.7 143h2.3m63.7 -109h2.3m225.7 -83h2.3m-430.3 179h2.3m195.7 -98h2.3m-208.3 24h2.3m165.7 -74h2.3m-24.3 -56h2.3m107.7 20h2.3m-18.3 16h2.3m-216.3 52h2.3m13.7 64h2.3m-10.3 -40h2.3m175.7 53h2.3m17.7 -76h2.3m116.7 6h2.3m-283.3 28h2.3m270.7 -134h2.3m-262.3 217h2.3m61.7 -194h2.3m53.7 132h2.3m-89.3 -133h2.3m-16.3 48h2.3m178.7 -33h2.3m-356.3 96h2.3m168.7 69h2.3m-245.3 -105h2.3m377.7 -2h2.3m-77.3 -33h2.3m151.7 -41h2.3m-186.3 82h2.3m-13.3 57h2.3m-9.3 -41h2.3m73.7 13h2.3m50.7 -83h2.3m74.7 -54h2.3m-372.3 68h2.3m53.7 95h2.3m194.7 28h2.3m39.7 -22h2.3m228.7 -95h2.3m-334.3 30h2.3m132.7 15h2.3m-188.3 -58h2.3m63.7 4h2.3m76.7 109h2.3m-66.3 -3h2.3m22.7 57h2.3m-90.3 -148h2.3m20.7 30h2.3m83.7 -2h2.3m-183.3 12h2.3m174.7 -55h2.3m33.7 181h2.3m-185.3 -148h2.3m18.7 -118h2.3m43.7 21h2.3m-43.3 165h2.3m266.7 9h2.3m-211.3 17h2.3m4.7 -99h2.3m106.7 -7h2.3m-33.3 151h2.3m-117.3 -134h2.3m-156.3 31h2.3m156.7 54h2.3m49.7 -93h2.3m-41.3 66h2.3m-120.3 -30h2.3m109.7 25h2.3m135.7 52h2.3m-306.3 -144h2.3m376.7 173h2.3m-262.3 -197h2.3m71.7 61h2.3m-95.3 -14h2.3m251.7 61h2.3m-7.3 -2h2.3m-213.3 113h2.3m149.7 -105h2.3m15.7 -40h2.3m-233.3 -47h2.3m0.7 20h2.3m82.7 97h2.3m56.7 -112h2.3m-135.3 -103h2.3m272.7 98h2.3m-67.3 -2h2.3m-180.3 52h2.3m130.7 34h2.3m-212.3 -18h2.3m269.7 0h2.3m-214.3 48h2.3m226.7 8h2.3m-105.3 -174h2.3m-44.3 119h2.3m127.7 -36h2.3m-43.3 3h2.3m-92.3 -9h2.3m127.7 85h2.3m-197.3 -110h2.3m-104.3 37h2.3m149.7 28h2.3m-88.3 5h2.3m151.7 -23h2.3m-148.3 2h2.3m9.7 31h2.3m91.7 92h2.3m-36.3 -217h2.3m278.7 98h2.3m-501.3 -17h2.3m137.7 -87h2.3m83.7 272h2.3m-25.3 -197h2.3m122.7 34h2.3m-163.3 -52h2.3m-78.3 134h2.3m129.7 -62h2.3m-93.3 9h2.3m58.7 -56h2.3m215.7 -135h2.3m-192.3 78h2.3m8.7 105h2.3m-128.3 -171h2.3m40.7 271h2.3m269.7 -152h2.3m-372.3 18h2.3m110.7 86h2.3m100.7 48h2.3m-50.3 12h2.3m-8.3 -182h2.3m145.7 108h2.3m-226.3 21h2.3m145.7 -122h2.3m22.7 116h2.3m-133.3 -158h2.3m162.7 95h2.3m-294.3 -123h2.3m152.7 174h2.3m-103.3 22h2.3m67.7 33h2.3m-100.3 -146h2.3m320.7 113h2.3m-298.3 -71h2.3m-79.3 89h2.3m368.7 -152h2.3m-75.3 40h2.3m76.7 -2h2.3m-153.3 -132h2.3m-22.3 160h2.3m154.7 113h2.3m-176.3 -129h2.3m-105.3 -105h2.3m121.7 187h2.3m-17.3 2h2.3m-30.3 -24h2.3m-98.3 -143h2.3m206.7 83h2.3m15.7 -9h2.3m-208.3 42h2.3m51.7 43h2.3m153.7 -214h2.3m-1.3 124h2.3m-139.3 54h2.3m-58.3 -73h2.3m165.7 59h2.3m-38.3 -129h2.3m-120.3 63h2.3m135.7 -25h2.3m-104.3 115h2.3m-55.3 -5h2.3m26.7 22h2.3m-42.3 -48h2.3m122.7 34h2.3m-335.3 33h2.3m593.7 -73h2.3m-310.3 -13h2.3m-64.3 23h2.3m281.7 -19h2.3m-306.3 -187h2.3m-78.3 319h2.3m313.7 -173h2.3m-215.3 18h2.3m38.7 -62h2.3m9.7 34h2.3m85.7 49h2.3m-13.3 88h2.3m-176.3 -36h2.3m196.7 -80h2.3m-263.3 28h2.3m379.7 51h2.3m-307.3 -91h2.3m243.7 -7h2.3m-224.3 -100h2.3m29.7 160h2.3m-42.3 -107h2.3m121.7 120h2.3m-33.3 -44h2.3m96.7 105h2.3m67.7 -120h2.3m-321.3 -62h2.3m98.7 125h2.3m87.7 -86h2.3m-129.3 -9h2.3m0.7 58h2.3m330.7 -220h2.3m25.7 -165h2.3m-11.3 498h2.3m-19.3 -352h2.3m25.7 -179h2.3m-6.3 357h2.3m-4.3 -247h2.3m2.7 38h2.3m0.7 100h2.3m-8.3 -100h2.3m27.7 131h2.3m-17.3 0h2.3m-19.3 31h2.3m6.7 -20h2.3m-2.3 -75h2.3m-2.3 75h2.3m12.7 -111h2.3m-0.3 -191h2.3m-41.3 268h2.3m4.7 52h2.3m-30.3 -216h2.3m6.7 157h2.3m53.7 -129h2.3m-39.3 11h2.3m22.7 184h2.3m-4.3 -157h2.3m-20.3 18h2.3m-7.3 38h2.3m15.7 -157h2.3m16.7 214h2.3m7.7 132h2.3m-34.3 -98h2.3m12.7 -147h2.3m-1.3 103h2.3m-17.3 -66h2.3m-7.3 -33h2.3m-19.3 130h2.3m31.7 -3h2.3m-44.3 -57h2.3m11.7 4h2.3m-3.3 -39h2.3m16.7 27h2.3m-8.3 -17h2.3m-18.3 6h2.3m-14.3 82h2.3m24.7 -51h2.3m17.7 -97h2.3m-0.3 209h2.3m-18.3 -202h2.3m-0.3 54h2.3m-23.3 68h2.3m17.7 -107h2.3m-9.3 490h2.3m-19.3 -342h2.3m11.7 -130h2.3m10.7 -91h2.3m-44.3 165h2.3m35.7 -43h2.3m12.7 2h2.3m-18.3 -129h2.3m22.7 119h2.3m-32.3 105h2.3m-13.3 -12h2.3m11.7 87h2.3m-23.3 -139h2.3m16.7 -60h2.3m-21.3 105h2.3m-12.3 -185h2.3m24.7 139h2.3m-15.3 -55h2.3m-9.3 127h2.3m24.7 124h2.3m-20.3 -116h2.3m3.7 -87h2.3m-21.3 316h2.3m35.7 -231h2.3m-12.3 -199h2.3m-31.3 -20h2.3m33.7 47h2.3m-14.3 111h2.3m-0.3 -74h2.3m-11.3 72h2.3m6.7 -134h2.3m15.7 217h2.3m-6.3 -41h2.3m-23.3 127h2.3m-5.3 -226h2.3m-2.3 148h2.3m15.7 -192h2.3m-10.3 47h2.3m20.7 172h2.3m-29.3 -105h2.3m7.7 85h2.3m6.7 -54h2.3m-10.3 -57h2.3m-19.3 77h2.3m32.7 142h2.3m-29.3 -147h2.3m-6.3 -56h2.3m-7.3 -3h2.3m-1.3 -10h2.3m21.7 -98h2.3m-24.3 34h2.3m18.7 84h2.3m-16.3 -22h2.3m14.7 232h2.3m-21.3 -164h2.3m6.7 -152h2.3m-29.3 39h2.3m12.7 46h2.3m-2.3 -91h2.3m33.7 -136h2.3m-57.3 384h2.3m33.7 -179h2.3m-23.3 253h2.3m15.7 -288h2.3m-1.3 269h2.3m-1.3 -178h2.3m-5.3 43h2.3m-18.3 -60h2.3m21.7 286h2.3m-37.3 -285h2.3m1.7 329h2.3m-2.3 -430h2.3m32.7 215h2.3m-42.3 70h2.3m34.7 -96h2.3m-15.3 -258h2.3m45.7 67h2.3m-55.3 43h2.3m18.7 -14h2.3m-31.3 126h2.3m19.7 -62h2.3m-9.3 70h2.3m-5.3 -136h2.3m-4.3 204h2.3m18.7 -6h2.3m-3.3 -138h2.3m-19.3 29h2.3m-17.3 -146h2.3m-6.3 122h2.3m8.7 28h2.3m23.7 -14h2.3m-28.3 -100h2.3m-18.3 70h2.3m8.7 56h2.3m-8.3 -83h2.3m-15.3 107h2.3m0.7 -188h2.3m27.7 -32h2.3m6.7 353h2.3m-48.3 -213h2.3m53.7 82h2.3m-54.3 -184h2.3m22.7 -89h2.3m-38.3 122h2.3m34.7 14h2.3m14.7 47h2.3m-13.3 108h2.3m3.7 -234h2.3m-24.3 115h2.3m-23.3 -16h2.3m21.7 -64h2.3m9.7 18h2.3m20.7 197h2.3m-24.3 -98h2.3m2.7 -132h2.3m4.7 149h2.3m-5.3 86h2.3m-46.3 -16h2.3m52.7 -81h2.3m-28.3 -74h2.3m18.7 -173h2.3m-43.3 121h2.3m62.7 -212h2.3m-56.3 372h2.3m20.7 33h2.3m-20.3 -365h2.3m-17.3 209h2.3m16.7 45h2.3m2.7 34h2.3m9.7 -198h2.3m-3.3 396h2.3m-5.3 -108h2.3m-63.3 -41h2.3m44.7 -58h2.3m37.7 -36h2.3m12.7 -95h2.3m-44.3 150h2.3m-3.3 105h2.3m-8.3 -68h2.3m-37.3 -205h2.3m18.7 191h2.3m27.7 -170h2.3m-27.3 115h2.3m2.7 -7h2.3m-23.3 -131h2.3m32.7 -5h2.3m15.7 178h2.3m-35.3 23h2.3m-14.3 -147h2.3m14.7 -76h2.3m18.7 188h2.3m-17.3 84h2.3m1.7 -55h2.3m-36.3 6h2.3m29.7 -48h2.3m-22.3 16h2.3m4.7 -157h2.3m-12.3 0h2.3m-14.3 90h2.3m6.7 43h2.3m-3.3 95h2.3m3.7 -59h2.3m-2.3 3h2.3m-14.3 88h2.3m35.7 -35h2.3m-14.3 -89h2.3m-11.3 -169h2.3m12.7 205h2.3m18.7 -36h2.3m-56.3 38h2.3m52.7 99h2.3m-54.3 -168h2.3m33.7 -9h2.3m-13.3 21h2.3m7.7 -38h2.3m15.7 83h2.3m-56.3 34h2.3m10.7 -47h2.3m28.7 -44h2.3m-23.3 39h2.3m0.7 -148h2.3m-15.3 114h2.3m-0.3 -85h2.3m4.7 206h2.3m16.7 -25h2.3m17.7 -109h2.3m-47.3 -31h2.3m-3.3 253h2.3m3.7 16h2.3m7.7 -110h2.3m-17.3 -54h2.3m-0.3 106h2.3m-13.3 -100h2.3m12.7 -25h2.3m-34.3 208h2.3m8.7 -16h2.3m3.7 -157h2.3m15.7 4h2.3m8.7 53h2.3m23.7 -169h2.3m-19.3 226h2.3m-61.3 -211h2.3m4.7 45h2.3m11.7 103h2.3m-8.3 71h2.3m31.7 5h2.3m-55.3 -276h2.3m29.7 70h2.3m20.7 -155h2.3m-6.3 206h2.3m-1.3 -85h2.3m-16.3 67h2.3m18.7 -65h2.3m-55.3 67h2.3m72.7 112h2.3m-23.3 -94h2.3m-9.3 -18h2.3m-34.3 10h2.3m-0.3 62h2.3m-24.3 -137h2.3m51.7 83h2.3m-24.3 205h2.3m15.7 -184h2.3m17.7 -59h2.3m-27.3 -212h2.3m-14.3 273h2.3m-14.3 67h2.3m36.7 -82h2.3m-34.3 -137h2.3m33.7 388h2.3m-21.3 -162h2.3m20.7 -109h2.3m-7.3 -93h2.3m-36.3 295h2.3m-6.3 -100h2.3m-22.3 -253h2.3m50.7 105h2.3m-41.3 -57h2.3m-4.3 127h2.3m14.7 -147h2.3m-33.3 -81h2.3m35.7 111h2.3m3.7 -33h2.3m-5.3 -6h2.3m-22.3 301h2.3m24.7 -173h2.3m-6.3 -81h2.3m-36.3 232h2.3m-5.3 -299h2.3m85.7 -31h2.3m-43.3 -14h2.3m19.7 20h2.3m-36.3 16h2.3m-32.3 -11h2.3m-5.3 -8h2.3m62.7 -22h2.3m-61.3 40h2.3m42.7 -21h2.3m-0.3 14h2.3m-20.3 -20h2.3m10.7 26h2.3m-42.3 5h2.3m37.7 -7h2.3m-72.3 7h2.3m84.7 -3h2.3m-56.3 -11h2.3m26.7 6h2.3m75.7 -27h2.3m-56.3 11h2.3m-31.3 17h2.3m-17.3 -19h2.3m19.7 7h2.3m-10.3 7h2.3m-0.3 -4h2.3m-4.3 7h2.3m24.7 -15h2.3m-47.3 -2h2.3m28.7 18h2.3m-18.3 -15h2.3m-11.3 -2h2.3m-1.3 -3h2.3m14.7 13h2.3m-2.3 -16h2.3m36.7 23h2.3m-52.3 -3h2.3m21.7 -8h2.3m-73.3 -8h2.3m38.7 19h2.3m39.7 -4h2.3m-43.3 2h2.3m-0.3 9h2.3m17.7 -19h2.3m-27.3 2h2.3m8.7 -23h2.3m24.7 33h2.3m-38.3 -1h2.3m-15.3 -14h2.3m6.7 -3h2.3m-12.3 7h2.3m8.7 3h2.3m1.7 1h2.3m-13.3 -11h2.3m-29.3 17h2.3m60.7 0h2.3m-46.3 -19h2.3m26.7 0h2.3m28.7 2h2.3m-5.3 13h2.3m-90.3 -8h2.3m49.7 -13h2.3m-13.3 1h2.3m-12.3 18h2.3m19.7 -4h2.3m-23.3 -1h2.3m-5.3 7h2.3m12.7 -14h2.3m-4.3 5h2.3m49.7 1h2.3m-51.3 -14h2.3m25.7 17h2.3m-36.3 6h2.3m-7.3 0h2.3m-7.3 -19h2.3m17.7 2h2.3m33.7 -5h2.3m-25.3 15h2.3m-20.3 -3h2.3m50.7 -15h2.3m-52.3 10h2.3m29.7 -1h2.3m-28.3 3h2.3m39.7 18h2.3m-24.3 -20h2.3m0.7 12h2.3m-5.3 -8h2.3m-17.3 -5h2.3m18.7 6h2.3m4.7 -1h2.3m-5.3 5h2.3m-40.3 2h2.3m37.7 4h2.3m-35.3 -23h2.3m-3.3 22h2.3m-34.3 -2h2.3m48.7 16h2.3m8.7 -21h2.3m-6.3 11h2.3m8.7 7h2.3m-54.3 -23h2.3m46.7 -8h2.3m-30.3 9h2.3m-17.3 11h2.3m25.7 -12h2.3m6.7 13h2.3m-36.3 7h2.3m1.7 -10h2.3m-22.3 -24h2.3m15.7 8h2.3m23.7 15h2.3m-48.3 -24h2.3m-37.3 25h2.3m79.7 1h2.3m-28.3 10h2.3m-16.3 -4h2.3m56.7 -6h2.3m-40.3 -11h2.3m13.7 15h2.3m-43.3 -7h2.3m-71.3 735h2.3m-52.3 -18h2.3m78.7 5h2.3m-52.3 7h2.3m4.7 12h2.3m-5.3 -23h2.3m11.7 44h2.3m1.7 -41h2.3m104.7 9h2.3m-96.3 6h2.3m17.7 15h2.3m-71.3 16h2.3m61.7 -47h2.3m-59.3 3h2.3m78.7 25h2.3m-40.3 15h2.3m45.7 -18h2.3m-47.3 -6h2.3m-23.3 2h2.3m-8.3 11h2.3m52.7 -34h2.3m-21.3 17h2.3m-36.3 -22h2.3m-79.3 27h2.3m63.7 -9h2.3m11.7 -10h2.3m19.7 49h2.3m26.7 -20h2.3m-47.3 -7h2.3m-9.3 -7h2.3m-14.3 -8h2.3m169.7 29h2.3m-131.3 -9h2.3m-53.3 -6h2.3m-17.3 -3h2.3m-1.3 -8h2.3m33.7 25h2.3m-8.3 -33h2.3m-76.3 14h2.3m117.7 7h2.3m-46.3 -4h2.3m10.7 -17h2.3m-14.3 32h2.3m20.7 -13h2.3m12.7 -27h2.3m20.7 9h2.3m-81.3 40h2.3m36.7 -24h2.3m22.7 -21h2.3m-3.3 73h2.3m-37.3 -47h2.3m-6.3 22h2.3m55.7 -19h2.3m-89.3 1h2.3m33.7 -34h2.3m74.7 19h2.3m-22.3 -27h2.3m-34.3 17h2.3m10.7 28h2.3m-119.3 -45h2.3m44.7 14h2.3m77.7 37h2.3m-30.3 -12h2.3m38.7 6h2.3m-15.3 -19h2.3m3.7 27h2.3m-29.3 11h2.3m-74.3 -71h2.3m55.7 56h2.3m-24.3 -6h2.3m57.7 -16h2.3m-19.3 23h2.3m45.7 16h2.3m-88.3 -29h2.3m-2.3 -19h2.3m-41.3 -10h2.3m83.7 39h2.3m-20.3 -15h2.3m-29.3 34h2.3m66.7 -17h2.3m-40.3 -59h2.3m-7.3 23h2.3m-76.3 29h2.3m-26.3 -47h2.3m96.7 60h2.3m-58.3 -14h2.3m62.7 25h2.3m-91.3 -46h2.3m48.7 39h2.3m11.7 -13h2.3m23.7 12h2.3m-10.3 -43h2.3m-29.3 13h2.3m-27.3 7h2.3m-10.3 -1h2.3m25.7 47h2.3m-28.3 -49h2.3m-7.3 5h2.3m41.7 -20h2.3m15.7 -3h2.3m-63.3 0h2.3m17.7 18h2.3m23.7 -23h2.3m-8.3 50h2.3m45.7 -32h2.3m-105.3 1h2.3m86.7 18h2.3m-96.3 2h2.3m35.7 -3h2.3m29.7 -21h2.3m-13.3 33h2.3m48.7 -32h2.3m-49.3 18h2.3m-27.3 -7h2.3m14.7 10h2.3m49.7 -41h2.3m-17.3 10h2.3m-11.3 25h2.3m-28.3 -9h2.3m-78.3 5h2.3m66.7 18h2.3m-38.3 -40h2.3m75.7 51h2.3m-21.3 -23h2.3m-34.3 6h2.3m-27.3 -7h2.3m22.7 -41h2.3m19.7 -3h2.3m-14.3 68h2.3m16.7 -66h2.3m-95.3 57h2.3m19.7 12h2.3m43.7 -38h2.3m64.7 -11h2.3m-159.3 3h2.3m148.7 -10h2.3m-50.3 -8h2.3m31.7 50h2.3m5.7 -17h2.3m-21.3 27h2.3m-8.3 -35h2.3m-55.3 1h2.3m73.7 3h2.3m-21.3 28h2.3m-76.3 -20h2.3m22.7 -1h2.3m59.7 14h2.3m-15.3 -4h2.3m-94.3 -28h2.3m84.7 30h2.3m-2.3 -6h2.3m38.7 -17h2.3m37.7 31h2.3m-132.3 -2h2.3m31.7 -36h2.3m-17.3 31h2.3m-80.3 -48h2.3m142.7 75h2.3m-101.3 -54h2.3m94.7 24h2.3m8.7 4h2.3m-80.3 19h2.3m8.7 -56h2.3m-15.3 44h2.3m-30.3 -20h2.3m73.7 -6h2.3m-77.3 28h2.3m7.7 -22h2.3m9.7 0h2.3m51.7 27h2.3m-82.3 -28h2.3m16.7 0h2.3m25.7 -2h2.3m-35.3 -11h2.3m9.7 -6h2.3m31.7 -30h2.3m-58.3 65h2.3m63.7 3h2.3m-38.3 -2h2.3m42.7 -57h2.3m-125.3 -47h2.3m22.7 18h2.3m-12.3 -22h2.3m-9.3 22h2.3m-1.3 41h2.3m-15.3 31h2.3m-72.3 -40h2.3m73.7 -31h2.3m-14.3 -18h2.3m65.7 70h2.3m5.7 -35h2.3m-100.3 -17h2.3m109.7 0h2.3m-10.3 21h2.3m-47.3 59h2.3m10.7 -77h2.3m-10.3 -22h2.3m10.7 73h2.3m-49.3 -24h2.3m22.7 26h2.3m-7.3 -64h2.3m-14.3 43h2.3m14.7 -51h2.3m0.7 20h2.3m24.7 -23h2.3m36.7 4h2.3m-62.3 21h2.3m-7.3 -41h2.3m36.7 15h2.3m-91.3 105h2.3m75.7 -72h2.3m-4.3 35h2.3m-41.3 -54h2.3m-32.3 -6h2.3m47.7 5h2.3m21.7 58h2.3m-32.3 -90h2.3m-4.3 22h2.3m58.7 44h2.3m-68.3 -21h2.3m56.7 40h2.3m-69.3 -56h2.3m8.7 66h2.3m34.7 -38h2.3m-35.3 8h2.3m-97.3 -27h2.3m145.7 44h2.3m-81.3 -51h2.3m-20.3 -32h2.3m37.7 95h2.3m-29.3 -72h2.3m43.7 68h2.3m-31.3 -88h2.3m-4.3 80h2.3m41.7 23h2.3m-26.3 -81h2.3m-18.3 19h2.3m32.7 58h2.3m-54.3 -17h2.3m70.7 -15h2.3m-75.3 -11h2.3m5.7 -25h2.3m6.7 35h2.3m42.7 -53h2.3m-6.3 17h2.3m-22.3 -38h2.3m74.7 85h2.3m-125.3 -28h2.3m11.7 25h2.3m23.7 -66h2.3m-44.3 64h2.3m15.7 -70h2.3m22.7 101h2.3m29.7 -60h2.3m7.7 -52h2.3m-154.3 88h2.3m102.7 1h2.3m-19.3 -18h2.3m47.7 6h2.3m-89.3 -12h2.3m88.7 -41h2.3m-42.3 35h2.3m47.7 2h2.3m-60.3 136h2.3m18.7 -157h2.3m59.7 40h2.3m-10.3 -32h2.3m11.7 47h2.3m-112.3 -112h2.3m-4.3 27h2.3m64.7 25h2.3m-24.3 47h2.3m-63.3 30h2.3m69.7 -87h2.3m-19.3 55h2.3m-28.3 56h2.3m71.7 -56h2.3m-7.3 -33h2.3m-52.3 2h2.3m-60.3 27h2.3m77.7 9h2.3m-98.3 -22h2.3m25.7 -30h2.3m14.7 22h2.3m92.7 -12h2.3m51.7 58h2.3m-117.3 -58h2.3m4.7 -92h2.3m-52.3 146h2.3m62.7 -14h2.3m-19.3 1h2.3m-17.3 5h2.3m-46.3 -62h2.3m175.7 27h2.3m-51.3 15h2.3m-88.3 30h2.3m28.7 -45h2.3m5.7 -6h2.3m-0.3 4h2.3m-45.3 7h2.3m93.7 -192h2.3m-0.3 0h2.3m-43.3 -90h2.3m29.7 89h2.3m18.7 43h2.3m-36.3 21h2.3m14.7 -116h2.3m-28.3 25h2.3m21.7 -150h2.3m-24.3 117h2.3m12.7 -61h2.3m2.7 118h2.3m37.7 -53h2.3m-26.3 11h2.3m-42.3 -68h2.3m-3.3 -1h2.3m42.7 -79h2.3m2.7 125h2.3m-34.3 38h2.3m-8.3 -11h2.3m49.7 -56h2.3m-37.3 133h2.3m-9.3 -118h2.3m16.7 -65h2.3m-76.3 116h2.3m62.7 -17h2.3m-14.3 -96h2.3m37.7 90h2.3m-57.3 -34h2.3m50.7 111h2.3m-9.3 -127h2.3m-21.3 122h2.3m-26.3 -132h2.3m21.7 17h2.3m21.7 -23h2.3m-25.3 83h2.3m-5.3 -72h2.3m40.7 -29h2.3m-57.3 179h2.3m11.7 -28h2.3m8.7 31h2.3m15.7 5h2.3m-50.3 -67h2.3m27.7 -28h2.3m-3.3 6h2.3m17.7 -27h2.3m-29.3 30h2.3m-60.3 12h2.3m24.7 -15h2.3m12.7 -43h2.3m16.7 95h2.3m-0.3 -126h2.3m-24.3 130h2.3m10.7 -111h2.3m9.7 96h2.3m-27.3 -29h2.3m17.7 88h2.3m-7.3 -64h2.3m13.7 -71h2.3m18.7 -22h2.3m-291.3 -304h2.3m-181.3 138h2.3m-74.3 -102h2.3m487.7 -118h2.3m-191.3 150h2.3m-285.3 -67h2.3m362.7 21h2.3m9.7 -83h2.3m-270.3 -13h2.3m144.7 228h2.3m44.7 -42h2.3m-116.3 -8h2.3m-157.3 -127h2.3m312.7 121h2.3m-141.3 -178h2.3m-87.3 34h2.3m5.7 168h2.3m-47.3 21h2.3m371.7 -233h2.3m-278.3 123h2.3m-197.3 -19h2.3m483.7 -88h2.3m-173.3 3h2.3m-12.3 217h2.3m-208.3 -249h2.3m-68.3 149h2.3m-38.3 -127h2.3m260.7 234h2.3m-44.3 -147h2.3m117.7 -85h2.3m-34.3 22h2.3m13.7 220h2.3m-307.3 -113h2.3m301.7 -113h2.3m-188.3 237h2.3m398.7 -245h2.3m-163.3 232h2.3m-260.3 -95h2.3m-108.3 -69h2.3m344.7 63h2.3m52.7 -141h2.3m-237.3 218h2.3m127.7 -116h2.3m-102.3 150h2.3m92.7 -271h2.3m121.7 87h2.3m-204.3 -32h2.3m3.7 31h2.3m-197.3 85h2.3m5.7 44h2.3m-45.3 -1h2.3m427.7 -80h2.3m-56.3 -69h2.3m13.7 49h2.3m-281.3 151h2.3m90.7 -166h2.3m250.7 -1h2.3m-108.3 -55h2.3m94.7 24h2.3m-438.3 201h2.3m710.7 62h2.3m-0.3 -174h2.3m51.7 481h2.3m-39.3 -517h2.3m-32.3 131h2.3m-65.3 487h2.3m169.7 -708h2.3m-33.3 435h2.3m-112.3 -249h2.3m64.7 135h2.3m0.7 160h2.3m-129.3 83h2.3m192.7 157h2.3m-87.3 -721h2.3m-142.3 69h2.3m212.7 132h2.3m-134.3 465h2.3m-14.3 -273h2.3m25.7 -377h2.3m31.7 607h2.3m-100.3 -483h2.3m56.7 -146h2.3m16.7 609h2.3m34.7 -222h2.3m43.7 -299h2.3m-69.3 175h2.3m5.7 -204h2.3m37.7 -13h2.3m-142.3 555h2.3m177.7 -292h2.3" stroke="#1a1a1a" stroke-width="2.3" fill="none" opacity="0.8"/></g><g mask="url(#R4M)"><g filter="url(#flb)"><ellipse cx="1700" cy="4680" rx="60" ry="35" fill="url(#gg)" fill-opacity="0.200"/><ellipse cx="1810" cy="4640" rx="60" ry="22" fill="url(#gg)" fill-opacity="0.120"/></g></g><g mask="url(#R4M)"><g filter="url(#fdg)"><ellipse cx="1400" cy="4500" rx="150" ry="150" fill="url(#gg)" fill-opacity="0.030"/></g></g></g><polygon points="1575,4282.8 1661.9,4272.4 1714,4289.8 1745.2,4364.1 1686.2,4520.4 1597.3,4605.1 1520.9,4575.9 1507.7,4489.1 1512.5,4416.2" fill="none" stroke="#1e1e1e" stroke-width="2.2" stroke-linejoin="round"/><polygon points="1693.1,4523.8 1755.6,4523.8 1779.9,4551.6 1779.9,4614.1 1727.9,4659.3 1648,4645.4 1634.1,4631.5 1651.5,4575.9" fill="none" stroke="#1e1e1e" stroke-width="2.2" stroke-linejoin="round"/><polygon points="1738.3,4659.3 1849.4,4634.9 1922.3,4655.8 1911.9,4690.5 1804.2,4725.2 1720.9,4727.3" fill="none" stroke="#1e1e1e" stroke-width="2.2" stroke-linejoin="round"/><text x="1275.4" y="4185.5" font-size="45" textLength="382" lengthAdjust="spacingAndGlyphs" fill="#464646">Granulocytes CD45</text><text x="1718.5" y="4504.5" font-size="45" textLength="334" lengthAdjust="spacingAndGlyphs" fill="#464646">Monocytes CD45</text><text x="1254.6" y="4716.5" font-size="45" textLength="385" lengthAdjust="spacingAndGlyphs" fill="#464646">Lymphocytes CD45</text><path d="M75 888.7H85M75 858.3H85M75 828H85M75 797.7H85M65 767.4H85M75 737H85M75 706.7H85M75 676.4H85M75 646.1H85M65 615.7H85M75 585.4H85M75 555.1H85M75 524.8H85M75 494.4H85M65 464.1H85M75 433.8H85M75 403.4H85M75 373.1H85M75 342.8H85M65 312.5H85M75 282.1H85M75 251.8H85M75 221.5H85M75 191.2H85M65 160.8H85M75 130.5H85M94.4 919V933M120.6 919V933M140.9 919V933M157.5 919V933M171.5 919V933M183.7 919V933M194.4 919V933M204 919V942M267.1 919V933M304.1 919V933M330.3 919V933M350.6 919V933M367.2 919V933M381.2 919V933M393.4 919V933M404.1 919V933M413.7 919V942M476.8 919V933M513.8 919V933M540 919V933M560.3 919V933M576.9 919V933M590.9 919V933M603.1 919V933M613.8 919V933M623.4 919V942M686.5 919V933M723.5 919V933M749.7 919V933M770 919V933M786.6 919V933M800.6 919V933M812.8 919V933M823.5 919V933M833.1 919V942M896.2 919V933" stroke="#555" stroke-width="3" fill="none"/><rect x="85" y="124" width="838" height="795" fill="none" stroke="#555" stroke-width="3.5"/><text x="64" y="767.4" font-size="17" text-anchor="middle" textLength="22" lengthAdjust="spacingAndGlyphs" transform="rotate(-90 64 767.4)" fill="#444">50</text><text x="64" y="615.7" font-size="17" text-anchor="middle" textLength="33" lengthAdjust="spacingAndGlyphs" transform="rotate(-90 64 615.7)" fill="#444">100</text><text x="64" y="464.1" font-size="17" text-anchor="middle" textLength="33" lengthAdjust="spacingAndGlyphs" transform="rotate(-90 64 464.1)" fill="#444">150</text><text x="64" y="312.5" font-size="17" text-anchor="middle" textLength="33" lengthAdjust="spacingAndGlyphs" transform="rotate(-90 64 312.5)" fill="#444">200</text><text x="64" y="160.8" font-size="17" text-anchor="middle" textLength="33" lengthAdjust="spacingAndGlyphs" transform="rotate(-90 64 160.8)" fill="#444">250</text><text x="38" y="169" font-size="19" text-anchor="middle" textLength="88" lengthAdjust="spacingAndGlyphs" transform="rotate(-90 38 169)" fill="#444">(x 1,000)</text><text x="42.5" y="513.5" font-size="29" text-anchor="middle" textLength="88" lengthAdjust="spacingAndGlyphs" transform="rotate(-90 42.5 513.5)" fill="#444">SSC-A</text><text x="208" y="965" font-size="20" text-anchor="end" textLength="19" lengthAdjust="spacingAndGlyphs" fill="#444">10</text><text x="209" y="953" font-size="15" fill="#444">2</text><text x="417.7" y="965" font-size="20" text-anchor="end" textLength="19" lengthAdjust="spacingAndGlyphs" fill="#444">10</text><text x="418.7" y="953" font-size="15" fill="#444">3</text><text x="627.4" y="965" font-size="20" text-anchor="end" textLength="19" lengthAdjust="spacingAndGlyphs" fill="#444">10</text><text x="628.4" y="953" font-size="15" fill="#444">4</text><text x="837.1" y="965" font-size="20" text-anchor="end" textLength="19" lengthAdjust="spacingAndGlyphs" fill="#444">10</text><text x="838.1" y="953" font-size="15" fill="#444">5</text><text x="381.3" y="991" font-size="31" textLength="241.5" lengthAdjust="spacingAndGlyphs" fill="#444">CD45 Red 780/60-A</text><path d="M75 1866.7H85M75 1836.3H85M75 1806H85M75 1775.7H85M65 1745.4H85M75 1715H85M75 1684.7H85M75 1654.4H85M75 1624.1H85M65 1593.7H85M75 1563.4H85M75 1533.1H85M75 1502.8H85M75 1472.4H85M65 1442.1H85M75 1411.8H85M75 1381.4H85M75 1351.1H85M75 1320.8H85M65 1290.5H85M75 1260.1H85M75 1229.8H85M75 1199.5H85M75 1169.2H85M65 1138.8H85M75 1108.5H85M94.4 1897V1911M120.6 1897V1911M140.9 1897V1911M157.5 1897V1911M171.5 1897V1911M183.7 1897V1911M194.4 1897V1911M204 1897V1920M267.1 1897V1911M304.1 1897V1911M330.3 1897V1911M350.6 1897V1911M367.2 1897V1911M381.2 1897V1911M393.4 1897V1911M404.1 1897V1911M413.7 1897V1920M476.8 1897V1911M513.8 1897V1911M540 1897V1911M560.3 1897V1911M576.9 1897V1911M590.9 1897V1911M603.1 1897V1911M613.8 1897V1911M623.4 1897V1920M686.5 1897V1911M723.5 1897V1911M749.7 1897V1911M770 1897V1911M786.6 1897V1911M800.6 1897V1911M812.8 1897V1911M823.5 1897V1911M833.1 1897V1920M896.2 1897V1911" stroke="#555" stroke-width="3" fill="none"/><rect x="85" y="1102" width="838" height="795" fill="none" stroke="#555" stroke-width="3.5"/><text x="64" y="1745.4" font-size="17" text-anchor="middle" textLength="22" lengthAdjust="spacingAndGlyphs" transform="rotate(-90 64 1745.4)" fill="#444">50</text><text x="64" y="1593.7" font-size="17" text-anchor="middle" textLength="33" lengthAdjust="spacingAndGlyphs" transform="rotate(-90 64 1593.7)" fill="#444">100</text><text x="64" y="1442.1" font-size="17" text-anchor="middle" textLength="33" lengthAdjust="spacingAndGlyphs" transform="rotate(-90 64 1442.1)" fill="#444">150</text><text x="64" y="1290.5" font-size="17" text-anchor="middle" textLength="33" lengthAdjust="spacingAndGlyphs" transform="rotate(-90 64 1290.5)" fill="#444">200</text><text x="64" y="1138.8" font-size="17" text-anchor="middle" textLength="33" lengthAdjust="spacingAndGlyphs" transform="rotate(-90 64 1138.8)" fill="#444">250</text><text x="38" y="1147" font-size="19" text-anchor="middle" textLength="88" lengthAdjust="spacingAndGlyphs" transform="rotate(-90 38 1147)" fill="#444">(x 1,000)</text><text x="42.5" y="1491.5" font-size="29" text-anchor="middle" textLength="88" lengthAdjust="spacingAndGlyphs" transform="rotate(-90 42.5 1491.5)" fill="#444">SSC-A</text><text x="208" y="1943" font-size="20" text-anchor="end" textLength="19" lengthAdjust="spacingAndGlyphs" fill="#444">10</text><text x="209" y="1931" font-size="15" fill="#444">2</text><text x="417.7" y="1943" font-size="20" text-anchor="end" textLength="19" lengthAdjust="spacingAndGlyphs" fill="#444">10</text><text x="418.7" y="1931" font-size="15" fill="#444">3</text><text x="627.4" y="1943" font-size="20" text-anchor="end" textLength="19" lengthAdjust="spacingAndGlyphs" fill="#444">10</text><text x="628.4" y="1931" font-size="15" fill="#444">4</text><text x="837.1" y="1943" font-size="20" text-anchor="end" textLength="19" lengthAdjust="spacingAndGlyphs" fill="#444">10</text><text x="838.1" y="1931" font-size="15" fill="#444">5</text><text x="381.3" y="1969" font-size="31" textLength="241.5" lengthAdjust="spacingAndGlyphs" fill="#444">CD45 Red 780/60-A</text><path d="M75 2807.7H85M75 2777.3H85M75 2747H85M75 2716.7H85M65 2686.4H85M75 2656H85M75 2625.7H85M75 2595.4H85M75 2565.1H85M65 2534.7H85M75 2504.4H85M75 2474.1H85M75 2443.8H85M75 2413.4H85M65 2383.1H85M75 2352.8H85M75 2322.4H85M75 2292.1H85M75 2261.8H85M65 2231.5H85M75 2201.1H85M75 2170.8H85M75 2140.5H85M75 2110.2H85M65 2079.8H85M75 2049.5H85M94.4 2838V2852M120.6 2838V2852M140.9 2838V2852M157.5 2838V2852M171.5 2838V2852M183.7 2838V2852M194.4 2838V2852M204 2838V2861M267.1 2838V2852M304.1 2838V2852M330.3 2838V2852M350.6 2838V2852M367.2 2838V2852M381.2 2838V2852M393.4 2838V2852M404.1 2838V2852M413.7 2838V2861M476.8 2838V2852M513.8 2838V2852M540 2838V2852M560.3 2838V2852M576.9 2838V2852M590.9 2838V2852M603.1 2838V2852M613.8 2838V2852M623.4 2838V2861M686.5 2838V2852M723.5 2838V2852M749.7 2838V2852M770 2838V2852M786.6 2838V2852M800.6 2838V2852M812.8 2838V2852M823.5 2838V2852M833.1 2838V2861M896.2 2838V2852" stroke="#555" stroke-width="3" fill="none"/><rect x="85" y="2043" width="838" height="795" fill="none" stroke="#555" stroke-width="3.5"/><text x="64" y="2686.4" font-size="17" text-anchor="middle" textLength="22" lengthAdjust="spacingAndGlyphs" transform="rotate(-90 64 2686.4)" fill="#444">50</text><text x="64" y="2534.7" font-size="17" text-anchor="middle" textLength="33" lengthAdjust="spacingAndGlyphs" transform="rotate(-90 64 2534.7)" fill="#444">100</text><text x="64" y="2383.1" font-size="17" text-anchor="middle" textLength="33" lengthAdjust="spacingAndGlyphs" transform="rotate(-90 64 2383.1)" fill="#444">150</text><text x="64" y="2231.5" font-size="17" text-anchor="middle" textLength="33" lengthAdjust="spacingAndGlyphs" transform="rotate(-90 64 2231.5)" fill="#444">200</text><text x="64" y="2079.8" font-size="17" text-anchor="middle" textLength="33" lengthAdjust="spacingAndGlyphs" transform="rotate(-90 64 2079.8)" fill="#444">250</text><text x="38" y="2088" font-size="19" text-anchor="middle" textLength="88" lengthAdjust="spacingAndGlyphs" transform="rotate(-90 38 2088)" fill="#444">(x 1,000)</text><text x="42.5" y="2432.5" font-size="29" text-anchor="middle" textLength="88" lengthAdjust="spacingAndGlyphs" transform="rotate(-90 42.5 2432.5)" fill="#444">SSC-A</text><text x="208" y="2884" font-size="20" text-anchor="end" textLength="19" lengthAdjust="spacingAndGlyphs" fill="#444">10</text><text x="209" y="2872" font-size="15" fill="#444">2</text><text x="417.7" y="2884" font-size="20" text-anchor="end" textLength="19" lengthAdjust="spacingAndGlyphs" fill="#444">10</text><text x="418.7" y="2872" font-size="15" fill="#444">3</text><text x="627.4" y="2884" font-size="20" text-anchor="end" textLength="19" lengthAdjust="spacingAndGlyphs" fill="#444">10</text><text x="628.4" y="2872" font-size="15" fill="#444">4</text><text x="837.1" y="2884" font-size="20" text-anchor="end" textLength="19" lengthAdjust="spacingAndGlyphs" fill="#444">10</text><text x="838.1" y="2872" font-size="15" fill="#444">5</text><text x="381.3" y="2910" font-size="31" textLength="241.5" lengthAdjust="spacingAndGlyphs" fill="#444">CD45 Red 780/60-A</text><path d="M75 3800.7H85M75 3770.3H85M75 3740H85M75 3709.7H85M65 3679.4H85M75 3649H85M75 3618.7H85M75 3588.4H85M75 3558.1H85M65 3527.7H85M75 3497.4H85M75 3467.1H85M75 3436.8H85M75 3406.4H85M65 3376.1H85M75 3345.8H85M75 3315.4H85M75 3285.1H85M75 3254.8H85M65 3224.5H85M75 3194.1H85M75 3163.8H85M75 3133.5H85M75 3103.2H85M65 3072.8H85M75 3042.5H85M94.4 3831V3845M120.6 3831V3845M140.9 3831V3845M157.5 3831V3845M171.5 3831V3845M183.7 3831V3845M194.4 3831V3845M204 3831V3854M267.1 3831V3845M304.1 3831V3845M330.3 3831V3845M350.6 3831V3845M367.2 3831V3845M381.2 3831V3845M393.4 3831V3845M404.1 3831V3845M413.7 3831V3854M476.8 3831V3845M513.8 3831V3845M540 3831V3845M560.3 3831V3845M576.9 3831V3845M590.9 3831V3845M603.1 3831V3845M613.8 3831V3845M623.4 3831V3854M686.5 3831V3845M723.5 3831V3845M749.7 3831V3845M770 3831V3845M786.6 3831V3845M800.6 3831V3845M812.8 3831V3845M823.5 3831V3845M833.1 3831V3854M896.2 3831V3845" stroke="#555" stroke-width="3" fill="none"/><rect x="85" y="3036" width="838" height="795" fill="none" stroke="#555" stroke-width="3.5"/><text x="64" y="3679.4" font-size="17" text-anchor="middle" textLength="22" lengthAdjust="spacingAndGlyphs" transform="rotate(-90 64 3679.4)" fill="#444">50</text><text x="64" y="3527.7" font-size="17" text-anchor="middle" textLength="33" lengthAdjust="spacingAndGlyphs" transform="rotate(-90 64 3527.7)" fill="#444">100</text><text x="64" y="3376.1" font-size="17" text-anchor="middle" textLength="33" lengthAdjust="spacingAndGlyphs" transform="rotate(-90 64 3376.1)" fill="#444">150</text><text x="64" y="3224.5" font-size="17" text-anchor="middle" textLength="33" lengthAdjust="spacingAndGlyphs" transform="rotate(-90 64 3224.5)" fill="#444">200</text><text x="64" y="3072.8" font-size="17" text-anchor="middle" textLength="33" lengthAdjust="spacingAndGlyphs" transform="rotate(-90 64 3072.8)" fill="#444">250</text><text x="38" y="3081" font-size="19" text-anchor="middle" textLength="88" lengthAdjust="spacingAndGlyphs" transform="rotate(-90 38 3081)" fill="#444">(x 1,000)</text><text x="42.5" y="3425.5" font-size="29" text-anchor="middle" textLength="88" lengthAdjust="spacingAndGlyphs" transform="rotate(-90 42.5 3425.5)" fill="#444">SSC-A</text><text x="208" y="3877" font-size="20" text-anchor="end" textLength="19" lengthAdjust="spacingAndGlyphs" fill="#444">10</text><text x="209" y="3865" font-size="15" fill="#444">2</text><text x="417.7" y="3877" font-size="20" text-anchor="end" textLength="19" lengthAdjust="spacingAndGlyphs" fill="#444">10</text><text x="418.7" y="3865" font-size="15" fill="#444">3</text><text x="627.4" y="3877" font-size="20" text-anchor="end" textLength="19" lengthAdjust="spacingAndGlyphs" fill="#444">10</text><text x="628.4" y="3865" font-size="15" fill="#444">4</text><text x="837.1" y="3877" font-size="20" text-anchor="end" textLength="19" lengthAdjust="spacingAndGlyphs" fill="#444">10</text><text x="838.1" y="3865" font-size="15" fill="#444">5</text><text x="381.3" y="3903" font-size="31" textLength="241.5" lengthAdjust="spacingAndGlyphs" fill="#444">CD45 Red 780/60-A</text><path d="M75 4693.7H85M75 4663.3H85M75 4633H85M75 4602.7H85M65 4572.4H85M75 4542H85M75 4511.7H85M75 4481.4H85M75 4451.1H85M65 4420.7H85M75 4390.4H85M75 4360.1H85M75 4329.8H85M75 4299.4H85M65 4269.1H85M75 4238.8H85M75 4208.4H85M75 4178.1H85M75 4147.8H85M65 4117.5H85M75 4087.1H85M75 4056.8H85M75 4026.5H85M75 3996.2H85M65 3965.8H85M75 3935.5H85M94.4 4724V4738M120.6 4724V4738M140.9 4724V4738M157.5 4724V4738M171.5 4724V4738M183.7 4724V4738M194.4 4724V4738M204 4724V4747M267.1 4724V4738M304.1 4724V4738M330.3 4724V4738M350.6 4724V4738M367.2 4724V4738M381.2 4724V4738M393.4 4724V4738M404.1 4724V4738M413.7 4724V4747M476.8 4724V4738M513.8 4724V4738M540 4724V4738M560.3 4724V4738M576.9 4724V4738M590.9 4724V4738M603.1 4724V4738M613.8 4724V4738M623.4 4724V4747M686.5 4724V4738M723.5 4724V4738M749.7 4724V4738M770 4724V4738M786.6 4724V4738M800.6 4724V4738M812.8 4724V4738M823.5 4724V4738M833.1 4724V4747M896.2 4724V4738" stroke="#555" stroke-width="3" fill="none"/><rect x="85" y="3929" width="838" height="795" fill="none" stroke="#555" stroke-width="3.5"/><text x="64" y="4572.4" font-size="17" text-anchor="middle" textLength="22" lengthAdjust="spacingAndGlyphs" transform="rotate(-90 64 4572.4)" fill="#444">50</text><text x="64" y="4420.7" font-size="17" text-anchor="middle" textLength="33" lengthAdjust="spacingAndGlyphs" transform="rotate(-90 64 4420.7)" fill="#444">100</text><text x="64" y="4269.1" font-size="17" text-anchor="middle" textLength="33" lengthAdjust="spacingAndGlyphs" transform="rotate(-90 64 4269.1)" fill="#444">150</text><text x="64" y="4117.5" font-size="17" text-anchor="middle" textLength="33" lengthAdjust="spacingAndGlyphs" transform="rotate(-90 64 4117.5)" fill="#444">200</text><text x="64" y="3965.8" font-size="17" text-anchor="middle" textLength="33" lengthAdjust="spacingAndGlyphs" transform="rotate(-90 64 3965.8)" fill="#444">250</text><text x="38" y="3974" font-size="19" text-anchor="middle" textLength="88" lengthAdjust="spacingAndGlyphs" transform="rotate(-90 38 3974)" fill="#444">(x 1,000)</text><text x="42.5" y="4318.5" font-size="29" text-anchor="middle" textLength="88" lengthAdjust="spacingAndGlyphs" transform="rotate(-90 42.5 4318.5)" fill="#444">SSC-A</text><text x="208" y="4770" font-size="20" text-anchor="end" textLength="19" lengthAdjust="spacingAndGlyphs" fill="#444">10</text><text x="209" y="4758" font-size="15" fill="#444">2</text><text x="417.7" y="4770" font-size="20" text-anchor="end" textLength="19" lengthAdjust="spacingAndGlyphs" fill="#444">10</text><text x="418.7" y="4758" font-size="15" fill="#444">3</text><text x="627.4" y="4770" font-size="20" text-anchor="end" textLength="19" lengthAdjust="spacingAndGlyphs" fill="#444">10</text><text x="628.4" y="4758" font-size="15" fill="#444">4</text><text x="837.1" y="4770" font-size="20" text-anchor="end" textLength="19" lengthAdjust="spacingAndGlyphs" fill="#444">10</text><text x="838.1" y="4758" font-size="15" fill="#444">5</text><text x="381.3" y="4796" font-size="31" textLength="241.5" lengthAdjust="spacingAndGlyphs" fill="#444">CD45 Red 780/60-A</text><g transform="translate(1202 133.5) scale(1.0000 1.0000)"><path d="M-11 728.1H0M-11 699.2H0M-11 670.4H0M-11 641.5H0M-22 612.6H0M-11 583.7H0M-11 554.9H0M-11 526H0M-11 497.1H0M-22 468.2H0M-11 439.4H0M-11 410.5H0M-11 381.6H0M-11 352.7H0M-22 323.8H0M-11 295H0M-11 266.1H0M-11 237.2H0M-11 208.3H0M-22 179.5H0M-11 150.6H0M-11 121.7H0M-11 92.8H0M-11 63.9H0M-22 35.1H0M-11 6.2H0M8 757V771M27 757V771M48.4 757V771M74.4 757V771M101.6 757V771M223.5 757V771M251.8 757V771M274 757V771M297 757V771M313.4 757V771M330.8 757V771M345 757V771M356 757V771M436.9 757V771M475.2 757V771M505 757V771M526.4 757V771M543.4 757V771M556.2 757V771M569 757V771M579.6 757V771M647.9 757V771M682 757V771M707.5 757V771M726.7 757V771M741.6 757V771M754.4 757V771M767.2 757V771M775.7 757V771M842 757V771M130.5 757V782M192.8 757V782M367 757V782M588 757V782M783 757V782" stroke="#222" stroke-width="2.5" fill="none"/><path d="M161.5 757V779" stroke="#000" stroke-width="5"/><rect x="0" y="0" width="864.5" height="757" fill="none" stroke="#1a1a1a" stroke-width="2.6"/><text x="-22.5" y="612.6" font-size="37" text-anchor="middle" textLength="34" lengthAdjust="spacingAndGlyphs" transform="rotate(-90 -22.5 612.6)" fill="#333">50</text><text x="-22.5" y="468.2" font-size="37" text-anchor="middle" textLength="51" lengthAdjust="spacingAndGlyphs" transform="rotate(-90 -22.5 468.2)" fill="#333">100</text><text x="-22.5" y="323.8" font-size="37" text-anchor="middle" textLength="51" lengthAdjust="spacingAndGlyphs" transform="rotate(-90 -22.5 323.8)" fill="#333">150</text><text x="-22.5" y="179.5" font-size="37" text-anchor="middle" textLength="51" lengthAdjust="spacingAndGlyphs" transform="rotate(-90 -22.5 179.5)" fill="#333">200</text><text x="-22.5" y="35.1" font-size="37" text-anchor="middle" textLength="51" lengthAdjust="spacingAndGlyphs" transform="rotate(-90 -22.5 35.1)" fill="#333">250</text><text x="-86" y="64.5" font-size="29" text-anchor="middle" textLength="122" lengthAdjust="spacingAndGlyphs" transform="rotate(-90 -86 64.5)" fill="#333">(x 1,000)</text><text x="-68" y="377" font-size="37" text-anchor="middle" textLength="95" lengthAdjust="spacingAndGlyphs" transform="rotate(-90 -68 377)" fill="#333">SSC-A</text><text x="-36.5" y="788" font-size="43" textLength="36" lengthAdjust="spacingAndGlyphs" font-weight="bold" fill="#1414f0">M</text><text x="-37" y="837" font-size="34" textLength="66" lengthAdjust="spacingAndGlyphs" fill="#333">-664</text><text x="145.4" y="819" font-size="30" text-anchor="end" textLength="47" lengthAdjust="spacingAndGlyphs" fill="#333">-10</text><text x="146" y="799" font-size="22" textLength="13" lengthAdjust="spacingAndGlyphs" fill="#333">2</text><text x="161.5" y="819" font-size="30" text-anchor="middle" textLength="13" lengthAdjust="spacingAndGlyphs" fill="#333">0</text><text x="201" y="819" font-size="30" text-anchor="end" textLength="31" lengthAdjust="spacingAndGlyphs" fill="#333">10</text><text x="202" y="800" font-size="22" textLength="14" lengthAdjust="spacingAndGlyphs" fill="#333">2</text><text x="376" y="818" font-size="33" text-anchor="end" textLength="36" lengthAdjust="spacingAndGlyphs" fill="#333">10</text><text x="378" y="800" font-size="24" textLength="15" lengthAdjust="spacingAndGlyphs" fill="#333">3</text><text x="597" y="818" font-size="33" text-anchor="end" textLength="36" lengthAdjust="spacingAndGlyphs" fill="#333">10</text><text x="599" y="800" font-size="24" textLength="15" lengthAdjust="spacingAndGlyphs" fill="#333">4</text><text x="792" y="818" font-size="33" text-anchor="end" textLength="36" lengthAdjust="spacingAndGlyphs" fill="#333">10</text><text x="794" y="800" font-size="24" textLength="15" lengthAdjust="spacingAndGlyphs" fill="#333">5</text><text x="205" y="852" font-size="33" textLength="455.6" lengthAdjust="spacingAndGlyphs" fill="#333">CD45 VioBlue Violet 450/40-A</text></g><g transform="translate(1202 1091.4) scale(1.0000 1.0226)"><path d="M-11 728.1H0M-11 699.2H0M-11 670.4H0M-11 641.5H0M-22 612.6H0M-11 583.7H0M-11 554.9H0M-11 526H0M-11 497.1H0M-22 468.2H0M-11 439.4H0M-11 410.5H0M-11 381.6H0M-11 352.7H0M-22 323.8H0M-11 295H0M-11 266.1H0M-11 237.2H0M-11 208.3H0M-22 179.5H0M-11 150.6H0M-11 121.7H0M-11 92.8H0M-11 63.9H0M-22 35.1H0M-11 6.2H0M8 757V771M27 757V771M48.4 757V771M74.4 757V771M101.6 757V771M223.5 757V771M251.8 757V771M274 757V771M297 757V771M313.4 757V771M330.8 757V771M345 757V771M356 757V771M436.9 757V771M475.2 757V771M505 757V771M526.4 757V771M543.4 757V771M556.2 757V771M569 757V771M579.6 757V771M647.9 757V771M682 757V771M707.5 757V771M726.7 757V771M741.6 757V771M754.4 757V771M767.2 757V771M775.7 757V771M842 757V771M130.5 757V782M192.8 757V782M367 757V782M588 757V782M783 757V782" stroke="#222" stroke-width="2.5" fill="none"/><path d="M161.5 757V779" stroke="#000" stroke-width="5"/><rect x="0" y="0" width="864.5" height="757" fill="none" stroke="#1a1a1a" stroke-width="2.6"/><text x="-22.5" y="612.6" font-size="37" text-anchor="middle" textLength="34" lengthAdjust="spacingAndGlyphs" transform="rotate(-90 -22.5 612.6)" fill="#333">50</text><text x="-22.5" y="468.2" font-size="37" text-anchor="middle" textLength="51" lengthAdjust="spacingAndGlyphs" transform="rotate(-90 -22.5 468.2)" fill="#333">100</text><text x="-22.5" y="323.8" font-size="37" text-anchor="middle" textLength="51" lengthAdjust="spacingAndGlyphs" transform="rotate(-90 -22.5 323.8)" fill="#333">150</text><text x="-22.5" y="179.5" font-size="37" text-anchor="middle" textLength="51" lengthAdjust="spacingAndGlyphs" transform="rotate(-90 -22.5 179.5)" fill="#333">200</text><text x="-22.5" y="35.1" font-size="37" text-anchor="middle" textLength="51" lengthAdjust="spacingAndGlyphs" transform="rotate(-90 -22.5 35.1)" fill="#333">250</text><text x="-86" y="64.5" font-size="29" text-anchor="middle" textLength="122" lengthAdjust="spacingAndGlyphs" transform="rotate(-90 -86 64.5)" fill="#333">(x 1,000)</text><text x="-68" y="377" font-size="37" text-anchor="middle" textLength="95" lengthAdjust="spacingAndGlyphs" transform="rotate(-90 -68 377)" fill="#333">SSC-A</text><text x="-36.5" y="788" font-size="43" textLength="36" lengthAdjust="spacingAndGlyphs" font-weight="bold" fill="#1414f0">M</text><text x="-37" y="837" font-size="34" textLength="66" lengthAdjust="spacingAndGlyphs" fill="#333">-664</text><text x="145.4" y="819" font-size="30" text-anchor="end" textLength="47" lengthAdjust="spacingAndGlyphs" fill="#333">-10</text><text x="146" y="799" font-size="22" textLength="13" lengthAdjust="spacingAndGlyphs" fill="#333">2</text><text x="161.5" y="819" font-size="30" text-anchor="middle" textLength="13" lengthAdjust="spacingAndGlyphs" fill="#333">0</text><text x="201" y="819" font-size="30" text-anchor="end" textLength="31" lengthAdjust="spacingAndGlyphs" fill="#333">10</text><text x="202" y="800" font-size="22" textLength="14" lengthAdjust="spacingAndGlyphs" fill="#333">2</text><text x="376" y="818" font-size="33" text-anchor="end" textLength="36" lengthAdjust="spacingAndGlyphs" fill="#333">10</text><text x="378" y="800" font-size="24" textLength="15" lengthAdjust="spacingAndGlyphs" fill="#333">3</text><text x="597" y="818" font-size="33" text-anchor="end" textLength="36" lengthAdjust="spacingAndGlyphs" fill="#333">10</text><text x="599" y="800" font-size="24" textLength="15" lengthAdjust="spacingAndGlyphs" fill="#333">4</text><text x="792" y="818" font-size="33" text-anchor="end" textLength="36" lengthAdjust="spacingAndGlyphs" fill="#333">10</text><text x="794" y="800" font-size="24" textLength="15" lengthAdjust="spacingAndGlyphs" fill="#333">5</text><text x="205" y="852" font-size="33" textLength="455.6" lengthAdjust="spacingAndGlyphs" fill="#333">CD45 VioBlue Violet 450/40-A</text></g><g transform="translate(1202 2052.6) scale(1.0000 1.0009)"><path d="M-11 728.1H0M-11 699.2H0M-11 670.4H0M-11 641.5H0M-22 612.6H0M-11 583.7H0M-11 554.9H0M-11 526H0M-11 497.1H0M-22 468.2H0M-11 439.4H0M-11 410.5H0M-11 381.6H0M-11 352.7H0M-22 323.8H0M-11 295H0M-11 266.1H0M-11 237.2H0M-11 208.3H0M-22 179.5H0M-11 150.6H0M-11 121.7H0M-11 92.8H0M-11 63.9H0M-22 35.1H0M-11 6.2H0M8 757V771M27 757V771M48.4 757V771M74.4 757V771M101.6 757V771M223.5 757V771M251.8 757V771M274 757V771M297 757V771M313.4 757V771M330.8 757V771M345 757V771M356 757V771M436.9 757V771M475.2 757V771M505 757V771M526.4 757V771M543.4 757V771M556.2 757V771M569 757V771M579.6 757V771M647.9 757V771M682 757V771M707.5 757V771M726.7 757V771M741.6 757V771M754.4 757V771M767.2 757V771M775.7 757V771M842 757V771M130.5 757V782M192.8 757V782M367 757V782M588 757V782M783 757V782" stroke="#222" stroke-width="2.5" fill="none"/><path d="M161.5 757V779" stroke="#000" stroke-width="5"/><rect x="0" y="0" width="864.5" height="757" fill="none" stroke="#1a1a1a" stroke-width="2.6"/><text x="-22.5" y="612.6" font-size="37" text-anchor="middle" textLength="34" lengthAdjust="spacingAndGlyphs" transform="rotate(-90 -22.5 612.6)" fill="#333">50</text><text x="-22.5" y="468.2" font-size="37" text-anchor="middle" textLength="51" lengthAdjust="spacingAndGlyphs" transform="rotate(-90 -22.5 468.2)" fill="#333">100</text><text x="-22.5" y="323.8" font-size="37" text-anchor="middle" textLength="51" lengthAdjust="spacingAndGlyphs" transform="rotate(-90 -22.5 323.8)" fill="#333">150</text><text x="-22.5" y="179.5" font-size="37" text-anchor="middle" textLength="51" lengthAdjust="spacingAndGlyphs" transform="rotate(-90 -22.5 179.5)" fill="#333">200</text><text x="-22.5" y="35.1" font-size="37" text-anchor="middle" textLength="51" lengthAdjust="spacingAndGlyphs" transform="rotate(-90 -22.5 35.1)" fill="#333">250</text><text x="-86" y="64.5" font-size="29" text-anchor="middle" textLength="122" lengthAdjust="spacingAndGlyphs" transform="rotate(-90 -86 64.5)" fill="#333">(x 1,000)</text><text x="-68" y="377" font-size="37" text-anchor="middle" textLength="95" lengthAdjust="spacingAndGlyphs" transform="rotate(-90 -68 377)" fill="#333">SSC-A</text><text x="-36.5" y="788" font-size="43" textLength="36" lengthAdjust="spacingAndGlyphs" font-weight="bold" fill="#1414f0">M</text><text x="-37" y="837" font-size="34" textLength="66" lengthAdjust="spacingAndGlyphs" fill="#333">-664</text><text x="145.4" y="819" font-size="30" text-anchor="end" textLength="47" lengthAdjust="spacingAndGlyphs" fill="#333">-10</text><text x="146" y="799" font-size="22" textLength="13" lengthAdjust="spacingAndGlyphs" fill="#333">2</text><text x="161.5" y="819" font-size="30" text-anchor="middle" textLength="13" lengthAdjust="spacingAndGlyphs" fill="#333">0</text><text x="201" y="819" font-size="30" text-anchor="end" textLength="31" lengthAdjust="spacingAndGlyphs" fill="#333">10</text><text x="202" y="800" font-size="22" textLength="14" lengthAdjust="spacingAndGlyphs" fill="#333">2</text><text x="376" y="818" font-size="33" text-anchor="end" textLength="36" lengthAdjust="spacingAndGlyphs" fill="#333">10</text><text x="378" y="800" font-size="24" textLength="15" lengthAdjust="spacingAndGlyphs" fill="#333">3</text><text x="597" y="818" font-size="33" text-anchor="end" textLength="36" lengthAdjust="spacingAndGlyphs" fill="#333">10</text><text x="599" y="800" font-size="24" textLength="15" lengthAdjust="spacingAndGlyphs" fill="#333">4</text><text x="792" y="818" font-size="33" text-anchor="end" textLength="36" lengthAdjust="spacingAndGlyphs" fill="#333">10</text><text x="794" y="800" font-size="24" textLength="15" lengthAdjust="spacingAndGlyphs" fill="#333">5</text><text x="205" y="852" font-size="33" textLength="455.6" lengthAdjust="spacingAndGlyphs" fill="#333">CD45 VioBlue Violet 450/40-A</text></g><g transform="translate(1208 3039.7) scale(0.9936 1.0087)"><path d="M-11 728.1H0M-11 699.2H0M-11 670.4H0M-11 641.5H0M-22 612.6H0M-11 583.7H0M-11 554.9H0M-11 526H0M-11 497.1H0M-22 468.2H0M-11 439.4H0M-11 410.5H0M-11 381.6H0M-11 352.7H0M-22 323.8H0M-11 295H0M-11 266.1H0M-11 237.2H0M-11 208.3H0M-22 179.5H0M-11 150.6H0M-11 121.7H0M-11 92.8H0M-11 63.9H0M-22 35.1H0M-11 6.2H0M8 757V771M27 757V771M48.4 757V771M74.4 757V771M101.6 757V771M223.5 757V771M251.8 757V771M274 757V771M297 757V771M313.4 757V771M330.8 757V771M345 757V771M356 757V771M436.9 757V771M475.2 757V771M505 757V771M526.4 757V771M543.4 757V771M556.2 757V771M569 757V771M579.6 757V771M647.9 757V771M682 757V771M707.5 757V771M726.7 757V771M741.6 757V771M754.4 757V771M767.2 757V771M775.7 757V771M842 757V771M130.5 757V782M192.8 757V782M367 757V782M588 757V782M783 757V782" stroke="#222" stroke-width="2.5" fill="none"/><path d="M161.5 757V779" stroke="#000" stroke-width="5"/><rect x="0" y="0" width="864.5" height="757" fill="none" stroke="#1a1a1a" stroke-width="2.6"/><text x="-22.5" y="612.6" font-size="37" text-anchor="middle" textLength="34" lengthAdjust="spacingAndGlyphs" transform="rotate(-90 -22.5 612.6)" fill="#333">50</text><text x="-22.5" y="468.2" font-size="37" text-anchor="middle" textLength="51" lengthAdjust="spacingAndGlyphs" transform="rotate(-90 -22.5 468.2)" fill="#333">100</text><text x="-22.5" y="323.8" font-size="37" text-anchor="middle" textLength="51" lengthAdjust="spacingAndGlyphs" transform="rotate(-90 -22.5 323.8)" fill="#333">150</text><text x="-22.5" y="179.5" font-size="37" text-anchor="middle" textLength="51" lengthAdjust="spacingAndGlyphs" transform="rotate(-90 -22.5 179.5)" fill="#333">200</text><text x="-22.5" y="35.1" font-size="37" text-anchor="middle" textLength="51" lengthAdjust="spacingAndGlyphs" transform="rotate(-90 -22.5 35.1)" fill="#333">250</text><text x="-86" y="64.5" font-size="29" text-anchor="middle" textLength="122" lengthAdjust="spacingAndGlyphs" transform="rotate(-90 -86 64.5)" fill="#333">(x 1,000)</text><text x="-68" y="377" font-size="37" text-anchor="middle" textLength="95" lengthAdjust="spacingAndGlyphs" transform="rotate(-90 -68 377)" fill="#333">SSC-A</text><text x="-36.5" y="788" font-size="43" textLength="36" lengthAdjust="spacingAndGlyphs" font-weight="bold" fill="#1414f0">M</text><text x="-37" y="837" font-size="34" textLength="66" lengthAdjust="spacingAndGlyphs" fill="#333">-664</text><text x="145.4" y="819" font-size="30" text-anchor="end" textLength="47" lengthAdjust="spacingAndGlyphs" fill="#333">-10</text><text x="146" y="799" font-size="22" textLength="13" lengthAdjust="spacingAndGlyphs" fill="#333">2</text><text x="161.5" y="819" font-size="30" text-anchor="middle" textLength="13" lengthAdjust="spacingAndGlyphs" fill="#333">0</text><text x="201" y="819" font-size="30" text-anchor="end" textLength="31" lengthAdjust="spacingAndGlyphs" fill="#333">10</text><text x="202" y="800" font-size="22" textLength="14" lengthAdjust="spacingAndGlyphs" fill="#333">2</text><text x="376" y="818" font-size="33" text-anchor="end" textLength="36" lengthAdjust="spacingAndGlyphs" fill="#333">10</text><text x="378" y="800" font-size="24" textLength="15" lengthAdjust="spacingAndGlyphs" fill="#333">3</text><text x="597" y="818" font-size="33" text-anchor="end" textLength="36" lengthAdjust="spacingAndGlyphs" fill="#333">10</text><text x="599" y="800" font-size="24" textLength="15" lengthAdjust="spacingAndGlyphs" fill="#333">4</text><text x="792" y="818" font-size="33" text-anchor="end" textLength="36" lengthAdjust="spacingAndGlyphs" fill="#333">10</text><text x="794" y="800" font-size="24" textLength="15" lengthAdjust="spacingAndGlyphs" fill="#333">5</text><text x="205" y="852" font-size="33" textLength="455.6" lengthAdjust="spacingAndGlyphs" fill="#333">CD45 VioBlue Violet 450/40-A</text></g><g transform="translate(1214 3941) scale(0.9867 1.0458)"><path d="M-11 728.1H0M-11 699.2H0M-11 670.4H0M-11 641.5H0M-22 612.6H0M-11 583.7H0M-11 554.9H0M-11 526H0M-11 497.1H0M-22 468.2H0M-11 439.4H0M-11 410.5H0M-11 381.6H0M-11 352.7H0M-22 323.8H0M-11 295H0M-11 266.1H0M-11 237.2H0M-11 208.3H0M-22 179.5H0M-11 150.6H0M-11 121.7H0M-11 92.8H0M-11 63.9H0M-22 35.1H0M-11 6.2H0M8 757V771M27 757V771M48.4 757V771M74.4 757V771M101.6 757V771M223.5 757V771M251.8 757V771M274 757V771M297 757V771M313.4 757V771M330.8 757V771M345 757V771M356 757V771M436.9 757V771M475.2 757V771M505 757V771M526.4 757V771M543.4 757V771M556.2 757V771M569 757V771M579.6 757V771M647.9 757V771M682 757V771M707.5 757V771M726.7 757V771M741.6 757V771M754.4 757V771M767.2 757V771M775.7 757V771M842 757V771M130.5 757V782M192.8 757V782M367 757V782M588 757V782M783 757V782" stroke="#222" stroke-width="2.5" fill="none"/><path d="M161.5 757V779" stroke="#000" stroke-width="5"/><rect x="0" y="0" width="864.5" height="757" fill="none" stroke="#1a1a1a" stroke-width="2.6"/><text x="-22.5" y="612.6" font-size="37" text-anchor="middle" textLength="34" lengthAdjust="spacingAndGlyphs" transform="rotate(-90 -22.5 612.6)" fill="#333">50</text><text x="-22.5" y="468.2" font-size="37" text-anchor="middle" textLength="51" lengthAdjust="spacingAndGlyphs" transform="rotate(-90 -22.5 468.2)" fill="#333">100</text><text x="-22.5" y="323.8" font-size="37" text-anchor="middle" textLength="51" lengthAdjust="spacingAndGlyphs" transform="rotate(-90 -22.5 323.8)" fill="#333">150</text><text x="-22.5" y="179.5" font-size="37" text-anchor="middle" textLength="51" lengthAdjust="spacingAndGlyphs" transform="rotate(-90 -22.5 179.5)" fill="#333">200</text><text x="-22.5" y="35.1" font-size="37" text-anchor="middle" textLength="51" lengthAdjust="spacingAndGlyphs" transform="rotate(-90 -22.5 35.1)" fill="#333">250</text><text x="-86" y="64.5" font-size="29" text-anchor="middle" textLength="122" lengthAdjust="spacingAndGlyphs" transform="rotate(-90 -86 64.5)" fill="#333">(x 1,000)</text><text x="-68" y="377" font-size="37" text-anchor="middle" textLength="95" lengthAdjust="spacingAndGlyphs" transform="rotate(-90 -68 377)" fill="#333">SSC-A</text><text x="-36.5" y="788" font-size="43" textLength="36" lengthAdjust="spacingAndGlyphs" font-weight="bold" fill="#1414f0">M</text><text x="-37" y="837" font-size="34" textLength="66" lengthAdjust="spacingAndGlyphs" fill="#333">-664</text><text x="145.4" y="819" font-size="30" text-anchor="end" textLength="47" lengthAdjust="spacingAndGlyphs" fill="#333">-10</text><text x="146" y="799" font-size="22" textLength="13" lengthAdjust="spacingAndGlyphs" fill="#333">2</text><text x="161.5" y="819" font-size="30" text-anchor="middle" textLength="13" lengthAdjust="spacingAndGlyphs" fill="#333">0</text><text x="201" y="819" font-size="30" text-anchor="end" textLength="31" lengthAdjust="spacingAndGlyphs" fill="#333">10</text><text x="202" y="800" font-size="22" textLength="14" lengthAdjust="spacingAndGlyphs" fill="#333">2</text><text x="376" y="818" font-size="33" text-anchor="end" textLength="36" lengthAdjust="spacingAndGlyphs" fill="#333">10</text><text x="378" y="800" font-size="24" textLength="15" lengthAdjust="spacingAndGlyphs" fill="#333">3</text><text x="597" y="818" font-size="33" text-anchor="end" textLength="36" lengthAdjust="spacingAndGlyphs" fill="#333">10</text><text x="599" y="800" font-size="24" textLength="15" lengthAdjust="spacingAndGlyphs" fill="#333">4</text><text x="792" y="818" font-size="33" text-anchor="end" textLength="36" lengthAdjust="spacingAndGlyphs" fill="#333">10</text><text x="794" y="800" font-size="24" textLength="15" lengthAdjust="spacingAndGlyphs" fill="#333">5</text><text x="205" y="852" font-size="33" textLength="455.6" lengthAdjust="spacingAndGlyphs" fill="#333">CD45 VioBlue Violet 450/40-A</text></g><rect x="1100" y="3879" width="1000" height="40" fill="#fff"/><text x="197.4" y="81.8" font-size="63.2" textLength="587" lengthAdjust="spacingAndGlyphs" fill="#1a1a1a">Fresh Whole Blood</text><text x="1271.6" y="66.5" font-size="68.4" textLength="444.1" lengthAdjust="spacingAndGlyphs" fill="#1a1a1a">Thawed Blood</text><text x="2103.6" y="579.6" font-size="125" textLength="246.3" lengthAdjust="spacingAndGlyphs" fill="#000">SmT</text><text x="2115.6" y="1562" font-size="125" textLength="221.1" lengthAdjust="spacingAndGlyphs" fill="#000">CyD</text><text x="2141.6" y="2479.6" font-size="125" textLength="183.2" lengthAdjust="spacingAndGlyphs" fill="#000">FM</text><text x="2162" y="3446.4" font-size="125" textLength="214.1" lengthAdjust="spacingAndGlyphs" fill="#000">HeS</text><text x="2150.4" y="4421.6" font-size="124" textLength="217.3" lengthAdjust="spacingAndGlyphs" fill="#000">TVT</text></svg></body></html>
